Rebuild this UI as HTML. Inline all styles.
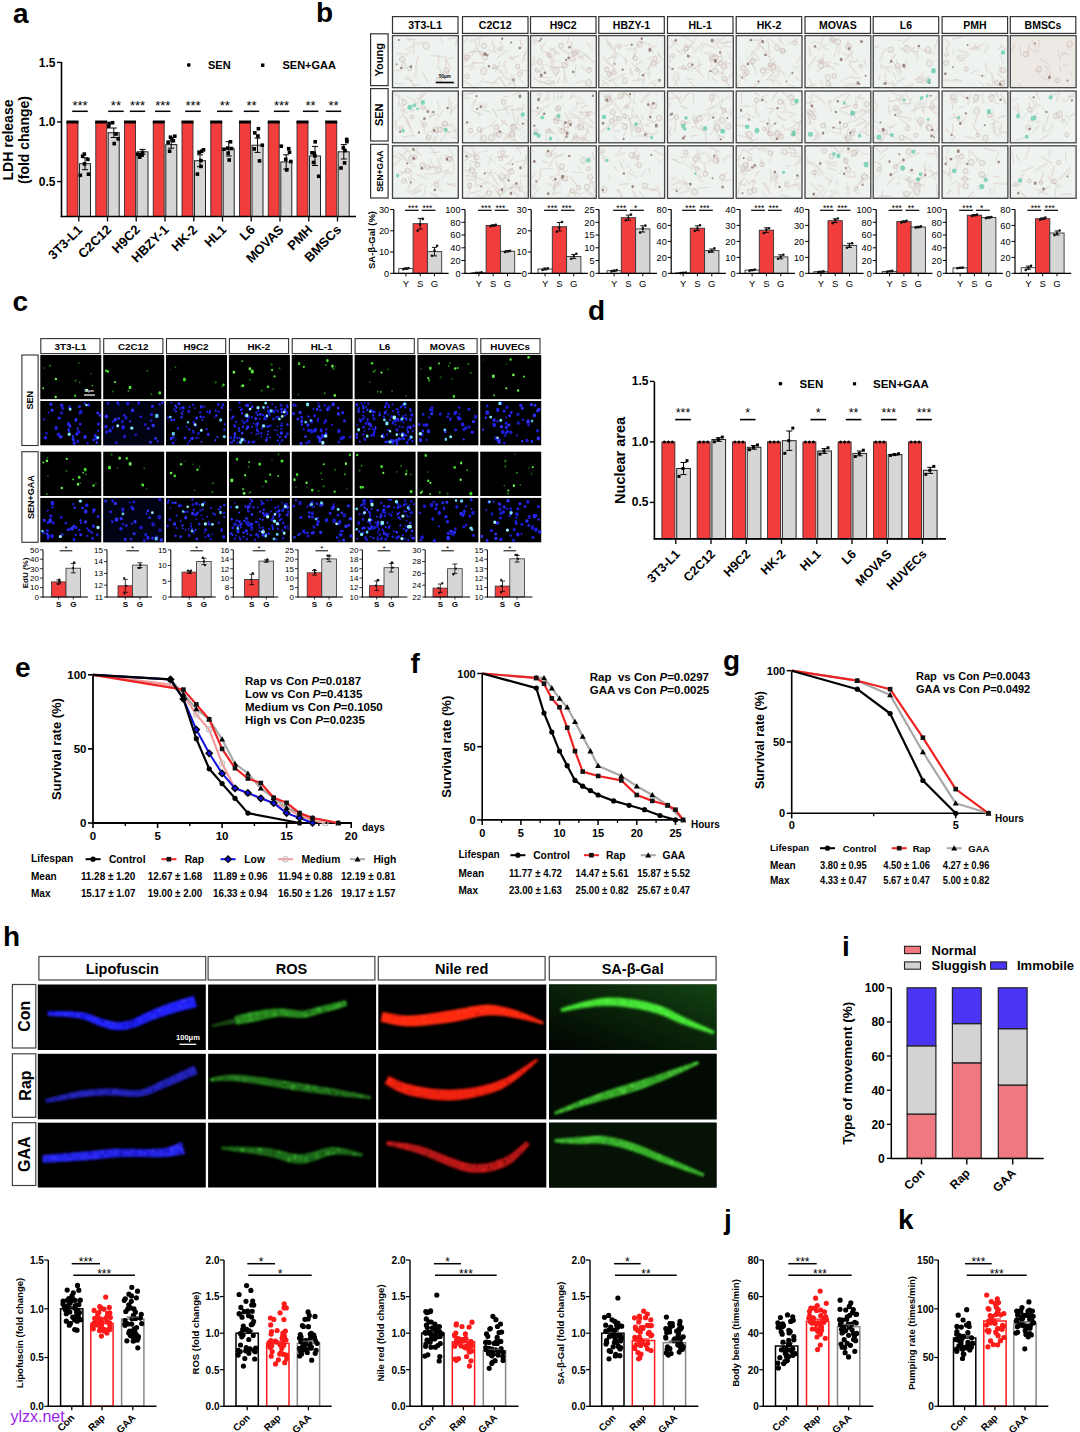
<!DOCTYPE html>
<html><head><meta charset="utf-8"><title>Figure</title>
<style>html,body{margin:0;padding:0;background:#fff;width:1080px;height:1432px;overflow:hidden}
svg{display:block}
text{font-family:"Liberation Sans", sans-serif}</style></head>
<body><svg width="1080" height="1432" viewBox="0 0 1080 1432">
<defs><linearGradient id="sagrad" x1="0" y1="1" x2="1" y2="0"><stop offset="0" stop-color="#010401"/><stop offset="0.55" stop-color="#0A240A"/><stop offset="1" stop-color="#124412"/></linearGradient><filter id="blur1" x="-20%" y="-50%" width="140%" height="200%"><feGaussianBlur stdDeviation="0.9"/></filter><filter id="blur0" x="-20%" y="-50%" width="140%" height="200%"><feGaussianBlur stdDeviation="0.5"/></filter></defs>
<rect x="0" y="0" width="1080" height="1432" fill="#fff"/>
<text x="13" y="23" font-size="28" text-anchor="start" font-weight="bold" fill="#000">a</text>
<rect x="67" y="122" width="11" height="94.5" fill="#F23D3D" stroke="#222" stroke-width="0.8"/>
<rect x="66.5" y="120.5" width="12" height="3" fill="#000"/>
<rect x="79.5" y="163.7" width="11" height="52.8" fill="#D6D6D6" stroke="#222" stroke-width="1"/>
<line x1="85" y1="157.8" x2="85" y2="169.7" stroke="#000" stroke-width="1"/>
<line x1="82" y1="157.8" x2="88" y2="157.8" stroke="#000" stroke-width="1"/>
<line x1="82" y1="169.7" x2="88" y2="169.7" stroke="#000" stroke-width="1"/>
<rect x="86.7" y="172.4" width="3.6" height="3.6" fill="#000"/>
<rect x="80.8" y="154.4" width="3.6" height="3.6" fill="#000"/>
<rect x="82.7" y="162.1" width="3.6" height="3.6" fill="#000"/>
<rect x="86.1" y="157.6" width="3.6" height="3.6" fill="#000"/>
<rect x="78.5" y="173.5" width="3.6" height="3.6" fill="#000"/>
<rect x="82.5" y="152.3" width="3.6" height="3.6" fill="#000"/>
<line x1="78.8" y1="216.5" x2="78.8" y2="221.5" stroke="#000" stroke-width="1.3"/>
<text x="83.2" y="230.5" font-size="13" text-anchor="end" font-weight="bold" fill="#000" transform="rotate(-45 83.2 230.5)">3T3-L1</text>
<line x1="72.2" y1="111.3" x2="87.8" y2="111.3" stroke="#000" stroke-width="1.5"/>
<text x="80" y="110" font-size="13" text-anchor="middle" font-weight="normal" fill="#000">***</text>
<rect x="95.8" y="122" width="11" height="94.5" fill="#F23D3D" stroke="#222" stroke-width="0.8"/>
<rect x="95.2" y="120.5" width="12" height="3" fill="#000"/>
<rect x="108.2" y="132.7" width="11" height="83.8" fill="#D6D6D6" stroke="#222" stroke-width="1"/>
<line x1="113.8" y1="128" x2="113.8" y2="137.5" stroke="#000" stroke-width="1"/>
<line x1="110.8" y1="128" x2="116.8" y2="128" stroke="#000" stroke-width="1"/>
<line x1="110.8" y1="137.5" x2="116.8" y2="137.5" stroke="#000" stroke-width="1"/>
<rect x="107" y="124.9" width="3.6" height="3.6" fill="#000"/>
<rect x="114.2" y="132.2" width="3.6" height="3.6" fill="#000"/>
<rect x="116.4" y="137.1" width="3.6" height="3.6" fill="#000"/>
<rect x="107.3" y="121.7" width="3.6" height="3.6" fill="#000"/>
<rect x="112.4" y="141.8" width="3.6" height="3.6" fill="#000"/>
<rect x="110.8" y="120.9" width="3.6" height="3.6" fill="#000"/>
<line x1="107.5" y1="216.5" x2="107.5" y2="221.5" stroke="#000" stroke-width="1.3"/>
<text x="112" y="230.5" font-size="13" text-anchor="end" font-weight="bold" fill="#000" transform="rotate(-45 112 230.5)">C2C12</text>
<line x1="108.2" y1="111.3" x2="123.7" y2="111.3" stroke="#000" stroke-width="1.5"/>
<text x="115.9" y="110" font-size="13" text-anchor="middle" font-weight="normal" fill="#000">**</text>
<rect x="124.5" y="122" width="11" height="94.5" fill="#F23D3D" stroke="#222" stroke-width="0.8"/>
<rect x="124" y="120.5" width="12" height="3" fill="#000"/>
<rect x="137" y="151.8" width="11" height="64.7" fill="#D6D6D6" stroke="#222" stroke-width="1"/>
<line x1="142.5" y1="149.4" x2="142.5" y2="154.2" stroke="#000" stroke-width="1"/>
<line x1="139.5" y1="149.4" x2="145.5" y2="149.4" stroke="#000" stroke-width="1"/>
<line x1="139.5" y1="154.2" x2="145.5" y2="154.2" stroke="#000" stroke-width="1"/>
<rect x="139.9" y="153.2" width="3.6" height="3.6" fill="#000"/>
<rect x="137.9" y="155.4" width="3.6" height="3.6" fill="#000"/>
<rect x="140.7" y="150.7" width="3.6" height="3.6" fill="#000"/>
<rect x="138" y="153.1" width="3.6" height="3.6" fill="#000"/>
<rect x="140.3" y="153.2" width="3.6" height="3.6" fill="#000"/>
<rect x="135.9" y="152.4" width="3.6" height="3.6" fill="#000"/>
<line x1="136.2" y1="216.5" x2="136.2" y2="221.5" stroke="#000" stroke-width="1.3"/>
<text x="140.8" y="230.5" font-size="13" text-anchor="end" font-weight="bold" fill="#000" transform="rotate(-45 140.8 230.5)">H9C2</text>
<line x1="129.8" y1="111.3" x2="145.2" y2="111.3" stroke="#000" stroke-width="1.5"/>
<text x="137.5" y="110" font-size="13" text-anchor="middle" font-weight="normal" fill="#000">***</text>
<rect x="153.2" y="122" width="11" height="94.5" fill="#F23D3D" stroke="#222" stroke-width="0.8"/>
<rect x="152.8" y="120.5" width="12" height="3" fill="#000"/>
<rect x="165.8" y="144.6" width="11" height="71.9" fill="#D6D6D6" stroke="#222" stroke-width="1"/>
<line x1="171.2" y1="141.1" x2="171.2" y2="148.2" stroke="#000" stroke-width="1"/>
<line x1="168.2" y1="141.1" x2="174.2" y2="141.1" stroke="#000" stroke-width="1"/>
<line x1="168.2" y1="148.2" x2="174.2" y2="148.2" stroke="#000" stroke-width="1"/>
<rect x="170" y="137.1" width="3.6" height="3.6" fill="#000"/>
<rect x="166.3" y="140.4" width="3.6" height="3.6" fill="#000"/>
<rect x="173" y="134.4" width="3.6" height="3.6" fill="#000"/>
<rect x="167.8" y="149.4" width="3.6" height="3.6" fill="#000"/>
<rect x="171.6" y="139" width="3.6" height="3.6" fill="#000"/>
<rect x="168.7" y="135.4" width="3.6" height="3.6" fill="#000"/>
<line x1="165" y1="216.5" x2="165" y2="221.5" stroke="#000" stroke-width="1.3"/>
<text x="169.5" y="230.5" font-size="13" text-anchor="end" font-weight="bold" fill="#000" transform="rotate(-45 169.5 230.5)">HBZY-1</text>
<line x1="155" y1="111.3" x2="170.5" y2="111.3" stroke="#000" stroke-width="1.5"/>
<text x="162.8" y="110" font-size="13" text-anchor="middle" font-weight="normal" fill="#000">***</text>
<rect x="182" y="122" width="11" height="94.5" fill="#F23D3D" stroke="#222" stroke-width="0.8"/>
<rect x="181.5" y="120.5" width="12" height="3" fill="#000"/>
<rect x="194.5" y="160.7" width="11" height="55.8" fill="#D6D6D6" stroke="#222" stroke-width="1"/>
<line x1="200" y1="154.8" x2="200" y2="166.7" stroke="#000" stroke-width="1"/>
<line x1="197" y1="154.8" x2="203" y2="154.8" stroke="#000" stroke-width="1"/>
<line x1="197" y1="166.7" x2="203" y2="166.7" stroke="#000" stroke-width="1"/>
<rect x="199.9" y="149.5" width="3.6" height="3.6" fill="#000"/>
<rect x="199.1" y="164.6" width="3.6" height="3.6" fill="#000"/>
<rect x="201.7" y="148" width="3.6" height="3.6" fill="#000"/>
<rect x="199.1" y="158.8" width="3.6" height="3.6" fill="#000"/>
<rect x="195.6" y="172.3" width="3.6" height="3.6" fill="#000"/>
<rect x="197.3" y="150.4" width="3.6" height="3.6" fill="#000"/>
<line x1="193.8" y1="216.5" x2="193.8" y2="221.5" stroke="#000" stroke-width="1.3"/>
<text x="198.2" y="230.5" font-size="13" text-anchor="end" font-weight="bold" fill="#000" transform="rotate(-45 198.2 230.5)">HK-2</text>
<line x1="185.2" y1="111.3" x2="200.8" y2="111.3" stroke="#000" stroke-width="1.5"/>
<text x="193" y="110" font-size="13" text-anchor="middle" font-weight="normal" fill="#000">***</text>
<rect x="210.8" y="122" width="11" height="94.5" fill="#F23D3D" stroke="#222" stroke-width="0.8"/>
<rect x="210.2" y="120.5" width="12" height="3" fill="#000"/>
<rect x="223.2" y="148.8" width="11" height="67.7" fill="#D6D6D6" stroke="#222" stroke-width="1"/>
<line x1="228.8" y1="141.7" x2="228.8" y2="156" stroke="#000" stroke-width="1"/>
<line x1="225.8" y1="141.7" x2="231.8" y2="141.7" stroke="#000" stroke-width="1"/>
<line x1="225.8" y1="156" x2="231.8" y2="156" stroke="#000" stroke-width="1"/>
<rect x="227.4" y="158.2" width="3.6" height="3.6" fill="#000"/>
<rect x="228.7" y="140" width="3.6" height="3.6" fill="#000"/>
<rect x="226.3" y="151.3" width="3.6" height="3.6" fill="#000"/>
<rect x="229.7" y="146.7" width="3.6" height="3.6" fill="#000"/>
<rect x="225.9" y="146.3" width="3.6" height="3.6" fill="#000"/>
<rect x="222.2" y="147.4" width="3.6" height="3.6" fill="#000"/>
<line x1="222.5" y1="216.5" x2="222.5" y2="221.5" stroke="#000" stroke-width="1.3"/>
<text x="227" y="230.5" font-size="13" text-anchor="end" font-weight="bold" fill="#000" transform="rotate(-45 227 230.5)">HL1</text>
<line x1="217" y1="111.3" x2="232.5" y2="111.3" stroke="#000" stroke-width="1.5"/>
<text x="224.8" y="110" font-size="13" text-anchor="middle" font-weight="normal" fill="#000">**</text>
<rect x="239.5" y="122" width="11" height="94.5" fill="#F23D3D" stroke="#222" stroke-width="0.8"/>
<rect x="239" y="120.5" width="12" height="3" fill="#000"/>
<rect x="252" y="145.2" width="11" height="71.3" fill="#D6D6D6" stroke="#222" stroke-width="1"/>
<line x1="257.5" y1="138.1" x2="257.5" y2="152.4" stroke="#000" stroke-width="1"/>
<line x1="254.5" y1="138.1" x2="260.5" y2="138.1" stroke="#000" stroke-width="1"/>
<line x1="254.5" y1="152.4" x2="260.5" y2="152.4" stroke="#000" stroke-width="1"/>
<rect x="257.7" y="159.1" width="3.6" height="3.6" fill="#000"/>
<rect x="256.6" y="126.9" width="3.6" height="3.6" fill="#000"/>
<rect x="252.4" y="147.1" width="3.6" height="3.6" fill="#000"/>
<rect x="260.5" y="143.4" width="3.6" height="3.6" fill="#000"/>
<rect x="256.1" y="134.2" width="3.6" height="3.6" fill="#000"/>
<rect x="253" y="131.1" width="3.6" height="3.6" fill="#000"/>
<line x1="251.2" y1="216.5" x2="251.2" y2="221.5" stroke="#000" stroke-width="1.3"/>
<text x="255.8" y="230.5" font-size="13" text-anchor="end" font-weight="bold" fill="#000" transform="rotate(-45 255.8 230.5)">L6</text>
<line x1="243.8" y1="111.3" x2="259.2" y2="111.3" stroke="#000" stroke-width="1.5"/>
<text x="251.5" y="110" font-size="13" text-anchor="middle" font-weight="normal" fill="#000">**</text>
<rect x="268.2" y="122" width="11" height="94.5" fill="#F23D3D" stroke="#222" stroke-width="0.8"/>
<rect x="267.8" y="120.5" width="12" height="3" fill="#000"/>
<rect x="280.8" y="161.9" width="11" height="54.6" fill="#D6D6D6" stroke="#222" stroke-width="1"/>
<line x1="286.2" y1="154.8" x2="286.2" y2="169.1" stroke="#000" stroke-width="1"/>
<line x1="283.2" y1="154.8" x2="289.2" y2="154.8" stroke="#000" stroke-width="1"/>
<line x1="283.2" y1="169.1" x2="289.2" y2="169.1" stroke="#000" stroke-width="1"/>
<rect x="289" y="159.7" width="3.6" height="3.6" fill="#000"/>
<rect x="284" y="157.5" width="3.6" height="3.6" fill="#000"/>
<rect x="284.9" y="168.1" width="3.6" height="3.6" fill="#000"/>
<rect x="279.5" y="144.4" width="3.6" height="3.6" fill="#000"/>
<rect x="287.7" y="150.4" width="3.6" height="3.6" fill="#000"/>
<rect x="286.9" y="146.9" width="3.6" height="3.6" fill="#000"/>
<line x1="280" y1="216.5" x2="280" y2="221.5" stroke="#000" stroke-width="1.3"/>
<text x="284.5" y="230.5" font-size="13" text-anchor="end" font-weight="bold" fill="#000" transform="rotate(-45 284.5 230.5)">MOVAS</text>
<line x1="273.9" y1="111.3" x2="289.4" y2="111.3" stroke="#000" stroke-width="1.5"/>
<text x="281.6" y="110" font-size="13" text-anchor="middle" font-weight="normal" fill="#000">***</text>
<rect x="297" y="122" width="11" height="94.5" fill="#F23D3D" stroke="#222" stroke-width="0.8"/>
<rect x="296.5" y="120.5" width="12" height="3" fill="#000"/>
<rect x="309.5" y="156" width="11" height="60.5" fill="#D6D6D6" stroke="#222" stroke-width="1"/>
<line x1="315" y1="146.4" x2="315" y2="165.5" stroke="#000" stroke-width="1"/>
<line x1="312" y1="146.4" x2="318" y2="146.4" stroke="#000" stroke-width="1"/>
<line x1="312" y1="165.5" x2="318" y2="165.5" stroke="#000" stroke-width="1"/>
<rect x="313.4" y="140" width="3.6" height="3.6" fill="#000"/>
<rect x="312.5" y="151.4" width="3.6" height="3.6" fill="#000"/>
<rect x="316.9" y="174.5" width="3.6" height="3.6" fill="#000"/>
<rect x="310.2" y="151" width="3.6" height="3.6" fill="#000"/>
<rect x="313" y="154" width="3.6" height="3.6" fill="#000"/>
<rect x="311.7" y="160.7" width="3.6" height="3.6" fill="#000"/>
<line x1="308.8" y1="216.5" x2="308.8" y2="221.5" stroke="#000" stroke-width="1.3"/>
<text x="313.2" y="230.5" font-size="13" text-anchor="end" font-weight="bold" fill="#000" transform="rotate(-45 313.2 230.5)">PMH</text>
<line x1="302.9" y1="111.3" x2="318.4" y2="111.3" stroke="#000" stroke-width="1.5"/>
<text x="310.6" y="110" font-size="13" text-anchor="middle" font-weight="normal" fill="#000">**</text>
<rect x="325.8" y="122" width="11" height="94.5" fill="#F23D3D" stroke="#222" stroke-width="0.8"/>
<rect x="325.2" y="120.5" width="12" height="3" fill="#000"/>
<rect x="338.2" y="151.8" width="11" height="64.7" fill="#D6D6D6" stroke="#222" stroke-width="1"/>
<line x1="343.8" y1="144.6" x2="343.8" y2="159" stroke="#000" stroke-width="1"/>
<line x1="340.8" y1="144.6" x2="346.8" y2="144.6" stroke="#000" stroke-width="1"/>
<line x1="340.8" y1="159" x2="346.8" y2="159" stroke="#000" stroke-width="1"/>
<rect x="343.2" y="148.7" width="3.6" height="3.6" fill="#000"/>
<rect x="341.5" y="146.1" width="3.6" height="3.6" fill="#000"/>
<rect x="339.2" y="166.2" width="3.6" height="3.6" fill="#000"/>
<rect x="342.8" y="161.1" width="3.6" height="3.6" fill="#000"/>
<rect x="344.9" y="137.6" width="3.6" height="3.6" fill="#000"/>
<rect x="345.1" y="139.8" width="3.6" height="3.6" fill="#000"/>
<line x1="337.5" y1="216.5" x2="337.5" y2="221.5" stroke="#000" stroke-width="1.3"/>
<text x="342" y="230.5" font-size="13" text-anchor="end" font-weight="bold" fill="#000" transform="rotate(-45 342 230.5)">BMSCs</text>
<line x1="325.8" y1="111.3" x2="341.2" y2="111.3" stroke="#000" stroke-width="1.5"/>
<text x="333.5" y="110" font-size="13" text-anchor="middle" font-weight="normal" fill="#000">**</text>
<line x1="61.5" y1="62" x2="61.5" y2="217.2" stroke="#000" stroke-width="1.6"/>
<line x1="60.7" y1="216.5" x2="356" y2="216.5" stroke="#000" stroke-width="1.6"/>
<line x1="57" y1="62.4" x2="61.5" y2="62.4" stroke="#000" stroke-width="1.4"/>
<text x="55.5" y="66.6" font-size="12" text-anchor="end" font-weight="bold" fill="#000">1.5</text>
<line x1="57" y1="122" x2="61.5" y2="122" stroke="#000" stroke-width="1.4"/>
<text x="55.5" y="126.2" font-size="12" text-anchor="end" font-weight="bold" fill="#000">1.0</text>
<line x1="57" y1="181.6" x2="61.5" y2="181.6" stroke="#000" stroke-width="1.4"/>
<text x="55.5" y="185.8" font-size="12" text-anchor="end" font-weight="bold" fill="#000">0.5</text>
<text x="12.5" y="140" font-size="14" text-anchor="middle" font-weight="bold" fill="#000" transform="rotate(-90 12.5 140)">LDH release</text>
<text x="28.5" y="140" font-size="14" text-anchor="middle" font-weight="bold" fill="#000" transform="rotate(-90 28.5 140)">(fold change)</text>
<circle cx="188.8" cy="65" r="1.9" fill="#000"/>
<text x="208" y="69" font-size="11" text-anchor="start" font-weight="bold" fill="#000">SEN</text>
<rect x="261" y="63.5" width="3.4" height="3.4" fill="#000"/>
<text x="282.5" y="69" font-size="11" text-anchor="start" font-weight="bold" fill="#000">SEN+GAA</text>
<text x="316" y="22" font-size="28" text-anchor="start" font-weight="bold" fill="#000">b</text>
<rect x="392.5" y="16.6" width="65.5" height="16.8" fill="#fff" stroke="#333" stroke-width="1.2"/>
<text x="425.2" y="29.4" font-size="10.5" text-anchor="middle" font-weight="bold" fill="#000">3T3-L1</text>
<rect x="392.5" y="35.6" width="65.8" height="52.1" fill="#EEF3F0"/>
<g filter="url(#blur0)">
<path d="M451.2 82.8L455.9 83.6M453.2 57L448 59M448 73.5L450 77.1M440.1 37.5L442.8 43.2M394.4 83.1L404.9 83.9M430.8 55.3L443.6 57" stroke="#BFB0AA" stroke-width="0.6" opacity="0.6" stroke-linecap="round" fill="none"/>
<path d="M407 39L415.2 39.7M417.9 55.9L415.5 68.7M419.1 84.5L413.7 85.1M439.1 55.6L438.3 64M422.8 72.2L428.1 83M446 59.9L445.7 69.4M404.4 78.3L412.6 81.1" stroke="#D0B4AE" stroke-width="1.3" opacity="0.4" stroke-linecap="round" fill="none"/>
<path d="M437.3 65.9L442.7 73.7M401.6 70.4L394 70.4M445.2 56.4L450.1 67.8M407.7 37.1L410.5 41M448.9 71.4L438.5 74.5M416.9 68.5L415.4 76.5M409.8 51L406.6 55.4M407.5 76.2L414.6 86.2M414 41.4L413.5 53.8M456.6 40.5L455.6 44.9M413.3 46.3L406 49.2M422.8 42.7L412.4 44.8M456.8 37.1L449.8 38.7M397.5 53.4L405.5 54.2" stroke="#D8C0BA" stroke-width="2.2" opacity="0.3" stroke-linecap="round" fill="none"/>
<path d="M436.6 79.4a2.7 2.7 0 1 0 5.4 0a2.7 2.7 0 1 0 -5.4 0M444 70.7a2.4 2.4 0 1 0 4.7 0a2.4 2.4 0 1 0 -4.7 0M407.4 68.7a2.2 2.2 0 1 0 4.4 0a2.2 2.2 0 1 0 -4.4 0M399.5 59.3a2.8 2.8 0 1 0 5.7 0a2.8 2.8 0 1 0 -5.7 0M401.6 65.4a2.3 2.3 0 1 0 4.5 0a2.3 2.3 0 1 0 -4.5 0M423.3 45.9a3 3 0 1 0 5.9 0a3 3 0 1 0 -5.9 0" stroke="#B08C84" stroke-width="0.7" opacity="0.5" fill="#D8C2BC" fill-opacity="0.4"/>
<path d="M409.8 66.5a1.2 1.2 0 1 0 2.3 0a1.2 1.2 0 1 0 -2.3 0M395.6 64.3a1 1 0 1 0 2 0a1 1 0 1 0 -2 0M397.9 40.1a1 1 0 1 0 2 0a1 1 0 1 0 -2 0M400 67.9a1.2 1.2 0 1 0 2.4 0a1.2 1.2 0 1 0 -2.4 0" fill="#7E5A52" opacity="0.7"/>
</g>
<rect x="392.5" y="35.6" width="65.8" height="52.1" fill="none" stroke="#444" stroke-width="1.3"/>
<rect x="392.5" y="91" width="65.8" height="51.8" fill="#EEF3F0"/>
<g filter="url(#blur0)">
<path d="M437.3 101L439.4 109.5M400.1 109.3L407.6 113.5M406.8 96.1L411.9 99.4M432.5 133.4L428.4 140.6M412.9 132.4L414.2 137.2M438.4 113.5L429.4 116.8M438 131.4L435 141.3M399.7 95.8L398.1 107M446.9 131.8L440.8 141.3M402.4 115.2L398.5 120.2M422.2 101.1L420.5 109.1" stroke="#BFB0AA" stroke-width="0.6" opacity="0.6" stroke-linecap="round" fill="none"/>
<path d="M456.8 137.6L452.2 137.7M395.4 120.6L396.6 129.4M412.9 135.7L402.4 136.9M427.7 133.9L425.5 140.2M442.4 124.9L450.5 125.3M414.4 110.4L409.8 111.3M405 116.5L407.7 124.2M416.7 97.9L421.1 99.7M425.6 92.5L421.6 97.7M456.8 130.2L447.9 132.7M413.2 99.1L416.5 103.4M443.1 110.9L436 119.7M449.1 97.5L448.9 105.8M408.8 123.2L411.5 132.7M451.5 101.9L450.6 114M424.7 107.4L434.7 115.4" stroke="#D0B4AE" stroke-width="1.3" opacity="0.4" stroke-linecap="round" fill="none"/>
<path d="M394.9 93.2L403.2 100.5M422.5 92.5L419.1 99.7M435.3 137.1L432.9 140.6M403 105L403.5 116.8M420.2 96.2L417.6 104.7M398.7 103.8L406.2 110.5M421.1 120.4L424.9 132.8M456.8 105.3L450.5 112.4M406.9 117.9L409.9 127.5M428.4 131.7L440.9 132.3M440.6 126.5L449.2 132.8M431.1 114.5L429.7 118.3M451.8 123.9L456.8 134.8" stroke="#D8C0BA" stroke-width="2.2" opacity="0.3" stroke-linecap="round" fill="none"/>
<path d="M442.2 123.8a2.7 2.7 0 1 0 5.4 0a2.7 2.7 0 1 0 -5.4 0M422.3 124.6a2.2 2.2 0 1 0 4.4 0a2.2 2.2 0 1 0 -4.4 0M410.1 117a1.8 1.8 0 1 0 3.7 0a1.8 1.8 0 1 0 -3.7 0M399.1 128a2 2 0 1 0 4 0a2 2 0 1 0 -4 0M437.6 129.4a2.3 2.3 0 1 0 4.6 0a2.3 2.3 0 1 0 -4.6 0M432.7 129.5a2.8 2.8 0 1 0 5.7 0a2.8 2.8 0 1 0 -5.7 0M402 102.1a2.3 2.3 0 1 0 4.5 0a2.3 2.3 0 1 0 -4.5 0M421.5 107.9a1.8 1.8 0 1 0 3.6 0a1.8 1.8 0 1 0 -3.6 0M426.5 137.4a2.2 2.2 0 1 0 4.5 0a2.2 2.2 0 1 0 -4.5 0" stroke="#B08C84" stroke-width="0.7" opacity="0.5" fill="#D8C2BC" fill-opacity="0.4"/>
<path d="M426.5 111.5a1.2 1.2 0 1 0 2.3 0a1.2 1.2 0 1 0 -2.3 0M446.3 108.1a1.3 1.3 0 1 0 2.6 0a1.3 1.3 0 1 0 -2.6 0M423 118.7a1.4 1.4 0 1 0 2.9 0a1.4 1.4 0 1 0 -2.9 0M399 131.8a1.1 1.1 0 1 0 2.2 0a1.1 1.1 0 1 0 -2.2 0M432.9 130.4a1.3 1.3 0 1 0 2.6 0a1.3 1.3 0 1 0 -2.6 0M418 132.5a1 1 0 1 0 1.9 0a1 1 0 1 0 -1.9 0M432.2 111.9a1.2 1.2 0 1 0 2.4 0a1.2 1.2 0 1 0 -2.4 0" fill="#7E5A52" opacity="0.7"/>
<path d="M443.6 129.9a2.1 2.1 0 1 0 4.2 0a2.1 2.1 0 1 0 -4.2 0M412.4 105.2a1.9 1.9 0 1 0 3.8 0a1.9 1.9 0 1 0 -3.8 0M407.4 107.2a2.5 2.5 0 1 0 5.1 0a2.5 2.5 0 1 0 -5.1 0M401.2 130.9a1.8 1.8 0 1 0 3.6 0a1.8 1.8 0 1 0 -3.6 0M416.2 108.9a1.4 1.4 0 1 0 2.8 0a1.4 1.4 0 1 0 -2.8 0M421.1 102.3a1.9 1.9 0 1 0 3.7 0a1.9 1.9 0 1 0 -3.7 0" fill="#3EC29A" opacity="0.6"/>
</g>
<rect x="392.5" y="91" width="65.8" height="51.8" fill="none" stroke="#444" stroke-width="1.3"/>
<rect x="392.5" y="145.8" width="65.8" height="52.5" fill="#EEF3F0"/>
<g filter="url(#blur0)">
<path d="M404.8 177.4L407.6 184M453.2 159L454.1 171M416.4 165.9L411.5 166.4M430.1 159.1L434.4 169.1M425.4 185.3L424.1 194.8M422.8 165.6L422.4 170M447.8 147.3L454.3 156.1M440.8 151.8L431 152.7M445 170.3L450.1 171.4M400.2 171.6L405.9 172.7M448.5 168.2L442.1 178.2M408.6 150.3L400.5 155.5M404 155.3L406.5 159.9M440.2 156L441.7 160.1M435.6 180.5L430.7 187.1" stroke="#BFB0AA" stroke-width="0.6" opacity="0.6" stroke-linecap="round" fill="none"/>
<path d="M402.6 158.2L413.1 163.9M431.5 147.9L436.2 154.8M421.8 190.4L411.6 194.3M409 177.2L415.1 180.3M397.9 152.8L402.9 156.6M443.9 155.6L451.7 157.2M436 166.9L428.5 167M408.5 178.9L411.8 181.6M417.9 147.3L417.1 151M422.9 184L415.3 189M411.2 170.1L411.4 176.6M438 187.9L442 191.3M446.3 183.3L456 186.3M430.4 192.9L436.5 196.1" stroke="#D0B4AE" stroke-width="1.3" opacity="0.4" stroke-linecap="round" fill="none"/>
<path d="M416.4 190.2L408.7 192.2M410.5 183.5L407.4 190.5M419.8 189.4L411.5 191.4M438.1 158.4L441.4 168.3M455.6 184.1L449 184.6M399 160.9L394 165.8M412.5 149.2L421.1 155M405.8 171.5L399.6 174.8M437.3 173.6L424.4 174.2M416.7 174.2L428.1 178.7M404.7 148.1L410.5 152.7M438.8 166L430.3 167.8M439 179.8L436.9 183.6M394 155.7L401.4 158.9M441.1 171.7L452.9 174.2" stroke="#D8C0BA" stroke-width="2.2" opacity="0.3" stroke-linecap="round" fill="none"/>
<path d="M435.6 170.1a2.6 2.6 0 1 0 5.2 0a2.6 2.6 0 1 0 -5.2 0M401.4 181.1a2.1 2.1 0 1 0 4.3 0a2.1 2.1 0 1 0 -4.3 0M446.9 159.3a2.2 2.2 0 1 0 4.4 0a2.2 2.2 0 1 0 -4.4 0M425.2 167.3a2.4 2.4 0 1 0 4.9 0a2.4 2.4 0 1 0 -4.9 0M447.2 158.8a2.7 2.7 0 1 0 5.5 0a2.7 2.7 0 1 0 -5.5 0M434.2 184.8a2.3 2.3 0 1 0 4.7 0a2.3 2.3 0 1 0 -4.7 0M420.4 165.2a2.4 2.4 0 1 0 4.7 0a2.4 2.4 0 1 0 -4.7 0M408.8 158.3a2.4 2.4 0 1 0 4.7 0a2.4 2.4 0 1 0 -4.7 0M405.1 170.7a2.5 2.5 0 1 0 5 0a2.5 2.5 0 1 0 -5 0M411.9 157.4a2.5 2.5 0 1 0 5.1 0a2.5 2.5 0 1 0 -5.1 0" stroke="#B08C84" stroke-width="0.7" opacity="0.5" fill="#D8C2BC" fill-opacity="0.4"/>
<path d="M445.7 159.1a1.3 1.3 0 1 0 2.5 0a1.3 1.3 0 1 0 -2.5 0M433.6 189.9a1.3 1.3 0 1 0 2.6 0a1.3 1.3 0 1 0 -2.6 0M412.5 158.4a1.4 1.4 0 1 0 2.8 0a1.4 1.4 0 1 0 -2.8 0M412 149.4a1.4 1.4 0 1 0 2.8 0a1.4 1.4 0 1 0 -2.8 0M406.2 163.4a1.1 1.1 0 1 0 2.2 0a1.1 1.1 0 1 0 -2.2 0M409.7 182.5a1.1 1.1 0 1 0 2.2 0a1.1 1.1 0 1 0 -2.2 0M420.4 168.3a1.4 1.4 0 1 0 2.8 0a1.4 1.4 0 1 0 -2.8 0" fill="#7E5A52" opacity="0.7"/>
<path d="M396.1 175.6a1.5 1.5 0 1 0 2.9 0a1.5 1.5 0 1 0 -2.9 0" fill="#3EC29A" opacity="0.6"/>
</g>
<rect x="392.5" y="145.8" width="65.8" height="52.5" fill="none" stroke="#444" stroke-width="1.3"/>
<rect x="462.5" y="16.6" width="65.5" height="16.8" fill="#fff" stroke="#333" stroke-width="1.2"/>
<text x="495.2" y="29.4" font-size="10.5" text-anchor="middle" font-weight="bold" fill="#000">C2C12</text>
<rect x="462.5" y="35.6" width="65.8" height="52.1" fill="#EEF3F0"/>
<g filter="url(#blur0)">
<path d="M488.1 50L496.2 52.1M480 51.3L467.7 52.7M483.7 78.7L476.1 86.2M524.2 52.7L524.8 60.1M502.4 69.3L498.4 73.7M467.6 37.1L465 42.2M500.5 61.6L495 72.8M491 52.8L481.9 55.1M514.4 74.3L514.1 86.2M511.4 74.8L515 86.2M518.7 78.4L525.2 84.6M515 80.9L506.8 86M477.9 50.7L470.8 52.2M510.7 78.8L509.7 84.2" stroke="#BFB0AA" stroke-width="0.6" opacity="0.6" stroke-linecap="round" fill="none"/>
<path d="M500.3 77.8L505.1 86.1M517.8 69.2L526.8 70.9M477.3 47.4L480.3 54M507.1 50.6L497.2 58.1M484.3 62.8L472 63M520.1 39.7L522 47.7M464 80.6L472.5 86.2M505.2 75.5L497.9 78.7M474.7 40.2L477.4 49.5M492.4 41.3L494.7 52M484.8 81.9L496.9 82.9M495.9 67L503.4 74.3M499.2 77.3L492.3 84.3M518.8 55.9L510 58.4" stroke="#D0B4AE" stroke-width="1.3" opacity="0.4" stroke-linecap="round" fill="none"/>
<path d="M472.9 64.7L474.7 68.9M495.1 47.5L498.7 50.3M479.8 37.1L478.9 46.2M505.5 61.4L502.8 65.8M475.2 48.9L471.2 56.2M468.7 55.2L465.8 61.7M504.4 78L513 80.1M510 56.3L514.1 60.1M473 65.5L464 66.7M481.5 37.1L469.9 41.1M464.9 53.8L464.9 60.4M500.3 41.9L502.2 45.6M499.7 66.5L493.8 68.2M473.3 62.6L470.2 70.1M526.2 51.3L522.3 61.5M504.4 64.8L506.8 72.9" stroke="#D8C0BA" stroke-width="2.2" opacity="0.3" stroke-linecap="round" fill="none"/>
<path d="M480.8 71.1a3 3 0 1 0 5.9 0a3 3 0 1 0 -5.9 0M480 53.4a1.8 1.8 0 1 0 3.6 0a1.8 1.8 0 1 0 -3.6 0M498.8 48.7a1.9 1.9 0 1 0 3.8 0a1.9 1.9 0 1 0 -3.8 0M464.9 76.5a2.2 2.2 0 1 0 4.4 0a2.2 2.2 0 1 0 -4.4 0M482.1 57.5a2.7 2.7 0 1 0 5.4 0a2.7 2.7 0 1 0 -5.4 0M517.5 74.1a2.4 2.4 0 1 0 4.9 0a2.4 2.4 0 1 0 -4.9 0M492.2 66.9a2.1 2.1 0 1 0 4.2 0a2.1 2.1 0 1 0 -4.2 0M515.4 66.2a2.2 2.2 0 1 0 4.4 0a2.2 2.2 0 1 0 -4.4 0M481.4 45.8a2.6 2.6 0 1 0 5.3 0a2.6 2.6 0 1 0 -5.3 0M464.5 57.5a2.6 2.6 0 1 0 5.2 0a2.6 2.6 0 1 0 -5.2 0" stroke="#B08C84" stroke-width="0.7" opacity="0.5" fill="#D8C2BC" fill-opacity="0.4"/>
<path d="M501 38.8a1.2 1.2 0 1 0 2.4 0a1.2 1.2 0 1 0 -2.4 0M518.4 48a1.3 1.3 0 1 0 2.7 0a1.3 1.3 0 1 0 -2.7 0M483.7 54a1.4 1.4 0 1 0 2.7 0a1.4 1.4 0 1 0 -2.7 0M487.7 66.2a1.2 1.2 0 1 0 2.4 0a1.2 1.2 0 1 0 -2.4 0M510.1 42.6a1 1 0 1 0 2.1 0a1 1 0 1 0 -2.1 0M486.3 55.3a1.1 1.1 0 1 0 2.2 0a1.1 1.1 0 1 0 -2.2 0M512.2 79.8a1.2 1.2 0 1 0 2.4 0a1.2 1.2 0 1 0 -2.4 0" fill="#7E5A52" opacity="0.7"/>
</g>
<rect x="462.5" y="35.6" width="65.8" height="52.1" fill="none" stroke="#444" stroke-width="1.3"/>
<rect x="462.5" y="91" width="65.8" height="51.8" fill="#EEF3F0"/>
<g filter="url(#blur0)">
<path d="M474 101.4L471.6 104.6M483.1 110.2L491 112.2M513.3 128.8L515.2 141.3M524 130.7L519.3 137.3M498.9 130.7L509.8 136.5M507.7 109.1L497.2 110.5M486.2 126.9L481.2 131.9M470.9 122.6L465.9 123.2M515 124.8L510 126.1M497.2 127.9L502.5 132.5M514.7 121.9L522.5 127.9M516.1 116.1L526.8 120.3M505.5 105.8L508.1 116.3M508.7 96L503.6 96.9M478.5 112.4L479.9 117.1M485.8 102.4L486.9 106.6M526.2 136.2L521.4 139M526.8 121.1L522.9 126.6M493.1 124.5L488.1 127.4M481.3 130.8L471.5 137.1" stroke="#BFB0AA" stroke-width="0.6" opacity="0.6" stroke-linecap="round" fill="none"/>
<path d="M501.3 120.3L507.8 125.4M517.9 118.4L517.7 123.8M473.1 111.1L481.7 114.7M492.8 108.4L497.1 117.4M522.4 108.6L517.6 111.1M520.8 107.8L511.2 110.1M464.9 98L470 98.3M523.8 103.6L522.2 112M507.1 137.2L516.7 141.3M474.8 92.5L464 94.7" stroke="#D0B4AE" stroke-width="1.3" opacity="0.4" stroke-linecap="round" fill="none"/>
<path d="M514.2 123.9L509.6 132.9M512 135L503.6 139.5M494.9 121.2L490.5 125.9M519.3 92.5L513.1 94.8M481.7 128.5L480.3 140.6M512.5 105.8L503.9 108.1M475.8 99.4L472.2 108.4M483.6 103.9L485.4 108.2M510.8 132.3L507.1 136M505.2 120.4L502.1 124.5M511.8 124.8L520.3 130.1M479 103.5L483.2 107.9M512.2 110.1L514.5 120M513.2 133.6L505.3 137.7" stroke="#D8C0BA" stroke-width="2.2" opacity="0.3" stroke-linecap="round" fill="none"/>
<path d="M501.4 101.9a2.1 2.1 0 1 0 4.1 0a2.1 2.1 0 1 0 -4.1 0M510.6 127.2a3 3 0 1 0 6 0a3 3 0 1 0 -6 0M488.7 137.6a2.9 2.9 0 1 0 5.7 0a2.9 2.9 0 1 0 -5.7 0M493.8 134.1a2 2 0 1 0 4 0a2 2 0 1 0 -4 0M468.6 130.7a2 2 0 1 0 3.9 0a2 2 0 1 0 -3.9 0M493.7 127.3a2.6 2.6 0 1 0 5.2 0a2.6 2.6 0 1 0 -5.2 0M477.4 129.5a1.9 1.9 0 1 0 3.7 0a1.9 1.9 0 1 0 -3.7 0M496.5 134.3a2.5 2.5 0 1 0 4.9 0a2.5 2.5 0 1 0 -4.9 0M481.3 138.7a2.7 2.7 0 1 0 5.3 0a2.7 2.7 0 1 0 -5.3 0M509.3 134.2a2.9 2.9 0 1 0 5.8 0a2.9 2.9 0 1 0 -5.8 0" stroke="#B08C84" stroke-width="0.7" opacity="0.5" fill="#D8C2BC" fill-opacity="0.4"/>
<path d="M498.6 131.8a1.2 1.2 0 1 0 2.4 0a1.2 1.2 0 1 0 -2.4 0M479.7 106.7a1.1 1.1 0 1 0 2.1 0a1.1 1.1 0 1 0 -2.1 0M465.9 122.4a1.1 1.1 0 1 0 2.3 0a1.1 1.1 0 1 0 -2.3 0M518.6 96.3a1.4 1.4 0 1 0 2.7 0a1.4 1.4 0 1 0 -2.7 0M476.1 108.8a1.1 1.1 0 1 0 2.2 0a1.1 1.1 0 1 0 -2.2 0M521.6 123.6a1.2 1.2 0 1 0 2.4 0a1.2 1.2 0 1 0 -2.4 0M475.4 96.2a1.1 1.1 0 1 0 2.2 0a1.1 1.1 0 1 0 -2.2 0" fill="#7E5A52" opacity="0.7"/>
<path d="M520.6 114.5a2.2 2.2 0 1 0 4.4 0a2.2 2.2 0 1 0 -4.4 0" fill="#3EC29A" opacity="0.6"/>
</g>
<rect x="462.5" y="91" width="65.8" height="51.8" fill="none" stroke="#444" stroke-width="1.3"/>
<rect x="462.5" y="145.8" width="65.8" height="52.5" fill="#EEF3F0"/>
<g filter="url(#blur0)">
<path d="M516.8 147.3L521 153.4M470.7 193.5L467.4 196.5M509.1 162.7L505 164.9M513.5 184.9L504.5 192.9M469.5 160.3L478.6 163.9M500.7 156.8L506.7 157M465.2 175.4L476.4 177M508.4 155.7L504.6 156.9M479.6 152.3L474.7 156.1M483.8 179.1L489.7 183.7M487.6 155.7L495.4 163.9M506.7 187.9L512.6 188M515.4 191.2L511.2 195.2M484.8 172.3L496.6 173.2M480.7 190.5L469.6 193.4M525.9 159.8L514.1 162.9M488.1 150.2L481.9 152.4M474.6 193.6L481.5 196.8M517.2 182.3L520 191.7M514.5 185.3L523.3 190.4M503.3 147.3L497.6 153.7M470.6 163.1L468.7 174.6M492.5 154.7L488.1 164.7" stroke="#BFB0AA" stroke-width="0.6" opacity="0.6" stroke-linecap="round" fill="none"/>
<path d="M475.6 177.4L476.1 185.1M520.6 180.4L520.1 184.7M470.7 182.7L468.7 192.4M495.2 189.5L500.7 196.8M488.9 188.5L483.9 196.8M502 166.7L507.6 170.9M473.5 151.6L476.3 162.8M526.8 155.6L523.6 166.5M491.5 174.8L497.6 184.4M516 186.8L509.6 187.5M513.2 158.2L508.8 164.2M473.4 154.6L464 161M512.4 168.3L509.3 171.1M491.7 169.5L487.7 177.3" stroke="#D0B4AE" stroke-width="1.3" opacity="0.4" stroke-linecap="round" fill="none"/>
<path d="M520.7 175.7L526.8 176.2M504.3 178.4L505.3 190.8M517.2 189.8L526.7 193M497.3 175.1L503.8 183.1M524.8 193.5L524.8 196.8M522.2 186.8L516.5 187.6M475.2 176.4L482.6 179.7M471.8 147.3L474.9 153.1M464 151.7L470.8 154.8M514.8 184.7L509.8 189.1M508.2 155.8L496 157M475 179.3L466.8 179.7M522.6 147.3L516.9 148.9M473.3 169.1L464 171M488.3 181.9L476.3 186.5M492.1 185.3L503.5 191.4M511.9 190.7L518.4 195.9" stroke="#D8C0BA" stroke-width="2.2" opacity="0.3" stroke-linecap="round" fill="none"/>
<path d="M469.4 170.3a2.8 2.8 0 1 0 5.6 0a2.8 2.8 0 1 0 -5.6 0M473.8 157.5a2.5 2.5 0 1 0 5.1 0a2.5 2.5 0 1 0 -5.1 0M472.9 174.1a1.9 1.9 0 1 0 3.9 0a1.9 1.9 0 1 0 -3.9 0M474.6 164.7a2.7 2.7 0 1 0 5.5 0a2.7 2.7 0 1 0 -5.5 0M499.3 176.9a2.6 2.6 0 1 0 5.1 0a2.6 2.6 0 1 0 -5.1 0M486.9 193.2a2.5 2.5 0 1 0 5 0a2.5 2.5 0 1 0 -5 0M500.7 152.8a2.1 2.1 0 1 0 4.2 0a2.1 2.1 0 1 0 -4.2 0M497.7 192.3a2.6 2.6 0 1 0 5.3 0a2.6 2.6 0 1 0 -5.3 0M467.6 185.7a2.1 2.1 0 1 0 4.1 0a2.1 2.1 0 1 0 -4.1 0M499 158.3a1.9 1.9 0 1 0 3.7 0a1.9 1.9 0 1 0 -3.7 0M508.6 171.4a2.5 2.5 0 1 0 5.1 0a2.5 2.5 0 1 0 -5.1 0M504.9 176.2a2.3 2.3 0 1 0 4.6 0a2.3 2.3 0 1 0 -4.6 0" stroke="#B08C84" stroke-width="0.7" opacity="0.5" fill="#D8C2BC" fill-opacity="0.4"/>
<path d="M483.7 173.4a1 1 0 1 0 2.1 0a1 1 0 1 0 -2.1 0M480.1 186.5a1.1 1.1 0 1 0 2.2 0a1.1 1.1 0 1 0 -2.2 0M507.4 180.4a1.2 1.2 0 1 0 2.4 0a1.2 1.2 0 1 0 -2.4 0M511.6 164.2a0.9 0.9 0 1 0 1.8 0a0.9 0.9 0 1 0 -1.8 0M514.9 183.6a1.3 1.3 0 1 0 2.7 0a1.3 1.3 0 1 0 -2.7 0M519.4 167.8a1.2 1.2 0 1 0 2.3 0a1.2 1.2 0 1 0 -2.3 0M501.1 189.4a1.1 1.1 0 1 0 2.1 0a1.1 1.1 0 1 0 -2.1 0M509.8 193.3a1.1 1.1 0 1 0 2.1 0a1.1 1.1 0 1 0 -2.1 0M465.3 156.3a1.3 1.3 0 1 0 2.6 0a1.3 1.3 0 1 0 -2.6 0" fill="#7E5A52" opacity="0.7"/>
</g>
<rect x="462.5" y="145.8" width="65.8" height="52.5" fill="none" stroke="#444" stroke-width="1.3"/>
<rect x="530.5" y="16.6" width="65.5" height="16.8" fill="#fff" stroke="#333" stroke-width="1.2"/>
<text x="563.2" y="29.4" font-size="10.5" text-anchor="middle" font-weight="bold" fill="#000">H9C2</text>
<rect x="530.5" y="35.6" width="65.8" height="52.1" fill="#EEF3F0"/>
<g filter="url(#blur0)">
<path d="M542.4 67L546.1 73.5M586.9 67.7L591.7 68.5M557.9 60.7L563.1 63.2M575.9 64.6L575 76.2M534.6 68.9L542 74.2M545.4 64.7L553.8 67.1" stroke="#BFB0AA" stroke-width="0.6" opacity="0.6" stroke-linecap="round" fill="none"/>
<path d="M540.1 81.5L551.6 84.9M553.7 81.1L548.3 84.5M564.6 75.7L563.8 82.3M565.2 62L563.9 69.8M540.2 40.7L535.1 42.2M558.1 72.5L555.5 76.4M563.4 66.8L551.2 67.8M539.2 77.3L550.7 77.6M578.7 51.4L574.5 51.9M547 53.3L551.2 58.1M533.2 40.1L534.5 45M540.4 45.2L541.7 49.3M584.6 54.1L593.4 62.2M571.3 41.6L572.3 53.7M553.2 80.7L553.8 84.9M583.9 56L578 57.5M559.8 78.1L557 82.8M568.7 37.1L567.6 43.6M555.4 51.5L552.1 61.8M544.9 42.9L540.7 49.8M534.6 78.4L540.5 82.5M555.5 47.7L550.2 50.9" stroke="#D0B4AE" stroke-width="1.3" opacity="0.4" stroke-linecap="round" fill="none"/>
<path d="M547.2 80.7L554.2 81.8M534.2 56.7L533.2 66.3M577 53.2L584.1 60.2M532 37.1L537.6 41.7M578.7 50.1L588.6 57.8M563.8 71.9L567 81.8M537.5 62.1L532 64M586.8 42.4L592.3 49.3M540.5 81.9L548.7 83.9M550.8 56.2L551.5 65.8M561.7 50L567.6 52.6M569.3 52.8L567.8 64M542.7 64.5L539.5 76.9M535.3 63.7L532 63.8M554.5 60.9L550.5 70.3M583.5 80.7L576.4 82.8M542.5 51.1L550.1 53.4M580.9 66.3L585 69.6M550.1 48.2L559.2 54" stroke="#D8C0BA" stroke-width="2.2" opacity="0.3" stroke-linecap="round" fill="none"/>
<path d="M572.8 52.3a2.6 2.6 0 1 0 5.2 0a2.6 2.6 0 1 0 -5.2 0M570.1 58.9a2.6 2.6 0 1 0 5.2 0a2.6 2.6 0 1 0 -5.2 0M558.9 45.8a2.2 2.2 0 1 0 4.3 0a2.2 2.2 0 1 0 -4.3 0M561.6 65.3a2.9 2.9 0 1 0 5.8 0a2.9 2.9 0 1 0 -5.8 0M586.6 70.3a2.3 2.3 0 1 0 4.6 0a2.3 2.3 0 1 0 -4.6 0M553.1 70.6a3 3 0 1 0 5.9 0a3 3 0 1 0 -5.9 0M585.6 82.7a3 3 0 1 0 5.9 0a3 3 0 1 0 -5.9 0M537.4 61.6a2.4 2.4 0 1 0 4.7 0a2.4 2.4 0 1 0 -4.7 0M535.2 70.4a2 2 0 1 0 4 0a2 2 0 1 0 -4 0M546.7 55.1a2.2 2.2 0 1 0 4.4 0a2.2 2.2 0 1 0 -4.4 0M571.7 53.7a2.1 2.1 0 1 0 4.2 0a2.1 2.1 0 1 0 -4.2 0" stroke="#B08C84" stroke-width="0.7" opacity="0.5" fill="#D8C2BC" fill-opacity="0.4"/>
<path d="M571.9 72a1.2 1.2 0 1 0 2.5 0a1.2 1.2 0 1 0 -2.5 0M567.3 57.7a1.3 1.3 0 1 0 2.6 0a1.3 1.3 0 1 0 -2.6 0M540.1 75.3a1.3 1.3 0 1 0 2.5 0a1.3 1.3 0 1 0 -2.5 0M543.6 72.7a1.3 1.3 0 1 0 2.6 0a1.3 1.3 0 1 0 -2.6 0M538.8 40.8a0.9 0.9 0 1 0 1.9 0a0.9 0.9 0 1 0 -1.9 0M565 59.9a1.1 1.1 0 1 0 2.2 0a1.1 1.1 0 1 0 -2.2 0M540.1 38.8a1.1 1.1 0 1 0 2.3 0a1.1 1.1 0 1 0 -2.3 0M568.2 47.2a1.2 1.2 0 1 0 2.5 0a1.2 1.2 0 1 0 -2.5 0" fill="#7E5A52" opacity="0.7"/>
</g>
<rect x="530.5" y="35.6" width="65.8" height="52.1" fill="none" stroke="#444" stroke-width="1.3"/>
<rect x="530.5" y="91" width="65.8" height="51.8" fill="#EEF3F0"/>
<g filter="url(#blur0)">
<path d="M577.8 96.3L582.7 99.6M577.7 98.2L575.7 111M570.2 117.3L581.5 118.5M541.4 107.5L538.3 115.1M562.5 92.5L559.8 100.5M588.2 131.2L590.8 135M541.3 92.5L538.8 102.4M554.1 93.1L554.2 101.2M564 96L557.4 97.7M536.9 107.4L537.2 111.5M575.3 107.3L569 113.3M578 125.3L588.3 130.2M584.6 121.4L581.7 124.5M548.6 94.6L541.2 103.6M545.7 130.3L546.3 140.9M561.4 103.4L564.2 106.5M573.8 92.5L569.3 99.6M558.7 138.1L557 141.3M558 92.5L557.1 98.3" stroke="#BFB0AA" stroke-width="0.6" opacity="0.6" stroke-linecap="round" fill="none"/>
<path d="M581.3 139.6L589.8 140.9M539.1 93.2L535.9 95.8M544.7 113.7L539.4 118M587.5 132.5L582.6 137.4M588.6 127.3L585.6 137.3M573.8 136.7L585.1 138.8M576.8 136.3L571.2 141.3M549.1 103.8L547.1 107.5M585.7 112.1L579.5 112.9M587.3 116.4L593.2 122.8M547 129.5L554.9 133.5M579.6 111.5L589.3 113M562.5 122.6L564.8 131.3M552.9 118.8L562.3 120.7M590.4 111.1L594.8 114.6M587.2 105.1L580.9 108.1" stroke="#D0B4AE" stroke-width="1.3" opacity="0.4" stroke-linecap="round" fill="none"/>
<path d="M538.1 93.4L541.3 96.4M582.4 122.1L593.9 127.9M557.7 127.8L566.4 131.6M584.2 102L577.2 103.7M586.5 138.2L582.6 141.1M579.3 124.4L574.9 128.1M544.8 106.9L535.8 116M532 110.7L540.3 113.1M587.4 114.4L578.9 123.9M579.1 118.1L578.2 128.9M565.8 114L569 121.9M546.8 92.5L549.5 100.2M548.1 96.9L546.3 100.6M580 113L586 116.2M549.4 128.7L552.2 133.3M575.8 96.1L570.7 97.4M570.7 113.6L578.9 116.9M583.4 137.6L577.5 140.8M567.5 129.7L563.6 141.2" stroke="#D8C0BA" stroke-width="2.2" opacity="0.3" stroke-linecap="round" fill="none"/>
<path d="M559.7 130.7a2.6 2.6 0 1 0 5.2 0a2.6 2.6 0 1 0 -5.2 0M564.2 125a2.8 2.8 0 1 0 5.6 0a2.8 2.8 0 1 0 -5.6 0M567.6 122.3a1.9 1.9 0 1 0 3.9 0a1.9 1.9 0 1 0 -3.9 0M554.9 118.4a2.3 2.3 0 1 0 4.6 0a2.3 2.3 0 1 0 -4.6 0M553.6 120.9a2.6 2.6 0 1 0 5.2 0a2.6 2.6 0 1 0 -5.2 0M555.4 109.2a1.8 1.8 0 1 0 3.6 0a1.8 1.8 0 1 0 -3.6 0M556.4 108.4a2.2 2.2 0 1 0 4.3 0a2.2 2.2 0 1 0 -4.3 0M546.5 131.2a2.1 2.1 0 1 0 4.2 0a2.1 2.1 0 1 0 -4.2 0M577.9 127.1a2.9 2.9 0 1 0 5.8 0a2.9 2.9 0 1 0 -5.8 0M533.8 131.7a2.2 2.2 0 1 0 4.3 0a2.2 2.2 0 1 0 -4.3 0M573.3 137.2a2.3 2.3 0 1 0 4.5 0a2.3 2.3 0 1 0 -4.5 0M586.3 113.7a2 2 0 1 0 4 0a2 2 0 1 0 -4 0" stroke="#B08C84" stroke-width="0.7" opacity="0.5" fill="#D8C2BC" fill-opacity="0.4"/>
<path d="M591.7 95.7a1.2 1.2 0 1 0 2.4 0a1.2 1.2 0 1 0 -2.4 0M565.9 133.3a1.4 1.4 0 1 0 2.7 0a1.4 1.4 0 1 0 -2.7 0M543 113.8a1.2 1.2 0 1 0 2.4 0a1.2 1.2 0 1 0 -2.4 0M565.6 136.6a1 1 0 1 0 1.9 0a1 1 0 1 0 -1.9 0M536.7 107.8a1.1 1.1 0 1 0 2.2 0a1.1 1.1 0 1 0 -2.2 0M564 122.6a1.3 1.3 0 1 0 2.7 0a1.3 1.3 0 1 0 -2.7 0M537.2 99.6a1.4 1.4 0 1 0 2.7 0a1.4 1.4 0 1 0 -2.7 0M533.4 125.8a1 1 0 1 0 1.9 0a1 1 0 1 0 -1.9 0M569.4 124.6a1.3 1.3 0 1 0 2.5 0a1.3 1.3 0 1 0 -2.5 0" fill="#7E5A52" opacity="0.7"/>
<path d="M536.5 135.8a2.2 2.2 0 1 0 4.4 0a2.2 2.2 0 1 0 -4.4 0M556.5 115.9a2 2 0 1 0 4.1 0a2 2 0 1 0 -4.1 0M548.9 138.4a1.6 1.6 0 1 0 3.1 0a1.6 1.6 0 1 0 -3.1 0M533.3 133.6a2 2 0 1 0 4 0a2 2 0 1 0 -4 0M540.5 117.6a1.9 1.9 0 1 0 3.8 0a1.9 1.9 0 1 0 -3.8 0" fill="#3EC29A" opacity="0.6"/>
</g>
<rect x="530.5" y="91" width="65.8" height="51.8" fill="none" stroke="#444" stroke-width="1.3"/>
<rect x="530.5" y="145.8" width="65.8" height="52.5" fill="#EEF3F0"/>
<g filter="url(#blur0)">
<path d="M554.6 183.5L554.9 192.2M577 190.7L574.8 196.8M588.3 193.1L594.8 196.7M535.5 172.1L532 178.6M532 150.3L534.4 151.9M572.7 172.3L581.8 172.6M552.6 168.7L541.6 168.9M586.2 191L577.1 196.8M552.7 179.5L561.3 186.7M568 170.8L563.3 171.9M559.4 177.9L566 181.1M554.3 188.7L553.5 195.3M555.3 155.2L562.7 155.9M557.2 174L562 178.3M577.7 166L581.7 171.1" stroke="#BFB0AA" stroke-width="0.6" opacity="0.6" stroke-linecap="round" fill="none"/>
<path d="M563.8 153.9L553.5 158.3M558.7 168.3L563.6 169.8M572.4 192.5L579.3 193.7M592.7 152.3L593.9 159.5M561.5 178.5L553.6 187.4M589.3 156.6L590.8 161.9M543 160.6L546.6 162.9M555.5 175.9L550.6 177.2M555.4 147.7L549.2 155.2M569.9 177.1L577.8 186.1M538.8 188.8L532.4 196.8M594.8 181.8L589.4 183.1M540.4 170.5L540.1 175.6" stroke="#D0B4AE" stroke-width="1.3" opacity="0.4" stroke-linecap="round" fill="none"/>
<path d="M556.3 162L559.6 174.1M586.3 189.8L594.8 196.2M560.7 182.5L552.5 188.9M553.2 159.3L549.5 166.6M550.1 177.1L558.1 186.3M532.8 185.7L535.5 189M540.7 175.9L534.7 185.8M570.6 189.3L568.2 196.8M555.2 153.3L551.4 155.9M547.7 183.2L555.4 187.1M560 192.5L552.9 193.8M591.3 180L594.8 192" stroke="#D8C0BA" stroke-width="2.2" opacity="0.3" stroke-linecap="round" fill="none"/>
<path d="M546.1 153.9a2.7 2.7 0 1 0 5.3 0a2.7 2.7 0 1 0 -5.3 0M586.4 168.7a2 2 0 1 0 4 0a2 2 0 1 0 -4 0M576.3 187.6a2.3 2.3 0 1 0 4.6 0a2.3 2.3 0 1 0 -4.6 0M559.4 166.4a2.4 2.4 0 1 0 4.9 0a2.4 2.4 0 1 0 -4.9 0M570.5 191a2.2 2.2 0 1 0 4.4 0a2.2 2.2 0 1 0 -4.4 0M587.8 177.1a2.4 2.4 0 1 0 4.7 0a2.4 2.4 0 1 0 -4.7 0M580.8 160.4a2.5 2.5 0 1 0 4.9 0a2.5 2.5 0 1 0 -4.9 0M584.3 186.9a2.8 2.8 0 1 0 5.7 0a2.8 2.8 0 1 0 -5.7 0M562.4 178.5a2.7 2.7 0 1 0 5.5 0a2.7 2.7 0 1 0 -5.5 0" stroke="#B08C84" stroke-width="0.7" opacity="0.5" fill="#D8C2BC" fill-opacity="0.4"/>
<path d="M546.8 193.7a1.4 1.4 0 1 0 2.8 0a1.4 1.4 0 1 0 -2.8 0M561.2 176.6a1.5 1.5 0 1 0 2.9 0a1.5 1.5 0 1 0 -2.9 0M532.9 161.5a1.4 1.4 0 1 0 2.9 0a1.4 1.4 0 1 0 -2.9 0M535.2 181.3a1.1 1.1 0 1 0 2.2 0a1.1 1.1 0 1 0 -2.2 0M547 151.1a1.1 1.1 0 1 0 2.1 0a1.1 1.1 0 1 0 -2.1 0M554 179.2a1.4 1.4 0 1 0 2.8 0a1.4 1.4 0 1 0 -2.8 0M568.1 155.9a1.2 1.2 0 1 0 2.4 0a1.2 1.2 0 1 0 -2.4 0" fill="#7E5A52" opacity="0.7"/>
<path d="M585.9 160.3a2.2 2.2 0 1 0 4.4 0a2.2 2.2 0 1 0 -4.4 0" fill="#3EC29A" opacity="0.6"/>
</g>
<rect x="530.5" y="145.8" width="65.8" height="52.5" fill="none" stroke="#444" stroke-width="1.3"/>
<rect x="598.8" y="16.6" width="65.5" height="16.8" fill="#fff" stroke="#333" stroke-width="1.2"/>
<text x="631.5" y="29.4" font-size="10.5" text-anchor="middle" font-weight="bold" fill="#000">HBZY-1</text>
<rect x="598.8" y="35.6" width="65.8" height="52.1" fill="#EEF3F0"/>
<g filter="url(#blur0)">
<path d="M617.5 55.3L609.4 58.4M644.9 73.2L651.1 73.6M657.8 79.9L651.9 81.5M639.7 72.1L637.8 80.9M601.2 75.5L610.7 81.5M618.6 53.6L628.3 61.5M609.5 42.1L615.8 52.4M630.2 68.6L630.3 74.6M657.4 54.1L663 60.4M634.8 52.7L632.4 59.2" stroke="#BFB0AA" stroke-width="0.6" opacity="0.6" stroke-linecap="round" fill="none"/>
<path d="M624.5 74.4L619.6 77M636.6 50.3L633.8 57M614.7 69.1L609.5 73.4M616 56.6L612.7 65.5M659.9 61.8L653.3 64.9M651.2 56.8L647.9 59.5M642.9 41.5L634.9 48.6M632.3 63.8L640.9 71.8M644.9 79.2L632.7 80.9M607.1 42.1L611.8 48.8M602.4 80.8L608.7 84.3M623.3 45.6L628.7 45.7M654.1 83.1L649.9 83.2M625.3 58.8L626 64.1M644.6 71.8L643.4 83.6M604.6 81.3L602.9 85.4M657.5 52L661.2 58M651.5 63.1L647.1 70.3M614.1 67.9L609 77.8M612.2 79.7L616.2 85.3M656.1 83.3L654.6 86.2M607.8 62.3L615.9 70.3" stroke="#D0B4AE" stroke-width="1.3" opacity="0.4" stroke-linecap="round" fill="none"/>
<path d="M615.2 46.4L613.6 57.8M656.3 45.8L650.1 47.6M618 77.2L609.8 80.9M629.8 67.9L632.8 74.7M649.6 66.1L648.4 78M616.5 53.4L607.8 59.6M649.8 45.1L652.8 52.4M639 41.3L649.8 44.4M635.4 49L627.3 49.7M642.5 61.3L636.5 64.6M605.5 37.9L610 45.7M602.9 55.9L608.5 63.3" stroke="#D8C0BA" stroke-width="2.2" opacity="0.3" stroke-linecap="round" fill="none"/>
<path d="M606.9 74.2a2.5 2.5 0 1 0 5.1 0a2.5 2.5 0 1 0 -5.1 0M652.6 58.9a2.4 2.4 0 1 0 4.7 0a2.4 2.4 0 1 0 -4.7 0M636.9 44.3a2.8 2.8 0 1 0 5.6 0a2.8 2.8 0 1 0 -5.6 0M635.2 70a1.9 1.9 0 1 0 3.8 0a1.9 1.9 0 1 0 -3.8 0M616.8 46.2a2.2 2.2 0 1 0 4.4 0a2.2 2.2 0 1 0 -4.4 0M622.5 80.6a2.4 2.4 0 1 0 4.7 0a2.4 2.4 0 1 0 -4.7 0M633 58.2a2.3 2.3 0 1 0 4.6 0a2.3 2.3 0 1 0 -4.6 0M604.4 69.5a2.4 2.4 0 1 0 4.8 0a2.4 2.4 0 1 0 -4.8 0M612.8 72.9a1.8 1.8 0 1 0 3.6 0a1.8 1.8 0 1 0 -3.6 0M651 63.4a2.8 2.8 0 1 0 5.6 0a2.8 2.8 0 1 0 -5.6 0" stroke="#B08C84" stroke-width="0.7" opacity="0.5" fill="#D8C2BC" fill-opacity="0.4"/>
<path d="M630.5 44.7a1.2 1.2 0 1 0 2.4 0a1.2 1.2 0 1 0 -2.4 0M613.8 63.9a0.9 0.9 0 1 0 1.8 0a0.9 0.9 0 1 0 -1.8 0M641.6 75.2a1.2 1.2 0 1 0 2.5 0a1.2 1.2 0 1 0 -2.5 0M621.5 69.7a1.1 1.1 0 1 0 2.3 0a1.1 1.1 0 1 0 -2.3 0M658.4 80.3a1.2 1.2 0 1 0 2.3 0a1.2 1.2 0 1 0 -2.3 0M648.4 49.9a1.5 1.5 0 1 0 2.9 0a1.5 1.5 0 1 0 -2.9 0M640.4 38.6a1.3 1.3 0 1 0 2.6 0a1.3 1.3 0 1 0 -2.6 0" fill="#7E5A52" opacity="0.7"/>
</g>
<rect x="598.8" y="35.6" width="65.8" height="52.1" fill="none" stroke="#444" stroke-width="1.3"/>
<rect x="598.8" y="91" width="65.8" height="51.8" fill="#EEF3F0"/>
<g filter="url(#blur0)">
<path d="M637.3 115.1L634.7 119.4M611.8 95.5L605.4 106.6M614.9 137.2L618 141.3M619.7 130.8L613.8 131.5M644.8 132.9L653.2 134M628.1 115.6L631.5 125.2M629.3 92.5L629.8 98.9M630 125.7L632.4 137.5M647.7 132.8L645.3 138.8M656.8 120.5L646.1 125.1M635.6 123.2L632.7 131.8M655.1 92.5L658.4 95.4M651.4 92.5L644.7 98.3M620.6 98.8L613.9 99M610 93.5L611.4 104.2M627.5 126.5L623.2 137.1M621.7 92.5L624.3 95.8M626.5 92.5L631.3 100.8M634.1 92.5L635 97M603.4 96L608.5 97.6M601.6 93.9L609.3 95.5" stroke="#BFB0AA" stroke-width="0.6" opacity="0.6" stroke-linecap="round" fill="none"/>
<path d="M620.9 122.7L627.5 125.2M641.3 120.7L639.5 124.7M639.2 122.4L642.8 126.2M614 124L613.4 129.4M641.2 126.9L648 136.1M644.3 124.8L648.8 126.7M624.8 114.6L625.6 119.2M636 135.9L648.4 136.4M636.9 116.1L641.6 122.9M636.2 114.9L628.9 119.9M641.5 114.6L643.4 118.7M623.2 92.5L630.1 97M633.4 99.3L634.3 103.4" stroke="#D0B4AE" stroke-width="1.3" opacity="0.4" stroke-linecap="round" fill="none"/>
<path d="M610.3 103.8L601.4 109.7M625.9 92.5L621.9 97.5M649 92.5L641.4 101.8M631.2 101L623.8 108.6M635.8 129.6L640.1 131.1M632.9 124.8L640.6 130.1M657.4 131.2L652 136.1M629.3 118.6L633.1 129.4M648 119.7L654.7 122.5M611.2 123L601.6 131.8M652.6 110.9L649.9 114.7M648.2 100.6L651.3 111.7M632.8 107.7L631.8 115.7M637.3 122.9L632.8 128M618.3 122.3L615 124.9M614.3 104.4L622.5 113.6M608.2 95.5L616.2 105.3" stroke="#D8C0BA" stroke-width="2.2" opacity="0.3" stroke-linecap="round" fill="none"/>
<path d="M618.2 96.1a2.4 2.4 0 1 0 4.8 0a2.4 2.4 0 1 0 -4.8 0M651 105.6a3 3 0 1 0 6 0a3 3 0 1 0 -6 0M625.2 106.8a1.9 1.9 0 1 0 3.8 0a1.9 1.9 0 1 0 -3.8 0M617 118.4a2.1 2.1 0 1 0 4.3 0a2.1 2.1 0 1 0 -4.3 0M622.5 126.6a2.4 2.4 0 1 0 4.8 0a2.4 2.4 0 1 0 -4.8 0M604.6 98.9a2.8 2.8 0 1 0 5.7 0a2.8 2.8 0 1 0 -5.7 0M610.1 112.2a2.6 2.6 0 1 0 5.3 0a2.6 2.6 0 1 0 -5.3 0M656.5 117.8a2.7 2.7 0 1 0 5.4 0a2.7 2.7 0 1 0 -5.4 0M636 130a2.4 2.4 0 1 0 4.7 0a2.4 2.4 0 1 0 -4.7 0M612.8 118.7a2.5 2.5 0 1 0 5.1 0a2.5 2.5 0 1 0 -5.1 0M609.3 120.9a2.3 2.3 0 1 0 4.7 0a2.3 2.3 0 1 0 -4.7 0M622.5 116.3a2.2 2.2 0 1 0 4.5 0a2.2 2.2 0 1 0 -4.5 0" stroke="#B08C84" stroke-width="0.7" opacity="0.5" fill="#D8C2BC" fill-opacity="0.4"/>
<path d="M622.5 139.1a1.1 1.1 0 1 0 2.2 0a1.1 1.1 0 1 0 -2.2 0M629 94.2a1.1 1.1 0 1 0 2.2 0a1.1 1.1 0 1 0 -2.2 0M648.9 117.1a1.3 1.3 0 1 0 2.6 0a1.3 1.3 0 1 0 -2.6 0M654.9 125.7a1.5 1.5 0 1 0 2.9 0a1.5 1.5 0 1 0 -2.9 0M652.1 103.4a1.3 1.3 0 1 0 2.6 0a1.3 1.3 0 1 0 -2.6 0M601.6 123.2a1.4 1.4 0 1 0 2.9 0a1.4 1.4 0 1 0 -2.9 0M643.9 134.6a1.2 1.2 0 1 0 2.5 0a1.2 1.2 0 1 0 -2.5 0M647.1 104.7a1.1 1.1 0 1 0 2.1 0a1.1 1.1 0 1 0 -2.1 0M605.6 100a1.4 1.4 0 1 0 2.7 0a1.4 1.4 0 1 0 -2.7 0" fill="#7E5A52" opacity="0.7"/>
<path d="M607.1 128.8a1.6 1.6 0 1 0 3.3 0a1.6 1.6 0 1 0 -3.3 0M650.2 137.4a1.4 1.4 0 1 0 2.7 0a1.4 1.4 0 1 0 -2.7 0M634.2 124.1a1.9 1.9 0 1 0 3.8 0a1.9 1.9 0 1 0 -3.8 0M601.9 116.9a2.2 2.2 0 1 0 4.4 0a2.2 2.2 0 1 0 -4.4 0" fill="#3EC29A" opacity="0.6"/>
</g>
<rect x="598.8" y="91" width="65.8" height="51.8" fill="none" stroke="#444" stroke-width="1.3"/>
<rect x="598.8" y="145.8" width="65.8" height="52.5" fill="#EEF3F0"/>
<g filter="url(#blur0)">
<path d="M633.3 153.4L632.7 157.6M657.5 159.5L661.1 162.7M603.7 155.7L608.5 158.2M639.3 191.2L643.5 196.8M627 172.4L636.9 177.4M645.9 170.1L640.1 177.3M629.7 170.4L634.3 172.7M618.6 160.3L623.9 170M626.6 163.7L631.9 169.9M640.9 151.7L636.5 158.7M623.6 160.6L621 167.2" stroke="#BFB0AA" stroke-width="0.6" opacity="0.6" stroke-linecap="round" fill="none"/>
<path d="M653.9 150.1L663 155.3M629 183.7L619.5 184.5M600.2 152.6L605.1 161.2M618.4 188.7L621.4 196.2M649.1 168.2L650.1 172.7M646.4 188.3L657.1 190.5M616.3 189.7L622.5 196.3M608.8 175.2L610.1 179.4M632.3 190.8L636.7 196.8" stroke="#D0B4AE" stroke-width="1.3" opacity="0.4" stroke-linecap="round" fill="none"/>
<path d="M624.4 153.2L615 155.8M657.8 188.2L651.1 190.7M621.1 147.3L618.9 152M636.8 147.3L634.2 155.4M657.6 186.1L660.3 196.8M614 166.8L616.7 169.8M638.4 159.8L635.4 165.3" stroke="#D8C0BA" stroke-width="2.2" opacity="0.3" stroke-linecap="round" fill="none"/>
<path d="M600.9 151.2a1.9 1.9 0 1 0 3.9 0a1.9 1.9 0 1 0 -3.9 0M642.1 185.7a2.7 2.7 0 1 0 5.4 0a2.7 2.7 0 1 0 -5.4 0M629.5 155.3a2.6 2.6 0 1 0 5.1 0a2.6 2.6 0 1 0 -5.1 0M601.6 189.6a2.7 2.7 0 1 0 5.3 0a2.7 2.7 0 1 0 -5.3 0M637.4 165.4a2 2 0 1 0 3.9 0a2 2 0 1 0 -3.9 0M635.2 157.4a2 2 0 1 0 4 0a2 2 0 1 0 -4 0" stroke="#B08C84" stroke-width="0.7" opacity="0.5" fill="#D8C2BC" fill-opacity="0.4"/>
<path d="M631.5 186.6a1.2 1.2 0 1 0 2.3 0a1.2 1.2 0 1 0 -2.3 0M622.7 173.5a1.2 1.2 0 1 0 2.4 0a1.2 1.2 0 1 0 -2.4 0M650.2 155a1.1 1.1 0 1 0 2.2 0a1.1 1.1 0 1 0 -2.2 0M602 190a1 1 0 1 0 1.9 0a1 1 0 1 0 -1.9 0" fill="#7E5A52" opacity="0.7"/>
<path d="M605.2 160.4a1.6 1.6 0 1 0 3.3 0a1.6 1.6 0 1 0 -3.3 0" fill="#3EC29A" opacity="0.6"/>
</g>
<rect x="598.8" y="145.8" width="65.8" height="52.5" fill="none" stroke="#444" stroke-width="1.3"/>
<rect x="667.5" y="16.6" width="65.5" height="16.8" fill="#fff" stroke="#333" stroke-width="1.2"/>
<text x="700.2" y="29.4" font-size="10.5" text-anchor="middle" font-weight="bold" fill="#000">HL-1</text>
<rect x="667.5" y="35.6" width="65.8" height="52.1" fill="#EEF3F0"/>
<g filter="url(#blur0)">
<path d="M678 76.9L674.7 85.2M686.9 69.6L692.4 71.2M685.3 46.2L689 49.6M704.5 44.9L700 52M672.7 68.3L675.7 76.9M707.9 70.8L708.6 80.4M730.6 46.7L722.4 46.8M726.4 51.6L731.8 60" stroke="#BFB0AA" stroke-width="0.6" opacity="0.6" stroke-linecap="round" fill="none"/>
<path d="M714 55.6L723.4 57.3M681.2 49.9L691.1 57.6M717.5 71.7L724.1 73.4M724.6 37.1L717.1 43.1M721 51.6L721.9 60.7M727.1 82.1L729.1 86.2M724.4 62.3L731.8 64.3M702.4 63.9L692.8 68.7M695.4 68.9L703.7 76.5M669.1 55.8L670.8 61.8M723.2 80.3L727.4 81.9M731.8 41.5L719.8 43.5M677.4 50.2L681.7 54M720.9 60.5L714.1 68.7M692.9 43.3L689.1 47.5M686.7 78.3L693.1 79.8M677.5 71.9L679.1 80.4" stroke="#D0B4AE" stroke-width="1.3" opacity="0.4" stroke-linecap="round" fill="none"/>
<path d="M698.7 60L699 69.5M705.8 44L716.7 48.5M714.4 42.2L721.6 49.7M702.9 43.3L694 52.4M675 42.9L669 48M672.7 77.6L677.8 85M712.3 78.1L716.3 82.2M696.3 37.1L693 43.4M678.5 67.7L688 69.2M723.4 69.1L721.7 75.2M689.4 81.4L694.1 86.2M724.6 60.8L727.7 68.1M727.2 41.2L724.1 45.1M710.6 55.5L711.7 67M704.4 52.6L713 54.3M669 67.2L674.2 68.3M709.1 52.4L710.7 62.5M685.9 44.2L693.8 48.5M671.9 40.9L677.3 44.7M731.8 74.3L725.5 82M718.7 39.3L713.4 40.8M684 37.1L693.7 42.1" stroke="#D8C0BA" stroke-width="2.2" opacity="0.3" stroke-linecap="round" fill="none"/>
<path d="M684 48.8a1.9 1.9 0 1 0 3.7 0a1.9 1.9 0 1 0 -3.7 0M712.4 71.3a2.8 2.8 0 1 0 5.6 0a2.8 2.8 0 1 0 -5.6 0M722.3 78.4a2.1 2.1 0 1 0 4.3 0a2.1 2.1 0 1 0 -4.3 0M709.8 58.3a2.6 2.6 0 1 0 5.3 0a2.6 2.6 0 1 0 -5.3 0M671 55.7a1.8 1.8 0 1 0 3.6 0a1.8 1.8 0 1 0 -3.6 0M683.9 48.5a2.3 2.3 0 1 0 4.6 0a2.3 2.3 0 1 0 -4.6 0M721 66.4a2.6 2.6 0 1 0 5.2 0a2.6 2.6 0 1 0 -5.2 0M681.4 67.7a2.1 2.1 0 1 0 4.3 0a2.1 2.1 0 1 0 -4.3 0M712.6 57.5a2.8 2.8 0 1 0 5.5 0a2.8 2.8 0 1 0 -5.5 0M687.5 65.2a2.4 2.4 0 1 0 4.8 0a2.4 2.4 0 1 0 -4.8 0M718 63.3a2.3 2.3 0 1 0 4.7 0a2.3 2.3 0 1 0 -4.7 0" stroke="#B08C84" stroke-width="0.7" opacity="0.5" fill="#D8C2BC" fill-opacity="0.4"/>
<path d="M709.4 71.2a1.1 1.1 0 1 0 2.3 0a1.1 1.1 0 1 0 -2.3 0M686.8 56.3a1.4 1.4 0 1 0 2.9 0a1.4 1.4 0 1 0 -2.9 0M674.4 40.4a1.3 1.3 0 1 0 2.6 0a1.3 1.3 0 1 0 -2.6 0M691.2 64.7a1.2 1.2 0 1 0 2.4 0a1.2 1.2 0 1 0 -2.4 0M719.1 52.5a1 1 0 1 0 1.9 0a1 1 0 1 0 -1.9 0M714 61a1.5 1.5 0 1 0 2.9 0a1.5 1.5 0 1 0 -2.9 0M710.7 40.6a1.5 1.5 0 1 0 2.9 0a1.5 1.5 0 1 0 -2.9 0M671.2 69a1.1 1.1 0 1 0 2.2 0a1.1 1.1 0 1 0 -2.2 0" fill="#7E5A52" opacity="0.7"/>
</g>
<rect x="667.5" y="35.6" width="65.8" height="52.1" fill="none" stroke="#444" stroke-width="1.3"/>
<rect x="667.5" y="91" width="65.8" height="51.8" fill="#EEF3F0"/>
<g filter="url(#blur0)">
<path d="M712.6 107.2L708.3 113.9M706.2 113.1L695.8 118.6M720.1 100.6L717 106.5M680 104.9L684.6 110M693.2 93.6L693.4 103.7M669.5 101.8L669.8 106.4M730.5 95.5L721.9 101.3M682.6 106.3L688 108.7M722.5 98.4L719.9 109M716.4 92.5L710.2 99.2M671.7 127.3L669 131.8M715.1 120.2L715.1 126.8M676.9 96.7L680.8 103.9M715.6 126.8L710.9 134.3M693.9 114.6L694 118.7" stroke="#BFB0AA" stroke-width="0.6" opacity="0.6" stroke-linecap="round" fill="none"/>
<path d="M680.3 96.3L679.5 100.8M698.1 134.8L690.2 136.4M720.7 107.1L728.7 113.6M671.7 92.5L678.1 98.2M672.9 119L669 120.2M718.2 123.3L722.5 133M696.6 125.5L692 127.7M719 135.3L724.6 137.6M712.6 99.1L711.3 104.3M705.5 130.3L706.3 141.3M676 97.7L669 99.2M689.8 122.5L683.2 122.8M696.4 127.6L704.6 130.7M689.2 92.7L681.3 101.9" stroke="#D0B4AE" stroke-width="1.3" opacity="0.4" stroke-linecap="round" fill="none"/>
<path d="M715.5 106L705.9 109.6M712.3 93.6L718.5 96.6M710.9 116.6L708.1 120.2M701 125.6L702.8 131.7M716.7 112.9L705.3 115.8M723.3 112.5L717.3 121.2M730.3 110.5L731 114.7M716.1 128.3L718.8 138.2M669.7 131L671 135.1M675.9 119.9L674.8 130.6M693.1 117.9L695.4 122.5" stroke="#D8C0BA" stroke-width="2.2" opacity="0.3" stroke-linecap="round" fill="none"/>
<path d="M673.7 116.9a2.4 2.4 0 1 0 4.8 0a2.4 2.4 0 1 0 -4.8 0M680.6 123.1a2.5 2.5 0 1 0 5 0a2.5 2.5 0 1 0 -5 0M693.8 121.7a1.9 1.9 0 1 0 3.9 0a1.9 1.9 0 1 0 -3.9 0M721.9 110.3a2.2 2.2 0 1 0 4.4 0a2.2 2.2 0 1 0 -4.4 0M719.6 120.4a3 3 0 1 0 6 0a3 3 0 1 0 -6 0M714 127.6a3 3 0 1 0 5.9 0a3 3 0 1 0 -5.9 0M709.2 97.7a2.5 2.5 0 1 0 4.9 0a2.5 2.5 0 1 0 -4.9 0M696.3 118.4a3 3 0 1 0 6 0a3 3 0 1 0 -6 0M725.4 126.5a2.8 2.8 0 1 0 5.6 0a2.8 2.8 0 1 0 -5.6 0" stroke="#B08C84" stroke-width="0.7" opacity="0.5" fill="#D8C2BC" fill-opacity="0.4"/>
<path d="M669.5 114.6a1.2 1.2 0 1 0 2.4 0a1.2 1.2 0 1 0 -2.4 0M683.8 136.2a0.9 0.9 0 1 0 1.8 0a0.9 0.9 0 1 0 -1.8 0M719.6 139.4a1.1 1.1 0 1 0 2.2 0a1.1 1.1 0 1 0 -2.2 0M671.1 113.8a1 1 0 1 0 1.9 0a1 1 0 1 0 -1.9 0M726.4 117.9a1 1 0 1 0 2 0a1 1 0 1 0 -2 0M712 117.6a1.2 1.2 0 1 0 2.5 0a1.2 1.2 0 1 0 -2.5 0M681.8 138.2a1.4 1.4 0 1 0 2.9 0a1.4 1.4 0 1 0 -2.9 0" fill="#7E5A52" opacity="0.7"/>
<path d="M720.2 131.2a2.5 2.5 0 1 0 5 0a2.5 2.5 0 1 0 -5 0M683.1 129a1.8 1.8 0 1 0 3.6 0a1.8 1.8 0 1 0 -3.6 0M681.4 126.2a2 2 0 1 0 3.9 0a2 2 0 1 0 -3.9 0M684.2 117.9a1.8 1.8 0 1 0 3.6 0a1.8 1.8 0 1 0 -3.6 0M702.8 128.4a2.3 2.3 0 1 0 4.6 0a2.3 2.3 0 1 0 -4.6 0" fill="#3EC29A" opacity="0.6"/>
</g>
<rect x="667.5" y="91" width="65.8" height="51.8" fill="none" stroke="#444" stroke-width="1.3"/>
<rect x="667.5" y="145.8" width="65.8" height="52.5" fill="#EEF3F0"/>
<g filter="url(#blur0)">
<path d="M682.2 161.1L691.7 169.3M671.3 188.9L678.5 190.6M677.3 175.1L669 182.9M685.5 188L696.4 189.5M696.3 174.3L702.2 176.8M709 187.3L698.2 188.1M690.5 165.1L700.8 169.5M671.9 177.8L679.3 180.3M676.9 159.4L672.1 159.6M682.5 176.3L687.1 185" stroke="#BFB0AA" stroke-width="0.6" opacity="0.6" stroke-linecap="round" fill="none"/>
<path d="M726.6 173.4L721.8 175.5M715.9 150.8L718 163.3M710.8 159.8L706.7 163.2M683.2 182.5L689.7 183.5M730.4 180.1L721.6 180.8M695.6 161.2L692.3 168.7M710.8 147.3L719.7 151.9M697.2 150.6L701 162M673.7 159.6L681.5 163.8" stroke="#D0B4AE" stroke-width="1.3" opacity="0.4" stroke-linecap="round" fill="none"/>
<path d="M704.9 152.5L695.7 155.1M706.8 154.1L712.9 162.1M682.1 180.7L672.3 185M689.2 156.6L681.2 157.4M729.3 155.1L722.9 160.6M698.1 176.5L702 181.5M704.2 161.8L705.5 171.3M677.7 181.4L688.8 186.7M713 157.1L719 160.5M689.3 190.4L679.7 193.6M680.5 188.1L674.5 188.9" stroke="#D8C0BA" stroke-width="2.2" opacity="0.3" stroke-linecap="round" fill="none"/>
<path d="M691.7 192a2.9 2.9 0 1 0 5.8 0a2.9 2.9 0 1 0 -5.8 0M703 173.9a2.5 2.5 0 1 0 5 0a2.5 2.5 0 1 0 -5 0M683.3 152.4a2.4 2.4 0 1 0 4.8 0a2.4 2.4 0 1 0 -4.8 0M713.4 160.2a2.7 2.7 0 1 0 5.3 0a2.7 2.7 0 1 0 -5.3 0M719.5 177.1a2.7 2.7 0 1 0 5.4 0a2.7 2.7 0 1 0 -5.4 0M692.9 159a2.7 2.7 0 1 0 5.5 0a2.7 2.7 0 1 0 -5.5 0M694.8 168.9a2.1 2.1 0 1 0 4.2 0a2.1 2.1 0 1 0 -4.2 0" stroke="#B08C84" stroke-width="0.7" opacity="0.5" fill="#D8C2BC" fill-opacity="0.4"/>
<path d="M721.5 187a1.2 1.2 0 1 0 2.3 0a1.2 1.2 0 1 0 -2.3 0M688.9 184.2a1.4 1.4 0 1 0 2.9 0a1.4 1.4 0 1 0 -2.9 0M713.1 155.7a1.1 1.1 0 1 0 2.3 0a1.1 1.1 0 1 0 -2.3 0M711.6 178.3a0.9 0.9 0 1 0 1.9 0a0.9 0.9 0 1 0 -1.9 0M675.6 191.1a1.1 1.1 0 1 0 2.2 0a1.1 1.1 0 1 0 -2.2 0" fill="#7E5A52" opacity="0.7"/>
<path d="M694 173.5a1.3 1.3 0 1 0 2.6 0a1.3 1.3 0 1 0 -2.6 0" fill="#3EC29A" opacity="0.6"/>
</g>
<rect x="667.5" y="145.8" width="65.8" height="52.5" fill="none" stroke="#444" stroke-width="1.3"/>
<rect x="736.2" y="16.6" width="65.5" height="16.8" fill="#fff" stroke="#333" stroke-width="1.2"/>
<text x="769" y="29.4" font-size="10.5" text-anchor="middle" font-weight="bold" fill="#000">HK-2</text>
<rect x="736.2" y="35.6" width="65.8" height="52.1" fill="#EEF3F0"/>
<g filter="url(#blur0)">
<path d="M742 63.3L749.3 71M795.7 66.9L800 66.9M768.6 72.1L762.1 76.2M791.8 64.8L799.8 72.4M752.4 62.6L757.2 74.7M768.5 38.5L765.4 42.6M737.8 57.3L742.5 60.9M780.8 50.8L785.9 51.5M769.5 39.1L775.8 44.2M754.3 55.6L750.4 60.2M754.2 51.8L749.6 58.4M767.2 54.7L770.5 60.8M772.5 73.1L767.3 79.6M746.1 56.3L753.7 66.5M747.7 61L752.9 65.3M794 70.4L788.1 77.3M769.5 76.5L772.3 81.6" stroke="#BFB0AA" stroke-width="0.6" opacity="0.6" stroke-linecap="round" fill="none"/>
<path d="M758.5 43.3L763.5 48.9M760.6 40.1L750.3 40.4M773.9 64.8L778.7 72.4M764.3 53L770.8 57.2M779.6 40L783 44M768.1 42.4L769.8 53.5M769.1 68.2L774.8 74.1M779.9 37.1L780.6 40.3M769.7 75.1L777.1 77.4" stroke="#D0B4AE" stroke-width="1.3" opacity="0.4" stroke-linecap="round" fill="none"/>
<path d="M753.8 52.5L758.5 58.1M758 47.3L753.7 52.7M775.4 61.9L765.9 68.6M759 82.7L754 86.2M761.4 38.1L757.9 49.3M796.2 38.9L789.3 44M739.3 81.3L737.8 86.2M774.4 79L773.7 83.9M762 47.6L766.8 52.6M737.8 75.1L745.9 80.2M753.7 50.4L751.1 54.6M766.9 79.6L775.4 80.2M762.9 69.3L775 70.5M788.4 84.6L793.7 86.2M773.2 58L768.2 64.7M777.8 65.7L784.7 75.4M800.5 56.4L796.9 63M779.4 71L777.9 75.8M775.5 79.6L780.4 84.5M751.3 58.9L758.6 60.1M795.3 77.7L800.5 80.4" stroke="#D8C0BA" stroke-width="2.2" opacity="0.3" stroke-linecap="round" fill="none"/>
<path d="M744.6 72.9a2.4 2.4 0 1 0 4.8 0a2.4 2.4 0 1 0 -4.8 0M768.3 65.1a2 2 0 1 0 4.1 0a2 2 0 1 0 -4.1 0M770.6 66.5a2.8 2.8 0 1 0 5.6 0a2.8 2.8 0 1 0 -5.6 0M750.6 61.2a2.4 2.4 0 1 0 4.8 0a2.4 2.4 0 1 0 -4.8 0M742.7 74.4a2 2 0 1 0 4.1 0a2 2 0 1 0 -4.1 0M779.6 50.8a2.7 2.7 0 1 0 5.4 0a2.7 2.7 0 1 0 -5.4 0M793 42.9a2.1 2.1 0 1 0 4.2 0a2.1 2.1 0 1 0 -4.2 0M780.8 50.8a2.1 2.1 0 1 0 4.2 0a2.1 2.1 0 1 0 -4.2 0M760.2 70.4a2.8 2.8 0 1 0 5.6 0a2.8 2.8 0 1 0 -5.6 0M774.7 47.6a2.4 2.4 0 1 0 4.7 0a2.4 2.4 0 1 0 -4.7 0M740.5 68.3a2.7 2.7 0 1 0 5.4 0a2.7 2.7 0 1 0 -5.4 0" stroke="#B08C84" stroke-width="0.7" opacity="0.5" fill="#D8C2BC" fill-opacity="0.4"/>
<path d="M749.6 40a1.3 1.3 0 1 0 2.6 0a1.3 1.3 0 1 0 -2.6 0M785.6 81.5a0.9 0.9 0 1 0 1.8 0a0.9 0.9 0 1 0 -1.8 0M791.4 73.1a1 1 0 1 0 2 0a1 1 0 1 0 -2 0M741.2 77.5a0.9 0.9 0 1 0 1.9 0a0.9 0.9 0 1 0 -1.9 0M764.1 54.9a1.2 1.2 0 1 0 2.5 0a1.2 1.2 0 1 0 -2.5 0M746.6 63.9a1.3 1.3 0 1 0 2.7 0a1.3 1.3 0 1 0 -2.7 0M761.4 41.7a1.3 1.3 0 1 0 2.5 0a1.3 1.3 0 1 0 -2.5 0M757.4 81.4a1.1 1.1 0 1 0 2.2 0a1.1 1.1 0 1 0 -2.2 0" fill="#7E5A52" opacity="0.7"/>
</g>
<rect x="736.2" y="35.6" width="65.8" height="52.1" fill="none" stroke="#444" stroke-width="1.3"/>
<rect x="736.2" y="91" width="65.8" height="51.8" fill="#EEF3F0"/>
<g filter="url(#blur0)">
<path d="M767.6 125.2L770 133.3M742.8 116.3L752.6 121.1M772 107.5L776 109.8M758.4 138.7L749.3 141.3M748 113.2L737.8 118.9M749.1 114.8L755.2 117.7M760.2 121.2L764.7 121.3M759.1 100.9L752.9 106M782.3 107.6L778 108.2M792.7 120.8L798 123.2M767.3 95.3L761.1 97.4M758.8 113.4L758.6 117.6M791.1 93.6L782.1 103M766.3 108L772.3 108.9" stroke="#BFB0AA" stroke-width="0.6" opacity="0.6" stroke-linecap="round" fill="none"/>
<path d="M776.5 130.8L780.3 136M737.8 125.4L744.8 126M737.8 135.5L745.8 136.9M787.1 129.2L799 133.8M782 125.2L785.6 130.2M777.2 114.4L780.8 118.1M756 106.1L755.8 113.9M790.2 127.7L800.5 130.3M777.2 92.5L771.5 100.3M765.7 128.5L768.6 133.2M754.9 92.9L759.2 95.9M762.1 97.4L766.7 102.6M768.3 117.6L770 125.2M800.1 122.2L797.9 133.4M776.9 121.9L770.7 126.8M800.5 121L792.9 126.9M740.1 106.1L749.9 106.4M741.5 92.5L741.6 103.2" stroke="#D0B4AE" stroke-width="1.3" opacity="0.4" stroke-linecap="round" fill="none"/>
<path d="M748.3 114.8L750 119.1M775 132.5L770.4 138.4M781.7 111.8L792.7 112.6M773.2 109.6L769.3 114M783.2 92.5L787.7 96.5M777.7 116.9L786 120.2M777.9 134.7L773.7 141.3M795.2 113.8L790 117.2M782.9 100.7L787 113M744.8 132.7L752.3 140.2M794.3 134.2L800.5 141.3M769.3 127.1L769 134.8" stroke="#D8C0BA" stroke-width="2.2" opacity="0.3" stroke-linecap="round" fill="none"/>
<path d="M754.4 100.3a2.2 2.2 0 1 0 4.5 0a2.2 2.2 0 1 0 -4.5 0M790.8 134.6a1.8 1.8 0 1 0 3.6 0a1.8 1.8 0 1 0 -3.6 0M790.5 102.1a3 3 0 1 0 6 0a3 3 0 1 0 -6 0M788.7 97.6a2.5 2.5 0 1 0 5.1 0a2.5 2.5 0 1 0 -5.1 0M778.7 136.5a2.5 2.5 0 1 0 5.1 0a2.5 2.5 0 1 0 -5.1 0M746.3 135a3 3 0 1 0 5.9 0a3 3 0 1 0 -5.9 0M774.9 134a3 3 0 1 0 5.9 0a3 3 0 1 0 -5.9 0M767.4 133.5a2.5 2.5 0 1 0 5 0a2.5 2.5 0 1 0 -5 0M762.7 129.2a1.8 1.8 0 1 0 3.7 0a1.8 1.8 0 1 0 -3.7 0M777.6 101.8a2.6 2.6 0 1 0 5.3 0a2.6 2.6 0 1 0 -5.3 0" stroke="#B08C84" stroke-width="0.7" opacity="0.5" fill="#D8C2BC" fill-opacity="0.4"/>
<path d="M774.2 123.4a1 1 0 1 0 2 0a1 1 0 1 0 -2 0M747.6 119.7a0.9 0.9 0 1 0 1.9 0a0.9 0.9 0 1 0 -1.9 0M775.8 138.9a1.2 1.2 0 1 0 2.4 0a1.2 1.2 0 1 0 -2.4 0M766.3 123.6a1.2 1.2 0 1 0 2.4 0a1.2 1.2 0 1 0 -2.4 0M760.9 100.1a1.3 1.3 0 1 0 2.6 0a1.3 1.3 0 1 0 -2.6 0M740 110.3a1.1 1.1 0 1 0 2.1 0a1.1 1.1 0 1 0 -2.1 0M776.3 108.3a1.2 1.2 0 1 0 2.4 0a1.2 1.2 0 1 0 -2.4 0" fill="#7E5A52" opacity="0.7"/>
<path d="M791.1 134a2.3 2.3 0 1 0 4.7 0a2.3 2.3 0 1 0 -4.7 0M754.6 130.6a2.4 2.4 0 1 0 4.7 0a2.4 2.4 0 1 0 -4.7 0M794.2 101.2a2.3 2.3 0 1 0 4.7 0a2.3 2.3 0 1 0 -4.7 0M744.8 126.8a2.3 2.3 0 1 0 4.6 0a2.3 2.3 0 1 0 -4.6 0M792.3 131.8a1.7 1.7 0 1 0 3.4 0a1.7 1.7 0 1 0 -3.4 0" fill="#3EC29A" opacity="0.6"/>
</g>
<rect x="736.2" y="91" width="65.8" height="51.8" fill="none" stroke="#444" stroke-width="1.3"/>
<rect x="736.2" y="145.8" width="65.8" height="52.5" fill="#EEF3F0"/>
<g filter="url(#blur0)">
<path d="M758.3 149.5L766.6 151.6M783.1 189.6L779.5 192.2M741.3 180.8L737.8 192M773.3 151.2L769.2 163M746.4 173.9L742.5 174.9M788.7 147.3L796.5 151M786.1 165.5L790.5 166.8M762.4 191.3L766.2 196.8M738.8 164.2L743.1 173.3M781.1 194.9L789.3 196.8M787.4 152.9L800.1 153.2M765.1 148.4L757.9 148.7" stroke="#BFB0AA" stroke-width="0.6" opacity="0.6" stroke-linecap="round" fill="none"/>
<path d="M793.1 147.3L795.8 154.8M747.9 166.3L744.2 171.8M753.9 179.8L748.2 183.9M744.7 177.7L740.9 182.8M752.6 181.5L756.6 183M747.7 180L745 184M762.7 182.9L769.9 193.6M755.8 147.3L748.6 150.4M792.1 184.6L800.5 185.6M750.1 170.5L740.1 171.3M800.5 175.5L795.4 180.1M791.1 155.7L799.9 157.1M747.7 158.4L747.4 166.4M737.8 183.4L746.2 185.3M771.1 177.2L776.9 182.4" stroke="#D0B4AE" stroke-width="1.3" opacity="0.4" stroke-linecap="round" fill="none"/>
<path d="M743.6 148.8L737.8 160.2M765.2 183.1L769.4 189.2M800.5 158.6L795.1 165M749.5 167.8L740.8 172.8M760.6 158.6L763 166.1M757.4 166.3L748.4 170.3M754.6 180.3L752.2 189.6M770.7 169.4L771.2 181.6M742.9 148.8L751.5 154.8M798.6 183.4L787 187.8M764 148.9L768.8 150.2M789.1 147.3L791.5 153.9M800.5 158.1L798.7 163.5M738.6 190.3L738.2 194.3M759.4 171L755.6 175.3M795 182.8L800 189.8M776.7 176.8L775.2 186.8" stroke="#D8C0BA" stroke-width="2.2" opacity="0.3" stroke-linecap="round" fill="none"/>
<path d="M747.1 191.7a2.7 2.7 0 1 0 5.5 0a2.7 2.7 0 1 0 -5.5 0M768 153.1a2.2 2.2 0 1 0 4.4 0a2.2 2.2 0 1 0 -4.4 0M773.5 175.9a2 2 0 1 0 4.1 0a2 2 0 1 0 -4.1 0M781.3 151.8a2.9 2.9 0 1 0 5.8 0a2.9 2.9 0 1 0 -5.8 0M751.9 190.3a2.5 2.5 0 1 0 5 0a2.5 2.5 0 1 0 -5 0M747.7 158.8a2.1 2.1 0 1 0 4.2 0a2.1 2.1 0 1 0 -4.2 0M740.8 167.4a2.4 2.4 0 1 0 4.8 0a2.4 2.4 0 1 0 -4.8 0M742.9 165.2a2.6 2.6 0 1 0 5.2 0a2.6 2.6 0 1 0 -5.2 0M784.7 184.1a1.9 1.9 0 1 0 3.7 0a1.9 1.9 0 1 0 -3.7 0M759.8 164.5a2.1 2.1 0 1 0 4.3 0a2.1 2.1 0 1 0 -4.3 0" stroke="#B08C84" stroke-width="0.7" opacity="0.5" fill="#D8C2BC" fill-opacity="0.4"/>
<path d="M796 175.5a1.3 1.3 0 1 0 2.6 0a1.3 1.3 0 1 0 -2.6 0M753.3 165.3a1.4 1.4 0 1 0 2.8 0a1.4 1.4 0 1 0 -2.8 0M778.3 187a1.2 1.2 0 1 0 2.5 0a1.2 1.2 0 1 0 -2.5 0M741.5 193.2a1 1 0 1 0 2 0a1 1 0 1 0 -2 0M751 167.3a1.3 1.3 0 1 0 2.6 0a1.3 1.3 0 1 0 -2.6 0M773.6 172.1a1.3 1.3 0 1 0 2.6 0a1.3 1.3 0 1 0 -2.6 0M742.6 158.1a1.1 1.1 0 1 0 2.2 0a1.1 1.1 0 1 0 -2.2 0" fill="#7E5A52" opacity="0.7"/>
<path d="M782 172.3a1.6 1.6 0 1 0 3.2 0a1.6 1.6 0 1 0 -3.2 0" fill="#3EC29A" opacity="0.6"/>
</g>
<rect x="736.2" y="145.8" width="65.8" height="52.5" fill="none" stroke="#444" stroke-width="1.3"/>
<rect x="805" y="16.6" width="65.5" height="16.8" fill="#fff" stroke="#333" stroke-width="1.2"/>
<text x="837.8" y="29.4" font-size="10.5" text-anchor="middle" font-weight="bold" fill="#000">MOVAS</text>
<rect x="805" y="35.6" width="65.8" height="52.1" fill="#EEF3F0"/>
<g filter="url(#blur0)">
<path d="M853.3 52.1L848.9 55.3M815.9 60L821.2 62.3M827.8 43.7L823.8 45.5M816.5 41.3L809.9 42.9M830.5 37.1L833.7 44M837.8 44.7L834 57.1M851.9 75.6L840.5 81.5M850.1 45L851.6 55.2M844.7 45.9L848.3 49.6" stroke="#BFB0AA" stroke-width="0.6" opacity="0.6" stroke-linecap="round" fill="none"/>
<path d="M849.1 64.3L857.2 74.1M826.7 64L835 69.6M809 78.2L813.2 86.2M851.5 77.5L860.3 78.2M858 60.5L851.4 61.9M849.7 59.9L850.4 65.6M816.2 46.4L819.7 50.9M830.6 83.6L831.1 86.2M812.6 62.2L808 66.7M816.2 56.1L808.8 66.3M816 84.1L808.8 86.2M827.1 65.1L817.3 71.5M858.2 60L853.4 62.1M824.7 62.3L827.7 67M849.4 54.9L845 60.8" stroke="#D0B4AE" stroke-width="1.3" opacity="0.4" stroke-linecap="round" fill="none"/>
<path d="M847.6 84L857.3 84.9M836.1 39.3L832.8 41.9M826.3 61.6L830.3 62.5M830.2 39.7L836.2 39.9M834.2 63.2L838.3 64.5M852 84.6L843.8 86.2M809 46.4L810.5 55.9M864.4 60.1L865.8 65M825.6 63.1L828.7 67.4M840.1 46.6L838.8 53.3M844.1 54L853 57.5M847.3 41.9L849.6 50.6M823.6 54.6L821.9 64.6M822.8 37.3L820.8 48.1M818.1 42.8L827.9 50.3M821.1 80.3L822.2 85.5" stroke="#D8C0BA" stroke-width="2.2" opacity="0.3" stroke-linecap="round" fill="none"/>
<path d="M825.2 77.4a2.6 2.6 0 1 0 5.1 0a2.6 2.6 0 1 0 -5.1 0M832 76.1a2.1 2.1 0 1 0 4.1 0a2.1 2.1 0 1 0 -4.1 0M818.1 65.2a2.8 2.8 0 1 0 5.5 0a2.8 2.8 0 1 0 -5.5 0M829.9 39.7a2.5 2.5 0 1 0 5 0a2.5 2.5 0 1 0 -5 0M859 66.2a1.8 1.8 0 1 0 3.6 0a1.8 1.8 0 1 0 -3.6 0M826 83.5a2.2 2.2 0 1 0 4.3 0a2.2 2.2 0 1 0 -4.3 0M846.3 46.6a2.6 2.6 0 1 0 5.1 0a2.6 2.6 0 1 0 -5.1 0M834.9 41.7a3 3 0 1 0 6 0a3 3 0 1 0 -6 0M819 61.2a2.1 2.1 0 1 0 4.2 0a2.1 2.1 0 1 0 -4.2 0" stroke="#B08C84" stroke-width="0.7" opacity="0.5" fill="#D8C2BC" fill-opacity="0.4"/>
<path d="M848.1 48.5a1 1 0 1 0 1.9 0a1 1 0 1 0 -1.9 0M858.4 84a1 1 0 1 0 2 0a1 1 0 1 0 -2 0M860 41.6a1.5 1.5 0 1 0 3 0a1.5 1.5 0 1 0 -3 0M813.6 46.5a1.3 1.3 0 1 0 2.7 0a1.3 1.3 0 1 0 -2.7 0M839.7 59.6a1.4 1.4 0 1 0 2.7 0a1.4 1.4 0 1 0 -2.7 0M864.6 75.8a1 1 0 1 0 2.1 0a1 1 0 1 0 -2.1 0M856.6 83a1.4 1.4 0 1 0 2.7 0a1.4 1.4 0 1 0 -2.7 0" fill="#7E5A52" opacity="0.7"/>
</g>
<rect x="805" y="35.6" width="65.8" height="52.1" fill="none" stroke="#444" stroke-width="1.3"/>
<rect x="805" y="91" width="65.8" height="51.8" fill="#EEF3F0"/>
<g filter="url(#blur0)">
<path d="M842.1 100.9L848.2 105.9M829.1 130.8L841 134M866.9 124.9L859.1 133.9M831.5 99.7L830.1 103.8M852 112.6L850.5 119.5M812 122.7L806.5 123.3M819.1 135.4L812.7 141.3M842.5 137.3L853.7 140.3M856.2 120.4L848.1 122.6M840 123.7L840.5 134.1M850.3 105.1L845.4 108M807.4 112.7L809.8 121.5M846.5 106.6L840.1 108.5M846.5 93.9L840.3 95.6M812.4 94.8L808.9 97.6M813.8 94.2L809.2 103.7M824.4 123.3L827.1 133" stroke="#BFB0AA" stroke-width="0.6" opacity="0.6" stroke-linecap="round" fill="none"/>
<path d="M844.3 134.6L847.2 141.3M850.7 110L856.7 119.8M810.3 104L816.1 111.6M849.5 94.2L843.7 102.6M869.3 110.2L864.6 113.9M809.2 117.2L810.5 124.4M867.1 111.7L857.7 118.9M861.6 118.3L869.3 124.3M818.4 133.2L815.2 136.3M860.7 108.8L869.3 112.8M848.4 128.7L846.6 137.8M861 131.5L868.8 135.5M832.6 127.6L843.1 129.1M864.5 121.9L855.4 125.8M860.8 94.7L858.4 98.2M814.5 101.4L806.5 103.4" stroke="#D0B4AE" stroke-width="1.3" opacity="0.4" stroke-linecap="round" fill="none"/>
<path d="M839.4 96.5L828.1 102.3M840.4 111.2L850.8 115.3M820.8 134.9L814.5 139.6M850.1 105.5L842.7 108.2M856 99.5L856.3 105.8M815.8 95.4L825.3 103.7M828.5 100.7L831.4 111.7M866.4 124.5L866.3 132.7M867.8 110.5L855 112.6M856.6 97.1L863.6 98.9M814.6 128.7L819.7 137.7" stroke="#D8C0BA" stroke-width="2.2" opacity="0.3" stroke-linecap="round" fill="none"/>
<path d="M820.6 125.7a2.4 2.4 0 1 0 4.8 0a2.4 2.4 0 1 0 -4.8 0M864.1 104.1a2.4 2.4 0 1 0 4.7 0a2.4 2.4 0 1 0 -4.7 0M850.1 133.5a2.2 2.2 0 1 0 4.3 0a2.2 2.2 0 1 0 -4.3 0M853.6 106.2a2 2 0 1 0 4.1 0a2 2 0 1 0 -4.1 0M845.2 138.3a2.8 2.8 0 1 0 5.6 0a2.8 2.8 0 1 0 -5.6 0M808.8 113.7a2.7 2.7 0 1 0 5.4 0a2.7 2.7 0 1 0 -5.4 0M851.9 130.7a1.8 1.8 0 1 0 3.6 0a1.8 1.8 0 1 0 -3.6 0M811.9 117.5a2.1 2.1 0 1 0 4.2 0a2.1 2.1 0 1 0 -4.2 0M843.2 125.3a2.3 2.3 0 1 0 4.6 0a2.3 2.3 0 1 0 -4.6 0M807.5 112.1a2.5 2.5 0 1 0 5 0a2.5 2.5 0 1 0 -5 0" stroke="#B08C84" stroke-width="0.7" opacity="0.5" fill="#D8C2BC" fill-opacity="0.4"/>
<path d="M836.5 101.2a1.3 1.3 0 1 0 2.6 0a1.3 1.3 0 1 0 -2.6 0M838.7 122.6a1.2 1.2 0 1 0 2.5 0a1.2 1.2 0 1 0 -2.5 0M821.9 133a1.2 1.2 0 1 0 2.3 0a1.2 1.2 0 1 0 -2.3 0M810.5 106a1.4 1.4 0 1 0 2.8 0a1.4 1.4 0 1 0 -2.8 0M832.5 127.6a1 1 0 1 0 2.1 0a1 1 0 1 0 -2.1 0M834.6 112a1.2 1.2 0 1 0 2.4 0a1.2 1.2 0 1 0 -2.4 0M849.2 133a1.2 1.2 0 1 0 2.4 0a1.2 1.2 0 1 0 -2.4 0" fill="#7E5A52" opacity="0.7"/>
<path d="M808 134.3a2.5 2.5 0 1 0 5 0a2.5 2.5 0 1 0 -5 0M850.1 113a2.6 2.6 0 1 0 5.2 0a2.6 2.6 0 1 0 -5.2 0M857.8 135.7a1.8 1.8 0 1 0 3.7 0a1.8 1.8 0 1 0 -3.7 0M842.7 103.1a1.6 1.6 0 1 0 3.2 0a1.6 1.6 0 1 0 -3.2 0" fill="#3EC29A" opacity="0.6"/>
</g>
<rect x="805" y="91" width="65.8" height="51.8" fill="none" stroke="#444" stroke-width="1.3"/>
<rect x="805" y="145.8" width="65.8" height="52.5" fill="#EEF3F0"/>
<g filter="url(#blur0)">
<path d="M832.3 177.4L827.7 186.5M841.2 169.9L839.6 173.6M827.3 189.3L822.1 196.8M808 161.9L812.7 162.7M836.8 179.3L836.9 185.1M863.9 178.2L859.5 183.8M808 157.4L807.9 163M845.7 187.3L850 188.7M859 152.2L854.3 155.2" stroke="#BFB0AA" stroke-width="0.6" opacity="0.6" stroke-linecap="round" fill="none"/>
<path d="M864 172.6L869.3 177.9M861.5 153.1L867.5 154.1M861.3 176L863.4 183.6M854.7 191.2L858.6 193.7M862.5 178.8L856.4 188.2M859.2 149.9L851.3 156.5M854 171.7L855.3 177.3M833.9 147.3L839 152.2M825.3 177L831.7 182.2M844.5 157.9L848.5 166.3M869.3 161.4L862.1 164.1" stroke="#D0B4AE" stroke-width="1.3" opacity="0.4" stroke-linecap="round" fill="none"/>
<path d="M833.3 161.9L837.1 163.5M809.2 163.1L816.4 165.4M820.4 168.9L823.2 174.4M827.2 163.5L835.3 165.9M830.8 191.2L838.5 193.4M858.1 149L847.1 152M847.4 183.9L848.5 195M818.1 166.4L819.3 175.1M824 188.7L816 196.8M846.2 176.1L853.3 177.2M815.5 167.4L814.8 176.3M826.3 161L832.1 163.5M835.6 191.3L830.8 196.8M810.7 183.4L817.9 190.1M818.1 184.8L822.4 186.6M843.7 148.4L837.9 155.8M827.7 167.6L836 170.6" stroke="#D8C0BA" stroke-width="2.2" opacity="0.3" stroke-linecap="round" fill="none"/>
<path d="M846 169.9a2.4 2.4 0 1 0 4.7 0a2.4 2.4 0 1 0 -4.7 0M829.3 156.2a2.2 2.2 0 1 0 4.3 0a2.2 2.2 0 1 0 -4.3 0M861.6 177.1a2.9 2.9 0 1 0 5.8 0a2.9 2.9 0 1 0 -5.8 0M843.3 160.8a2.4 2.4 0 1 0 4.9 0a2.4 2.4 0 1 0 -4.9 0M821.7 151a2.5 2.5 0 1 0 5 0a2.5 2.5 0 1 0 -5 0M854.1 188.5a1.9 1.9 0 1 0 3.9 0a1.9 1.9 0 1 0 -3.9 0M811.8 172.7a2.3 2.3 0 1 0 4.6 0a2.3 2.3 0 1 0 -4.6 0M851.5 153.3a2.7 2.7 0 1 0 5.4 0a2.7 2.7 0 1 0 -5.4 0" stroke="#B08C84" stroke-width="0.7" opacity="0.5" fill="#D8C2BC" fill-opacity="0.4"/>
<path d="M861.5 184.9a1.1 1.1 0 1 0 2.2 0a1.1 1.1 0 1 0 -2.2 0M844.6 167.9a1 1 0 1 0 2 0a1 1 0 1 0 -2 0M819.2 163.5a1.1 1.1 0 1 0 2.1 0a1.1 1.1 0 1 0 -2.1 0M843 173.8a1.2 1.2 0 1 0 2.4 0a1.2 1.2 0 1 0 -2.4 0M847.1 148.9a1.3 1.3 0 1 0 2.6 0a1.3 1.3 0 1 0 -2.6 0M812.5 194.1a1.3 1.3 0 1 0 2.5 0a1.3 1.3 0 1 0 -2.5 0" fill="#7E5A52" opacity="0.7"/>
<path d="M836.2 156a2.2 2.2 0 1 0 4.4 0a2.2 2.2 0 1 0 -4.4 0M864 164.7a2.2 2.2 0 1 0 4.3 0a2.2 2.2 0 1 0 -4.3 0M832.2 153.9a1.8 1.8 0 1 0 3.6 0a1.8 1.8 0 1 0 -3.6 0" fill="#3EC29A" opacity="0.6"/>
</g>
<rect x="805" y="145.8" width="65.8" height="52.5" fill="none" stroke="#444" stroke-width="1.3"/>
<rect x="873.2" y="16.6" width="65.5" height="16.8" fill="#fff" stroke="#333" stroke-width="1.2"/>
<text x="906" y="29.4" font-size="10.5" text-anchor="middle" font-weight="bold" fill="#000">L6</text>
<rect x="873.2" y="35.6" width="65.8" height="52.1" fill="#EEF3F0"/>
<g filter="url(#blur0)">
<path d="M893 72.2L895.7 79M896.7 59.2L897.2 63.5M893.4 66.1L899.9 75.8M911 51.1L916.4 51.7M897.9 40.4L902.2 40.7M893.2 61.8L899.8 71.8" stroke="#BFB0AA" stroke-width="0.6" opacity="0.6" stroke-linecap="round" fill="none"/>
<path d="M891.8 81.4L895.3 86.2M879 46.1L874.7 47.7M937.4 40.2L934.7 48.5M914.4 47.4L908.5 52.2M905.1 77.6L896.9 81.9M886.3 81.8L882 83.6M880.1 74.8L879.2 79.1M895.1 54.8L888.9 63.3M885.1 73.7L885.3 80.8M885.9 49.1L881.7 53.6" stroke="#D0B4AE" stroke-width="1.3" opacity="0.4" stroke-linecap="round" fill="none"/>
<path d="M910 37.1L902.9 42.9M921.7 49.4L934 53.5M920.5 76.5L915.8 79.1M922.4 73L923.6 83.4M907.6 45.3L916 54.2M899.5 47.9L907.8 52.9M886.1 81.7L893.2 85.5M913 84.5L905.8 86.2M881 64.4L889.9 72M906.1 60.9L905.1 68.9M891.7 67.1L881 67.4M899.1 66.8L901.4 72.1M918 48.1L917.4 60.5M882.4 56L879.6 59.9" stroke="#D8C0BA" stroke-width="2.2" opacity="0.3" stroke-linecap="round" fill="none"/>
<path d="M926.8 63.3a2.7 2.7 0 1 0 5.3 0a2.7 2.7 0 1 0 -5.3 0M887.8 49.8a2.8 2.8 0 1 0 5.7 0a2.8 2.8 0 1 0 -5.7 0M917.2 80.3a2.5 2.5 0 1 0 5 0a2.5 2.5 0 1 0 -5 0M925.2 80a2.6 2.6 0 1 0 5.2 0a2.6 2.6 0 1 0 -5.2 0M895.3 65.9a2.4 2.4 0 1 0 4.9 0a2.4 2.4 0 1 0 -4.9 0M903.8 48.3a2.3 2.3 0 1 0 4.5 0a2.3 2.3 0 1 0 -4.5 0M925.2 50.2a2.9 2.9 0 1 0 5.7 0a2.9 2.9 0 1 0 -5.7 0" stroke="#B08C84" stroke-width="0.7" opacity="0.5" fill="#D8C2BC" fill-opacity="0.4"/>
<path d="M917.6 46a1.2 1.2 0 1 0 2.5 0a1.2 1.2 0 1 0 -2.5 0M902.3 65.7a1.5 1.5 0 1 0 2.9 0a1.5 1.5 0 1 0 -2.9 0M883.7 83.4a1.5 1.5 0 1 0 3 0a1.5 1.5 0 1 0 -3 0M928.3 83a1.1 1.1 0 1 0 2.2 0a1.1 1.1 0 1 0 -2.2 0M890.1 61.2a1.2 1.2 0 1 0 2.3 0a1.2 1.2 0 1 0 -2.3 0" fill="#7E5A52" opacity="0.7"/>
<path d="M931.3 70.7a2.2 2.2 0 1 0 4.3 0a2.2 2.2 0 1 0 -4.3 0M927 81.1a1.9 1.9 0 1 0 3.7 0a1.9 1.9 0 1 0 -3.7 0" fill="#3EC29A" opacity="0.6"/>
</g>
<rect x="873.2" y="35.6" width="65.8" height="52.1" fill="none" stroke="#444" stroke-width="1.3"/>
<rect x="873.2" y="91" width="65.8" height="51.8" fill="#EEF3F0"/>
<g filter="url(#blur0)">
<path d="M893.3 110L900.8 117.2M887.9 103.5L889.7 114.3M883.7 137.3L878.8 140.6M896.6 124.2L889.4 129.4M903 101.3L908.9 106.1M887.7 134.2L880 141.3M895.9 96.7L901.4 104.8M874.7 121.1L878 123M888.4 97L890.3 102.3M899.3 108.2L888.6 111.2M911.3 103.5L902.2 103.6M915.9 108.7L913.3 112.6M912.2 97.2L909.3 104.1M926.7 97.3L926.1 103.5" stroke="#BFB0AA" stroke-width="0.6" opacity="0.6" stroke-linecap="round" fill="none"/>
<path d="M931.1 101.6L936.5 106.9M915.1 118.5L920.4 126.1M896 115.8L908.6 117.8M922.8 106.8L922.4 110.8M921.2 120.7L921.1 129.1M921.9 106.4L911.5 110.9M900.4 97.5L896.5 99.5M891.4 92.5L902.5 96.5M904.3 136.2L912.7 140.7M893 126.2L888 127.6M874.7 138L882.9 141.3M901.1 99.2L889.3 101.5M910.6 117.3L909.3 121.2" stroke="#D0B4AE" stroke-width="1.3" opacity="0.4" stroke-linecap="round" fill="none"/>
<path d="M937.5 129.7L932.4 135.8M905.6 93.5L910 100.6M931.6 110.3L937.5 114.6M876.8 128.2L884.2 135.5M877.7 106.8L875 110.5M922.9 107.1L935.8 107.6M930 138.4L934.1 141.3M923.7 102.3L914.7 107.5M902.4 95L901 101.2M921.4 100.2L915.4 105.7M937.5 96.6L930.2 103.9M928.9 120.3L925.9 126.8M900.6 119L909.8 126.4M887.4 133.4L896.3 138.6M904.7 98.8L900.5 99.4M875.1 101.2L876.9 105.3M924 103.5L923.6 113.7" stroke="#D8C0BA" stroke-width="2.2" opacity="0.3" stroke-linecap="round" fill="none"/>
<path d="M905.3 128.4a2 2 0 1 0 3.9 0a2 2 0 1 0 -3.9 0M913.9 135.3a2 2 0 1 0 4.1 0a2 2 0 1 0 -4.1 0M893.4 107.8a2.4 2.4 0 1 0 4.9 0a2.4 2.4 0 1 0 -4.9 0M883 131.8a2.2 2.2 0 1 0 4.4 0a2.2 2.2 0 1 0 -4.4 0M918.1 121.1a2.8 2.8 0 1 0 5.5 0a2.8 2.8 0 1 0 -5.5 0M929.8 107.3a2.3 2.3 0 1 0 4.6 0a2.3 2.3 0 1 0 -4.6 0M927.1 127.8a2.6 2.6 0 1 0 5.1 0a2.6 2.6 0 1 0 -5.1 0M897.8 112.1a1.8 1.8 0 1 0 3.6 0a1.8 1.8 0 1 0 -3.6 0M898.9 137.8a2.7 2.7 0 1 0 5.4 0a2.7 2.7 0 1 0 -5.4 0M926.4 128a3 3 0 1 0 6 0a3 3 0 1 0 -6 0" stroke="#B08C84" stroke-width="0.7" opacity="0.5" fill="#D8C2BC" fill-opacity="0.4"/>
<path d="M933.1 137.2a0.9 0.9 0 1 0 1.9 0a0.9 0.9 0 1 0 -1.9 0M894.1 115.1a1.1 1.1 0 1 0 2.2 0a1.1 1.1 0 1 0 -2.2 0M929.8 95.7a1 1 0 1 0 2 0a1 1 0 1 0 -2 0M881.7 129.7a1.5 1.5 0 1 0 2.9 0a1.5 1.5 0 1 0 -2.9 0M879.4 122.5a1 1 0 1 0 2 0a1 1 0 1 0 -2 0M930.3 135.9a1.3 1.3 0 1 0 2.6 0a1.3 1.3 0 1 0 -2.6 0M931.1 130a1.3 1.3 0 1 0 2.6 0a1.3 1.3 0 1 0 -2.6 0" fill="#7E5A52" opacity="0.7"/>
<path d="M902.5 99.9a1.5 1.5 0 1 0 3.1 0a1.5 1.5 0 1 0 -3.1 0M919.6 98a2 2 0 1 0 4.1 0a2 2 0 1 0 -4.1 0M889.8 135a2 2 0 1 0 4 0a2 2 0 1 0 -4 0M925.9 95.9a1.4 1.4 0 1 0 2.7 0a1.4 1.4 0 1 0 -2.7 0M876.5 137a2.5 2.5 0 1 0 5 0a2.5 2.5 0 1 0 -5 0M926.7 119.3a1.4 1.4 0 1 0 2.8 0a1.4 1.4 0 1 0 -2.8 0" fill="#3EC29A" opacity="0.6"/>
</g>
<rect x="873.2" y="91" width="65.8" height="51.8" fill="none" stroke="#444" stroke-width="1.3"/>
<rect x="873.2" y="145.8" width="65.8" height="52.5" fill="#EEF3F0"/>
<g filter="url(#blur0)">
<path d="M924.8 168.5L925.3 178.1M901.4 166.1L903.6 171.4M901.2 190.3L907.2 196.8M920.6 187.1L919.4 191.8M911.3 150.3L915.7 150.8M880.9 173.9L874.7 179.9M881.4 165.3L878.2 171.8M897.6 175.8L900.6 179.7M929.3 165.7L930.9 170.5M884.7 155.2L878.9 161.4M932.5 173.6L935.9 180.6M882.6 190.7L882.2 196.8M914.7 187.2L909.7 195" stroke="#BFB0AA" stroke-width="0.6" opacity="0.6" stroke-linecap="round" fill="none"/>
<path d="M934.6 147.3L937.4 158.2M875 161.7L881.7 165.1M904 178.5L911.7 183M893.6 177.7L886.9 185.3M896.1 183.4L900.1 184M923.9 176.8L914.9 179.8M924.7 162.3L925.5 175.2M937.5 172.4L928.8 177.2M890.9 196.1L880 196.2M936.3 183.6L937.3 195.3M914.3 183.5L924 185.5M937.5 153.8L926.9 154" stroke="#D0B4AE" stroke-width="1.3" opacity="0.4" stroke-linecap="round" fill="none"/>
<path d="M901.5 161.5L893.3 168M923 172.9L917.7 182.9M927.4 170.1L937.5 174.5M918.9 152.8L907.5 157.6M897.2 170.8L892.6 175.2M894 173.2L889.3 175.1M888.1 148.2L880.8 153.4M875.1 147.3L880.4 152.4M909.3 171.4L914 173.2" stroke="#D8C0BA" stroke-width="2.2" opacity="0.3" stroke-linecap="round" fill="none"/>
<path d="M915.4 184.7a2.4 2.4 0 1 0 4.8 0a2.4 2.4 0 1 0 -4.8 0M906.7 178.6a1.9 1.9 0 1 0 3.8 0a1.9 1.9 0 1 0 -3.8 0M906.3 151.6a2.5 2.5 0 1 0 4.9 0a2.5 2.5 0 1 0 -4.9 0M909.2 184.4a3 3 0 1 0 5.9 0a3 3 0 1 0 -5.9 0M903.6 194.1a2.9 2.9 0 1 0 5.8 0a2.9 2.9 0 1 0 -5.8 0M893.6 166.6a2.1 2.1 0 1 0 4.2 0a2.1 2.1 0 1 0 -4.2 0M876.7 169.6a2.4 2.4 0 1 0 4.8 0a2.4 2.4 0 1 0 -4.8 0M914.2 191.4a2.9 2.9 0 1 0 5.7 0a2.9 2.9 0 1 0 -5.7 0" stroke="#B08C84" stroke-width="0.7" opacity="0.5" fill="#D8C2BC" fill-opacity="0.4"/>
<path d="M910.2 170.1a1.4 1.4 0 1 0 2.9 0a1.4 1.4 0 1 0 -2.9 0M898.3 154.3a1 1 0 1 0 2.1 0a1 1 0 1 0 -2.1 0M888.4 161.6a1.1 1.1 0 1 0 2.1 0a1.1 1.1 0 1 0 -2.1 0M889.6 174.6a1.2 1.2 0 1 0 2.3 0a1.2 1.2 0 1 0 -2.3 0M902 160a1.4 1.4 0 1 0 2.9 0a1.4 1.4 0 1 0 -2.9 0M924.2 175.1a1.1 1.1 0 1 0 2.3 0a1.1 1.1 0 1 0 -2.3 0" fill="#7E5A52" opacity="0.7"/>
<path d="M900.1 168a2.5 2.5 0 1 0 5.1 0a2.5 2.5 0 1 0 -5.1 0M915.9 179.3a2.1 2.1 0 1 0 4.3 0a2.1 2.1 0 1 0 -4.3 0M911.4 151.8a2 2 0 1 0 4 0a2 2 0 1 0 -4 0M918.6 174.1a1.8 1.8 0 1 0 3.7 0a1.8 1.8 0 1 0 -3.7 0" fill="#3EC29A" opacity="0.6"/>
</g>
<rect x="873.2" y="145.8" width="65.8" height="52.5" fill="none" stroke="#444" stroke-width="1.3"/>
<rect x="942.1" y="16.6" width="65.5" height="16.8" fill="#fff" stroke="#333" stroke-width="1.2"/>
<text x="974.9" y="29.4" font-size="10.5" text-anchor="middle" font-weight="bold" fill="#000">PMH</text>
<rect x="942.1" y="35.6" width="65.8" height="52.1" fill="#EEF3F0"/>
<g filter="url(#blur0)">
<path d="M978.7 69.8L970.2 73.1M945.2 48.3L948.9 51.4M977.1 75L985.6 76.3M969.8 55L959.2 61.8M992.1 76.6L992.5 86.2M999.9 54.5L1003.1 63M978.2 80.8L984.2 86.2M953.7 49.4L952.5 54.2" stroke="#BFB0AA" stroke-width="0.6" opacity="0.6" stroke-linecap="round" fill="none"/>
<path d="M956.6 57.1L964.1 57.9M984.6 43.5L975.6 48.2M997.7 73.4L1004.7 79.9M968.9 48.8L979.9 49.6M1001.8 45.5L998.7 49.3M975.7 44L972.7 50.3M961.3 37.1L952.6 38.9M954.6 79.4L960.5 80.4" stroke="#D0B4AE" stroke-width="1.3" opacity="0.4" stroke-linecap="round" fill="none"/>
<path d="M988.1 45L984.9 52.1M990.7 72.1L994.8 82.3M945.2 39.5L949.7 43.9M985.6 63.7L987.3 72.6M966.6 55L958.4 56M948.7 44.7L946.2 49.9M958.1 49.9L966.9 53.2M999.4 66.4L1001.5 71.6M986.9 83.7L990.9 86.2M1000.5 45.5L1006.4 50M956.9 58.4L963.6 61.3M943.6 79.9L954.6 81.4M972.1 47.4L978.8 47.6M953.6 80.1L962 81.2" stroke="#D8C0BA" stroke-width="2.2" opacity="0.3" stroke-linecap="round" fill="none"/>
<path d="M994.4 82.9a2.3 2.3 0 1 0 4.6 0a2.3 2.3 0 1 0 -4.6 0M944.8 54.5a1.8 1.8 0 1 0 3.7 0a1.8 1.8 0 1 0 -3.7 0M943.6 63a2.6 2.6 0 1 0 5.2 0a2.6 2.6 0 1 0 -5.2 0M1000.7 82.9a2 2 0 1 0 3.9 0a2 2 0 1 0 -3.9 0M999.2 83.5a2.8 2.8 0 1 0 5.6 0a2.8 2.8 0 1 0 -5.6 0M999.7 70.2a2.9 2.9 0 1 0 5.8 0a2.9 2.9 0 1 0 -5.8 0M964.4 68.9a1.9 1.9 0 1 0 3.7 0a1.9 1.9 0 1 0 -3.7 0" stroke="#B08C84" stroke-width="0.7" opacity="0.5" fill="#D8C2BC" fill-opacity="0.4"/>
<path d="M944.2 73.8a1.2 1.2 0 1 0 2.3 0a1.2 1.2 0 1 0 -2.3 0M951.9 67.2a0.9 0.9 0 1 0 1.8 0a0.9 0.9 0 1 0 -1.8 0M998.9 84.5a1.4 1.4 0 1 0 2.8 0a1.4 1.4 0 1 0 -2.8 0M966.6 44.9a1 1 0 1 0 2 0a1 1 0 1 0 -2 0M981.3 75.7a1 1 0 1 0 2 0a1 1 0 1 0 -2 0" fill="#7E5A52" opacity="0.7"/>
<path d="M1000.7 52.6a2.2 2.2 0 1 0 4.5 0a2.2 2.2 0 1 0 -4.5 0" fill="#3EC29A" opacity="0.6"/>
</g>
<rect x="942.1" y="35.6" width="65.8" height="52.1" fill="none" stroke="#444" stroke-width="1.3"/>
<rect x="942.1" y="91" width="65.8" height="51.8" fill="#EEF3F0"/>
<g filter="url(#blur0)">
<path d="M992.5 110.5L993.9 117.4M959.4 115.6L957.3 121.5M990 101L998.9 103.9M992.5 131.6L998.7 136.6M963.1 107L959.1 107.4M995.4 121.6L993 125.2M956.9 117.2L950.1 118.3M995.1 123.3L990.7 124.2" stroke="#BFB0AA" stroke-width="0.6" opacity="0.6" stroke-linecap="round" fill="none"/>
<path d="M945.8 129.1L955.2 137.1M951.7 97.5L952.7 108.8M1003.2 97.9L1004.9 104.7M991.7 118.7L998.3 122.3M996.3 92.5L998.3 97.7M955.2 137.3L951.5 140.4M1005.2 115.7L997.7 117.9M996.7 94L988.9 97.4M972.9 124.1L978 134.2M953.6 114L960.8 122.5M992.5 127.3L995.3 132.7M953 123.4L952.8 132.8M976.8 116.2L975.4 122.8M1001.5 132.2L1006.4 132.3M1000.5 94.1L1006.4 102.9M993.1 122.8L995.3 129.5" stroke="#D0B4AE" stroke-width="1.3" opacity="0.4" stroke-linecap="round" fill="none"/>
<path d="M970.3 94.8L967.9 104M982.1 94.7L983.1 103.3M964.6 118.8L961.3 122.7M957.3 92.8L956.7 98.2M998.1 127.5L1000.5 133.7M960 92.5L964.7 98M1002.1 123.1L999.3 135.6M974.7 94.6L979.6 95.5M964.3 136.3L974.6 138.5M979.5 95.4L973.4 102.8" stroke="#D8C0BA" stroke-width="2.2" opacity="0.3" stroke-linecap="round" fill="none"/>
<path d="M989 97.6a2.7 2.7 0 1 0 5.3 0a2.7 2.7 0 1 0 -5.3 0M976 135.3a2 2 0 1 0 4 0a2 2 0 1 0 -4 0M950.6 96.8a2.2 2.2 0 1 0 4.3 0a2.2 2.2 0 1 0 -4.3 0M973.8 111.1a3 3 0 1 0 5.9 0a3 3 0 1 0 -5.9 0M953.6 101a1.8 1.8 0 1 0 3.6 0a1.8 1.8 0 1 0 -3.6 0M987.7 115.1a2.2 2.2 0 1 0 4.4 0a2.2 2.2 0 1 0 -4.4 0M973.4 98.4a2.6 2.6 0 1 0 5.1 0a2.6 2.6 0 1 0 -5.1 0M982.4 138.1a2.9 2.9 0 1 0 5.8 0a2.9 2.9 0 1 0 -5.8 0" stroke="#B08C84" stroke-width="0.7" opacity="0.5" fill="#D8C2BC" fill-opacity="0.4"/>
<path d="M950.5 135.1a1.1 1.1 0 1 0 2.2 0a1.1 1.1 0 1 0 -2.2 0M966 97.9a1.2 1.2 0 1 0 2.5 0a1.2 1.2 0 1 0 -2.5 0M999.4 99.8a1.2 1.2 0 1 0 2.5 0a1.2 1.2 0 1 0 -2.5 0M983.8 125.3a0.9 0.9 0 1 0 1.9 0a0.9 0.9 0 1 0 -1.9 0M959.1 123.5a1.2 1.2 0 1 0 2.3 0a1.2 1.2 0 1 0 -2.3 0M964.7 113.5a1.1 1.1 0 1 0 2.3 0a1.1 1.1 0 1 0 -2.3 0" fill="#7E5A52" opacity="0.7"/>
<path d="M986.9 111.5a2.1 2.1 0 1 0 4.1 0a2.1 2.1 0 1 0 -4.1 0M957.2 117.7a1.6 1.6 0 1 0 3.2 0a1.6 1.6 0 1 0 -3.2 0" fill="#3EC29A" opacity="0.6"/>
</g>
<rect x="942.1" y="91" width="65.8" height="51.8" fill="none" stroke="#444" stroke-width="1.3"/>
<rect x="942.1" y="145.8" width="65.8" height="52.5" fill="#EEF3F0"/>
<g filter="url(#blur0)">
<path d="M980.6 184.2L976.3 187.7M979 158L976.3 162M998.8 151.6L995.7 161.1M956.3 181.8L949.6 185M963 161.8L969.4 165.1M951.9 190.5L947.5 193.1M995.1 186.6L992.7 193.1M997 150.4L992.4 151.2M983.1 188L977.3 189.7M948.8 148.6L947.1 153.4" stroke="#BFB0AA" stroke-width="0.6" opacity="0.6" stroke-linecap="round" fill="none"/>
<path d="M973.4 192.1L968.9 196.8M990.1 188.9L990 193.3M962.1 153.7L951.4 159.7M984.5 148.2L991.4 149.8M971 151.6L978.3 159.7M950.1 189.7L946.5 194.7M992.9 176.2L999.1 177.1M950.6 166.8L948.2 175.4M988 175.1L981.3 177.3" stroke="#D0B4AE" stroke-width="1.3" opacity="0.4" stroke-linecap="round" fill="none"/>
<path d="M958.6 159.5L956.1 167.8M961.3 178.8L970 179.1M943.6 171.5L949.1 175.2M946.1 156.4L947.7 162M950.4 171.1L950.5 180.1M994.2 183.4L1005.9 183.9M956.3 157L960.5 163M959.3 183.4L958.7 194.6M963.2 183.9L957.6 187.9M968.7 150.4L969.5 155.8M956.4 155.7L958 160" stroke="#D8C0BA" stroke-width="2.2" opacity="0.3" stroke-linecap="round" fill="none"/>
<path d="M968.2 162.3a3 3 0 1 0 6 0a3 3 0 1 0 -6 0M963.1 186.2a2.6 2.6 0 1 0 5.2 0a2.6 2.6 0 1 0 -5.2 0M959.3 156.6a2.3 2.3 0 1 0 4.7 0a2.3 2.3 0 1 0 -4.7 0M963 171.2a2.6 2.6 0 1 0 5.2 0a2.6 2.6 0 1 0 -5.2 0M962.5 179.2a2.4 2.4 0 1 0 4.7 0a2.4 2.4 0 1 0 -4.7 0M979.1 174.5a2.8 2.8 0 1 0 5.7 0a2.8 2.8 0 1 0 -5.7 0M979.2 162.9a2.7 2.7 0 1 0 5.4 0a2.7 2.7 0 1 0 -5.4 0" stroke="#B08C84" stroke-width="0.7" opacity="0.5" fill="#D8C2BC" fill-opacity="0.4"/>
<path d="M966.1 163.9a1.1 1.1 0 1 0 2.3 0a1.1 1.1 0 1 0 -2.3 0M944.7 163.9a1.1 1.1 0 1 0 2.1 0a1.1 1.1 0 1 0 -2.1 0M997.4 162.1a1.3 1.3 0 1 0 2.6 0a1.3 1.3 0 1 0 -2.6 0M949.5 159.1a1.4 1.4 0 1 0 2.8 0a1.4 1.4 0 1 0 -2.8 0M956.8 151.1a1.5 1.5 0 1 0 2.9 0a1.5 1.5 0 1 0 -2.9 0" fill="#7E5A52" opacity="0.7"/>
<path d="M979.3 186.6a2.5 2.5 0 1 0 5.1 0a2.5 2.5 0 1 0 -5.1 0M983.5 179.8a2.2 2.2 0 1 0 4.4 0a2.2 2.2 0 1 0 -4.4 0M951.9 170.9a2.4 2.4 0 1 0 4.8 0a2.4 2.4 0 1 0 -4.8 0" fill="#3EC29A" opacity="0.6"/>
</g>
<rect x="942.1" y="145.8" width="65.8" height="52.5" fill="none" stroke="#444" stroke-width="1.3"/>
<rect x="1010.3" y="16.6" width="65.5" height="16.8" fill="#fff" stroke="#333" stroke-width="1.2"/>
<text x="1043" y="29.4" font-size="10.5" text-anchor="middle" font-weight="bold" fill="#000">BMSCs</text>
<rect x="1010.3" y="35.6" width="65.8" height="52.1" fill="#EDEAE6"/>
<g filter="url(#blur0)">
<path d="M1020.1 46.4L1020.8 55.7M1070 70.9L1071.5 75.6M1066.2 45.7L1070.5 49.6M1057.6 50.2L1060.7 62.1M1046 70.4L1046.7 76M1042.9 65.5L1049.9 68.3M1060 66.1L1060.8 71.7" stroke="#BFB0AA" stroke-width="0.6" opacity="0.6" stroke-linecap="round" fill="none"/>
<path d="M1061.5 52.8L1069.6 54.8M1067.5 65.3L1063.1 65.4M1014.7 44.6L1011.8 50.6M1017.7 83L1021.3 86.2M1046.4 67.2L1050.6 74.4M1034.3 69.2L1040 73.4M1029.7 44.3L1026.9 55.7" stroke="#D0B4AE" stroke-width="1.3" opacity="0.4" stroke-linecap="round" fill="none"/>
<path d="M1040.6 76.9L1049.4 80.6M1028.9 48.8L1037.3 52.3M1066.2 52.5L1060.7 56.6M1038.6 39.6L1039 47.5M1032.7 41.1L1037.7 51.8M1039.5 58.9L1050.1 64.7" stroke="#D8C0BA" stroke-width="2.2" opacity="0.3" stroke-linecap="round" fill="none"/>
<path d="M1023.2 54.3a2.8 2.8 0 1 0 5.6 0a2.8 2.8 0 1 0 -5.6 0M1037 68.9a2.2 2.2 0 1 0 4.3 0a2.2 2.2 0 1 0 -4.3 0M1067.2 44a2.6 2.6 0 1 0 5.1 0a2.6 2.6 0 1 0 -5.1 0M1055.1 80.4a2.2 2.2 0 1 0 4.5 0a2.2 2.2 0 1 0 -4.5 0" stroke="#B08C84" stroke-width="0.7" opacity="0.5" fill="#D8C2BC" fill-opacity="0.4"/>
<path d="M1034 43.5a0.9 0.9 0 1 0 1.8 0a0.9 0.9 0 1 0 -1.8 0M1048.1 77.2a1.4 1.4 0 1 0 2.7 0a1.4 1.4 0 1 0 -2.7 0M1066.4 80.6a1.1 1.1 0 1 0 2.2 0a1.1 1.1 0 1 0 -2.2 0" fill="#7E5A52" opacity="0.7"/>
</g>
<rect x="1010.3" y="35.6" width="65.8" height="52.1" fill="none" stroke="#444" stroke-width="1.3"/>
<rect x="1010.3" y="91" width="65.8" height="51.8" fill="#EEF3F0"/>
<g filter="url(#blur0)">
<path d="M1038.4 112.9L1030.9 117.6M1042.9 106.7L1044.7 111.4M1067.7 121.3L1065.5 125.4M1043.8 123.9L1043.4 132.6M1041.4 128.7L1050.2 132.9M1065.5 114.8L1069.9 120.3M1024 137.6L1016.1 140.3M1026.5 113.1L1021.6 119.5M1017 98.5L1011.8 102.2" stroke="#BFB0AA" stroke-width="0.6" opacity="0.6" stroke-linecap="round" fill="none"/>
<path d="M1074.6 96.5L1067.8 96.5M1057.8 94.2L1051.2 94.8M1038.9 125.3L1032.9 132.4M1028.7 103L1029.7 108M1048.8 114.6L1045.9 123.9M1047.8 135.4L1039.7 140.2" stroke="#D0B4AE" stroke-width="1.3" opacity="0.4" stroke-linecap="round" fill="none"/>
<path d="M1036 92.5L1039 99M1028.9 97.1L1037 106.1M1059.5 92.5L1056.5 100.8M1052.7 125.3L1049.9 129.3M1017.7 103L1019 113.9M1074.6 92.5L1067.2 100.2M1061.6 98.2L1064.7 101.3M1074.6 113.6L1069.5 116.6M1014.3 107.2L1017.9 110.9M1036.5 102.7L1031.1 113.5M1033.9 104.2L1040.5 105.4M1029.1 121L1039.8 121.8" stroke="#D8C0BA" stroke-width="2.2" opacity="0.3" stroke-linecap="round" fill="none"/>
<path d="M1064.7 134.8a2 2 0 1 0 4 0a2 2 0 1 0 -4 0M1061.3 120.6a1.8 1.8 0 1 0 3.6 0a1.8 1.8 0 1 0 -3.6 0M1026.3 127.7a2.3 2.3 0 1 0 4.5 0a2.3 2.3 0 1 0 -4.5 0M1027.4 109.7a2.3 2.3 0 1 0 4.6 0a2.3 2.3 0 1 0 -4.6 0M1056.7 114.4a2.9 2.9 0 1 0 5.7 0a2.9 2.9 0 1 0 -5.7 0M1053.5 115.7a3 3 0 1 0 6 0a3 3 0 1 0 -6 0" stroke="#B08C84" stroke-width="0.7" opacity="0.5" fill="#D8C2BC" fill-opacity="0.4"/>
<path d="M1028.5 128.9a1.2 1.2 0 1 0 2.4 0a1.2 1.2 0 1 0 -2.4 0M1032.5 97.4a1.1 1.1 0 1 0 2.2 0a1.1 1.1 0 1 0 -2.2 0M1070.8 100.5a1.1 1.1 0 1 0 2.3 0a1.1 1.1 0 1 0 -2.3 0M1045.5 112a1 1 0 1 0 1.9 0a1 1 0 1 0 -1.9 0" fill="#7E5A52" opacity="0.7"/>
<path d="M1030.5 118.5a2.2 2.2 0 1 0 4.4 0a2.2 2.2 0 1 0 -4.4 0M1048.6 97.4a2.1 2.1 0 1 0 4.2 0a2.1 2.1 0 1 0 -4.2 0M1024.7 136.7a2 2 0 1 0 4 0a2 2 0 1 0 -4 0M1016.2 116.1a1.9 1.9 0 1 0 3.7 0a1.9 1.9 0 1 0 -3.7 0M1031.8 117.9a2.4 2.4 0 1 0 4.9 0a2.4 2.4 0 1 0 -4.9 0" fill="#3EC29A" opacity="0.6"/>
</g>
<rect x="1010.3" y="91" width="65.8" height="51.8" fill="none" stroke="#444" stroke-width="1.3"/>
<rect x="1010.3" y="145.8" width="65.8" height="52.5" fill="#EEF3F0"/>
<g filter="url(#blur0)">
<path d="M1065.3 151.3L1066.2 162.3M1011.8 151.2L1014.1 163.6M1055.9 186.3L1055.4 196.8M1049.5 150.1L1048.8 156.9M1057.2 186.6L1061.2 187.6M1070.4 170.9L1067.2 176.5" stroke="#BFB0AA" stroke-width="0.6" opacity="0.6" stroke-linecap="round" fill="none"/>
<path d="M1033.2 166.9L1022.5 171.4M1070.9 193.9L1061 194.5M1053.9 165.6L1052.1 175.6M1049.6 186.2L1039 193.5M1041.9 157.1L1051.8 163.2M1019.3 191.5L1025.6 196.8M1016 154.6L1019.5 160.7" stroke="#D0B4AE" stroke-width="1.3" opacity="0.4" stroke-linecap="round" fill="none"/>
<path d="M1048.3 176.2L1054.4 182.9M1029.4 147.3L1025.7 158.1M1047.2 163.3L1036.3 170.3M1022.7 174L1019.9 184.6M1019 185.7L1011.8 185.7M1035.9 189.3L1046.7 193.9M1062.6 176.2L1058.7 179.2M1043 173.4L1040.2 182.7M1050.6 181.3L1059.3 185.5M1069.8 168.2L1063.3 175.5" stroke="#D8C0BA" stroke-width="2.2" opacity="0.3" stroke-linecap="round" fill="none"/>
<path d="M1027.5 180.9a1.9 1.9 0 1 0 3.9 0a1.9 1.9 0 1 0 -3.9 0M1051.5 181.4a2.5 2.5 0 1 0 5 0a2.5 2.5 0 1 0 -5 0M1014 184.3a1.9 1.9 0 1 0 3.9 0a1.9 1.9 0 1 0 -3.9 0M1038.9 182.6a1.8 1.8 0 1 0 3.7 0a1.8 1.8 0 1 0 -3.7 0M1056.8 162.6a1.9 1.9 0 1 0 3.7 0a1.9 1.9 0 1 0 -3.7 0" stroke="#B08C84" stroke-width="0.7" opacity="0.5" fill="#D8C2BC" fill-opacity="0.4"/>
<path d="M1017 193.3a1.2 1.2 0 1 0 2.4 0a1.2 1.2 0 1 0 -2.4 0M1033.8 183.3a1.4 1.4 0 1 0 2.7 0a1.4 1.4 0 1 0 -2.7 0M1042.1 189a1.4 1.4 0 1 0 2.8 0a1.4 1.4 0 1 0 -2.8 0M1066.4 176.4a1 1 0 1 0 2 0a1 1 0 1 0 -2 0" fill="#7E5A52" opacity="0.7"/>
<path d="M1017.8 180.5a2.2 2.2 0 1 0 4.5 0a2.2 2.2 0 1 0 -4.5 0" fill="#3EC29A" opacity="0.6"/>
</g>
<rect x="1010.3" y="145.8" width="65.8" height="52.5" fill="none" stroke="#444" stroke-width="1.3"/>
<rect x="370.6" y="33.8" width="17.5" height="51.8" fill="#fff" stroke="#333" stroke-width="1.2"/>
<text x="383.5" y="59.7" font-size="11" text-anchor="middle" font-weight="bold" fill="#000" transform="rotate(-90 383.5 59.7)">Young</text>
<rect x="370.6" y="88.6" width="17.5" height="52.4" fill="#fff" stroke="#333" stroke-width="1.2"/>
<text x="383.5" y="114.8" font-size="11" text-anchor="middle" font-weight="bold" fill="#000" transform="rotate(-90 383.5 114.8)">SEN</text>
<rect x="370.6" y="144.3" width="17.5" height="53.7" fill="#fff" stroke="#333" stroke-width="1.2"/>
<text x="383.5" y="171.2" font-size="8.5" text-anchor="middle" font-weight="bold" fill="#000" transform="rotate(-90 383.5 171.2)">SEN+GAA</text>
<text x="445" y="78" font-size="4.5" text-anchor="middle" font-weight="bold" fill="#000">50μm</text>
<line x1="435.7" y1="82.5" x2="453.8" y2="82.5" stroke="#000" stroke-width="1.6"/>
<rect x="398.8" y="268.6" width="14.3" height="4.7" fill="#fff" stroke="#333" stroke-width="0.9"/>
<line x1="405.9" y1="268" x2="405.9" y2="269.3" stroke="#000" stroke-width="0.9"/>
<line x1="403.4" y1="268" x2="408.4" y2="268" stroke="#000" stroke-width="0.9"/>
<line x1="403.4" y1="269.3" x2="408.4" y2="269.3" stroke="#000" stroke-width="0.9"/>
<circle cx="403.3" cy="269.2" r="1.3" fill="#111"/>
<circle cx="405.9" cy="268.5" r="1.3" fill="#111"/>
<circle cx="408.5" cy="268" r="1.3" fill="#111"/>
<text x="405.9" y="286.5" font-size="9.5" text-anchor="middle" font-weight="normal" fill="#000">Y</text>
<line x1="405.9" y1="273.3" x2="405.9" y2="276.3" stroke="#000" stroke-width="1"/>
<rect x="413.1" y="223.7" width="14.3" height="49.6" fill="#F23D3D" stroke="#333" stroke-width="0.9"/>
<line x1="420.2" y1="218.4" x2="420.2" y2="229.1" stroke="#000" stroke-width="0.9"/>
<line x1="417.7" y1="218.4" x2="422.7" y2="218.4" stroke="#000" stroke-width="0.9"/>
<line x1="417.7" y1="229.1" x2="422.7" y2="229.1" stroke="#000" stroke-width="0.9"/>
<circle cx="417.6" cy="230.7" r="1.3" fill="#111"/>
<circle cx="420.2" cy="224.4" r="1.3" fill="#111"/>
<circle cx="422.8" cy="218.9" r="1.3" fill="#111"/>
<text x="420.2" y="286.5" font-size="9.5" text-anchor="middle" font-weight="normal" fill="#000">S</text>
<line x1="420.2" y1="273.3" x2="420.2" y2="276.3" stroke="#000" stroke-width="1"/>
<rect x="427.4" y="251.6" width="14.3" height="21.7" fill="#D6D6D6" stroke="#333" stroke-width="0.9"/>
<line x1="434.5" y1="247.4" x2="434.5" y2="255.9" stroke="#000" stroke-width="0.9"/>
<line x1="432" y1="247.4" x2="437" y2="247.4" stroke="#000" stroke-width="0.9"/>
<line x1="432" y1="255.9" x2="437" y2="255.9" stroke="#000" stroke-width="0.9"/>
<circle cx="431.9" cy="255.8" r="1.3" fill="#111"/>
<circle cx="434.5" cy="250.6" r="1.3" fill="#111"/>
<circle cx="437.1" cy="245.7" r="1.3" fill="#111"/>
<text x="434.5" y="286.5" font-size="9.5" text-anchor="middle" font-weight="normal" fill="#000">G</text>
<line x1="434.5" y1="273.3" x2="434.5" y2="276.3" stroke="#000" stroke-width="1"/>
<line x1="393.8" y1="209.5" x2="393.8" y2="273.9" stroke="#000" stroke-width="1.2"/>
<line x1="393.1" y1="273.3" x2="448.6" y2="273.3" stroke="#000" stroke-width="1.2"/>
<line x1="390.2" y1="273.3" x2="393.8" y2="273.3" stroke="#000" stroke-width="1"/>
<text x="389.2" y="276.6" font-size="9.2" text-anchor="end" font-weight="normal" fill="#000">0</text>
<line x1="390.2" y1="252" x2="393.8" y2="252" stroke="#000" stroke-width="1"/>
<text x="389.2" y="255.3" font-size="9.2" text-anchor="end" font-weight="normal" fill="#000">10</text>
<line x1="390.2" y1="230.8" x2="393.8" y2="230.8" stroke="#000" stroke-width="1"/>
<text x="389.2" y="234.1" font-size="9.2" text-anchor="end" font-weight="normal" fill="#000">20</text>
<line x1="390.2" y1="209.5" x2="393.8" y2="209.5" stroke="#000" stroke-width="1"/>
<text x="389.2" y="212.8" font-size="9.2" text-anchor="end" font-weight="normal" fill="#000">30</text>
<line x1="404.9" y1="210.3" x2="418.7" y2="210.3" stroke="#000" stroke-width="1.2"/>
<line x1="421.7" y1="210.3" x2="435.5" y2="210.3" stroke="#000" stroke-width="1.2"/>
<text x="413" y="210.5" font-size="8.5" text-anchor="middle" font-weight="normal" fill="#000">***</text>
<text x="427.4" y="210.5" font-size="8.5" text-anchor="middle" font-weight="normal" fill="#000">***</text>
<rect x="471.8" y="272.7" width="14.3" height="0.6" fill="#fff" stroke="#333" stroke-width="0.9"/>
<line x1="478.9" y1="272.5" x2="478.9" y2="272.9" stroke="#000" stroke-width="0.9"/>
<line x1="476.4" y1="272.5" x2="481.4" y2="272.5" stroke="#000" stroke-width="0.9"/>
<line x1="476.4" y1="272.9" x2="481.4" y2="272.9" stroke="#000" stroke-width="0.9"/>
<circle cx="476.3" cy="272.9" r="1.3" fill="#111"/>
<circle cx="478.9" cy="272.7" r="1.3" fill="#111"/>
<circle cx="481.5" cy="272.4" r="1.3" fill="#111"/>
<text x="478.9" y="286.5" font-size="9.5" text-anchor="middle" font-weight="normal" fill="#000">Y</text>
<line x1="478.9" y1="273.3" x2="478.9" y2="276.3" stroke="#000" stroke-width="1"/>
<rect x="486.1" y="225.4" width="14.3" height="47.9" fill="#F23D3D" stroke="#333" stroke-width="0.9"/>
<line x1="493.2" y1="224.8" x2="493.2" y2="226.1" stroke="#000" stroke-width="0.9"/>
<line x1="490.7" y1="224.8" x2="495.7" y2="224.8" stroke="#000" stroke-width="0.9"/>
<line x1="490.7" y1="226.1" x2="495.7" y2="226.1" stroke="#000" stroke-width="0.9"/>
<circle cx="490.6" cy="226.3" r="1.3" fill="#111"/>
<circle cx="493.2" cy="225.6" r="1.3" fill="#111"/>
<circle cx="495.8" cy="224.9" r="1.3" fill="#111"/>
<text x="493.2" y="286.5" font-size="9.5" text-anchor="middle" font-weight="normal" fill="#000">S</text>
<line x1="493.2" y1="273.3" x2="493.2" y2="276.3" stroke="#000" stroke-width="1"/>
<rect x="500.4" y="251.3" width="14.3" height="22" fill="#D6D6D6" stroke="#333" stroke-width="0.9"/>
<line x1="507.5" y1="250.7" x2="507.5" y2="251.9" stroke="#000" stroke-width="0.9"/>
<line x1="505" y1="250.7" x2="510" y2="250.7" stroke="#000" stroke-width="0.9"/>
<line x1="505" y1="251.9" x2="510" y2="251.9" stroke="#000" stroke-width="0.9"/>
<circle cx="504.9" cy="252.1" r="1.3" fill="#111"/>
<circle cx="507.5" cy="251.3" r="1.3" fill="#111"/>
<circle cx="510.1" cy="250.8" r="1.3" fill="#111"/>
<text x="507.5" y="286.5" font-size="9.5" text-anchor="middle" font-weight="normal" fill="#000">G</text>
<line x1="507.5" y1="273.3" x2="507.5" y2="276.3" stroke="#000" stroke-width="1"/>
<line x1="465" y1="209.5" x2="465" y2="273.9" stroke="#000" stroke-width="1.2"/>
<line x1="464.4" y1="273.3" x2="521.6" y2="273.3" stroke="#000" stroke-width="1.2"/>
<line x1="461.5" y1="273.3" x2="465" y2="273.3" stroke="#000" stroke-width="1"/>
<text x="460.5" y="276.6" font-size="9.2" text-anchor="end" font-weight="normal" fill="#000">0</text>
<line x1="461.5" y1="260.5" x2="465" y2="260.5" stroke="#000" stroke-width="1"/>
<text x="460.5" y="263.8" font-size="9.2" text-anchor="end" font-weight="normal" fill="#000">20</text>
<line x1="461.5" y1="247.8" x2="465" y2="247.8" stroke="#000" stroke-width="1"/>
<text x="460.5" y="251.1" font-size="9.2" text-anchor="end" font-weight="normal" fill="#000">40</text>
<line x1="461.5" y1="235" x2="465" y2="235" stroke="#000" stroke-width="1"/>
<text x="460.5" y="238.3" font-size="9.2" text-anchor="end" font-weight="normal" fill="#000">60</text>
<line x1="461.5" y1="222.3" x2="465" y2="222.3" stroke="#000" stroke-width="1"/>
<text x="460.5" y="225.6" font-size="9.2" text-anchor="end" font-weight="normal" fill="#000">80</text>
<line x1="461.5" y1="209.5" x2="465" y2="209.5" stroke="#000" stroke-width="1"/>
<text x="460.5" y="212.8" font-size="9.2" text-anchor="end" font-weight="normal" fill="#000">100</text>
<line x1="477.9" y1="210.3" x2="491.7" y2="210.3" stroke="#000" stroke-width="1.2"/>
<line x1="494.7" y1="210.3" x2="508.5" y2="210.3" stroke="#000" stroke-width="1.2"/>
<text x="486" y="210.5" font-size="8.5" text-anchor="middle" font-weight="normal" fill="#000">***</text>
<text x="500.4" y="210.5" font-size="8.5" text-anchor="middle" font-weight="normal" fill="#000">***</text>
<rect x="538" y="269" width="14.3" height="4.3" fill="#fff" stroke="#333" stroke-width="0.9"/>
<line x1="545.1" y1="268.2" x2="545.1" y2="269.9" stroke="#000" stroke-width="0.9"/>
<line x1="542.6" y1="268.2" x2="547.6" y2="268.2" stroke="#000" stroke-width="0.9"/>
<line x1="542.6" y1="269.9" x2="547.6" y2="269.9" stroke="#000" stroke-width="0.9"/>
<circle cx="542.5" cy="270" r="1.3" fill="#111"/>
<circle cx="545.1" cy="268.9" r="1.3" fill="#111"/>
<circle cx="547.8" cy="268.4" r="1.3" fill="#111"/>
<text x="545.1" y="286.5" font-size="9.5" text-anchor="middle" font-weight="normal" fill="#000">Y</text>
<line x1="545.1" y1="273.3" x2="545.1" y2="276.3" stroke="#000" stroke-width="1"/>
<rect x="552.3" y="226.7" width="14.3" height="46.6" fill="#F23D3D" stroke="#333" stroke-width="0.9"/>
<line x1="559.4" y1="222.5" x2="559.4" y2="231" stroke="#000" stroke-width="0.9"/>
<line x1="556.9" y1="222.5" x2="561.9" y2="222.5" stroke="#000" stroke-width="0.9"/>
<line x1="556.9" y1="231" x2="561.9" y2="231" stroke="#000" stroke-width="0.9"/>
<circle cx="556.8" cy="231.8" r="1.3" fill="#111"/>
<circle cx="559.4" cy="227.8" r="1.3" fill="#111"/>
<circle cx="562" cy="222" r="1.3" fill="#111"/>
<text x="559.4" y="286.5" font-size="9.5" text-anchor="middle" font-weight="normal" fill="#000">S</text>
<line x1="559.4" y1="273.3" x2="559.4" y2="276.3" stroke="#000" stroke-width="1"/>
<rect x="566.6" y="256.5" width="14.3" height="16.8" fill="#D6D6D6" stroke="#333" stroke-width="0.9"/>
<line x1="573.8" y1="254.4" x2="573.8" y2="258.6" stroke="#000" stroke-width="0.9"/>
<line x1="571.2" y1="254.4" x2="576.2" y2="254.4" stroke="#000" stroke-width="0.9"/>
<line x1="571.2" y1="258.6" x2="576.2" y2="258.6" stroke="#000" stroke-width="0.9"/>
<circle cx="571.1" cy="258.8" r="1.3" fill="#111"/>
<circle cx="573.8" cy="256.2" r="1.3" fill="#111"/>
<circle cx="576.4" cy="253.7" r="1.3" fill="#111"/>
<text x="573.8" y="286.5" font-size="9.5" text-anchor="middle" font-weight="normal" fill="#000">G</text>
<line x1="573.8" y1="273.3" x2="573.8" y2="276.3" stroke="#000" stroke-width="1"/>
<line x1="531.2" y1="209.5" x2="531.2" y2="273.9" stroke="#000" stroke-width="1.2"/>
<line x1="530.6" y1="273.3" x2="587.9" y2="273.3" stroke="#000" stroke-width="1.2"/>
<line x1="527.8" y1="273.3" x2="531.2" y2="273.3" stroke="#000" stroke-width="1"/>
<text x="526.8" y="276.6" font-size="9.2" text-anchor="end" font-weight="normal" fill="#000">0</text>
<line x1="527.8" y1="252" x2="531.2" y2="252" stroke="#000" stroke-width="1"/>
<text x="526.8" y="255.3" font-size="9.2" text-anchor="end" font-weight="normal" fill="#000">10</text>
<line x1="527.8" y1="230.8" x2="531.2" y2="230.8" stroke="#000" stroke-width="1"/>
<text x="526.8" y="234.1" font-size="9.2" text-anchor="end" font-weight="normal" fill="#000">20</text>
<line x1="527.8" y1="209.5" x2="531.2" y2="209.5" stroke="#000" stroke-width="1"/>
<text x="526.8" y="212.8" font-size="9.2" text-anchor="end" font-weight="normal" fill="#000">30</text>
<line x1="544.1" y1="210.3" x2="558" y2="210.3" stroke="#000" stroke-width="1.2"/>
<line x1="561" y1="210.3" x2="574.8" y2="210.3" stroke="#000" stroke-width="1.2"/>
<text x="552.3" y="210.5" font-size="8.5" text-anchor="middle" font-weight="normal" fill="#000">***</text>
<text x="566.6" y="210.5" font-size="8.5" text-anchor="middle" font-weight="normal" fill="#000">***</text>
<rect x="607" y="270.7" width="14.3" height="2.6" fill="#fff" stroke="#333" stroke-width="0.9"/>
<line x1="614.1" y1="270.2" x2="614.1" y2="271.3" stroke="#000" stroke-width="0.9"/>
<line x1="611.6" y1="270.2" x2="616.6" y2="270.2" stroke="#000" stroke-width="0.9"/>
<line x1="611.6" y1="271.3" x2="616.6" y2="271.3" stroke="#000" stroke-width="0.9"/>
<circle cx="611.5" cy="271.5" r="1.3" fill="#111"/>
<circle cx="614.1" cy="270.9" r="1.3" fill="#111"/>
<circle cx="616.8" cy="270.1" r="1.3" fill="#111"/>
<text x="614.1" y="286.5" font-size="9.5" text-anchor="middle" font-weight="normal" fill="#000">Y</text>
<line x1="614.1" y1="273.3" x2="614.1" y2="276.3" stroke="#000" stroke-width="1"/>
<rect x="621.3" y="217.7" width="14.3" height="55.6" fill="#F23D3D" stroke="#333" stroke-width="0.9"/>
<line x1="628.4" y1="215.1" x2="628.4" y2="220.2" stroke="#000" stroke-width="0.9"/>
<line x1="625.9" y1="215.1" x2="630.9" y2="215.1" stroke="#000" stroke-width="0.9"/>
<line x1="625.9" y1="220.2" x2="630.9" y2="220.2" stroke="#000" stroke-width="0.9"/>
<circle cx="625.8" cy="220.3" r="1.3" fill="#111"/>
<circle cx="628.4" cy="217.8" r="1.3" fill="#111"/>
<circle cx="631" cy="214.6" r="1.3" fill="#111"/>
<text x="628.4" y="286.5" font-size="9.5" text-anchor="middle" font-weight="normal" fill="#000">S</text>
<line x1="628.4" y1="273.3" x2="628.4" y2="276.3" stroke="#000" stroke-width="1"/>
<rect x="635.6" y="228.9" width="14.3" height="44.4" fill="#D6D6D6" stroke="#333" stroke-width="0.9"/>
<line x1="642.8" y1="225.8" x2="642.8" y2="232" stroke="#000" stroke-width="0.9"/>
<line x1="640.2" y1="225.8" x2="645.2" y2="225.8" stroke="#000" stroke-width="0.9"/>
<line x1="640.2" y1="232" x2="645.2" y2="232" stroke="#000" stroke-width="0.9"/>
<circle cx="640.1" cy="232.6" r="1.3" fill="#111"/>
<circle cx="642.8" cy="228.4" r="1.3" fill="#111"/>
<circle cx="645.4" cy="225.6" r="1.3" fill="#111"/>
<text x="642.8" y="286.5" font-size="9.5" text-anchor="middle" font-weight="normal" fill="#000">G</text>
<line x1="642.8" y1="273.3" x2="642.8" y2="276.3" stroke="#000" stroke-width="1"/>
<line x1="599" y1="209.5" x2="599" y2="273.9" stroke="#000" stroke-width="1.2"/>
<line x1="598.4" y1="273.3" x2="656.9" y2="273.3" stroke="#000" stroke-width="1.2"/>
<line x1="595.5" y1="273.3" x2="599" y2="273.3" stroke="#000" stroke-width="1"/>
<text x="594.5" y="276.6" font-size="9.2" text-anchor="end" font-weight="normal" fill="#000">0</text>
<line x1="595.5" y1="260.5" x2="599" y2="260.5" stroke="#000" stroke-width="1"/>
<text x="594.5" y="263.8" font-size="9.2" text-anchor="end" font-weight="normal" fill="#000">5</text>
<line x1="595.5" y1="247.8" x2="599" y2="247.8" stroke="#000" stroke-width="1"/>
<text x="594.5" y="251.1" font-size="9.2" text-anchor="end" font-weight="normal" fill="#000">10</text>
<line x1="595.5" y1="235" x2="599" y2="235" stroke="#000" stroke-width="1"/>
<text x="594.5" y="238.3" font-size="9.2" text-anchor="end" font-weight="normal" fill="#000">15</text>
<line x1="595.5" y1="222.3" x2="599" y2="222.3" stroke="#000" stroke-width="1"/>
<text x="594.5" y="225.6" font-size="9.2" text-anchor="end" font-weight="normal" fill="#000">20</text>
<line x1="595.5" y1="209.5" x2="599" y2="209.5" stroke="#000" stroke-width="1"/>
<text x="594.5" y="212.8" font-size="9.2" text-anchor="end" font-weight="normal" fill="#000">25</text>
<line x1="613.1" y1="210.3" x2="627" y2="210.3" stroke="#000" stroke-width="1.2"/>
<line x1="630" y1="210.3" x2="643.8" y2="210.3" stroke="#000" stroke-width="1.2"/>
<text x="621.3" y="210.5" font-size="8.5" text-anchor="middle" font-weight="normal" fill="#000">***</text>
<text x="635.6" y="210.5" font-size="8.5" text-anchor="middle" font-weight="normal" fill="#000">*</text>
<rect x="676" y="272.8" width="14.3" height="0.5" fill="#fff" stroke="#333" stroke-width="0.9"/>
<line x1="683.1" y1="272.6" x2="683.1" y2="273.1" stroke="#000" stroke-width="0.9"/>
<line x1="680.6" y1="272.6" x2="685.6" y2="272.6" stroke="#000" stroke-width="0.9"/>
<line x1="680.6" y1="273.1" x2="685.6" y2="273.1" stroke="#000" stroke-width="0.9"/>
<circle cx="680.5" cy="273.1" r="1.3" fill="#111"/>
<circle cx="683.1" cy="272.9" r="1.3" fill="#111"/>
<circle cx="685.8" cy="272.5" r="1.3" fill="#111"/>
<text x="683.1" y="286.5" font-size="9.5" text-anchor="middle" font-weight="normal" fill="#000">Y</text>
<line x1="683.1" y1="273.3" x2="683.1" y2="276.3" stroke="#000" stroke-width="1"/>
<rect x="690.3" y="228.2" width="14.3" height="45.1" fill="#F23D3D" stroke="#333" stroke-width="0.9"/>
<line x1="697.4" y1="225.8" x2="697.4" y2="230.6" stroke="#000" stroke-width="0.9"/>
<line x1="694.9" y1="225.8" x2="699.9" y2="225.8" stroke="#000" stroke-width="0.9"/>
<line x1="694.9" y1="230.6" x2="699.9" y2="230.6" stroke="#000" stroke-width="0.9"/>
<circle cx="694.8" cy="230.9" r="1.3" fill="#111"/>
<circle cx="697.4" cy="228.6" r="1.3" fill="#111"/>
<circle cx="700" cy="225.2" r="1.3" fill="#111"/>
<text x="697.4" y="286.5" font-size="9.5" text-anchor="middle" font-weight="normal" fill="#000">S</text>
<line x1="697.4" y1="273.3" x2="697.4" y2="276.3" stroke="#000" stroke-width="1"/>
<rect x="704.6" y="250.6" width="14.3" height="22.7" fill="#D6D6D6" stroke="#333" stroke-width="0.9"/>
<line x1="711.8" y1="249" x2="711.8" y2="252.2" stroke="#000" stroke-width="0.9"/>
<line x1="709.2" y1="249" x2="714.2" y2="249" stroke="#000" stroke-width="0.9"/>
<line x1="709.2" y1="252.2" x2="714.2" y2="252.2" stroke="#000" stroke-width="0.9"/>
<circle cx="709.1" cy="252" r="1.3" fill="#111"/>
<circle cx="711.8" cy="251" r="1.3" fill="#111"/>
<circle cx="714.4" cy="248.4" r="1.3" fill="#111"/>
<text x="711.8" y="286.5" font-size="9.5" text-anchor="middle" font-weight="normal" fill="#000">G</text>
<line x1="711.8" y1="273.3" x2="711.8" y2="276.3" stroke="#000" stroke-width="1"/>
<line x1="671.2" y1="209.5" x2="671.2" y2="273.9" stroke="#000" stroke-width="1.2"/>
<line x1="670.6" y1="273.3" x2="725.9" y2="273.3" stroke="#000" stroke-width="1.2"/>
<line x1="667.8" y1="273.3" x2="671.2" y2="273.3" stroke="#000" stroke-width="1"/>
<text x="666.8" y="276.6" font-size="9.2" text-anchor="end" font-weight="normal" fill="#000">0</text>
<line x1="667.8" y1="257.4" x2="671.2" y2="257.4" stroke="#000" stroke-width="1"/>
<text x="666.8" y="260.7" font-size="9.2" text-anchor="end" font-weight="normal" fill="#000">20</text>
<line x1="667.8" y1="241.4" x2="671.2" y2="241.4" stroke="#000" stroke-width="1"/>
<text x="666.8" y="244.7" font-size="9.2" text-anchor="end" font-weight="normal" fill="#000">40</text>
<line x1="667.8" y1="225.4" x2="671.2" y2="225.4" stroke="#000" stroke-width="1"/>
<text x="666.8" y="228.8" font-size="9.2" text-anchor="end" font-weight="normal" fill="#000">60</text>
<line x1="667.8" y1="209.5" x2="671.2" y2="209.5" stroke="#000" stroke-width="1"/>
<text x="666.8" y="212.8" font-size="9.2" text-anchor="end" font-weight="normal" fill="#000">80</text>
<line x1="682.1" y1="210.3" x2="696" y2="210.3" stroke="#000" stroke-width="1.2"/>
<line x1="699" y1="210.3" x2="712.8" y2="210.3" stroke="#000" stroke-width="1.2"/>
<text x="690.3" y="210.5" font-size="8.5" text-anchor="middle" font-weight="normal" fill="#000">***</text>
<text x="704.6" y="210.5" font-size="8.5" text-anchor="middle" font-weight="normal" fill="#000">***</text>
<rect x="745" y="270.1" width="14.3" height="3.2" fill="#fff" stroke="#333" stroke-width="0.9"/>
<line x1="752.1" y1="269.6" x2="752.1" y2="270.6" stroke="#000" stroke-width="0.9"/>
<line x1="749.6" y1="269.6" x2="754.6" y2="269.6" stroke="#000" stroke-width="0.9"/>
<line x1="749.6" y1="270.6" x2="754.6" y2="270.6" stroke="#000" stroke-width="0.9"/>
<circle cx="749.5" cy="270.7" r="1.3" fill="#111"/>
<circle cx="752.1" cy="270.2" r="1.3" fill="#111"/>
<circle cx="754.8" cy="269.6" r="1.3" fill="#111"/>
<text x="752.1" y="286.5" font-size="9.5" text-anchor="middle" font-weight="normal" fill="#000">Y</text>
<line x1="752.1" y1="273.3" x2="752.1" y2="276.3" stroke="#000" stroke-width="1"/>
<rect x="759.3" y="230.2" width="14.3" height="43.1" fill="#F23D3D" stroke="#333" stroke-width="0.9"/>
<line x1="766.4" y1="227.8" x2="766.4" y2="232.6" stroke="#000" stroke-width="0.9"/>
<line x1="763.9" y1="227.8" x2="768.9" y2="227.8" stroke="#000" stroke-width="0.9"/>
<line x1="763.9" y1="232.6" x2="768.9" y2="232.6" stroke="#000" stroke-width="0.9"/>
<circle cx="763.8" cy="233.1" r="1.3" fill="#111"/>
<circle cx="766.4" cy="229.7" r="1.3" fill="#111"/>
<circle cx="769" cy="228.2" r="1.3" fill="#111"/>
<text x="766.4" y="286.5" font-size="9.5" text-anchor="middle" font-weight="normal" fill="#000">S</text>
<line x1="766.4" y1="273.3" x2="766.4" y2="276.3" stroke="#000" stroke-width="1"/>
<rect x="773.6" y="256.9" width="14.3" height="16.4" fill="#D6D6D6" stroke="#333" stroke-width="0.9"/>
<line x1="780.8" y1="254.8" x2="780.8" y2="258.9" stroke="#000" stroke-width="0.9"/>
<line x1="778.2" y1="254.8" x2="783.2" y2="254.8" stroke="#000" stroke-width="0.9"/>
<line x1="778.2" y1="258.9" x2="783.2" y2="258.9" stroke="#000" stroke-width="0.9"/>
<circle cx="778.1" cy="258.7" r="1.3" fill="#111"/>
<circle cx="780.8" cy="256.7" r="1.3" fill="#111"/>
<circle cx="783.4" cy="254.8" r="1.3" fill="#111"/>
<text x="780.8" y="286.5" font-size="9.5" text-anchor="middle" font-weight="normal" fill="#000">G</text>
<line x1="780.8" y1="273.3" x2="780.8" y2="276.3" stroke="#000" stroke-width="1"/>
<line x1="740" y1="209.5" x2="740" y2="273.9" stroke="#000" stroke-width="1.2"/>
<line x1="739.4" y1="273.3" x2="794.9" y2="273.3" stroke="#000" stroke-width="1.2"/>
<line x1="736.5" y1="273.3" x2="740" y2="273.3" stroke="#000" stroke-width="1"/>
<text x="735.5" y="276.6" font-size="9.2" text-anchor="end" font-weight="normal" fill="#000">0</text>
<line x1="736.5" y1="257.4" x2="740" y2="257.4" stroke="#000" stroke-width="1"/>
<text x="735.5" y="260.7" font-size="9.2" text-anchor="end" font-weight="normal" fill="#000">10</text>
<line x1="736.5" y1="241.4" x2="740" y2="241.4" stroke="#000" stroke-width="1"/>
<text x="735.5" y="244.7" font-size="9.2" text-anchor="end" font-weight="normal" fill="#000">20</text>
<line x1="736.5" y1="225.4" x2="740" y2="225.4" stroke="#000" stroke-width="1"/>
<text x="735.5" y="228.8" font-size="9.2" text-anchor="end" font-weight="normal" fill="#000">30</text>
<line x1="736.5" y1="209.5" x2="740" y2="209.5" stroke="#000" stroke-width="1"/>
<text x="735.5" y="212.8" font-size="9.2" text-anchor="end" font-weight="normal" fill="#000">40</text>
<line x1="751.1" y1="210.3" x2="765" y2="210.3" stroke="#000" stroke-width="1.2"/>
<line x1="768" y1="210.3" x2="781.8" y2="210.3" stroke="#000" stroke-width="1.2"/>
<text x="759.3" y="210.5" font-size="8.5" text-anchor="middle" font-weight="normal" fill="#000">***</text>
<text x="773.6" y="210.5" font-size="8.5" text-anchor="middle" font-weight="normal" fill="#000">***</text>
<rect x="813.8" y="271.7" width="14.3" height="1.6" fill="#fff" stroke="#333" stroke-width="0.9"/>
<line x1="820.9" y1="271.4" x2="820.9" y2="272" stroke="#000" stroke-width="0.9"/>
<line x1="818.4" y1="271.4" x2="823.4" y2="271.4" stroke="#000" stroke-width="0.9"/>
<line x1="818.4" y1="272" x2="823.4" y2="272" stroke="#000" stroke-width="0.9"/>
<circle cx="818.3" cy="272.1" r="1.3" fill="#111"/>
<circle cx="820.9" cy="271.7" r="1.3" fill="#111"/>
<circle cx="823.5" cy="271.4" r="1.3" fill="#111"/>
<text x="820.9" y="286.5" font-size="9.5" text-anchor="middle" font-weight="normal" fill="#000">Y</text>
<line x1="820.9" y1="273.3" x2="820.9" y2="276.3" stroke="#000" stroke-width="1"/>
<rect x="828" y="220.7" width="14.3" height="52.6" fill="#F23D3D" stroke="#333" stroke-width="0.9"/>
<line x1="835.2" y1="218.8" x2="835.2" y2="222.6" stroke="#000" stroke-width="0.9"/>
<line x1="832.7" y1="218.8" x2="837.7" y2="218.8" stroke="#000" stroke-width="0.9"/>
<line x1="832.7" y1="222.6" x2="837.7" y2="222.6" stroke="#000" stroke-width="0.9"/>
<circle cx="832.6" cy="223.2" r="1.3" fill="#111"/>
<circle cx="835.2" cy="220.1" r="1.3" fill="#111"/>
<circle cx="837.8" cy="218.5" r="1.3" fill="#111"/>
<text x="835.2" y="286.5" font-size="9.5" text-anchor="middle" font-weight="normal" fill="#000">S</text>
<line x1="835.2" y1="273.3" x2="835.2" y2="276.3" stroke="#000" stroke-width="1"/>
<rect x="842.4" y="245.4" width="14.3" height="27.9" fill="#D6D6D6" stroke="#333" stroke-width="0.9"/>
<line x1="849.5" y1="243.3" x2="849.5" y2="247.5" stroke="#000" stroke-width="0.9"/>
<line x1="847" y1="243.3" x2="852" y2="243.3" stroke="#000" stroke-width="0.9"/>
<line x1="847" y1="247.5" x2="852" y2="247.5" stroke="#000" stroke-width="0.9"/>
<circle cx="846.9" cy="247.7" r="1.3" fill="#111"/>
<circle cx="849.5" cy="245.8" r="1.3" fill="#111"/>
<circle cx="852.1" cy="243.2" r="1.3" fill="#111"/>
<text x="849.5" y="286.5" font-size="9.5" text-anchor="middle" font-weight="normal" fill="#000">G</text>
<line x1="849.5" y1="273.3" x2="849.5" y2="276.3" stroke="#000" stroke-width="1"/>
<line x1="808.8" y1="209.5" x2="808.8" y2="273.9" stroke="#000" stroke-width="1.2"/>
<line x1="808.1" y1="273.3" x2="863.6" y2="273.3" stroke="#000" stroke-width="1.2"/>
<line x1="805.2" y1="273.3" x2="808.8" y2="273.3" stroke="#000" stroke-width="1"/>
<text x="804.2" y="276.6" font-size="9.2" text-anchor="end" font-weight="normal" fill="#000">0</text>
<line x1="805.2" y1="257.4" x2="808.8" y2="257.4" stroke="#000" stroke-width="1"/>
<text x="804.2" y="260.7" font-size="9.2" text-anchor="end" font-weight="normal" fill="#000">10</text>
<line x1="805.2" y1="241.4" x2="808.8" y2="241.4" stroke="#000" stroke-width="1"/>
<text x="804.2" y="244.7" font-size="9.2" text-anchor="end" font-weight="normal" fill="#000">20</text>
<line x1="805.2" y1="225.4" x2="808.8" y2="225.4" stroke="#000" stroke-width="1"/>
<text x="804.2" y="228.8" font-size="9.2" text-anchor="end" font-weight="normal" fill="#000">30</text>
<line x1="805.2" y1="209.5" x2="808.8" y2="209.5" stroke="#000" stroke-width="1"/>
<text x="804.2" y="212.8" font-size="9.2" text-anchor="end" font-weight="normal" fill="#000">40</text>
<line x1="819.9" y1="210.3" x2="833.7" y2="210.3" stroke="#000" stroke-width="1.2"/>
<line x1="836.7" y1="210.3" x2="850.5" y2="210.3" stroke="#000" stroke-width="1.2"/>
<text x="828" y="210.5" font-size="8.5" text-anchor="middle" font-weight="normal" fill="#000">***</text>
<text x="842.4" y="210.5" font-size="8.5" text-anchor="middle" font-weight="normal" fill="#000">***</text>
<rect x="882.5" y="271.4" width="14.3" height="1.9" fill="#fff" stroke="#333" stroke-width="0.9"/>
<line x1="889.6" y1="271.1" x2="889.6" y2="271.7" stroke="#000" stroke-width="0.9"/>
<line x1="887.1" y1="271.1" x2="892.1" y2="271.1" stroke="#000" stroke-width="0.9"/>
<line x1="887.1" y1="271.7" x2="892.1" y2="271.7" stroke="#000" stroke-width="0.9"/>
<circle cx="887" cy="271.8" r="1.3" fill="#111"/>
<circle cx="889.6" cy="271.3" r="1.3" fill="#111"/>
<circle cx="892.2" cy="270.9" r="1.3" fill="#111"/>
<text x="889.6" y="286.5" font-size="9.5" text-anchor="middle" font-weight="normal" fill="#000">Y</text>
<line x1="889.6" y1="273.3" x2="889.6" y2="276.3" stroke="#000" stroke-width="1"/>
<rect x="896.8" y="221.6" width="14.3" height="51.7" fill="#F23D3D" stroke="#333" stroke-width="0.9"/>
<line x1="903.9" y1="220.9" x2="903.9" y2="222.4" stroke="#000" stroke-width="0.9"/>
<line x1="901.4" y1="220.9" x2="906.4" y2="220.9" stroke="#000" stroke-width="0.9"/>
<line x1="901.4" y1="222.4" x2="906.4" y2="222.4" stroke="#000" stroke-width="0.9"/>
<circle cx="901.3" cy="222.6" r="1.3" fill="#111"/>
<circle cx="903.9" cy="221.8" r="1.3" fill="#111"/>
<circle cx="906.5" cy="220.8" r="1.3" fill="#111"/>
<text x="903.9" y="286.5" font-size="9.5" text-anchor="middle" font-weight="normal" fill="#000">S</text>
<line x1="903.9" y1="273.3" x2="903.9" y2="276.3" stroke="#000" stroke-width="1"/>
<rect x="911.1" y="227" width="14.3" height="46.3" fill="#D6D6D6" stroke="#333" stroke-width="0.9"/>
<line x1="918.2" y1="226.4" x2="918.2" y2="227.7" stroke="#000" stroke-width="0.9"/>
<line x1="915.8" y1="226.4" x2="920.8" y2="226.4" stroke="#000" stroke-width="0.9"/>
<line x1="915.8" y1="227.7" x2="920.8" y2="227.7" stroke="#000" stroke-width="0.9"/>
<circle cx="915.6" cy="227.6" r="1.3" fill="#111"/>
<circle cx="918.2" cy="227.1" r="1.3" fill="#111"/>
<circle cx="920.9" cy="226.4" r="1.3" fill="#111"/>
<text x="918.2" y="286.5" font-size="9.5" text-anchor="middle" font-weight="normal" fill="#000">G</text>
<line x1="918.2" y1="273.3" x2="918.2" y2="276.3" stroke="#000" stroke-width="1"/>
<line x1="876.2" y1="209.5" x2="876.2" y2="273.9" stroke="#000" stroke-width="1.2"/>
<line x1="875.6" y1="273.3" x2="932.4" y2="273.3" stroke="#000" stroke-width="1.2"/>
<line x1="872.8" y1="273.3" x2="876.2" y2="273.3" stroke="#000" stroke-width="1"/>
<text x="871.8" y="276.6" font-size="9.2" text-anchor="end" font-weight="normal" fill="#000">0</text>
<line x1="872.8" y1="260.5" x2="876.2" y2="260.5" stroke="#000" stroke-width="1"/>
<text x="871.8" y="263.8" font-size="9.2" text-anchor="end" font-weight="normal" fill="#000">20</text>
<line x1="872.8" y1="247.8" x2="876.2" y2="247.8" stroke="#000" stroke-width="1"/>
<text x="871.8" y="251.1" font-size="9.2" text-anchor="end" font-weight="normal" fill="#000">40</text>
<line x1="872.8" y1="235" x2="876.2" y2="235" stroke="#000" stroke-width="1"/>
<text x="871.8" y="238.3" font-size="9.2" text-anchor="end" font-weight="normal" fill="#000">60</text>
<line x1="872.8" y1="222.3" x2="876.2" y2="222.3" stroke="#000" stroke-width="1"/>
<text x="871.8" y="225.6" font-size="9.2" text-anchor="end" font-weight="normal" fill="#000">80</text>
<line x1="872.8" y1="209.5" x2="876.2" y2="209.5" stroke="#000" stroke-width="1"/>
<text x="871.8" y="212.8" font-size="9.2" text-anchor="end" font-weight="normal" fill="#000">100</text>
<line x1="888.6" y1="210.3" x2="902.5" y2="210.3" stroke="#000" stroke-width="1.2"/>
<line x1="905.5" y1="210.3" x2="919.2" y2="210.3" stroke="#000" stroke-width="1.2"/>
<text x="896.8" y="210.5" font-size="8.5" text-anchor="middle" font-weight="normal" fill="#000">***</text>
<text x="911.1" y="210.5" font-size="8.5" text-anchor="middle" font-weight="normal" fill="#000">**</text>
<rect x="953" y="267.9" width="14.3" height="5.4" fill="#fff" stroke="#333" stroke-width="0.9"/>
<line x1="960.1" y1="267.6" x2="960.1" y2="268.2" stroke="#000" stroke-width="0.9"/>
<line x1="957.6" y1="267.6" x2="962.6" y2="267.6" stroke="#000" stroke-width="0.9"/>
<line x1="957.6" y1="268.2" x2="962.6" y2="268.2" stroke="#000" stroke-width="0.9"/>
<circle cx="957.5" cy="268.2" r="1.3" fill="#111"/>
<circle cx="960.1" cy="267.8" r="1.3" fill="#111"/>
<circle cx="962.8" cy="267.6" r="1.3" fill="#111"/>
<text x="960.1" y="286.5" font-size="9.5" text-anchor="middle" font-weight="normal" fill="#000">Y</text>
<line x1="960.1" y1="273.3" x2="960.1" y2="276.3" stroke="#000" stroke-width="1"/>
<rect x="967.3" y="215.2" width="14.3" height="58.1" fill="#F23D3D" stroke="#333" stroke-width="0.9"/>
<line x1="974.4" y1="214.6" x2="974.4" y2="215.9" stroke="#000" stroke-width="0.9"/>
<line x1="971.9" y1="214.6" x2="976.9" y2="214.6" stroke="#000" stroke-width="0.9"/>
<line x1="971.9" y1="215.9" x2="976.9" y2="215.9" stroke="#000" stroke-width="0.9"/>
<circle cx="971.8" cy="216" r="1.3" fill="#111"/>
<circle cx="974.4" cy="215.2" r="1.3" fill="#111"/>
<circle cx="977" cy="214.6" r="1.3" fill="#111"/>
<text x="974.4" y="286.5" font-size="9.5" text-anchor="middle" font-weight="normal" fill="#000">S</text>
<line x1="974.4" y1="273.3" x2="974.4" y2="276.3" stroke="#000" stroke-width="1"/>
<rect x="981.6" y="217.5" width="14.3" height="55.8" fill="#D6D6D6" stroke="#333" stroke-width="0.9"/>
<line x1="988.8" y1="216.8" x2="988.8" y2="218.1" stroke="#000" stroke-width="0.9"/>
<line x1="986.2" y1="216.8" x2="991.2" y2="216.8" stroke="#000" stroke-width="0.9"/>
<line x1="986.2" y1="218.1" x2="991.2" y2="218.1" stroke="#000" stroke-width="0.9"/>
<circle cx="986.1" cy="218.2" r="1.3" fill="#111"/>
<circle cx="988.8" cy="217.6" r="1.3" fill="#111"/>
<circle cx="991.4" cy="217" r="1.3" fill="#111"/>
<text x="988.8" y="286.5" font-size="9.5" text-anchor="middle" font-weight="normal" fill="#000">G</text>
<line x1="988.8" y1="273.3" x2="988.8" y2="276.3" stroke="#000" stroke-width="1"/>
<line x1="946.2" y1="209.5" x2="946.2" y2="273.9" stroke="#000" stroke-width="1.2"/>
<line x1="945.6" y1="273.3" x2="1002.9" y2="273.3" stroke="#000" stroke-width="1.2"/>
<line x1="942.8" y1="273.3" x2="946.2" y2="273.3" stroke="#000" stroke-width="1"/>
<text x="941.8" y="276.6" font-size="9.2" text-anchor="end" font-weight="normal" fill="#000">0</text>
<line x1="942.8" y1="260.5" x2="946.2" y2="260.5" stroke="#000" stroke-width="1"/>
<text x="941.8" y="263.8" font-size="9.2" text-anchor="end" font-weight="normal" fill="#000">20</text>
<line x1="942.8" y1="247.8" x2="946.2" y2="247.8" stroke="#000" stroke-width="1"/>
<text x="941.8" y="251.1" font-size="9.2" text-anchor="end" font-weight="normal" fill="#000">40</text>
<line x1="942.8" y1="235" x2="946.2" y2="235" stroke="#000" stroke-width="1"/>
<text x="941.8" y="238.3" font-size="9.2" text-anchor="end" font-weight="normal" fill="#000">60</text>
<line x1="942.8" y1="222.3" x2="946.2" y2="222.3" stroke="#000" stroke-width="1"/>
<text x="941.8" y="225.6" font-size="9.2" text-anchor="end" font-weight="normal" fill="#000">80</text>
<line x1="942.8" y1="209.5" x2="946.2" y2="209.5" stroke="#000" stroke-width="1"/>
<text x="941.8" y="212.8" font-size="9.2" text-anchor="end" font-weight="normal" fill="#000">100</text>
<line x1="959.1" y1="210.3" x2="973" y2="210.3" stroke="#000" stroke-width="1.2"/>
<line x1="976" y1="210.3" x2="989.8" y2="210.3" stroke="#000" stroke-width="1.2"/>
<text x="967.3" y="210.5" font-size="8.5" text-anchor="middle" font-weight="normal" fill="#000">***</text>
<text x="981.6" y="210.5" font-size="8.5" text-anchor="middle" font-weight="normal" fill="#000">*</text>
<rect x="1021.2" y="267.7" width="14.3" height="5.6" fill="#fff" stroke="#333" stroke-width="0.9"/>
<line x1="1028.4" y1="266.1" x2="1028.4" y2="269.3" stroke="#000" stroke-width="0.9"/>
<line x1="1025.9" y1="266.1" x2="1030.9" y2="266.1" stroke="#000" stroke-width="0.9"/>
<line x1="1025.9" y1="269.3" x2="1030.9" y2="269.3" stroke="#000" stroke-width="0.9"/>
<circle cx="1025.8" cy="269.9" r="1.3" fill="#111"/>
<circle cx="1028.4" cy="268.1" r="1.3" fill="#111"/>
<circle cx="1031" cy="265.9" r="1.3" fill="#111"/>
<text x="1028.4" y="286.5" font-size="9.5" text-anchor="middle" font-weight="normal" fill="#000">Y</text>
<line x1="1028.4" y1="273.3" x2="1028.4" y2="276.3" stroke="#000" stroke-width="1"/>
<rect x="1035.5" y="218.7" width="14.3" height="54.6" fill="#F23D3D" stroke="#333" stroke-width="0.9"/>
<line x1="1042.7" y1="217.9" x2="1042.7" y2="219.5" stroke="#000" stroke-width="0.9"/>
<line x1="1040.2" y1="217.9" x2="1045.2" y2="217.9" stroke="#000" stroke-width="0.9"/>
<line x1="1040.2" y1="219.5" x2="1045.2" y2="219.5" stroke="#000" stroke-width="0.9"/>
<circle cx="1040.1" cy="219.7" r="1.3" fill="#111"/>
<circle cx="1042.7" cy="218.9" r="1.3" fill="#111"/>
<circle cx="1045.3" cy="217.6" r="1.3" fill="#111"/>
<text x="1042.7" y="286.5" font-size="9.5" text-anchor="middle" font-weight="normal" fill="#000">S</text>
<line x1="1042.7" y1="273.3" x2="1042.7" y2="276.3" stroke="#000" stroke-width="1"/>
<rect x="1049.8" y="233" width="14.3" height="40.3" fill="#D6D6D6" stroke="#333" stroke-width="0.9"/>
<line x1="1057" y1="231" x2="1057" y2="235" stroke="#000" stroke-width="0.9"/>
<line x1="1054.5" y1="231" x2="1059.5" y2="231" stroke="#000" stroke-width="0.9"/>
<line x1="1054.5" y1="235" x2="1059.5" y2="235" stroke="#000" stroke-width="0.9"/>
<circle cx="1054.4" cy="235.1" r="1.3" fill="#111"/>
<circle cx="1057" cy="233.6" r="1.3" fill="#111"/>
<circle cx="1059.6" cy="230.5" r="1.3" fill="#111"/>
<text x="1057" y="286.5" font-size="9.5" text-anchor="middle" font-weight="normal" fill="#000">G</text>
<line x1="1057" y1="273.3" x2="1057" y2="276.3" stroke="#000" stroke-width="1"/>
<line x1="1015" y1="209.5" x2="1015" y2="273.9" stroke="#000" stroke-width="1.2"/>
<line x1="1014.4" y1="273.3" x2="1071.2" y2="273.3" stroke="#000" stroke-width="1.2"/>
<line x1="1011.5" y1="273.3" x2="1015" y2="273.3" stroke="#000" stroke-width="1"/>
<text x="1010.5" y="276.6" font-size="9.2" text-anchor="end" font-weight="normal" fill="#000">0</text>
<line x1="1011.5" y1="257.4" x2="1015" y2="257.4" stroke="#000" stroke-width="1"/>
<text x="1010.5" y="260.7" font-size="9.2" text-anchor="end" font-weight="normal" fill="#000">20</text>
<line x1="1011.5" y1="241.4" x2="1015" y2="241.4" stroke="#000" stroke-width="1"/>
<text x="1010.5" y="244.7" font-size="9.2" text-anchor="end" font-weight="normal" fill="#000">40</text>
<line x1="1011.5" y1="225.4" x2="1015" y2="225.4" stroke="#000" stroke-width="1"/>
<text x="1010.5" y="228.8" font-size="9.2" text-anchor="end" font-weight="normal" fill="#000">60</text>
<line x1="1011.5" y1="209.5" x2="1015" y2="209.5" stroke="#000" stroke-width="1"/>
<text x="1010.5" y="212.8" font-size="9.2" text-anchor="end" font-weight="normal" fill="#000">80</text>
<line x1="1027.4" y1="210.3" x2="1041.2" y2="210.3" stroke="#000" stroke-width="1.2"/>
<line x1="1044.2" y1="210.3" x2="1058" y2="210.3" stroke="#000" stroke-width="1.2"/>
<text x="1035.6" y="210.5" font-size="8.5" text-anchor="middle" font-weight="normal" fill="#000">***</text>
<text x="1049.8" y="210.5" font-size="8.5" text-anchor="middle" font-weight="normal" fill="#000">***</text>
<text x="375" y="240" font-size="9.5" text-anchor="middle" font-weight="bold" fill="#000" transform="rotate(-90 375 240)">SA-β-Gal (%)</text>
<text x="12.5" y="311" font-size="28" text-anchor="start" font-weight="bold" fill="#000">c</text>
<rect x="40.8" y="338.6" width="59.2" height="15" fill="#fff" stroke="#333" stroke-width="1.1"/>
<text x="70.3" y="350" font-size="9.8" text-anchor="middle" font-weight="bold" fill="#000">3T3-L1</text>
<rect x="40.3" y="355" width="61" height="44.2" fill="#000"/>
<path d="M54.7 378.9a1.2 1.2 0 1 0 2.4 0a1.2 1.2 0 1 0 -2.4 0M54.5 397a1.2 1.2 0 1 0 2.4 0a1.2 1.2 0 1 0 -2.4 0M42.2 388.2a0.9 0.9 0 1 0 1.9 0a0.9 0.9 0 1 0 -1.9 0M85.4 390.1a1.3 1.3 0 1 0 2.7 0a1.3 1.3 0 1 0 -2.7 0" fill="#6CF050"/>
<path d="M74.6 381.3a0.8 0.8 0 1 0 1.6 0a0.8 0.8 0 1 0 -1.6 0M91.4 385.7a1 1 0 1 0 2 0a1 1 0 1 0 -2 0M49 365.7a1 1 0 1 0 2 0a1 1 0 1 0 -2 0M78.9 382.4a0.8 0.8 0 1 0 1.6 0a0.8 0.8 0 1 0 -1.6 0" fill="#2A8A1C"/>
<path d="M77.9 363.1a0.9 0.9 0 1 0 1.7 0a0.9 0.9 0 1 0 -1.7 0M90.2 373.9a0.8 0.8 0 1 0 1.7 0a0.8 0.8 0 1 0 -1.7 0M74.6 380.5a1.1 1.1 0 1 0 2.1 0a1.1 1.1 0 1 0 -2.1 0M43.2 368.2a0.8 0.8 0 1 0 1.5 0a0.8 0.8 0 1 0 -1.5 0M90.6 395.8a0.7 0.7 0 1 0 1.5 0a0.7 0.7 0 1 0 -1.5 0" fill="#174F10"/>
<path d="M74.2 395.8a1 1 0 1 0 1.9 0a1 1 0 1 0 -1.9 0" fill="#3FD02A"/>
<rect x="40.3" y="401" width="61" height="44.3" fill="#000"/>
<path d="M43.7 437.8a1.8 1.8 0 1 0 3.6 0a1.8 1.8 0 1 0 -3.6 0M60 405.3a1.7 1.7 0 1 0 3.5 0a1.7 1.7 0 1 0 -3.5 0M57.1 434.3a1.7 1.7 0 1 0 3.4 0a1.7 1.7 0 1 0 -3.4 0M98.6 415.3a1.2 1.2 0 1 0 2.3 0a1.2 1.2 0 1 0 -2.3 0M67 424a1.6 1.6 0 1 0 3.1 0a1.6 1.6 0 1 0 -3.1 0M97 424a1.5 1.5 0 1 0 3 0a1.5 1.5 0 1 0 -3 0M83.5 403.4a1.1 1.1 0 1 0 2.3 0a1.1 1.1 0 1 0 -2.3 0M57.6 418.1a1.6 1.6 0 1 0 3.3 0a1.6 1.6 0 1 0 -3.3 0M72.6 443.2a1.6 1.6 0 1 0 3.2 0a1.6 1.6 0 1 0 -3.2 0M92.3 439.7a1.5 1.5 0 1 0 3 0a1.5 1.5 0 1 0 -3 0M78.9 424.2a1.4 1.4 0 1 0 2.8 0a1.4 1.4 0 1 0 -2.8 0M87.6 405a1.3 1.3 0 1 0 2.5 0a1.3 1.3 0 1 0 -2.5 0M93.6 435.8a1.7 1.7 0 1 0 3.4 0a1.7 1.7 0 1 0 -3.4 0M54.7 428a1.5 1.5 0 1 0 2.9 0a1.5 1.5 0 1 0 -2.9 0" fill="#2424F0"/>
<path d="M75.5 434a1.4 1.4 0 1 0 2.7 0a1.4 1.4 0 1 0 -2.7 0M95.5 442.6a1.3 1.3 0 1 0 2.6 0a1.3 1.3 0 1 0 -2.6 0M49.2 404.3a1.7 1.7 0 1 0 3.4 0a1.7 1.7 0 1 0 -3.4 0M76.4 428.6a1.1 1.1 0 1 0 2.3 0a1.1 1.1 0 1 0 -2.3 0M67.5 430.6a1.3 1.3 0 1 0 2.7 0a1.3 1.3 0 1 0 -2.7 0M96.3 412.9a1.4 1.4 0 1 0 2.8 0a1.4 1.4 0 1 0 -2.8 0M50.5 410.2a1.6 1.6 0 1 0 3.3 0a1.6 1.6 0 1 0 -3.3 0M78 406.5a1.5 1.5 0 1 0 3 0a1.5 1.5 0 1 0 -3 0M58.6 437a1.5 1.5 0 1 0 3 0a1.5 1.5 0 1 0 -3 0M60.4 436.7a1.2 1.2 0 1 0 2.3 0a1.2 1.2 0 1 0 -2.3 0M74.5 419.9a1.5 1.5 0 1 0 2.9 0a1.5 1.5 0 1 0 -2.9 0M83.5 437.1a1.6 1.6 0 1 0 3.1 0a1.6 1.6 0 1 0 -3.1 0M71.6 439.2a1.7 1.7 0 1 0 3.4 0a1.7 1.7 0 1 0 -3.4 0M71.6 436.2a1.2 1.2 0 1 0 2.4 0a1.2 1.2 0 1 0 -2.4 0M68.7 426.1a1.4 1.4 0 1 0 2.8 0a1.4 1.4 0 1 0 -2.8 0" fill="#3030FF"/>
<path d="M72.5 440.6a1.3 1.3 0 1 0 2.6 0a1.3 1.3 0 1 0 -2.6 0M96.9 430.7a1.2 1.2 0 1 0 2.4 0a1.2 1.2 0 1 0 -2.4 0M79.3 411.8a1.7 1.7 0 1 0 3.3 0a1.7 1.7 0 1 0 -3.3 0M56.4 435a1.1 1.1 0 1 0 2.2 0a1.1 1.1 0 1 0 -2.2 0M47.6 412.6a1.1 1.1 0 1 0 2.2 0a1.1 1.1 0 1 0 -2.2 0M68.2 407.5a1.5 1.5 0 1 0 2.9 0a1.5 1.5 0 1 0 -2.9 0" fill="#1C1CD8"/>
<path d="M61 408.2a1.7 1.7 0 1 0 3.4 0a1.7 1.7 0 1 0 -3.4 0M76.3 441.3a1.5 1.5 0 1 0 2.9 0a1.5 1.5 0 1 0 -2.9 0M76.8 432.1a1.8 1.8 0 1 0 3.5 0a1.8 1.8 0 1 0 -3.5 0M86.2 443.3a1.3 1.3 0 1 0 2.6 0a1.3 1.3 0 1 0 -2.6 0M78.4 413.6a1.3 1.3 0 1 0 2.7 0a1.3 1.3 0 1 0 -2.7 0M45.2 433.1a1.3 1.3 0 1 0 2.5 0a1.3 1.3 0 1 0 -2.5 0M67.5 428.7a1.3 1.3 0 1 0 2.6 0a1.3 1.3 0 1 0 -2.6 0M42.6 419.6a1.2 1.2 0 1 0 2.5 0a1.2 1.2 0 1 0 -2.5 0M94.7 438.8a1.8 1.8 0 1 0 3.6 0a1.8 1.8 0 1 0 -3.6 0M59.9 412.9a1.7 1.7 0 1 0 3.4 0a1.7 1.7 0 1 0 -3.4 0" fill="#1A1AC0"/>
<path d="M67.5 434.3a1.7 1.7 0 1 0 3.4 0a1.7 1.7 0 1 0 -3.4 0M85.2 404.9a1.2 1.2 0 1 0 2.5 0a1.2 1.2 0 1 0 -2.5 0M96.3 437.4a1.5 1.5 0 1 0 3 0a1.5 1.5 0 1 0 -3 0M68.8 409.3a1.4 1.4 0 1 0 2.8 0a1.4 1.4 0 1 0 -2.8 0" fill="#7FE8FF"/>
<rect x="40.3" y="451.7" width="61" height="44.3" fill="#000"/>
<path d="M77.7 477.3a1.5 1.5 0 1 0 3 0a1.5 1.5 0 1 0 -3 0M60.5 488a1.3 1.3 0 1 0 2.6 0a1.3 1.3 0 1 0 -2.6 0" fill="#4FE834"/>
<path d="M65.6 458.8a1.1 1.1 0 1 0 2.3 0a1.1 1.1 0 1 0 -2.3 0M45.6 460.9a1.3 1.3 0 1 0 2.6 0a1.3 1.3 0 1 0 -2.6 0M76.9 484.3a1.2 1.2 0 1 0 2.3 0a1.2 1.2 0 1 0 -2.3 0M42.4 462.5a0.9 0.9 0 1 0 1.9 0a0.9 0.9 0 1 0 -1.9 0" fill="#6CF050"/>
<path d="M72.2 479.4a0.9 0.9 0 1 0 1.9 0a0.9 0.9 0 1 0 -1.9 0M92.2 485.6a1.3 1.3 0 1 0 2.6 0a1.3 1.3 0 1 0 -2.6 0M82.2 472.8a0.9 0.9 0 1 0 1.9 0a0.9 0.9 0 1 0 -1.9 0M83.8 469.6a1.5 1.5 0 1 0 2.9 0a1.5 1.5 0 1 0 -2.9 0" fill="#3FD02A"/>
<path d="M65.7 470.9a0.8 0.8 0 1 0 1.7 0a0.8 0.8 0 1 0 -1.7 0M45.8 493.9a0.9 0.9 0 1 0 1.9 0a0.9 0.9 0 1 0 -1.9 0" fill="#2A8A1C"/>
<path d="M94.8 483.2a1 1 0 1 0 2 0a1 1 0 1 0 -2 0M47.2 476a0.8 0.8 0 1 0 1.5 0a0.8 0.8 0 1 0 -1.5 0" fill="#174F10"/>
<path d="M79.3 483.3a1 1 0 1 0 2 0a1 1 0 1 0 -2 0M46.5 457.7a1 1 0 1 0 2.1 0a1 1 0 1 0 -2.1 0M89.2 492.1a0.7 0.7 0 1 0 1.4 0a0.7 0.7 0 1 0 -1.4 0M85.1 474.3a0.9 0.9 0 1 0 1.8 0a0.9 0.9 0 1 0 -1.8 0" fill="#1E6E14"/>
<rect x="40.3" y="497.9" width="61" height="44.4" fill="#000"/>
<path d="M72.7 539.4a1.4 1.4 0 1 0 2.7 0a1.4 1.4 0 1 0 -2.7 0M96.6 516.5a1.6 1.6 0 1 0 3.2 0a1.6 1.6 0 1 0 -3.2 0M49.1 516a1.7 1.7 0 1 0 3.4 0a1.7 1.7 0 1 0 -3.4 0M74.6 534.9a1.2 1.2 0 1 0 2.4 0a1.2 1.2 0 1 0 -2.4 0M86.1 535.9a1.1 1.1 0 1 0 2.3 0a1.1 1.1 0 1 0 -2.3 0M96.1 534.8a1.3 1.3 0 1 0 2.5 0a1.3 1.3 0 1 0 -2.5 0M59.8 517.5a1.4 1.4 0 1 0 2.9 0a1.4 1.4 0 1 0 -2.9 0M77.7 530.1a1.4 1.4 0 1 0 2.9 0a1.4 1.4 0 1 0 -2.9 0M79.9 522.8a1.2 1.2 0 1 0 2.5 0a1.2 1.2 0 1 0 -2.5 0M86 528.6a1.2 1.2 0 1 0 2.4 0a1.2 1.2 0 1 0 -2.4 0M46.5 510.6a1.1 1.1 0 1 0 2.3 0a1.1 1.1 0 1 0 -2.3 0M87.6 530.4a1.5 1.5 0 1 0 3 0a1.5 1.5 0 1 0 -3 0M90.2 532.4a1.5 1.5 0 1 0 3 0a1.5 1.5 0 1 0 -3 0" fill="#1C1CD8"/>
<path d="M64.4 522.9a1.5 1.5 0 1 0 3 0a1.5 1.5 0 1 0 -3 0M45.6 530.4a1.7 1.7 0 1 0 3.5 0a1.7 1.7 0 1 0 -3.5 0M92.1 512.1a1.3 1.3 0 1 0 2.6 0a1.3 1.3 0 1 0 -2.6 0M52.2 523a1.3 1.3 0 1 0 2.5 0a1.3 1.3 0 1 0 -2.5 0M84.9 505.3a1.8 1.8 0 1 0 3.6 0a1.8 1.8 0 1 0 -3.6 0M68 529.2a1.7 1.7 0 1 0 3.4 0a1.7 1.7 0 1 0 -3.4 0M72.1 504.3a1.3 1.3 0 1 0 2.6 0a1.3 1.3 0 1 0 -2.6 0M46.3 522.6a1.7 1.7 0 1 0 3.5 0a1.7 1.7 0 1 0 -3.5 0M51.1 507.2a1.4 1.4 0 1 0 2.8 0a1.4 1.4 0 1 0 -2.8 0M41.8 532.7a1.7 1.7 0 1 0 3.4 0a1.7 1.7 0 1 0 -3.4 0" fill="#1A1AC0"/>
<path d="M48.5 520.7a1.8 1.8 0 1 0 3.5 0a1.8 1.8 0 1 0 -3.5 0M79.2 534.8a1.5 1.5 0 1 0 3 0a1.5 1.5 0 1 0 -3 0M92.3 510a1.7 1.7 0 1 0 3.4 0a1.7 1.7 0 1 0 -3.4 0M45.9 533.9a1.3 1.3 0 1 0 2.6 0a1.3 1.3 0 1 0 -2.6 0M70.8 528.4a1.6 1.6 0 1 0 3.1 0a1.6 1.6 0 1 0 -3.1 0M84.2 511.6a1.6 1.6 0 1 0 3.1 0a1.6 1.6 0 1 0 -3.1 0M79.3 520.5a1.1 1.1 0 1 0 2.3 0a1.1 1.1 0 1 0 -2.3 0M72.6 526.2a1.4 1.4 0 1 0 2.8 0a1.4 1.4 0 1 0 -2.8 0M83.9 521.9a1.6 1.6 0 1 0 3.2 0a1.6 1.6 0 1 0 -3.2 0M43 520.3a1.3 1.3 0 1 0 2.5 0a1.3 1.3 0 1 0 -2.5 0M61.1 534.5a1.2 1.2 0 1 0 2.4 0a1.2 1.2 0 1 0 -2.4 0M73.5 507.8a1.3 1.3 0 1 0 2.6 0a1.3 1.3 0 1 0 -2.6 0" fill="#3030FF"/>
<path d="M81 507.9a1.5 1.5 0 1 0 3 0a1.5 1.5 0 1 0 -3 0M91.8 526.2a1.6 1.6 0 1 0 3.3 0a1.6 1.6 0 1 0 -3.3 0M85.3 505.1a1.5 1.5 0 1 0 3.1 0a1.5 1.5 0 1 0 -3.1 0M50.8 503.2a1.7 1.7 0 1 0 3.3 0a1.7 1.7 0 1 0 -3.3 0M66.7 529.8a1.3 1.3 0 1 0 2.7 0a1.3 1.3 0 1 0 -2.7 0M46.6 536.1a1.7 1.7 0 1 0 3.5 0a1.7 1.7 0 1 0 -3.5 0M46.7 538.5a1.3 1.3 0 1 0 2.7 0a1.3 1.3 0 1 0 -2.7 0M50.6 536.2a1.6 1.6 0 1 0 3.1 0a1.6 1.6 0 1 0 -3.1 0M91.2 538.5a1.4 1.4 0 1 0 2.8 0a1.4 1.4 0 1 0 -2.8 0M74.5 527.6a1.5 1.5 0 1 0 3 0a1.5 1.5 0 1 0 -3 0" fill="#2424F0"/>
<path d="M58.7 536.5a1.6 1.6 0 1 0 3.2 0a1.6 1.6 0 1 0 -3.2 0M96.3 527.6a1.7 1.7 0 1 0 3.5 0a1.7 1.7 0 1 0 -3.5 0" fill="#A0F0FF"/>
<path d="M78.7 501.1a1.6 1.6 0 1 0 3.3 0a1.6 1.6 0 1 0 -3.3 0" fill="#7FE8FF"/>
<path d="M41.1 531a1.3 1.3 0 1 0 2.7 0a1.3 1.3 0 1 0 -2.7 0" fill="#60C8F0"/>
<rect x="103.7" y="338.6" width="59.2" height="15" fill="#fff" stroke="#333" stroke-width="1.1"/>
<text x="133.2" y="350" font-size="9.8" text-anchor="middle" font-weight="bold" fill="#000">C2C12</text>
<rect x="103.2" y="355" width="61" height="44.2" fill="#000"/>
<path d="M114 382.1a1 1 0 1 0 2.1 0a1 1 0 1 0 -2.1 0" fill="#6CF050"/>
<path d="M150.5 394.2a0.9 0.9 0 1 0 1.9 0a0.9 0.9 0 1 0 -1.9 0M111.8 391.5a1 1 0 1 0 2 0a1 1 0 1 0 -2 0M146.3 370.8a1 1 0 1 0 2.1 0a1 1 0 1 0 -2.1 0" fill="#1E6E14"/>
<path d="M158.5 392.9a1.3 1.3 0 1 0 2.5 0a1.3 1.3 0 1 0 -2.5 0M106.8 371.5a1.2 1.2 0 1 0 2.4 0a1.2 1.2 0 1 0 -2.4 0M128.7 387.4a1.4 1.4 0 1 0 2.7 0a1.4 1.4 0 1 0 -2.7 0" fill="#4FE834"/>
<path d="M104.9 370.7a1.3 1.3 0 1 0 2.6 0a1.3 1.3 0 1 0 -2.6 0" fill="#3FD02A"/>
<path d="M127.5 391a0.9 0.9 0 1 0 1.8 0a0.9 0.9 0 1 0 -1.8 0" fill="#2A8A1C"/>
<rect x="103.2" y="401" width="61" height="44.3" fill="#000"/>
<rect x="103.2" y="401" width="61" height="44.3" fill="#000838" opacity="0.35"/>
<path d="M143.8 424.7a1.4 1.4 0 1 0 2.8 0a1.4 1.4 0 1 0 -2.8 0M120.7 421.7a1.6 1.6 0 1 0 3.3 0a1.6 1.6 0 1 0 -3.3 0M124.5 417.8a1.5 1.5 0 1 0 2.9 0a1.5 1.5 0 1 0 -2.9 0M106.7 403.4a1.4 1.4 0 1 0 2.8 0a1.4 1.4 0 1 0 -2.8 0M149.7 414.5a1.8 1.8 0 1 0 3.6 0a1.8 1.8 0 1 0 -3.6 0M114.9 442.7a1.4 1.4 0 1 0 2.9 0a1.4 1.4 0 1 0 -2.9 0M134.4 434.6a1.4 1.4 0 1 0 2.8 0a1.4 1.4 0 1 0 -2.8 0M149.7 420.6a1.4 1.4 0 1 0 2.8 0a1.4 1.4 0 1 0 -2.8 0M123.2 436.4a1.5 1.5 0 1 0 2.9 0a1.5 1.5 0 1 0 -2.9 0" fill="#1A1AC0"/>
<path d="M128.9 421.3a1.1 1.1 0 1 0 2.3 0a1.1 1.1 0 1 0 -2.3 0M116.4 402.6a1.2 1.2 0 1 0 2.5 0a1.2 1.2 0 1 0 -2.5 0M117.4 418.6a1.2 1.2 0 1 0 2.5 0a1.2 1.2 0 1 0 -2.5 0M149 442.2a1.4 1.4 0 1 0 2.9 0a1.4 1.4 0 1 0 -2.9 0M104.6 416.4a1.8 1.8 0 1 0 3.6 0a1.8 1.8 0 1 0 -3.6 0M131.1 410.3a1.5 1.5 0 1 0 2.9 0a1.5 1.5 0 1 0 -2.9 0M156.7 441.3a1.1 1.1 0 1 0 2.2 0a1.1 1.1 0 1 0 -2.2 0M146.9 428.6a1.4 1.4 0 1 0 2.8 0a1.4 1.4 0 1 0 -2.8 0M113.9 419.6a1.5 1.5 0 1 0 2.9 0a1.5 1.5 0 1 0 -2.9 0M151.4 425.4a1.7 1.7 0 1 0 3.5 0a1.7 1.7 0 1 0 -3.5 0M154.2 438.5a1.4 1.4 0 1 0 2.8 0a1.4 1.4 0 1 0 -2.8 0" fill="#3030FF"/>
<path d="M111.7 421.5a1.2 1.2 0 1 0 2.5 0a1.2 1.2 0 1 0 -2.5 0M111.3 427.6a1.4 1.4 0 1 0 2.8 0a1.4 1.4 0 1 0 -2.8 0M125.9 403.6a1.8 1.8 0 1 0 3.6 0a1.8 1.8 0 1 0 -3.6 0M122.9 415.4a1.4 1.4 0 1 0 2.8 0a1.4 1.4 0 1 0 -2.8 0M117.4 404.5a1.2 1.2 0 1 0 2.4 0a1.2 1.2 0 1 0 -2.4 0M137.4 403a1.3 1.3 0 1 0 2.5 0a1.3 1.3 0 1 0 -2.5 0" fill="#1C1CD8"/>
<path d="M104.5 426.6a1.5 1.5 0 1 0 2.9 0a1.5 1.5 0 1 0 -2.9 0M105.3 432a1.3 1.3 0 1 0 2.5 0a1.3 1.3 0 1 0 -2.5 0M139.6 416.8a1.2 1.2 0 1 0 2.4 0a1.2 1.2 0 1 0 -2.4 0M108.3 430.7a1.8 1.8 0 1 0 3.6 0a1.8 1.8 0 1 0 -3.6 0M109.6 430.6a1.1 1.1 0 1 0 2.2 0a1.1 1.1 0 1 0 -2.2 0M158.5 404.3a1.2 1.2 0 1 0 2.4 0a1.2 1.2 0 1 0 -2.4 0M150.8 406.3a1.6 1.6 0 1 0 3.2 0a1.6 1.6 0 1 0 -3.2 0M121.6 427.3a1.7 1.7 0 1 0 3.3 0a1.7 1.7 0 1 0 -3.3 0M161.2 402.6a1.2 1.2 0 1 0 2.5 0a1.2 1.2 0 1 0 -2.5 0" fill="#2424F0"/>
<path d="M116.2 425.7a1.5 1.5 0 1 0 3 0a1.5 1.5 0 1 0 -3 0" fill="#A0F0FF"/>
<path d="M155.2 415.9a1.7 1.7 0 1 0 3.3 0a1.7 1.7 0 1 0 -3.3 0" fill="#60C8F0"/>
<path d="M130.1 428.1a1.7 1.7 0 1 0 3.4 0a1.7 1.7 0 1 0 -3.4 0" fill="#7FE8FF"/>
<rect x="103.2" y="451.7" width="61" height="44.3" fill="#000"/>
<path d="M110.5 454.7a1.1 1.1 0 1 0 2.2 0a1.1 1.1 0 1 0 -2.2 0M143.3 468.4a0.9 0.9 0 1 0 1.9 0a0.9 0.9 0 1 0 -1.9 0" fill="#1E6E14"/>
<path d="M118.4 458.1a1.3 1.3 0 1 0 2.5 0a1.3 1.3 0 1 0 -2.5 0M141.7 485a1.2 1.2 0 1 0 2.3 0a1.2 1.2 0 1 0 -2.3 0M128.7 463.8a1.5 1.5 0 1 0 2.9 0a1.5 1.5 0 1 0 -2.9 0" fill="#6CF050"/>
<path d="M140.9 484.4a0.9 0.9 0 1 0 1.7 0a0.9 0.9 0 1 0 -1.7 0M116.6 467.8a0.8 0.8 0 1 0 1.6 0a0.8 0.8 0 1 0 -1.6 0" fill="#2A8A1C"/>
<path d="M125.4 458.4a1.3 1.3 0 1 0 2.7 0a1.3 1.3 0 1 0 -2.7 0" fill="#3FD02A"/>
<path d="M108.1 467.6a1.5 1.5 0 1 0 2.9 0a1.5 1.5 0 1 0 -2.9 0" fill="#4FE834"/>
<path d="M145.7 489a0.9 0.9 0 1 0 1.8 0a0.9 0.9 0 1 0 -1.8 0" fill="#174F10"/>
<rect x="103.2" y="497.9" width="61" height="44.4" fill="#000"/>
<rect x="103.2" y="497.9" width="61" height="44.4" fill="#000838" opacity="0.35"/>
<path d="M144.5 534.7a1.4 1.4 0 1 0 2.7 0a1.4 1.4 0 1 0 -2.7 0M132.4 501.9a1.4 1.4 0 1 0 2.9 0a1.4 1.4 0 1 0 -2.9 0M130.2 507.5a1.6 1.6 0 1 0 3.3 0a1.6 1.6 0 1 0 -3.3 0M110.8 521.4a1.5 1.5 0 1 0 3 0a1.5 1.5 0 1 0 -3 0M139.3 527.4a1.7 1.7 0 1 0 3.5 0a1.7 1.7 0 1 0 -3.5 0M111.3 501a1.4 1.4 0 1 0 2.9 0a1.4 1.4 0 1 0 -2.9 0M121.8 524.1a1.2 1.2 0 1 0 2.4 0a1.2 1.2 0 1 0 -2.4 0" fill="#1C1CD8"/>
<path d="M155.6 538.7a1.4 1.4 0 1 0 2.9 0a1.4 1.4 0 1 0 -2.9 0M157.6 517.3a1.8 1.8 0 1 0 3.5 0a1.8 1.8 0 1 0 -3.5 0M158 499.5a1.8 1.8 0 1 0 3.6 0a1.8 1.8 0 1 0 -3.6 0M151.4 524.4a1.7 1.7 0 1 0 3.3 0a1.7 1.7 0 1 0 -3.3 0M121.1 509.6a1.7 1.7 0 1 0 3.3 0a1.7 1.7 0 1 0 -3.3 0M158.3 530.2a1.7 1.7 0 1 0 3.4 0a1.7 1.7 0 1 0 -3.4 0M155.2 536.9a1.4 1.4 0 1 0 2.9 0a1.4 1.4 0 1 0 -2.9 0M142.8 540.5a1.5 1.5 0 1 0 3 0a1.5 1.5 0 1 0 -3 0M128.8 502.5a1.1 1.1 0 1 0 2.2 0a1.1 1.1 0 1 0 -2.2 0" fill="#1A1AC0"/>
<path d="M130.8 523.7a1.1 1.1 0 1 0 2.2 0a1.1 1.1 0 1 0 -2.2 0M109.3 511.8a1.4 1.4 0 1 0 2.8 0a1.4 1.4 0 1 0 -2.8 0M146.5 537.9a1.5 1.5 0 1 0 2.9 0a1.5 1.5 0 1 0 -2.9 0M123.9 539.4a1.4 1.4 0 1 0 2.7 0a1.4 1.4 0 1 0 -2.7 0M145.5 513.5a1.1 1.1 0 1 0 2.2 0a1.1 1.1 0 1 0 -2.2 0M104.2 501.3a1.4 1.4 0 1 0 2.9 0a1.4 1.4 0 1 0 -2.9 0M124.9 525.6a1.3 1.3 0 1 0 2.6 0a1.3 1.3 0 1 0 -2.6 0M151.1 538a1.5 1.5 0 1 0 3.1 0a1.5 1.5 0 1 0 -3.1 0M119.1 528.8a1.7 1.7 0 1 0 3.5 0a1.7 1.7 0 1 0 -3.5 0" fill="#2424F0"/>
<path d="M113.8 503.4a1.6 1.6 0 1 0 3.2 0a1.6 1.6 0 1 0 -3.2 0M146.5 510.8a1.4 1.4 0 1 0 2.8 0a1.4 1.4 0 1 0 -2.8 0M114.9 519.6a1.7 1.7 0 1 0 3.3 0a1.7 1.7 0 1 0 -3.3 0M159.6 540a1.7 1.7 0 1 0 3.4 0a1.7 1.7 0 1 0 -3.4 0M133.8 521.8a1.4 1.4 0 1 0 2.7 0a1.4 1.4 0 1 0 -2.7 0M119.5 518.6a1.7 1.7 0 1 0 3.4 0a1.7 1.7 0 1 0 -3.4 0M131.8 509.3a1.3 1.3 0 1 0 2.6 0a1.3 1.3 0 1 0 -2.6 0M132.7 533.8a1.5 1.5 0 1 0 3 0a1.5 1.5 0 1 0 -3 0M148.3 517.8a1.3 1.3 0 1 0 2.6 0a1.3 1.3 0 1 0 -2.6 0M129.7 539.1a1.2 1.2 0 1 0 2.4 0a1.2 1.2 0 1 0 -2.4 0" fill="#3030FF"/>
<path d="M154.7 538.7a1.5 1.5 0 1 0 2.9 0a1.5 1.5 0 1 0 -2.9 0M121.5 513.9a1.4 1.4 0 1 0 2.9 0a1.4 1.4 0 1 0 -2.9 0" fill="#60C8F0"/>
<path d="M151 512.7a1.3 1.3 0 1 0 2.7 0a1.3 1.3 0 1 0 -2.7 0" fill="#A0F0FF"/>
<rect x="166.5" y="338.6" width="59.2" height="15" fill="#fff" stroke="#333" stroke-width="1.1"/>
<text x="196" y="350" font-size="9.8" text-anchor="middle" font-weight="bold" fill="#000">H9C2</text>
<rect x="166" y="355" width="61" height="44.2" fill="#000"/>
<path d="M169.3 369.7a0.8 0.8 0 1 0 1.6 0a0.8 0.8 0 1 0 -1.6 0" fill="#174F10"/>
<path d="M174.6 367.1a0.9 0.9 0 1 0 1.8 0a0.9 0.9 0 1 0 -1.8 0M221.5 386.6a1 1 0 1 0 2 0a1 1 0 1 0 -2 0M214.7 382.4a1.1 1.1 0 1 0 2.2 0a1.1 1.1 0 1 0 -2.2 0" fill="#1E6E14"/>
<path d="M222.4 384.8a1.2 1.2 0 1 0 2.4 0a1.2 1.2 0 1 0 -2.4 0M183 379.5a1.5 1.5 0 1 0 2.9 0a1.5 1.5 0 1 0 -2.9 0" fill="#3FD02A"/>
<rect x="166" y="401" width="61" height="44.3" fill="#000"/>
<path d="M174.9 439.9a1 1 0 1 0 2 0a1 1 0 1 0 -2 0M167 417.8a1 1 0 1 0 1.9 0a1 1 0 1 0 -1.9 0M180.4 417.1a1.4 1.4 0 1 0 2.8 0a1.4 1.4 0 1 0 -2.8 0M197.2 437.8a1.1 1.1 0 1 0 2.2 0a1.1 1.1 0 1 0 -2.2 0M193.3 424.7a1.1 1.1 0 1 0 2.2 0a1.1 1.1 0 1 0 -2.2 0M197 434.1a0.9 0.9 0 1 0 1.9 0a0.9 0.9 0 1 0 -1.9 0M185.4 426.9a1 1 0 1 0 2 0a1 1 0 1 0 -2 0M167.1 417.9a1.1 1.1 0 1 0 2.2 0a1.1 1.1 0 1 0 -2.2 0M187.8 429.4a1.3 1.3 0 1 0 2.7 0a1.3 1.3 0 1 0 -2.7 0M192.1 430.7a1 1 0 1 0 1.9 0a1 1 0 1 0 -1.9 0M173 409.7a1.3 1.3 0 1 0 2.7 0a1.3 1.3 0 1 0 -2.7 0M193.9 408.3a1 1 0 1 0 2 0a1 1 0 1 0 -2 0M170.2 402.9a1.1 1.1 0 1 0 2.3 0a1.1 1.1 0 1 0 -2.3 0M202.9 406.4a1.2 1.2 0 1 0 2.5 0a1.2 1.2 0 1 0 -2.5 0M217.6 411.8a1.1 1.1 0 1 0 2.1 0a1.1 1.1 0 1 0 -2.1 0M199.8 406a1 1 0 1 0 2 0a1 1 0 1 0 -2 0M220.5 407.4a1.4 1.4 0 1 0 2.7 0a1.4 1.4 0 1 0 -2.7 0M213.5 417.6a1 1 0 1 0 2 0a1 1 0 1 0 -2 0M191.9 404.8a1.3 1.3 0 1 0 2.6 0a1.3 1.3 0 1 0 -2.6 0M194.9 426.4a1 1 0 1 0 2.1 0a1 1 0 1 0 -2.1 0M206 411.7a1.3 1.3 0 1 0 2.6 0a1.3 1.3 0 1 0 -2.6 0" fill="#1A1AC0"/>
<path d="M205.7 429.2a1 1 0 1 0 1.9 0a1 1 0 1 0 -1.9 0M188.6 406.9a1.1 1.1 0 1 0 2.2 0a1.1 1.1 0 1 0 -2.2 0M182 410.9a0.9 0.9 0 1 0 1.9 0a0.9 0.9 0 1 0 -1.9 0M190.3 438.5a1 1 0 1 0 1.9 0a1 1 0 1 0 -1.9 0M223.6 424.3a1.1 1.1 0 1 0 2.2 0a1.1 1.1 0 1 0 -2.2 0M169.9 437.8a1.1 1.1 0 1 0 2.2 0a1.1 1.1 0 1 0 -2.2 0M187.6 411.4a1.2 1.2 0 1 0 2.3 0a1.2 1.2 0 1 0 -2.3 0M174.9 411.6a1.1 1.1 0 1 0 2.2 0a1.1 1.1 0 1 0 -2.2 0M171.9 442.9a1.2 1.2 0 1 0 2.5 0a1.2 1.2 0 1 0 -2.5 0M195.1 437.8a1 1 0 1 0 2 0a1 1 0 1 0 -2 0M195.1 418.4a1.3 1.3 0 1 0 2.7 0a1.3 1.3 0 1 0 -2.7 0" fill="#2424F0"/>
<path d="M176.9 428.4a1.1 1.1 0 1 0 2.1 0a1.1 1.1 0 1 0 -2.1 0M216.9 404.5a1.4 1.4 0 1 0 2.8 0a1.4 1.4 0 1 0 -2.8 0M182.8 407.9a1 1 0 1 0 1.9 0a1 1 0 1 0 -1.9 0M188.5 441.2a1.2 1.2 0 1 0 2.4 0a1.2 1.2 0 1 0 -2.4 0M214.6 410.8a1.2 1.2 0 1 0 2.4 0a1.2 1.2 0 1 0 -2.4 0M192.6 422.2a1.2 1.2 0 1 0 2.3 0a1.2 1.2 0 1 0 -2.3 0M197.2 433a1.3 1.3 0 1 0 2.6 0a1.3 1.3 0 1 0 -2.6 0M179.5 408.2a1.1 1.1 0 1 0 2.1 0a1.1 1.1 0 1 0 -2.1 0M168.2 417a0.9 0.9 0 1 0 1.8 0a0.9 0.9 0 1 0 -1.8 0M221.9 404.6a1.2 1.2 0 1 0 2.3 0a1.2 1.2 0 1 0 -2.3 0M223.3 429.8a1.2 1.2 0 1 0 2.3 0a1.2 1.2 0 1 0 -2.3 0M202.2 417.2a1.3 1.3 0 1 0 2.6 0a1.3 1.3 0 1 0 -2.6 0M192.1 432.3a1.3 1.3 0 1 0 2.7 0a1.3 1.3 0 1 0 -2.7 0M208.9 411.1a1.1 1.1 0 1 0 2.1 0a1.1 1.1 0 1 0 -2.1 0M199 412.6a1.2 1.2 0 1 0 2.5 0a1.2 1.2 0 1 0 -2.5 0M186.4 443.6a1.1 1.1 0 1 0 2.3 0a1.1 1.1 0 1 0 -2.3 0M172.8 419.8a1.3 1.3 0 1 0 2.7 0a1.3 1.3 0 1 0 -2.7 0" fill="#1C1CD8"/>
<path d="M172.4 437.5a1.1 1.1 0 1 0 2.3 0a1.1 1.1 0 1 0 -2.3 0M183.6 438a1.4 1.4 0 1 0 2.8 0a1.4 1.4 0 1 0 -2.8 0M175.6 407.6a1.1 1.1 0 1 0 2.2 0a1.1 1.1 0 1 0 -2.2 0M195.8 417.9a1.1 1.1 0 1 0 2.1 0a1.1 1.1 0 1 0 -2.1 0M207 434.3a1.3 1.3 0 1 0 2.5 0a1.3 1.3 0 1 0 -2.5 0M216.5 437a1 1 0 1 0 2.1 0a1 1 0 1 0 -2.1 0M182 407.6a1.2 1.2 0 1 0 2.3 0a1.2 1.2 0 1 0 -2.3 0M208.7 412.8a1.1 1.1 0 1 0 2.2 0a1.1 1.1 0 1 0 -2.2 0M170.2 420.1a1.3 1.3 0 1 0 2.6 0a1.3 1.3 0 1 0 -2.6 0M191.2 438.3a1.3 1.3 0 1 0 2.5 0a1.3 1.3 0 1 0 -2.5 0M174.5 405.9a1.1 1.1 0 1 0 2.1 0a1.1 1.1 0 1 0 -2.1 0M177.7 403.7a1.3 1.3 0 1 0 2.5 0a1.3 1.3 0 1 0 -2.5 0M200.4 441.7a1 1 0 1 0 2.1 0a1 1 0 1 0 -2.1 0M170 438.7a1.3 1.3 0 1 0 2.5 0a1.3 1.3 0 1 0 -2.5 0M214.2 440.4a1.1 1.1 0 1 0 2.2 0a1.1 1.1 0 1 0 -2.2 0M199.5 416.7a1.2 1.2 0 1 0 2.4 0a1.2 1.2 0 1 0 -2.4 0M215.1 415.5a1.3 1.3 0 1 0 2.6 0a1.3 1.3 0 1 0 -2.6 0M180.2 417.7a1 1 0 1 0 2 0a1 1 0 1 0 -2 0M180.8 413.4a1.2 1.2 0 1 0 2.5 0a1.2 1.2 0 1 0 -2.5 0M201.2 420a1 1 0 1 0 2 0a1 1 0 1 0 -2 0M200.2 406.9a1.2 1.2 0 1 0 2.3 0a1.2 1.2 0 1 0 -2.3 0" fill="#3030FF"/>
<path d="M193.8 424.7a1.4 1.4 0 1 0 2.8 0a1.4 1.4 0 1 0 -2.8 0M199.8 430.3a1.5 1.5 0 1 0 3 0a1.5 1.5 0 1 0 -3 0" fill="#A0F0FF"/>
<path d="M169.1 417a1.3 1.3 0 1 0 2.6 0a1.3 1.3 0 1 0 -2.6 0M171.8 433.7a1.6 1.6 0 1 0 3.1 0a1.6 1.6 0 1 0 -3.1 0M222.7 436.7a1.6 1.6 0 1 0 3.2 0a1.6 1.6 0 1 0 -3.2 0M219 420a1.6 1.6 0 1 0 3.3 0a1.6 1.6 0 1 0 -3.3 0M186.7 422.3a1.3 1.3 0 1 0 2.6 0a1.3 1.3 0 1 0 -2.6 0" fill="#60C8F0"/>
<rect x="166" y="451.7" width="61" height="44.3" fill="#000"/>
<path d="M184.1 461.3a0.7 0.7 0 1 0 1.5 0a0.7 0.7 0 1 0 -1.5 0" fill="#174F10"/>
<path d="M198.7 466.6a0.9 0.9 0 1 0 1.8 0a0.9 0.9 0 1 0 -1.8 0M191.9 464.3a0.8 0.8 0 1 0 1.6 0a0.8 0.8 0 1 0 -1.6 0M211.4 491.9a1.1 1.1 0 1 0 2.2 0a1.1 1.1 0 1 0 -2.2 0M212 483.3a1 1 0 1 0 2.1 0a1 1 0 1 0 -2.1 0" fill="#1E6E14"/>
<path d="M193.8 490.3a0.7 0.7 0 1 0 1.5 0a0.7 0.7 0 1 0 -1.5 0" fill="#2A8A1C"/>
<path d="M169.8 473.1a1.3 1.3 0 1 0 2.6 0a1.3 1.3 0 1 0 -2.6 0" fill="#6CF050"/>
<path d="M173.4 475.9a1.4 1.4 0 1 0 2.8 0a1.4 1.4 0 1 0 -2.8 0M196.1 469.7a1.3 1.3 0 1 0 2.6 0a1.3 1.3 0 1 0 -2.6 0" fill="#3FD02A"/>
<path d="M179.9 464.2a1.2 1.2 0 1 0 2.4 0a1.2 1.2 0 1 0 -2.4 0" fill="#4FE834"/>
<rect x="166" y="497.9" width="61" height="44.4" fill="#000"/>
<path d="M174 502.9a1.4 1.4 0 1 0 2.8 0a1.4 1.4 0 1 0 -2.8 0M223.2 517.2a1 1 0 1 0 2.1 0a1 1 0 1 0 -2.1 0M195.5 538.9a1.3 1.3 0 1 0 2.6 0a1.3 1.3 0 1 0 -2.6 0M181.2 525.4a1.2 1.2 0 1 0 2.4 0a1.2 1.2 0 1 0 -2.4 0M194.6 530a1 1 0 1 0 1.9 0a1 1 0 1 0 -1.9 0M181.9 528.4a0.9 0.9 0 1 0 1.8 0a0.9 0.9 0 1 0 -1.8 0M206.2 516.6a0.9 0.9 0 1 0 1.8 0a0.9 0.9 0 1 0 -1.8 0M191.3 513.6a1.4 1.4 0 1 0 2.7 0a1.4 1.4 0 1 0 -2.7 0M209.9 507.9a0.9 0.9 0 1 0 1.9 0a0.9 0.9 0 1 0 -1.9 0M173.2 524a1.4 1.4 0 1 0 2.7 0a1.4 1.4 0 1 0 -2.7 0M184.4 517.7a1.4 1.4 0 1 0 2.7 0a1.4 1.4 0 1 0 -2.7 0M218 509.5a1 1 0 1 0 2 0a1 1 0 1 0 -2 0M179.7 536.7a1.1 1.1 0 1 0 2.1 0a1.1 1.1 0 1 0 -2.1 0M212.3 513.6a1 1 0 1 0 2.1 0a1 1 0 1 0 -2.1 0" fill="#3030FF"/>
<path d="M222.7 512.9a1.3 1.3 0 1 0 2.6 0a1.3 1.3 0 1 0 -2.6 0M168.6 519.7a1.4 1.4 0 1 0 2.8 0a1.4 1.4 0 1 0 -2.8 0M200.5 515.5a0.9 0.9 0 1 0 1.8 0a0.9 0.9 0 1 0 -1.8 0M191.2 499.5a1.3 1.3 0 1 0 2.6 0a1.3 1.3 0 1 0 -2.6 0M205.3 524.4a1 1 0 1 0 2 0a1 1 0 1 0 -2 0M192.7 532.5a1.1 1.1 0 1 0 2.1 0a1.1 1.1 0 1 0 -2.1 0M195.1 503.5a1.4 1.4 0 1 0 2.7 0a1.4 1.4 0 1 0 -2.7 0M191.5 504.6a1.4 1.4 0 1 0 2.8 0a1.4 1.4 0 1 0 -2.8 0M190.1 526.3a1 1 0 1 0 1.9 0a1 1 0 1 0 -1.9 0M180.2 506a1.1 1.1 0 1 0 2.2 0a1.1 1.1 0 1 0 -2.2 0M209.5 539a1.1 1.1 0 1 0 2.3 0a1.1 1.1 0 1 0 -2.3 0M187.6 529.4a1 1 0 1 0 2.1 0a1 1 0 1 0 -2.1 0M202.1 519a0.9 0.9 0 1 0 1.9 0a0.9 0.9 0 1 0 -1.9 0M198.2 504.7a1.1 1.1 0 1 0 2.2 0a1.1 1.1 0 1 0 -2.2 0M178.9 504.4a1 1 0 1 0 2 0a1 1 0 1 0 -2 0M166.3 526.1a1.3 1.3 0 1 0 2.6 0a1.3 1.3 0 1 0 -2.6 0" fill="#1C1CD8"/>
<path d="M187.8 535.4a1.3 1.3 0 1 0 2.5 0a1.3 1.3 0 1 0 -2.5 0M166.6 502.8a1.3 1.3 0 1 0 2.6 0a1.3 1.3 0 1 0 -2.6 0M207.3 522.3a1.2 1.2 0 1 0 2.5 0a1.2 1.2 0 1 0 -2.5 0M169.2 508.2a0.9 0.9 0 1 0 1.8 0a0.9 0.9 0 1 0 -1.8 0M220.5 529.3a1.2 1.2 0 1 0 2.4 0a1.2 1.2 0 1 0 -2.4 0M190 523.8a1 1 0 1 0 2 0a1 1 0 1 0 -2 0M199.2 510.4a1.3 1.3 0 1 0 2.6 0a1.3 1.3 0 1 0 -2.6 0M204.8 529.9a1.2 1.2 0 1 0 2.3 0a1.2 1.2 0 1 0 -2.3 0M203.4 532.5a1 1 0 1 0 2 0a1 1 0 1 0 -2 0M195.4 519.3a1 1 0 1 0 2 0a1 1 0 1 0 -2 0M186.2 511.7a1.3 1.3 0 1 0 2.6 0a1.3 1.3 0 1 0 -2.6 0M190.8 528.8a1.2 1.2 0 1 0 2.4 0a1.2 1.2 0 1 0 -2.4 0M184.2 530a1 1 0 1 0 2.1 0a1 1 0 1 0 -2.1 0M204.3 537.2a1.1 1.1 0 1 0 2.3 0a1.1 1.1 0 1 0 -2.3 0M217.7 522.8a1.1 1.1 0 1 0 2.1 0a1.1 1.1 0 1 0 -2.1 0M213.7 514.5a1.3 1.3 0 1 0 2.6 0a1.3 1.3 0 1 0 -2.6 0M203.8 529.5a1 1 0 1 0 1.9 0a1 1 0 1 0 -1.9 0M194.1 515.1a1.2 1.2 0 1 0 2.3 0a1.2 1.2 0 1 0 -2.3 0M175.4 528a1.2 1.2 0 1 0 2.4 0a1.2 1.2 0 1 0 -2.4 0M198.3 523.9a1.1 1.1 0 1 0 2.1 0a1.1 1.1 0 1 0 -2.1 0M211.4 533.9a1 1 0 1 0 2 0a1 1 0 1 0 -2 0M192.7 509.8a1.2 1.2 0 1 0 2.3 0a1.2 1.2 0 1 0 -2.3 0" fill="#1A1AC0"/>
<path d="M177.9 506a1.4 1.4 0 1 0 2.8 0a1.4 1.4 0 1 0 -2.8 0M171.3 502.7a1.2 1.2 0 1 0 2.5 0a1.2 1.2 0 1 0 -2.5 0M196.2 513a1.4 1.4 0 1 0 2.8 0a1.4 1.4 0 1 0 -2.8 0M175.5 515.6a1.1 1.1 0 1 0 2.2 0a1.1 1.1 0 1 0 -2.2 0M198.1 524.1a1 1 0 1 0 2.1 0a1 1 0 1 0 -2.1 0M179.6 521.2a1 1 0 1 0 2.1 0a1 1 0 1 0 -2.1 0M167.5 500.4a1.2 1.2 0 1 0 2.4 0a1.2 1.2 0 1 0 -2.4 0M207.2 535.4a1.4 1.4 0 1 0 2.7 0a1.4 1.4 0 1 0 -2.7 0M184 512a1 1 0 1 0 1.9 0a1 1 0 1 0 -1.9 0M202.8 502.8a1.2 1.2 0 1 0 2.5 0a1.2 1.2 0 1 0 -2.5 0M195.1 514.4a1.1 1.1 0 1 0 2.3 0a1.1 1.1 0 1 0 -2.3 0M208 524.2a1.2 1.2 0 1 0 2.5 0a1.2 1.2 0 1 0 -2.5 0M202 509.4a1 1 0 1 0 2 0a1 1 0 1 0 -2 0M174.2 535.8a1.3 1.3 0 1 0 2.6 0a1.3 1.3 0 1 0 -2.6 0M219.2 507.4a1.3 1.3 0 1 0 2.7 0a1.3 1.3 0 1 0 -2.7 0M223 505.1a1.3 1.3 0 1 0 2.6 0a1.3 1.3 0 1 0 -2.6 0M220.4 530.6a1.3 1.3 0 1 0 2.6 0a1.3 1.3 0 1 0 -2.6 0M222.3 536.9a1.4 1.4 0 1 0 2.7 0a1.4 1.4 0 1 0 -2.7 0" fill="#2424F0"/>
<path d="M181.8 511.5a1.3 1.3 0 1 0 2.6 0a1.3 1.3 0 1 0 -2.6 0M219.3 512.5a1.3 1.3 0 1 0 2.5 0a1.3 1.3 0 1 0 -2.5 0M190.6 531.1a1.4 1.4 0 1 0 2.8 0a1.4 1.4 0 1 0 -2.8 0" fill="#60C8F0"/>
<path d="M203.7 523.9a1.6 1.6 0 1 0 3.3 0a1.6 1.6 0 1 0 -3.3 0M186.4 506.8a1.2 1.2 0 1 0 2.5 0a1.2 1.2 0 1 0 -2.5 0" fill="#A0F0FF"/>
<path d="M200.9 504.8a1.7 1.7 0 1 0 3.4 0a1.7 1.7 0 1 0 -3.4 0M211 524.4a1.4 1.4 0 1 0 2.9 0a1.4 1.4 0 1 0 -2.9 0" fill="#7FE8FF"/>
<rect x="229.4" y="338.6" width="59.2" height="15" fill="#fff" stroke="#333" stroke-width="1.1"/>
<text x="258.9" y="350" font-size="9.8" text-anchor="middle" font-weight="bold" fill="#000">HK-2</text>
<rect x="228.9" y="355" width="61" height="44.2" fill="#000"/>
<path d="M248.7 368.7a1.2 1.2 0 1 0 2.3 0a1.2 1.2 0 1 0 -2.3 0M232.7 372.2a1.2 1.2 0 1 0 2.3 0a1.2 1.2 0 1 0 -2.3 0M241.4 385.8a1.4 1.4 0 1 0 2.9 0a1.4 1.4 0 1 0 -2.9 0M271 370.1a1.1 1.1 0 1 0 2.2 0a1.1 1.1 0 1 0 -2.2 0" fill="#6CF050"/>
<path d="M273.5 376.4a1.1 1.1 0 1 0 2.2 0a1.1 1.1 0 1 0 -2.2 0M250.8 371.5a1.5 1.5 0 1 0 2.9 0a1.5 1.5 0 1 0 -2.9 0M266.7 386.8a1.3 1.3 0 1 0 2.6 0a1.3 1.3 0 1 0 -2.6 0" fill="#4FE834"/>
<path d="M278.5 368.2a1 1 0 1 0 2.1 0a1 1 0 1 0 -2.1 0M248.8 379.7a0.9 0.9 0 1 0 1.8 0a0.9 0.9 0 1 0 -1.8 0M270.7 364.5a1 1 0 1 0 1.9 0a1 1 0 1 0 -1.9 0M260.6 390.7a1.1 1.1 0 1 0 2.2 0a1.1 1.1 0 1 0 -2.2 0" fill="#1E6E14"/>
<path d="M240 386.6a0.7 0.7 0 1 0 1.5 0a0.7 0.7 0 1 0 -1.5 0" fill="#2A8A1C"/>
<path d="M272.4 389a0.9 0.9 0 1 0 1.7 0a0.9 0.9 0 1 0 -1.7 0" fill="#174F10"/>
<path d="M241.4 361.2a0.9 0.9 0 1 0 1.8 0a0.9 0.9 0 1 0 -1.8 0" fill="#3FD02A"/>
<rect x="228.9" y="401" width="61" height="44.3" fill="#000"/>
<path d="M247.7 441.9a1.3 1.3 0 1 0 2.7 0a1.3 1.3 0 1 0 -2.7 0M276.7 440.6a1.2 1.2 0 1 0 2.4 0a1.2 1.2 0 1 0 -2.4 0M278.6 443.7a0.9 0.9 0 1 0 1.9 0a0.9 0.9 0 1 0 -1.9 0M233 425.3a1.1 1.1 0 1 0 2.2 0a1.1 1.1 0 1 0 -2.2 0M256.8 423.5a1.2 1.2 0 1 0 2.3 0a1.2 1.2 0 1 0 -2.3 0M232.4 440.5a1.3 1.3 0 1 0 2.6 0a1.3 1.3 0 1 0 -2.6 0M285.9 413.5a1.1 1.1 0 1 0 2.1 0a1.1 1.1 0 1 0 -2.1 0M250.9 426.8a1.1 1.1 0 1 0 2.2 0a1.1 1.1 0 1 0 -2.2 0M286.2 407.1a1.2 1.2 0 1 0 2.4 0a1.2 1.2 0 1 0 -2.4 0M267.1 426.4a1.3 1.3 0 1 0 2.7 0a1.3 1.3 0 1 0 -2.7 0M279.8 425.6a1.1 1.1 0 1 0 2.2 0a1.1 1.1 0 1 0 -2.2 0M285.7 405.4a1 1 0 1 0 2.1 0a1 1 0 1 0 -2.1 0M279.6 404.5a0.9 0.9 0 1 0 1.9 0a0.9 0.9 0 1 0 -1.9 0M237.7 428.3a1.2 1.2 0 1 0 2.5 0a1.2 1.2 0 1 0 -2.5 0M252.3 423.3a0.9 0.9 0 1 0 1.8 0a0.9 0.9 0 1 0 -1.8 0M274.7 407a0.9 0.9 0 1 0 1.9 0a0.9 0.9 0 1 0 -1.9 0M239.7 410.1a1.2 1.2 0 1 0 2.5 0a1.2 1.2 0 1 0 -2.5 0M242.3 422.5a1.1 1.1 0 1 0 2.2 0a1.1 1.1 0 1 0 -2.2 0M280.4 429a1 1 0 1 0 2 0a1 1 0 1 0 -2 0M255.4 434.3a1 1 0 1 0 2 0a1 1 0 1 0 -2 0M269.7 425.5a1.1 1.1 0 1 0 2.2 0a1.1 1.1 0 1 0 -2.2 0M256.6 431.4a1 1 0 1 0 2.1 0a1 1 0 1 0 -2.1 0M275.6 417.3a1.2 1.2 0 1 0 2.4 0a1.2 1.2 0 1 0 -2.4 0M234 426.7a1.1 1.1 0 1 0 2.3 0a1.1 1.1 0 1 0 -2.3 0M238 430.8a1.2 1.2 0 1 0 2.5 0a1.2 1.2 0 1 0 -2.5 0M264.5 418a1.4 1.4 0 1 0 2.7 0a1.4 1.4 0 1 0 -2.7 0M257.8 433.5a1 1 0 1 0 2 0a1 1 0 1 0 -2 0M267.9 412.7a1.1 1.1 0 1 0 2.2 0a1.1 1.1 0 1 0 -2.2 0M233.3 438.3a1 1 0 1 0 2 0a1 1 0 1 0 -2 0M243.6 415.8a1.1 1.1 0 1 0 2.2 0a1.1 1.1 0 1 0 -2.2 0M281.5 440a1 1 0 1 0 2 0a1 1 0 1 0 -2 0M258.5 418.9a1 1 0 1 0 2 0a1 1 0 1 0 -2 0" fill="#2424F0"/>
<path d="M242 426.7a1 1 0 1 0 1.9 0a1 1 0 1 0 -1.9 0M265.2 440.3a1.1 1.1 0 1 0 2.1 0a1.1 1.1 0 1 0 -2.1 0M233.7 433.8a1.2 1.2 0 1 0 2.3 0a1.2 1.2 0 1 0 -2.3 0M254.6 418.6a1.2 1.2 0 1 0 2.3 0a1.2 1.2 0 1 0 -2.3 0M246.2 405.5a1.4 1.4 0 1 0 2.7 0a1.4 1.4 0 1 0 -2.7 0M241.1 413.3a1 1 0 1 0 1.9 0a1 1 0 1 0 -1.9 0M246.5 427.2a1.4 1.4 0 1 0 2.7 0a1.4 1.4 0 1 0 -2.7 0M262.4 425.6a1.1 1.1 0 1 0 2.1 0a1.1 1.1 0 1 0 -2.1 0M269.3 437.4a0.9 0.9 0 1 0 1.8 0a0.9 0.9 0 1 0 -1.8 0M283.6 410.1a1.4 1.4 0 1 0 2.7 0a1.4 1.4 0 1 0 -2.7 0M280 433.1a1.4 1.4 0 1 0 2.7 0a1.4 1.4 0 1 0 -2.7 0M280.3 409.3a1.3 1.3 0 1 0 2.6 0a1.3 1.3 0 1 0 -2.6 0M250.9 406.9a1.3 1.3 0 1 0 2.7 0a1.3 1.3 0 1 0 -2.7 0M266.8 434.4a1 1 0 1 0 2 0a1 1 0 1 0 -2 0M258.9 414.3a1.4 1.4 0 1 0 2.8 0a1.4 1.4 0 1 0 -2.8 0M284.5 436.7a1.2 1.2 0 1 0 2.3 0a1.2 1.2 0 1 0 -2.3 0M265.3 415.5a1.3 1.3 0 1 0 2.6 0a1.3 1.3 0 1 0 -2.6 0M244.7 405.3a1 1 0 1 0 2 0a1 1 0 1 0 -2 0M245.4 428.9a1 1 0 1 0 2 0a1 1 0 1 0 -2 0M280.6 412a1.1 1.1 0 1 0 2.1 0a1.1 1.1 0 1 0 -2.1 0M278.8 437.1a1.2 1.2 0 1 0 2.4 0a1.2 1.2 0 1 0 -2.4 0M242.1 439.1a1.4 1.4 0 1 0 2.8 0a1.4 1.4 0 1 0 -2.8 0M231.1 442.5a1 1 0 1 0 2 0a1 1 0 1 0 -2 0M284 415.6a0.9 0.9 0 1 0 1.9 0a0.9 0.9 0 1 0 -1.9 0M231.9 416.7a1.3 1.3 0 1 0 2.6 0a1.3 1.3 0 1 0 -2.6 0M241.1 433.1a1.1 1.1 0 1 0 2.1 0a1.1 1.1 0 1 0 -2.1 0M261.1 428.4a1 1 0 1 0 2 0a1 1 0 1 0 -2 0M251.7 442.2a1.2 1.2 0 1 0 2.4 0a1.2 1.2 0 1 0 -2.4 0M263.6 418.9a1.1 1.1 0 1 0 2.2 0a1.1 1.1 0 1 0 -2.2 0M286.2 424.5a1.3 1.3 0 1 0 2.6 0a1.3 1.3 0 1 0 -2.6 0M233.7 436.5a1.2 1.2 0 1 0 2.4 0a1.2 1.2 0 1 0 -2.4 0M241.7 420.6a0.9 0.9 0 1 0 1.8 0a0.9 0.9 0 1 0 -1.8 0M266.5 407.2a1.2 1.2 0 1 0 2.4 0a1.2 1.2 0 1 0 -2.4 0M265.4 415.3a1.2 1.2 0 1 0 2.4 0a1.2 1.2 0 1 0 -2.4 0M267.2 431.5a1.1 1.1 0 1 0 2.2 0a1.1 1.1 0 1 0 -2.2 0M239.2 441.7a1.1 1.1 0 1 0 2.2 0a1.1 1.1 0 1 0 -2.2 0M256.5 415.1a1.1 1.1 0 1 0 2.3 0a1.1 1.1 0 1 0 -2.3 0" fill="#3030FF"/>
<path d="M254.9 424.1a1.2 1.2 0 1 0 2.5 0a1.2 1.2 0 1 0 -2.5 0M246 416.7a1.3 1.3 0 1 0 2.6 0a1.3 1.3 0 1 0 -2.6 0M260.1 433.2a1.3 1.3 0 1 0 2.6 0a1.3 1.3 0 1 0 -2.6 0M276.4 434.8a1.1 1.1 0 1 0 2.2 0a1.1 1.1 0 1 0 -2.2 0M229.4 409.8a1 1 0 1 0 2 0a1 1 0 1 0 -2 0M255.7 425.9a1 1 0 1 0 2.1 0a1 1 0 1 0 -2.1 0M247.2 443.1a1.1 1.1 0 1 0 2.3 0a1.1 1.1 0 1 0 -2.3 0M249.6 402.8a0.9 0.9 0 1 0 1.8 0a0.9 0.9 0 1 0 -1.8 0M248.2 409.6a1.1 1.1 0 1 0 2.2 0a1.1 1.1 0 1 0 -2.2 0M272.5 412a1.4 1.4 0 1 0 2.8 0a1.4 1.4 0 1 0 -2.8 0M272.2 418.9a1.3 1.3 0 1 0 2.7 0a1.3 1.3 0 1 0 -2.7 0M250.6 417.2a1.2 1.2 0 1 0 2.4 0a1.2 1.2 0 1 0 -2.4 0M250.4 432.9a1 1 0 1 0 2 0a1 1 0 1 0 -2 0M286.7 433.9a1.1 1.1 0 1 0 2.2 0a1.1 1.1 0 1 0 -2.2 0M266.9 411.3a1.3 1.3 0 1 0 2.5 0a1.3 1.3 0 1 0 -2.5 0M247.2 417.2a1.3 1.3 0 1 0 2.5 0a1.3 1.3 0 1 0 -2.5 0M273.9 430.3a1 1 0 1 0 2.1 0a1 1 0 1 0 -2.1 0M240.7 409.5a1.3 1.3 0 1 0 2.6 0a1.3 1.3 0 1 0 -2.6 0M261.6 415a1.3 1.3 0 1 0 2.6 0a1.3 1.3 0 1 0 -2.6 0M280.7 423.2a1 1 0 1 0 2 0a1 1 0 1 0 -2 0M246.3 420.6a1.2 1.2 0 1 0 2.3 0a1.2 1.2 0 1 0 -2.3 0M236.2 442.6a1.2 1.2 0 1 0 2.4 0a1.2 1.2 0 1 0 -2.4 0M255.9 429.8a1.4 1.4 0 1 0 2.7 0a1.4 1.4 0 1 0 -2.7 0M244.5 421.7a0.9 0.9 0 1 0 1.9 0a0.9 0.9 0 1 0 -1.9 0M268.7 414.6a1 1 0 1 0 1.9 0a1 1 0 1 0 -1.9 0M255.1 412.6a1.3 1.3 0 1 0 2.6 0a1.3 1.3 0 1 0 -2.6 0M280.5 441.4a0.9 0.9 0 1 0 1.8 0a0.9 0.9 0 1 0 -1.8 0M229.7 437.6a1.1 1.1 0 1 0 2.1 0a1.1 1.1 0 1 0 -2.1 0M249.2 409.8a1 1 0 1 0 2 0a1 1 0 1 0 -2 0M281.3 425.8a1 1 0 1 0 2.1 0a1 1 0 1 0 -2.1 0" fill="#1C1CD8"/>
<path d="M263.4 419.2a1.4 1.4 0 1 0 2.8 0a1.4 1.4 0 1 0 -2.8 0M263.8 417.6a1.4 1.4 0 1 0 2.7 0a1.4 1.4 0 1 0 -2.7 0M260.1 436.6a1 1 0 1 0 2.1 0a1 1 0 1 0 -2.1 0M276.6 430.2a0.9 0.9 0 1 0 1.8 0a0.9 0.9 0 1 0 -1.8 0M274.6 409.9a1.1 1.1 0 1 0 2.3 0a1.1 1.1 0 1 0 -2.3 0M262.8 408.7a1.1 1.1 0 1 0 2.2 0a1.1 1.1 0 1 0 -2.2 0M229.5 442.3a1.3 1.3 0 1 0 2.6 0a1.3 1.3 0 1 0 -2.6 0M285.2 412.1a1.4 1.4 0 1 0 2.8 0a1.4 1.4 0 1 0 -2.8 0M257.3 410.6a1.2 1.2 0 1 0 2.4 0a1.2 1.2 0 1 0 -2.4 0M286 433.9a1.2 1.2 0 1 0 2.3 0a1.2 1.2 0 1 0 -2.3 0M277.2 417.2a1.1 1.1 0 1 0 2.1 0a1.1 1.1 0 1 0 -2.1 0M271.3 410.5a1.2 1.2 0 1 0 2.5 0a1.2 1.2 0 1 0 -2.5 0M244 441a1.3 1.3 0 1 0 2.6 0a1.3 1.3 0 1 0 -2.6 0M238.4 437.9a1.3 1.3 0 1 0 2.6 0a1.3 1.3 0 1 0 -2.6 0M234.3 436.3a0.9 0.9 0 1 0 1.8 0a0.9 0.9 0 1 0 -1.8 0M265.9 426.7a1.3 1.3 0 1 0 2.7 0a1.3 1.3 0 1 0 -2.7 0M276.6 411.1a1.3 1.3 0 1 0 2.6 0a1.3 1.3 0 1 0 -2.6 0M234.7 421.9a1.3 1.3 0 1 0 2.7 0a1.3 1.3 0 1 0 -2.7 0M230.6 418.4a1.3 1.3 0 1 0 2.6 0a1.3 1.3 0 1 0 -2.6 0M279.7 409.3a0.9 0.9 0 1 0 1.9 0a0.9 0.9 0 1 0 -1.9 0M236 438.1a1.2 1.2 0 1 0 2.5 0a1.2 1.2 0 1 0 -2.5 0M265.7 437.8a1.3 1.3 0 1 0 2.6 0a1.3 1.3 0 1 0 -2.6 0M268.8 410.6a1.2 1.2 0 1 0 2.3 0a1.2 1.2 0 1 0 -2.3 0M243.2 423.4a1.1 1.1 0 1 0 2.3 0a1.1 1.1 0 1 0 -2.3 0M280 405.8a1.4 1.4 0 1 0 2.8 0a1.4 1.4 0 1 0 -2.8 0M255.5 426a1.2 1.2 0 1 0 2.4 0a1.2 1.2 0 1 0 -2.4 0M238.7 407a1.1 1.1 0 1 0 2.2 0a1.1 1.1 0 1 0 -2.2 0M271.2 404.2a1.1 1.1 0 1 0 2.2 0a1.1 1.1 0 1 0 -2.2 0M237.9 402.7a1.4 1.4 0 1 0 2.8 0a1.4 1.4 0 1 0 -2.8 0M276.8 426.5a0.9 0.9 0 1 0 1.9 0a0.9 0.9 0 1 0 -1.9 0M253.2 441.6a1.1 1.1 0 1 0 2.1 0a1.1 1.1 0 1 0 -2.1 0" fill="#1A1AC0"/>
<path d="M239 442.3a1.7 1.7 0 1 0 3.4 0a1.7 1.7 0 1 0 -3.4 0M269.8 410.9a1.4 1.4 0 1 0 2.7 0a1.4 1.4 0 1 0 -2.7 0" fill="#60C8F0"/>
<path d="M262.2 407.4a1.3 1.3 0 1 0 2.6 0a1.3 1.3 0 1 0 -2.6 0M265.8 416a1.2 1.2 0 1 0 2.5 0a1.2 1.2 0 1 0 -2.5 0M278.1 419.1a1.3 1.3 0 1 0 2.7 0a1.3 1.3 0 1 0 -2.7 0M261.9 425.9a1.7 1.7 0 1 0 3.4 0a1.7 1.7 0 1 0 -3.4 0M264.3 403.1a1.4 1.4 0 1 0 2.8 0a1.4 1.4 0 1 0 -2.8 0" fill="#7FE8FF"/>
<path d="M245.4 415.4a1.5 1.5 0 1 0 2.9 0a1.5 1.5 0 1 0 -2.9 0M280.8 416.4a1.4 1.4 0 1 0 2.8 0a1.4 1.4 0 1 0 -2.8 0M282.8 412.1a1.4 1.4 0 1 0 2.8 0a1.4 1.4 0 1 0 -2.8 0M240.4 439.8a1.7 1.7 0 1 0 3.4 0a1.7 1.7 0 1 0 -3.4 0M256.4 407.7a1.6 1.6 0 1 0 3.2 0a1.6 1.6 0 1 0 -3.2 0M248.9 409a1.2 1.2 0 1 0 2.5 0a1.2 1.2 0 1 0 -2.5 0" fill="#A0F0FF"/>
<rect x="228.9" y="451.7" width="61" height="44.3" fill="#000"/>
<path d="M280.5 460.9a1.5 1.5 0 1 0 3 0a1.5 1.5 0 1 0 -3 0M265.5 481.9a0.9 0.9 0 1 0 1.8 0a0.9 0.9 0 1 0 -1.8 0M269 474.7a1.1 1.1 0 1 0 2.2 0a1.1 1.1 0 1 0 -2.2 0M258.4 464.1a1.3 1.3 0 1 0 2.5 0a1.3 1.3 0 1 0 -2.5 0" fill="#4FE834"/>
<path d="M248 493.4a0.8 0.8 0 1 0 1.6 0a0.8 0.8 0 1 0 -1.6 0M261.9 486.5a0.9 0.9 0 1 0 1.8 0a0.9 0.9 0 1 0 -1.8 0" fill="#174F10"/>
<path d="M247.5 466.7a1 1 0 1 0 2 0a1 1 0 1 0 -2 0M271.2 460.2a0.8 0.8 0 1 0 1.6 0a0.8 0.8 0 1 0 -1.6 0M277.8 454.4a0.8 0.8 0 1 0 1.5 0a0.8 0.8 0 1 0 -1.5 0" fill="#1E6E14"/>
<path d="M242.6 493.2a1.5 1.5 0 1 0 3 0a1.5 1.5 0 1 0 -3 0M248.2 462.1a0.9 0.9 0 1 0 1.9 0a0.9 0.9 0 1 0 -1.9 0M230.4 480.4a1.5 1.5 0 1 0 2.9 0a1.5 1.5 0 1 0 -2.9 0M244.2 475.2a1 1 0 1 0 1.9 0a1 1 0 1 0 -1.9 0" fill="#6CF050"/>
<path d="M236 459.2a1.1 1.1 0 1 0 2.1 0a1.1 1.1 0 1 0 -2.1 0M277.2 476.1a1 1 0 1 0 2 0a1 1 0 1 0 -2 0M242 489.3a1.1 1.1 0 1 0 2.3 0a1.1 1.1 0 1 0 -2.3 0M264.6 481.3a1.2 1.2 0 1 0 2.4 0a1.2 1.2 0 1 0 -2.4 0" fill="#3FD02A"/>
<path d="M249.3 492.3a1 1 0 1 0 2.1 0a1 1 0 1 0 -2.1 0" fill="#2A8A1C"/>
<rect x="228.9" y="497.9" width="61" height="44.4" fill="#000"/>
<path d="M262.5 509.9a1.3 1.3 0 1 0 2.6 0a1.3 1.3 0 1 0 -2.6 0M246.2 533.6a1.1 1.1 0 1 0 2.2 0a1.1 1.1 0 1 0 -2.2 0M280.1 519.1a1.2 1.2 0 1 0 2.4 0a1.2 1.2 0 1 0 -2.4 0M244.9 518.2a1.2 1.2 0 1 0 2.4 0a1.2 1.2 0 1 0 -2.4 0M238.6 537.1a0.9 0.9 0 1 0 1.8 0a0.9 0.9 0 1 0 -1.8 0M270.1 511.4a0.9 0.9 0 1 0 1.8 0a0.9 0.9 0 1 0 -1.8 0M283.9 527.2a1.3 1.3 0 1 0 2.5 0a1.3 1.3 0 1 0 -2.5 0M265.4 514.2a1.4 1.4 0 1 0 2.7 0a1.4 1.4 0 1 0 -2.7 0M261.6 535.2a1.3 1.3 0 1 0 2.5 0a1.3 1.3 0 1 0 -2.5 0M273.2 515.4a1 1 0 1 0 2 0a1 1 0 1 0 -2 0M250.6 514.7a1.3 1.3 0 1 0 2.6 0a1.3 1.3 0 1 0 -2.6 0M258.1 525a1 1 0 1 0 2.1 0a1 1 0 1 0 -2.1 0M255 522a1 1 0 1 0 1.9 0a1 1 0 1 0 -1.9 0M270.5 519.8a1.3 1.3 0 1 0 2.7 0a1.3 1.3 0 1 0 -2.7 0M281.5 510.3a1.2 1.2 0 1 0 2.3 0a1.2 1.2 0 1 0 -2.3 0M242.3 532.5a1.1 1.1 0 1 0 2.2 0a1.1 1.1 0 1 0 -2.2 0M231.4 527.9a1.3 1.3 0 1 0 2.6 0a1.3 1.3 0 1 0 -2.6 0M264.8 535.3a1.2 1.2 0 1 0 2.3 0a1.2 1.2 0 1 0 -2.3 0M244.7 530.7a1.3 1.3 0 1 0 2.6 0a1.3 1.3 0 1 0 -2.6 0M238.4 521.6a1.2 1.2 0 1 0 2.3 0a1.2 1.2 0 1 0 -2.3 0M230.6 533.1a1 1 0 1 0 2 0a1 1 0 1 0 -2 0M257.6 537.2a1 1 0 1 0 2 0a1 1 0 1 0 -2 0M245.6 539.2a1.1 1.1 0 1 0 2.3 0a1.1 1.1 0 1 0 -2.3 0M250.9 500.9a1.2 1.2 0 1 0 2.5 0a1.2 1.2 0 1 0 -2.5 0M249.5 499.5a1.1 1.1 0 1 0 2.2 0a1.1 1.1 0 1 0 -2.2 0M263.1 515.5a1.3 1.3 0 1 0 2.6 0a1.3 1.3 0 1 0 -2.6 0M271.9 528.5a1.2 1.2 0 1 0 2.3 0a1.2 1.2 0 1 0 -2.3 0" fill="#2424F0"/>
<path d="M259.1 511.7a1.1 1.1 0 1 0 2.2 0a1.1 1.1 0 1 0 -2.2 0M238.2 512.4a0.9 0.9 0 1 0 1.9 0a0.9 0.9 0 1 0 -1.9 0M258.5 531.1a1 1 0 1 0 2.1 0a1 1 0 1 0 -2.1 0M283.5 504.8a1.2 1.2 0 1 0 2.5 0a1.2 1.2 0 1 0 -2.5 0M246.8 508a1.2 1.2 0 1 0 2.3 0a1.2 1.2 0 1 0 -2.3 0M251 514.4a1 1 0 1 0 2.1 0a1 1 0 1 0 -2.1 0M255.4 534.6a1.2 1.2 0 1 0 2.3 0a1.2 1.2 0 1 0 -2.3 0M246.4 518.7a0.9 0.9 0 1 0 1.8 0a0.9 0.9 0 1 0 -1.8 0M278.4 514.9a1.2 1.2 0 1 0 2.3 0a1.2 1.2 0 1 0 -2.3 0M242.7 532.6a1.1 1.1 0 1 0 2.2 0a1.1 1.1 0 1 0 -2.2 0M236.5 531.5a1.4 1.4 0 1 0 2.7 0a1.4 1.4 0 1 0 -2.7 0M248.7 524.2a1 1 0 1 0 1.9 0a1 1 0 1 0 -1.9 0M267.5 533.1a0.9 0.9 0 1 0 1.8 0a0.9 0.9 0 1 0 -1.8 0M250.6 523.9a1.3 1.3 0 1 0 2.6 0a1.3 1.3 0 1 0 -2.6 0M261.5 519.8a1.1 1.1 0 1 0 2.2 0a1.1 1.1 0 1 0 -2.2 0M240.2 523.6a1.2 1.2 0 1 0 2.4 0a1.2 1.2 0 1 0 -2.4 0M285.9 514.9a1.4 1.4 0 1 0 2.8 0a1.4 1.4 0 1 0 -2.8 0M275.9 523.6a1.2 1.2 0 1 0 2.3 0a1.2 1.2 0 1 0 -2.3 0M277.7 524.5a1.1 1.1 0 1 0 2.2 0a1.1 1.1 0 1 0 -2.2 0M230.9 519.1a1 1 0 1 0 1.9 0a1 1 0 1 0 -1.9 0M277.9 510.8a1.2 1.2 0 1 0 2.3 0a1.2 1.2 0 1 0 -2.3 0M243.2 520.9a1.2 1.2 0 1 0 2.4 0a1.2 1.2 0 1 0 -2.4 0M236.6 526.3a1 1 0 1 0 2 0a1 1 0 1 0 -2 0M265.1 533.9a0.9 0.9 0 1 0 1.8 0a0.9 0.9 0 1 0 -1.8 0M286.3 507.2a1.3 1.3 0 1 0 2.5 0a1.3 1.3 0 1 0 -2.5 0M261.9 513.3a1.3 1.3 0 1 0 2.7 0a1.3 1.3 0 1 0 -2.7 0M239.5 525.3a1 1 0 1 0 1.9 0a1 1 0 1 0 -1.9 0M245.3 530.9a1.3 1.3 0 1 0 2.6 0a1.3 1.3 0 1 0 -2.6 0M262 530a1.2 1.2 0 1 0 2.5 0a1.2 1.2 0 1 0 -2.5 0M231.7 535a1 1 0 1 0 2 0a1 1 0 1 0 -2 0M275.6 539.6a1 1 0 1 0 2 0a1 1 0 1 0 -2 0M248.6 506.7a1.1 1.1 0 1 0 2.2 0a1.1 1.1 0 1 0 -2.2 0M244.2 506.5a1.1 1.1 0 1 0 2.3 0a1.1 1.1 0 1 0 -2.3 0" fill="#3030FF"/>
<path d="M281.8 538.3a1.2 1.2 0 1 0 2.5 0a1.2 1.2 0 1 0 -2.5 0M277.9 517a0.9 0.9 0 1 0 1.9 0a0.9 0.9 0 1 0 -1.9 0M277.2 506.7a1 1 0 1 0 1.9 0a1 1 0 1 0 -1.9 0M249.5 535a1.3 1.3 0 1 0 2.6 0a1.3 1.3 0 1 0 -2.6 0M229.3 534a1.3 1.3 0 1 0 2.7 0a1.3 1.3 0 1 0 -2.7 0M274.1 507.7a1.3 1.3 0 1 0 2.6 0a1.3 1.3 0 1 0 -2.6 0M278.5 520.2a1.3 1.3 0 1 0 2.6 0a1.3 1.3 0 1 0 -2.6 0M271.7 518.3a1.2 1.2 0 1 0 2.5 0a1.2 1.2 0 1 0 -2.5 0M248.5 525.4a1.1 1.1 0 1 0 2.2 0a1.1 1.1 0 1 0 -2.2 0M235.5 520.5a1.3 1.3 0 1 0 2.6 0a1.3 1.3 0 1 0 -2.6 0M275.5 512a1.3 1.3 0 1 0 2.7 0a1.3 1.3 0 1 0 -2.7 0M260.5 504.2a1.2 1.2 0 1 0 2.4 0a1.2 1.2 0 1 0 -2.4 0M233.6 538.9a1.1 1.1 0 1 0 2.2 0a1.1 1.1 0 1 0 -2.2 0M250.4 525.3a1.1 1.1 0 1 0 2.2 0a1.1 1.1 0 1 0 -2.2 0M247.5 511.3a1.1 1.1 0 1 0 2.2 0a1.1 1.1 0 1 0 -2.2 0M233.4 524.5a1.3 1.3 0 1 0 2.5 0a1.3 1.3 0 1 0 -2.5 0M262.2 503.4a1.2 1.2 0 1 0 2.4 0a1.2 1.2 0 1 0 -2.4 0M285.5 508.4a1.1 1.1 0 1 0 2.2 0a1.1 1.1 0 1 0 -2.2 0M282.9 508.3a1 1 0 1 0 2 0a1 1 0 1 0 -2 0M282.2 522.9a1.1 1.1 0 1 0 2.1 0a1.1 1.1 0 1 0 -2.1 0M234 538.3a1 1 0 1 0 2 0a1 1 0 1 0 -2 0M267.9 528.9a1.1 1.1 0 1 0 2.3 0a1.1 1.1 0 1 0 -2.3 0M246.8 506a1.3 1.3 0 1 0 2.6 0a1.3 1.3 0 1 0 -2.6 0M242.5 537.1a1.1 1.1 0 1 0 2.3 0a1.1 1.1 0 1 0 -2.3 0M248.5 511.5a0.9 0.9 0 1 0 1.8 0a0.9 0.9 0 1 0 -1.8 0M252.2 507.4a1.3 1.3 0 1 0 2.6 0a1.3 1.3 0 1 0 -2.6 0M285.4 504.1a1.2 1.2 0 1 0 2.5 0a1.2 1.2 0 1 0 -2.5 0M237.5 524.7a1 1 0 1 0 2 0a1 1 0 1 0 -2 0M271.2 525.9a1.1 1.1 0 1 0 2.1 0a1.1 1.1 0 1 0 -2.1 0M258.7 527.7a1 1 0 1 0 2 0a1 1 0 1 0 -2 0M238.9 539.3a1.4 1.4 0 1 0 2.8 0a1.4 1.4 0 1 0 -2.8 0M237.5 530.9a1.1 1.1 0 1 0 2.1 0a1.1 1.1 0 1 0 -2.1 0" fill="#1C1CD8"/>
<path d="M266.2 500.3a1.1 1.1 0 1 0 2.3 0a1.1 1.1 0 1 0 -2.3 0M245.4 523.5a1.3 1.3 0 1 0 2.5 0a1.3 1.3 0 1 0 -2.5 0M270.3 499.7a0.9 0.9 0 1 0 1.8 0a0.9 0.9 0 1 0 -1.8 0M234.5 523.9a1.1 1.1 0 1 0 2.1 0a1.1 1.1 0 1 0 -2.1 0M261.4 527.4a1.2 1.2 0 1 0 2.5 0a1.2 1.2 0 1 0 -2.5 0M271.8 516.7a1.1 1.1 0 1 0 2.2 0a1.1 1.1 0 1 0 -2.2 0M234.9 535.6a1.1 1.1 0 1 0 2.2 0a1.1 1.1 0 1 0 -2.2 0M247.3 525.3a1.1 1.1 0 1 0 2.1 0a1.1 1.1 0 1 0 -2.1 0M258.9 519a1 1 0 1 0 1.9 0a1 1 0 1 0 -1.9 0M281 502.5a1 1 0 1 0 2 0a1 1 0 1 0 -2 0M281.4 530.4a1 1 0 1 0 1.9 0a1 1 0 1 0 -1.9 0M276.6 528.8a1.3 1.3 0 1 0 2.6 0a1.3 1.3 0 1 0 -2.6 0M256.8 522.3a1.1 1.1 0 1 0 2.2 0a1.1 1.1 0 1 0 -2.2 0M246.8 510.9a1 1 0 1 0 2 0a1 1 0 1 0 -2 0M260.1 500.4a0.9 0.9 0 1 0 1.9 0a0.9 0.9 0 1 0 -1.9 0M250.2 529.7a1.3 1.3 0 1 0 2.7 0a1.3 1.3 0 1 0 -2.7 0M249 503.9a1.2 1.2 0 1 0 2.3 0a1.2 1.2 0 1 0 -2.3 0M253.7 539.7a1.2 1.2 0 1 0 2.5 0a1.2 1.2 0 1 0 -2.5 0M285.2 514.9a1 1 0 1 0 2.1 0a1 1 0 1 0 -2.1 0M276.4 522.8a0.9 0.9 0 1 0 1.9 0a0.9 0.9 0 1 0 -1.9 0M229.7 507.2a1.2 1.2 0 1 0 2.5 0a1.2 1.2 0 1 0 -2.5 0M256.5 535.5a1.2 1.2 0 1 0 2.5 0a1.2 1.2 0 1 0 -2.5 0M287 526a0.9 0.9 0 1 0 1.8 0a0.9 0.9 0 1 0 -1.8 0M267.7 534.1a1.2 1.2 0 1 0 2.5 0a1.2 1.2 0 1 0 -2.5 0M287.1 528.5a0.9 0.9 0 1 0 1.9 0a0.9 0.9 0 1 0 -1.9 0M280.8 510.4a1.2 1.2 0 1 0 2.5 0a1.2 1.2 0 1 0 -2.5 0M256.6 507.6a1.1 1.1 0 1 0 2.3 0a1.1 1.1 0 1 0 -2.3 0M287.2 511.7a1.1 1.1 0 1 0 2.1 0a1.1 1.1 0 1 0 -2.1 0M234.2 503.1a0.9 0.9 0 1 0 1.9 0a0.9 0.9 0 1 0 -1.9 0M247.4 522.2a1.2 1.2 0 1 0 2.4 0a1.2 1.2 0 1 0 -2.4 0M240.1 527.1a1 1 0 1 0 1.9 0a1 1 0 1 0 -1.9 0M246 521.5a1.1 1.1 0 1 0 2.2 0a1.1 1.1 0 1 0 -2.2 0M250.8 527.7a1.3 1.3 0 1 0 2.5 0a1.3 1.3 0 1 0 -2.5 0M249.8 527a0.9 0.9 0 1 0 1.9 0a0.9 0.9 0 1 0 -1.9 0M281.3 530.8a1.1 1.1 0 1 0 2.2 0a1.1 1.1 0 1 0 -2.2 0M267.9 513.5a1 1 0 1 0 2 0a1 1 0 1 0 -2 0M256.3 535.1a1.3 1.3 0 1 0 2.7 0a1.3 1.3 0 1 0 -2.7 0M260.6 502.5a1.2 1.2 0 1 0 2.4 0a1.2 1.2 0 1 0 -2.4 0" fill="#1A1AC0"/>
<path d="M272.6 538.9a1.4 1.4 0 1 0 2.8 0a1.4 1.4 0 1 0 -2.8 0M275.7 534.3a1.5 1.5 0 1 0 3.1 0a1.5 1.5 0 1 0 -3.1 0M236.4 528.5a1.4 1.4 0 1 0 2.8 0a1.4 1.4 0 1 0 -2.8 0M264.5 535.8a1.3 1.3 0 1 0 2.5 0a1.3 1.3 0 1 0 -2.5 0M260.8 531.9a1.3 1.3 0 1 0 2.7 0a1.3 1.3 0 1 0 -2.7 0" fill="#60C8F0"/>
<path d="M273.7 514.3a1.3 1.3 0 1 0 2.6 0a1.3 1.3 0 1 0 -2.6 0M261.4 532a1.8 1.8 0 1 0 3.6 0a1.8 1.8 0 1 0 -3.6 0M275.7 523.7a1.6 1.6 0 1 0 3.3 0a1.6 1.6 0 1 0 -3.3 0M283.8 506.5a1.6 1.6 0 1 0 3.2 0a1.6 1.6 0 1 0 -3.2 0M282.9 533.1a1.3 1.3 0 1 0 2.5 0a1.3 1.3 0 1 0 -2.5 0M265.9 516.7a1.7 1.7 0 1 0 3.5 0a1.7 1.7 0 1 0 -3.5 0" fill="#A0F0FF"/>
<path d="M235.3 507.1a1.6 1.6 0 1 0 3.3 0a1.6 1.6 0 1 0 -3.3 0M272.7 521.2a1.7 1.7 0 1 0 3.5 0a1.7 1.7 0 1 0 -3.5 0" fill="#7FE8FF"/>
<rect x="292.2" y="338.6" width="59.2" height="15" fill="#fff" stroke="#333" stroke-width="1.1"/>
<text x="321.7" y="350" font-size="9.8" text-anchor="middle" font-weight="bold" fill="#000">HL-1</text>
<rect x="291.7" y="355" width="61" height="44.2" fill="#000"/>
<path d="M297.3 394.5a1 1 0 1 0 2.1 0a1 1 0 1 0 -2.1 0M334.4 366.4a0.8 0.8 0 1 0 1.6 0a0.8 0.8 0 1 0 -1.6 0" fill="#174F10"/>
<path d="M332.4 368.7a1 1 0 1 0 1.9 0a1 1 0 1 0 -1.9 0M324.8 365.1a1.1 1.1 0 1 0 2.2 0a1.1 1.1 0 1 0 -2.2 0" fill="#1E6E14"/>
<path d="M331.3 366.1a1.2 1.2 0 1 0 2.3 0a1.2 1.2 0 1 0 -2.3 0M333.5 395.4a1.3 1.3 0 1 0 2.7 0a1.3 1.3 0 1 0 -2.7 0" fill="#6CF050"/>
<path d="M323.8 393.2a0.9 0.9 0 1 0 1.9 0a0.9 0.9 0 1 0 -1.9 0" fill="#2A8A1C"/>
<path d="M326.3 360.6a1.2 1.2 0 1 0 2.3 0a1.2 1.2 0 1 0 -2.3 0M302.7 366.8a1.1 1.1 0 1 0 2.3 0a1.1 1.1 0 1 0 -2.3 0" fill="#4FE834"/>
<path d="M298 363.6a1.2 1.2 0 1 0 2.3 0a1.2 1.2 0 1 0 -2.3 0" fill="#3FD02A"/>
<rect x="291.7" y="401" width="61" height="44.3" fill="#000"/>
<path d="M323.6 405.2a1.2 1.2 0 1 0 2.4 0a1.2 1.2 0 1 0 -2.4 0M317.3 403.5a1.1 1.1 0 1 0 2.2 0a1.1 1.1 0 1 0 -2.2 0M309.4 430.4a1.4 1.4 0 1 0 2.7 0a1.4 1.4 0 1 0 -2.7 0M305.1 443a1.3 1.3 0 1 0 2.6 0a1.3 1.3 0 1 0 -2.6 0M341.1 437.7a1.6 1.6 0 1 0 3.1 0a1.6 1.6 0 1 0 -3.1 0M330.8 424.9a1.1 1.1 0 1 0 2.3 0a1.1 1.1 0 1 0 -2.3 0M315 429a1.2 1.2 0 1 0 2.4 0a1.2 1.2 0 1 0 -2.4 0M349 437a1.2 1.2 0 1 0 2.4 0a1.2 1.2 0 1 0 -2.4 0M341.8 437.4a1.7 1.7 0 1 0 3.4 0a1.7 1.7 0 1 0 -3.4 0M316.4 436.5a1.6 1.6 0 1 0 3.2 0a1.6 1.6 0 1 0 -3.2 0M307.3 416.6a1.4 1.4 0 1 0 2.8 0a1.4 1.4 0 1 0 -2.8 0M310 421.3a1.7 1.7 0 1 0 3.3 0a1.7 1.7 0 1 0 -3.3 0M312.3 408.9a1.1 1.1 0 1 0 2.2 0a1.1 1.1 0 1 0 -2.2 0M319.2 410.2a1.3 1.3 0 1 0 2.6 0a1.3 1.3 0 1 0 -2.6 0M339.5 438.8a1.4 1.4 0 1 0 2.8 0a1.4 1.4 0 1 0 -2.8 0M307.6 441.7a1.4 1.4 0 1 0 2.7 0a1.4 1.4 0 1 0 -2.7 0" fill="#1C1CD8"/>
<path d="M337 408a1.2 1.2 0 1 0 2.3 0a1.2 1.2 0 1 0 -2.3 0M319.3 438.3a1.2 1.2 0 1 0 2.5 0a1.2 1.2 0 1 0 -2.5 0M315.7 409.4a1.4 1.4 0 1 0 2.9 0a1.4 1.4 0 1 0 -2.9 0M326.2 409.2a1.6 1.6 0 1 0 3.1 0a1.6 1.6 0 1 0 -3.1 0M298.5 412.5a1.6 1.6 0 1 0 3.3 0a1.6 1.6 0 1 0 -3.3 0M299.5 443.3a1.6 1.6 0 1 0 3.2 0a1.6 1.6 0 1 0 -3.2 0M296.6 419a1.2 1.2 0 1 0 2.3 0a1.2 1.2 0 1 0 -2.3 0M304.1 436.6a1.3 1.3 0 1 0 2.7 0a1.3 1.3 0 1 0 -2.7 0M318.6 440.6a1.3 1.3 0 1 0 2.6 0a1.3 1.3 0 1 0 -2.6 0M336.8 414a1.6 1.6 0 1 0 3.3 0a1.6 1.6 0 1 0 -3.3 0M317.8 406.4a1.3 1.3 0 1 0 2.7 0a1.3 1.3 0 1 0 -2.7 0M331.6 404.2a1.6 1.6 0 1 0 3.1 0a1.6 1.6 0 1 0 -3.1 0M317.5 438a1.6 1.6 0 1 0 3.2 0a1.6 1.6 0 1 0 -3.2 0M300.3 421.5a1.5 1.5 0 1 0 2.9 0a1.5 1.5 0 1 0 -2.9 0M318.3 441.2a1.5 1.5 0 1 0 3 0a1.5 1.5 0 1 0 -3 0" fill="#3030FF"/>
<path d="M313.2 430.5a1.7 1.7 0 1 0 3.3 0a1.7 1.7 0 1 0 -3.3 0M343 420.7a1.5 1.5 0 1 0 3 0a1.5 1.5 0 1 0 -3 0M341.1 412.7a1.6 1.6 0 1 0 3.2 0a1.6 1.6 0 1 0 -3.2 0M337.3 431a1.6 1.6 0 1 0 3.1 0a1.6 1.6 0 1 0 -3.1 0M324.5 433.5a1.5 1.5 0 1 0 3 0a1.5 1.5 0 1 0 -3 0M300.7 424.7a1.2 1.2 0 1 0 2.4 0a1.2 1.2 0 1 0 -2.4 0M321 436a1.8 1.8 0 1 0 3.5 0a1.8 1.8 0 1 0 -3.5 0M319.7 430.5a1.5 1.5 0 1 0 2.9 0a1.5 1.5 0 1 0 -2.9 0M294.4 405.5a1.2 1.2 0 1 0 2.4 0a1.2 1.2 0 1 0 -2.4 0M300.1 417.2a1.5 1.5 0 1 0 3 0a1.5 1.5 0 1 0 -3 0M292.4 413.7a1.3 1.3 0 1 0 2.5 0a1.3 1.3 0 1 0 -2.5 0M306.3 425a1.7 1.7 0 1 0 3.4 0a1.7 1.7 0 1 0 -3.4 0M325.1 429.5a1.1 1.1 0 1 0 2.3 0a1.1 1.1 0 1 0 -2.3 0" fill="#2424F0"/>
<path d="M327.2 407.4a1.8 1.8 0 1 0 3.6 0a1.8 1.8 0 1 0 -3.6 0M306.9 430.4a1.8 1.8 0 1 0 3.6 0a1.8 1.8 0 1 0 -3.6 0M313 415.7a1.6 1.6 0 1 0 3.2 0a1.6 1.6 0 1 0 -3.2 0M316.6 418.8a1.4 1.4 0 1 0 2.8 0a1.4 1.4 0 1 0 -2.8 0M324.6 420.6a1.4 1.4 0 1 0 2.7 0a1.4 1.4 0 1 0 -2.7 0M292.2 405.1a1.4 1.4 0 1 0 2.7 0a1.4 1.4 0 1 0 -2.7 0M323.3 422.2a1.4 1.4 0 1 0 2.7 0a1.4 1.4 0 1 0 -2.7 0M316.7 420.9a1.2 1.2 0 1 0 2.4 0a1.2 1.2 0 1 0 -2.4 0M302.5 429.2a1.2 1.2 0 1 0 2.5 0a1.2 1.2 0 1 0 -2.5 0M310.3 431.7a1.6 1.6 0 1 0 3.1 0a1.6 1.6 0 1 0 -3.1 0M337.3 442.1a1.5 1.5 0 1 0 3 0a1.5 1.5 0 1 0 -3 0" fill="#1A1AC0"/>
<path d="M304.3 422.2a1.4 1.4 0 1 0 2.8 0a1.4 1.4 0 1 0 -2.8 0M309.5 420.5a1.3 1.3 0 1 0 2.6 0a1.3 1.3 0 1 0 -2.6 0" fill="#60C8F0"/>
<path d="M323.9 436a1.8 1.8 0 1 0 3.6 0a1.8 1.8 0 1 0 -3.6 0M321.3 442.8a1.6 1.6 0 1 0 3.1 0a1.6 1.6 0 1 0 -3.1 0" fill="#A0F0FF"/>
<path d="M306.1 404.4a1.5 1.5 0 1 0 2.9 0a1.5 1.5 0 1 0 -2.9 0" fill="#7FE8FF"/>
<rect x="291.7" y="451.7" width="61" height="44.3" fill="#000"/>
<path d="M343.9 474.4a1 1 0 1 0 2.1 0a1 1 0 1 0 -2.1 0M321.4 479.6a0.7 0.7 0 1 0 1.5 0a0.7 0.7 0 1 0 -1.5 0M322.5 486.2a1 1 0 1 0 2 0a1 1 0 1 0 -2 0" fill="#2A8A1C"/>
<path d="M293.5 479.7a1.1 1.1 0 1 0 2.1 0a1.1 1.1 0 1 0 -2.1 0M344.9 463.8a1.1 1.1 0 1 0 2.1 0a1.1 1.1 0 1 0 -2.1 0M305.4 482.8a1.2 1.2 0 1 0 2.4 0a1.2 1.2 0 1 0 -2.4 0" fill="#6CF050"/>
<path d="M333.5 491.7a1.1 1.1 0 1 0 2.3 0a1.1 1.1 0 1 0 -2.3 0M310.9 490.1a1.3 1.3 0 1 0 2.7 0a1.3 1.3 0 1 0 -2.7 0M322.7 464.3a1 1 0 1 0 2.1 0a1 1 0 1 0 -2.1 0" fill="#4FE834"/>
<path d="M317.7 491a0.9 0.9 0 1 0 1.8 0a0.9 0.9 0 1 0 -1.8 0M320.1 473.4a1 1 0 1 0 2.1 0a1 1 0 1 0 -2.1 0M334.2 469.7a0.9 0.9 0 1 0 1.9 0a0.9 0.9 0 1 0 -1.9 0M306.5 487.2a0.7 0.7 0 1 0 1.4 0a0.7 0.7 0 1 0 -1.4 0M346.1 488.7a0.7 0.7 0 1 0 1.5 0a0.7 0.7 0 1 0 -1.5 0" fill="#1E6E14"/>
<path d="M295.3 487.1a0.8 0.8 0 1 0 1.5 0a0.8 0.8 0 1 0 -1.5 0M311.2 492.2a0.8 0.8 0 1 0 1.7 0a0.8 0.8 0 1 0 -1.7 0" fill="#174F10"/>
<path d="M296 474.6a1.2 1.2 0 1 0 2.3 0a1.2 1.2 0 1 0 -2.3 0M348.9 454.9a1 1 0 1 0 1.9 0a1 1 0 1 0 -1.9 0" fill="#3FD02A"/>
<rect x="291.7" y="497.9" width="61" height="44.4" fill="#000"/>
<path d="M304.1 533.2a1.3 1.3 0 1 0 2.6 0a1.3 1.3 0 1 0 -2.6 0M312.7 527.1a1.4 1.4 0 1 0 2.7 0a1.4 1.4 0 1 0 -2.7 0M342.7 515.3a1.7 1.7 0 1 0 3.3 0a1.7 1.7 0 1 0 -3.3 0M338.8 534.8a1.5 1.5 0 1 0 2.9 0a1.5 1.5 0 1 0 -2.9 0M310.9 517.2a1.6 1.6 0 1 0 3.2 0a1.6 1.6 0 1 0 -3.2 0M338.4 540.7a1.1 1.1 0 1 0 2.3 0a1.1 1.1 0 1 0 -2.3 0M310.9 501.8a1.3 1.3 0 1 0 2.6 0a1.3 1.3 0 1 0 -2.6 0M312.2 506.9a1.4 1.4 0 1 0 2.9 0a1.4 1.4 0 1 0 -2.9 0M332.4 520.8a1.8 1.8 0 1 0 3.5 0a1.8 1.8 0 1 0 -3.5 0M306.5 536a1.6 1.6 0 1 0 3.2 0a1.6 1.6 0 1 0 -3.2 0M336.4 515a1.6 1.6 0 1 0 3.2 0a1.6 1.6 0 1 0 -3.2 0M315.2 503.6a1.7 1.7 0 1 0 3.4 0a1.7 1.7 0 1 0 -3.4 0M338.8 521.4a1.3 1.3 0 1 0 2.5 0a1.3 1.3 0 1 0 -2.5 0M298.4 503.1a1.7 1.7 0 1 0 3.3 0a1.7 1.7 0 1 0 -3.3 0M319 505.5a1.7 1.7 0 1 0 3.4 0a1.7 1.7 0 1 0 -3.4 0" fill="#1A1AC0"/>
<path d="M310.8 513.3a1.5 1.5 0 1 0 2.9 0a1.5 1.5 0 1 0 -2.9 0M332.5 504.5a1.2 1.2 0 1 0 2.4 0a1.2 1.2 0 1 0 -2.4 0M341.1 531.1a1.3 1.3 0 1 0 2.6 0a1.3 1.3 0 1 0 -2.6 0M306.3 506.7a1.1 1.1 0 1 0 2.2 0a1.1 1.1 0 1 0 -2.2 0M292.3 506a1.5 1.5 0 1 0 3.1 0a1.5 1.5 0 1 0 -3.1 0M310.2 502.6a1.7 1.7 0 1 0 3.4 0a1.7 1.7 0 1 0 -3.4 0M337.8 522.8a1.6 1.6 0 1 0 3.1 0a1.6 1.6 0 1 0 -3.1 0M302.3 531.4a1.6 1.6 0 1 0 3.1 0a1.6 1.6 0 1 0 -3.1 0M325 520.3a1.6 1.6 0 1 0 3.1 0a1.6 1.6 0 1 0 -3.1 0" fill="#1C1CD8"/>
<path d="M346.8 505.8a1.6 1.6 0 1 0 3.2 0a1.6 1.6 0 1 0 -3.2 0M331 508.2a1.6 1.6 0 1 0 3.1 0a1.6 1.6 0 1 0 -3.1 0M339.9 530.9a1.2 1.2 0 1 0 2.4 0a1.2 1.2 0 1 0 -2.4 0M347.8 525.2a1.2 1.2 0 1 0 2.3 0a1.2 1.2 0 1 0 -2.3 0M349.4 535.9a1.7 1.7 0 1 0 3.4 0a1.7 1.7 0 1 0 -3.4 0M339.8 534.8a1.4 1.4 0 1 0 2.8 0a1.4 1.4 0 1 0 -2.8 0M324.8 520.1a1.3 1.3 0 1 0 2.6 0a1.3 1.3 0 1 0 -2.6 0M337.2 523.7a1.2 1.2 0 1 0 2.4 0a1.2 1.2 0 1 0 -2.4 0M328.6 513.3a1.5 1.5 0 1 0 3 0a1.5 1.5 0 1 0 -3 0M320.7 504.6a1.6 1.6 0 1 0 3.2 0a1.6 1.6 0 1 0 -3.2 0M299.2 533.5a1.1 1.1 0 1 0 2.2 0a1.1 1.1 0 1 0 -2.2 0M316.4 521.8a1.7 1.7 0 1 0 3.4 0a1.7 1.7 0 1 0 -3.4 0M299.4 517.4a1.5 1.5 0 1 0 3 0a1.5 1.5 0 1 0 -3 0M310.4 533.1a1.7 1.7 0 1 0 3.4 0a1.7 1.7 0 1 0 -3.4 0M308.7 505.1a1.7 1.7 0 1 0 3.5 0a1.7 1.7 0 1 0 -3.5 0M307.8 512.6a1.3 1.3 0 1 0 2.6 0a1.3 1.3 0 1 0 -2.6 0M335.8 537.5a1.3 1.3 0 1 0 2.6 0a1.3 1.3 0 1 0 -2.6 0" fill="#2424F0"/>
<path d="M332.9 507a1.1 1.1 0 1 0 2.3 0a1.1 1.1 0 1 0 -2.3 0M344.2 526.3a1.8 1.8 0 1 0 3.6 0a1.8 1.8 0 1 0 -3.6 0M348.6 518.7a1.7 1.7 0 1 0 3.5 0a1.7 1.7 0 1 0 -3.5 0M294.9 500.4a1.1 1.1 0 1 0 2.2 0a1.1 1.1 0 1 0 -2.2 0M297.4 534.8a1.2 1.2 0 1 0 2.4 0a1.2 1.2 0 1 0 -2.4 0M312.3 532.5a1.2 1.2 0 1 0 2.5 0a1.2 1.2 0 1 0 -2.5 0M316.4 518.2a1.2 1.2 0 1 0 2.4 0a1.2 1.2 0 1 0 -2.4 0M342 540.1a1.6 1.6 0 1 0 3.2 0a1.6 1.6 0 1 0 -3.2 0M319 532.3a1.6 1.6 0 1 0 3.3 0a1.6 1.6 0 1 0 -3.3 0M293.2 537.3a1.3 1.3 0 1 0 2.6 0a1.3 1.3 0 1 0 -2.6 0M307.8 516.8a1.4 1.4 0 1 0 2.9 0a1.4 1.4 0 1 0 -2.9 0M306.5 532.8a1.1 1.1 0 1 0 2.2 0a1.1 1.1 0 1 0 -2.2 0M316.1 524.7a1.4 1.4 0 1 0 2.8 0a1.4 1.4 0 1 0 -2.8 0M340.5 512.7a1.3 1.3 0 1 0 2.6 0a1.3 1.3 0 1 0 -2.6 0" fill="#3030FF"/>
<path d="M336.7 509.4a1.4 1.4 0 1 0 2.9 0a1.4 1.4 0 1 0 -2.9 0" fill="#7FE8FF"/>
<path d="M309.9 504.4a1.6 1.6 0 1 0 3.2 0a1.6 1.6 0 1 0 -3.2 0M319.8 502.9a1.7 1.7 0 1 0 3.4 0a1.7 1.7 0 1 0 -3.4 0M314.6 519.1a1.3 1.3 0 1 0 2.7 0a1.3 1.3 0 1 0 -2.7 0" fill="#60C8F0"/>
<path d="M335.2 523.8a1.3 1.3 0 1 0 2.7 0a1.3 1.3 0 1 0 -2.7 0" fill="#A0F0FF"/>
<rect x="355.1" y="338.6" width="59.2" height="15" fill="#fff" stroke="#333" stroke-width="1.1"/>
<text x="384.6" y="350" font-size="9.8" text-anchor="middle" font-weight="bold" fill="#000">L6</text>
<rect x="354.6" y="355" width="61" height="44.2" fill="#000"/>
<path d="M376.8 391.6a0.9 0.9 0 1 0 1.9 0a0.9 0.9 0 1 0 -1.9 0M391.2 391a0.8 0.8 0 1 0 1.7 0a0.8 0.8 0 1 0 -1.7 0" fill="#2A8A1C"/>
<path d="M370.7 363.3a1.4 1.4 0 1 0 2.8 0a1.4 1.4 0 1 0 -2.8 0M379.9 391.9a0.9 0.9 0 1 0 1.8 0a0.9 0.9 0 1 0 -1.8 0" fill="#3FD02A"/>
<path d="M373.9 370.7a1.1 1.1 0 1 0 2.2 0a1.1 1.1 0 1 0 -2.2 0M387.4 369.3a0.9 0.9 0 1 0 1.8 0a0.9 0.9 0 1 0 -1.8 0M372.5 371.7a1 1 0 1 0 1.9 0a1 1 0 1 0 -1.9 0" fill="#1E6E14"/>
<path d="M405.3 395.9a1 1 0 1 0 2 0a1 1 0 1 0 -2 0M368.8 382.2a0.9 0.9 0 1 0 1.8 0a0.9 0.9 0 1 0 -1.8 0" fill="#174F10"/>
<path d="M380.4 372.6a1.1 1.1 0 1 0 2.2 0a1.1 1.1 0 1 0 -2.2 0" fill="#6CF050"/>
<rect x="354.6" y="401" width="61" height="44.3" fill="#000"/>
<path d="M382.7 416.9a1.2 1.2 0 1 0 2.4 0a1.2 1.2 0 1 0 -2.4 0M362.2 411.8a1.3 1.3 0 1 0 2.6 0a1.3 1.3 0 1 0 -2.6 0M394.6 425a0.9 0.9 0 1 0 1.8 0a0.9 0.9 0 1 0 -1.8 0M387.8 405.8a1.1 1.1 0 1 0 2.1 0a1.1 1.1 0 1 0 -2.1 0M401.7 427.1a1 1 0 1 0 2.1 0a1 1 0 1 0 -2.1 0M362.3 434.5a1.1 1.1 0 1 0 2.1 0a1.1 1.1 0 1 0 -2.1 0M372.9 432.7a1.3 1.3 0 1 0 2.5 0a1.3 1.3 0 1 0 -2.5 0M409.8 415.1a1.3 1.3 0 1 0 2.6 0a1.3 1.3 0 1 0 -2.6 0M407.5 439.9a1.1 1.1 0 1 0 2.2 0a1.1 1.1 0 1 0 -2.2 0M397.8 414.8a1 1 0 1 0 2.1 0a1 1 0 1 0 -2.1 0M361.7 405a0.9 0.9 0 1 0 1.8 0a0.9 0.9 0 1 0 -1.8 0M411 415.2a1.3 1.3 0 1 0 2.6 0a1.3 1.3 0 1 0 -2.6 0M387.7 405.6a1 1 0 1 0 2.1 0a1 1 0 1 0 -2.1 0M411.1 414.6a1 1 0 1 0 1.9 0a1 1 0 1 0 -1.9 0M404.1 407.3a1.1 1.1 0 1 0 2.1 0a1.1 1.1 0 1 0 -2.1 0M373.5 419.5a1.1 1.1 0 1 0 2.2 0a1.1 1.1 0 1 0 -2.2 0M401.6 405.1a1.1 1.1 0 1 0 2.1 0a1.1 1.1 0 1 0 -2.1 0M385.2 403.6a1.4 1.4 0 1 0 2.7 0a1.4 1.4 0 1 0 -2.7 0M395.7 441.6a1.4 1.4 0 1 0 2.8 0a1.4 1.4 0 1 0 -2.8 0M397.2 420.1a0.9 0.9 0 1 0 1.9 0a0.9 0.9 0 1 0 -1.9 0M360.4 403.2a0.9 0.9 0 1 0 1.8 0a0.9 0.9 0 1 0 -1.8 0M401.2 438.6a0.9 0.9 0 1 0 1.8 0a0.9 0.9 0 1 0 -1.8 0M371.7 411.9a1.3 1.3 0 1 0 2.6 0a1.3 1.3 0 1 0 -2.6 0M385.5 423.2a1.3 1.3 0 1 0 2.5 0a1.3 1.3 0 1 0 -2.5 0M402 416.4a1.2 1.2 0 1 0 2.3 0a1.2 1.2 0 1 0 -2.3 0M367.2 403.8a0.9 0.9 0 1 0 1.8 0a0.9 0.9 0 1 0 -1.8 0M399.7 439.3a1.1 1.1 0 1 0 2.2 0a1.1 1.1 0 1 0 -2.2 0M402.2 437.4a1.1 1.1 0 1 0 2.2 0a1.1 1.1 0 1 0 -2.2 0M381.9 434.6a1.1 1.1 0 1 0 2.1 0a1.1 1.1 0 1 0 -2.1 0M383.2 436.7a1 1 0 1 0 2 0a1 1 0 1 0 -2 0M385.7 410.7a1 1 0 1 0 2 0a1 1 0 1 0 -2 0M391.8 423a1.2 1.2 0 1 0 2.3 0a1.2 1.2 0 1 0 -2.3 0M396.1 430.3a1.1 1.1 0 1 0 2.1 0a1.1 1.1 0 1 0 -2.1 0M406.3 430.1a1.1 1.1 0 1 0 2.2 0a1.1 1.1 0 1 0 -2.2 0M411.7 431.1a1.2 1.2 0 1 0 2.4 0a1.2 1.2 0 1 0 -2.4 0M369.6 410.4a1.3 1.3 0 1 0 2.5 0a1.3 1.3 0 1 0 -2.5 0M402.3 422.3a1.1 1.1 0 1 0 2.2 0a1.1 1.1 0 1 0 -2.2 0M387.3 414.8a1 1 0 1 0 2 0a1 1 0 1 0 -2 0M393.7 421.4a1.3 1.3 0 1 0 2.6 0a1.3 1.3 0 1 0 -2.6 0M373.2 430.2a1.3 1.3 0 1 0 2.7 0a1.3 1.3 0 1 0 -2.7 0M412.5 425.7a1.2 1.2 0 1 0 2.3 0a1.2 1.2 0 1 0 -2.3 0M373.4 412a1.2 1.2 0 1 0 2.5 0a1.2 1.2 0 1 0 -2.5 0M361.7 405.8a1.2 1.2 0 1 0 2.4 0a1.2 1.2 0 1 0 -2.4 0M396 419.3a1.3 1.3 0 1 0 2.5 0a1.3 1.3 0 1 0 -2.5 0M370.2 435.5a1.1 1.1 0 1 0 2.1 0a1.1 1.1 0 1 0 -2.1 0M407 427a1.4 1.4 0 1 0 2.8 0a1.4 1.4 0 1 0 -2.8 0" fill="#1C1CD8"/>
<path d="M409.1 427.4a1.4 1.4 0 1 0 2.7 0a1.4 1.4 0 1 0 -2.7 0M358.8 441.4a1 1 0 1 0 2 0a1 1 0 1 0 -2 0M362.1 415.7a0.9 0.9 0 1 0 1.8 0a0.9 0.9 0 1 0 -1.8 0M369.7 426.3a1.3 1.3 0 1 0 2.6 0a1.3 1.3 0 1 0 -2.6 0M366.5 419.5a1.1 1.1 0 1 0 2.3 0a1.1 1.1 0 1 0 -2.3 0M406 442.5a1.1 1.1 0 1 0 2.1 0a1.1 1.1 0 1 0 -2.1 0M381.9 437.2a1.2 1.2 0 1 0 2.5 0a1.2 1.2 0 1 0 -2.5 0M405.4 435.5a1 1 0 1 0 2 0a1 1 0 1 0 -2 0M368.2 429.2a1.1 1.1 0 1 0 2.2 0a1.1 1.1 0 1 0 -2.2 0M388.9 420.1a1 1 0 1 0 2 0a1 1 0 1 0 -2 0M371.9 411.6a1.2 1.2 0 1 0 2.4 0a1.2 1.2 0 1 0 -2.4 0M397.5 438.9a1.4 1.4 0 1 0 2.7 0a1.4 1.4 0 1 0 -2.7 0M362.2 408.1a1.3 1.3 0 1 0 2.6 0a1.3 1.3 0 1 0 -2.6 0M367.3 403.4a1 1 0 1 0 2 0a1 1 0 1 0 -2 0M378.4 415.1a1.3 1.3 0 1 0 2.6 0a1.3 1.3 0 1 0 -2.6 0M404.9 414.9a0.9 0.9 0 1 0 1.9 0a0.9 0.9 0 1 0 -1.9 0M401.3 433.3a1.3 1.3 0 1 0 2.6 0a1.3 1.3 0 1 0 -2.6 0M364.8 406.4a1 1 0 1 0 2 0a1 1 0 1 0 -2 0M409.2 420.1a1.3 1.3 0 1 0 2.7 0a1.3 1.3 0 1 0 -2.7 0M404.5 418.2a1.3 1.3 0 1 0 2.6 0a1.3 1.3 0 1 0 -2.6 0M407.1 432.1a1 1 0 1 0 1.9 0a1 1 0 1 0 -1.9 0M364 440a0.9 0.9 0 1 0 1.9 0a0.9 0.9 0 1 0 -1.9 0M395.7 443.7a1.1 1.1 0 1 0 2.1 0a1.1 1.1 0 1 0 -2.1 0M409.3 436.9a1.4 1.4 0 1 0 2.7 0a1.4 1.4 0 1 0 -2.7 0M384.1 406.7a1.2 1.2 0 1 0 2.3 0a1.2 1.2 0 1 0 -2.3 0M395.1 440.3a1.2 1.2 0 1 0 2.3 0a1.2 1.2 0 1 0 -2.3 0M358.8 419.2a1 1 0 1 0 2 0a1 1 0 1 0 -2 0M372.7 435.6a1 1 0 1 0 2 0a1 1 0 1 0 -2 0M357.4 411.3a1.2 1.2 0 1 0 2.3 0a1.2 1.2 0 1 0 -2.3 0M374.4 427.7a1.1 1.1 0 1 0 2.1 0a1.1 1.1 0 1 0 -2.1 0M355.5 434.4a1.3 1.3 0 1 0 2.7 0a1.3 1.3 0 1 0 -2.7 0M384.4 442a1.1 1.1 0 1 0 2.3 0a1.1 1.1 0 1 0 -2.3 0M383.8 412.8a1.4 1.4 0 1 0 2.7 0a1.4 1.4 0 1 0 -2.7 0M391.8 440.6a1.2 1.2 0 1 0 2.4 0a1.2 1.2 0 1 0 -2.4 0M392.4 441.1a1.2 1.2 0 1 0 2.3 0a1.2 1.2 0 1 0 -2.3 0M367.8 423.9a1.3 1.3 0 1 0 2.5 0a1.3 1.3 0 1 0 -2.5 0" fill="#3030FF"/>
<path d="M372.4 418.5a1.4 1.4 0 1 0 2.8 0a1.4 1.4 0 1 0 -2.8 0M366.6 422a1.1 1.1 0 1 0 2.2 0a1.1 1.1 0 1 0 -2.2 0M363.3 431a1.1 1.1 0 1 0 2.2 0a1.1 1.1 0 1 0 -2.2 0M363.8 417.2a0.9 0.9 0 1 0 1.9 0a0.9 0.9 0 1 0 -1.9 0M405.9 427.9a1.1 1.1 0 1 0 2.3 0a1.1 1.1 0 1 0 -2.3 0M392 421.8a1 1 0 1 0 2.1 0a1 1 0 1 0 -2.1 0M386.7 430.3a1 1 0 1 0 2 0a1 1 0 1 0 -2 0M404.3 403.8a1.3 1.3 0 1 0 2.6 0a1.3 1.3 0 1 0 -2.6 0M363.7 402.8a1.1 1.1 0 1 0 2.2 0a1.1 1.1 0 1 0 -2.2 0M392 411.2a1 1 0 1 0 1.9 0a1 1 0 1 0 -1.9 0M395.5 420.5a1.4 1.4 0 1 0 2.8 0a1.4 1.4 0 1 0 -2.8 0M390.4 416.6a1.3 1.3 0 1 0 2.5 0a1.3 1.3 0 1 0 -2.5 0M386 434.6a1.1 1.1 0 1 0 2.1 0a1.1 1.1 0 1 0 -2.1 0M378.4 412.5a1.1 1.1 0 1 0 2.3 0a1.1 1.1 0 1 0 -2.3 0M410.2 418.5a1 1 0 1 0 2 0a1 1 0 1 0 -2 0M398.5 426.6a1.2 1.2 0 1 0 2.4 0a1.2 1.2 0 1 0 -2.4 0M371.5 428.8a1.1 1.1 0 1 0 2.2 0a1.1 1.1 0 1 0 -2.2 0M396.1 409.3a1.3 1.3 0 1 0 2.6 0a1.3 1.3 0 1 0 -2.6 0M402.7 434.5a1.4 1.4 0 1 0 2.7 0a1.4 1.4 0 1 0 -2.7 0M355.4 404.1a1.3 1.3 0 1 0 2.7 0a1.3 1.3 0 1 0 -2.7 0M364.9 423.4a1.3 1.3 0 1 0 2.5 0a1.3 1.3 0 1 0 -2.5 0M405.8 443.4a1.3 1.3 0 1 0 2.6 0a1.3 1.3 0 1 0 -2.6 0M408.7 419.2a1.1 1.1 0 1 0 2.2 0a1.1 1.1 0 1 0 -2.2 0M361.6 418.8a1.4 1.4 0 1 0 2.8 0a1.4 1.4 0 1 0 -2.8 0M363.1 438.6a1.3 1.3 0 1 0 2.7 0a1.3 1.3 0 1 0 -2.7 0M360.3 420a1.1 1.1 0 1 0 2.2 0a1.1 1.1 0 1 0 -2.2 0" fill="#1A1AC0"/>
<path d="M408.9 439.1a1.1 1.1 0 1 0 2.2 0a1.1 1.1 0 1 0 -2.2 0M359.3 421.3a1.3 1.3 0 1 0 2.6 0a1.3 1.3 0 1 0 -2.6 0M402.5 439a1.3 1.3 0 1 0 2.6 0a1.3 1.3 0 1 0 -2.6 0M396.5 419.1a1.3 1.3 0 1 0 2.7 0a1.3 1.3 0 1 0 -2.7 0M395.5 409.2a0.9 0.9 0 1 0 1.8 0a0.9 0.9 0 1 0 -1.8 0M409.3 409.5a1.1 1.1 0 1 0 2.1 0a1.1 1.1 0 1 0 -2.1 0M390.2 440.1a1.3 1.3 0 1 0 2.6 0a1.3 1.3 0 1 0 -2.6 0M395.4 429.7a1.1 1.1 0 1 0 2.2 0a1.1 1.1 0 1 0 -2.2 0M356.3 425.1a0.9 0.9 0 1 0 1.9 0a0.9 0.9 0 1 0 -1.9 0M397.7 420.6a1 1 0 1 0 2 0a1 1 0 1 0 -2 0M369.5 424.6a1.3 1.3 0 1 0 2.5 0a1.3 1.3 0 1 0 -2.5 0M366.3 409.9a1.1 1.1 0 1 0 2.1 0a1.1 1.1 0 1 0 -2.1 0M387.8 429.9a0.9 0.9 0 1 0 1.8 0a0.9 0.9 0 1 0 -1.8 0M400.1 420.4a1.3 1.3 0 1 0 2.6 0a1.3 1.3 0 1 0 -2.6 0M411.2 441.1a1.1 1.1 0 1 0 2.3 0a1.1 1.1 0 1 0 -2.3 0M355.4 437.4a1.3 1.3 0 1 0 2.6 0a1.3 1.3 0 1 0 -2.6 0M391.6 404.3a1 1 0 1 0 2 0a1 1 0 1 0 -2 0M371.9 415.3a1.2 1.2 0 1 0 2.4 0a1.2 1.2 0 1 0 -2.4 0M405.3 419.4a1.2 1.2 0 1 0 2.4 0a1.2 1.2 0 1 0 -2.4 0M355.8 405.3a1.1 1.1 0 1 0 2.2 0a1.1 1.1 0 1 0 -2.2 0M388 407.3a1 1 0 1 0 2 0a1 1 0 1 0 -2 0M357.7 408.5a1.1 1.1 0 1 0 2.1 0a1.1 1.1 0 1 0 -2.1 0M386.3 441.8a1.4 1.4 0 1 0 2.8 0a1.4 1.4 0 1 0 -2.8 0M410 411.1a1 1 0 1 0 2.1 0a1 1 0 1 0 -2.1 0M398.8 433.8a0.9 0.9 0 1 0 1.8 0a0.9 0.9 0 1 0 -1.8 0M393.6 418.4a1.4 1.4 0 1 0 2.8 0a1.4 1.4 0 1 0 -2.8 0M372.5 435a1.1 1.1 0 1 0 2.1 0a1.1 1.1 0 1 0 -2.1 0M403.8 435.4a1 1 0 1 0 2.1 0a1 1 0 1 0 -2.1 0M362.4 427.3a1.2 1.2 0 1 0 2.3 0a1.2 1.2 0 1 0 -2.3 0M392 443.1a1 1 0 1 0 1.9 0a1 1 0 1 0 -1.9 0M399.6 407.1a1.3 1.3 0 1 0 2.7 0a1.3 1.3 0 1 0 -2.7 0M397.2 412a1.1 1.1 0 1 0 2.1 0a1.1 1.1 0 1 0 -2.1 0" fill="#2424F0"/>
<path d="M395.4 434.7a1.4 1.4 0 1 0 2.8 0a1.4 1.4 0 1 0 -2.8 0M369.1 411.5a1.2 1.2 0 1 0 2.4 0a1.2 1.2 0 1 0 -2.4 0M366 436.1a1.3 1.3 0 1 0 2.5 0a1.3 1.3 0 1 0 -2.5 0M357.3 429.7a1.4 1.4 0 1 0 2.7 0a1.4 1.4 0 1 0 -2.7 0M385.4 423.6a1.6 1.6 0 1 0 3.1 0a1.6 1.6 0 1 0 -3.1 0" fill="#7FE8FF"/>
<path d="M403 403.9a1.7 1.7 0 1 0 3.4 0a1.7 1.7 0 1 0 -3.4 0M388.5 441.9a1.7 1.7 0 1 0 3.4 0a1.7 1.7 0 1 0 -3.4 0M409.6 437.1a1.7 1.7 0 1 0 3.4 0a1.7 1.7 0 1 0 -3.4 0M400.4 418.8a1.6 1.6 0 1 0 3.2 0a1.6 1.6 0 1 0 -3.2 0M383 420a1.4 1.4 0 1 0 2.8 0a1.4 1.4 0 1 0 -2.8 0" fill="#60C8F0"/>
<path d="M400.9 435a1.4 1.4 0 1 0 2.7 0a1.4 1.4 0 1 0 -2.7 0M392.7 417.6a1.7 1.7 0 1 0 3.3 0a1.7 1.7 0 1 0 -3.3 0M380.6 436.3a1.3 1.3 0 1 0 2.6 0a1.3 1.3 0 1 0 -2.6 0M388.8 431.2a1.2 1.2 0 1 0 2.5 0a1.2 1.2 0 1 0 -2.5 0" fill="#A0F0FF"/>
<rect x="354.6" y="451.7" width="61" height="44.3" fill="#000"/>
<path d="M409.9 474.4a0.9 0.9 0 1 0 1.8 0a0.9 0.9 0 1 0 -1.8 0M404.9 475.1a0.8 0.8 0 1 0 1.5 0a0.8 0.8 0 1 0 -1.5 0M358.7 470.5a0.9 0.9 0 1 0 1.9 0a0.9 0.9 0 1 0 -1.9 0M396 471.9a0.8 0.8 0 1 0 1.6 0a0.8 0.8 0 1 0 -1.6 0M405.4 470.9a1.1 1.1 0 1 0 2.1 0a1.1 1.1 0 1 0 -2.1 0" fill="#1E6E14"/>
<path d="M360.8 465.8a0.8 0.8 0 1 0 1.5 0a0.8 0.8 0 1 0 -1.5 0M400.4 465.9a0.8 0.8 0 1 0 1.7 0a0.8 0.8 0 1 0 -1.7 0" fill="#2A8A1C"/>
<path d="M405.2 473.9a1 1 0 1 0 2.1 0a1 1 0 1 0 -2.1 0M382.2 472.9a1.1 1.1 0 1 0 2.2 0a1.1 1.1 0 1 0 -2.2 0" fill="#6CF050"/>
<path d="M380.5 466.6a1.2 1.2 0 1 0 2.3 0a1.2 1.2 0 1 0 -2.3 0M409.6 491.5a1.5 1.5 0 1 0 3 0a1.5 1.5 0 1 0 -3 0M359.7 487.3a1.1 1.1 0 1 0 2.1 0a1.1 1.1 0 1 0 -2.1 0" fill="#4FE834"/>
<path d="M361.6 487.2a1.3 1.3 0 1 0 2.6 0a1.3 1.3 0 1 0 -2.6 0M355.9 455a1.3 1.3 0 1 0 2.6 0a1.3 1.3 0 1 0 -2.6 0" fill="#3FD02A"/>
<rect x="354.6" y="497.9" width="61" height="44.4" fill="#000"/>
<path d="M374.2 527.2a1.2 1.2 0 1 0 2.4 0a1.2 1.2 0 1 0 -2.4 0M384.6 527.1a1.1 1.1 0 1 0 2.2 0a1.1 1.1 0 1 0 -2.2 0M391.7 536.8a1 1 0 1 0 1.9 0a1 1 0 1 0 -1.9 0M375.8 524.5a1.3 1.3 0 1 0 2.6 0a1.3 1.3 0 1 0 -2.6 0M402.9 505a1.2 1.2 0 1 0 2.3 0a1.2 1.2 0 1 0 -2.3 0M404.4 500.5a1 1 0 1 0 2 0a1 1 0 1 0 -2 0M396.8 503.9a1.1 1.1 0 1 0 2.3 0a1.1 1.1 0 1 0 -2.3 0M360.9 528.5a1.2 1.2 0 1 0 2.5 0a1.2 1.2 0 1 0 -2.5 0M386.3 536a1.2 1.2 0 1 0 2.5 0a1.2 1.2 0 1 0 -2.5 0M396.5 507.7a1.2 1.2 0 1 0 2.4 0a1.2 1.2 0 1 0 -2.4 0M362.1 532.7a1.1 1.1 0 1 0 2.2 0a1.1 1.1 0 1 0 -2.2 0M368.1 512.2a1.2 1.2 0 1 0 2.3 0a1.2 1.2 0 1 0 -2.3 0M402.1 539.5a0.9 0.9 0 1 0 1.8 0a0.9 0.9 0 1 0 -1.8 0M398.5 512.6a0.9 0.9 0 1 0 1.8 0a0.9 0.9 0 1 0 -1.8 0M367.1 521.7a1.4 1.4 0 1 0 2.8 0a1.4 1.4 0 1 0 -2.8 0M398.2 506.5a0.9 0.9 0 1 0 1.9 0a0.9 0.9 0 1 0 -1.9 0M399.1 518.9a1 1 0 1 0 2 0a1 1 0 1 0 -2 0M382.2 510.6a1 1 0 1 0 1.9 0a1 1 0 1 0 -1.9 0M401.7 535.2a1.1 1.1 0 1 0 2.2 0a1.1 1.1 0 1 0 -2.2 0M387.6 527.8a1.2 1.2 0 1 0 2.5 0a1.2 1.2 0 1 0 -2.5 0M375.9 516.8a1 1 0 1 0 2 0a1 1 0 1 0 -2 0M378.7 534.8a1.1 1.1 0 1 0 2.2 0a1.1 1.1 0 1 0 -2.2 0M387.6 506.2a1.3 1.3 0 1 0 2.6 0a1.3 1.3 0 1 0 -2.6 0M386.1 506.7a1 1 0 1 0 2 0a1 1 0 1 0 -2 0M380 525.3a1 1 0 1 0 2.1 0a1 1 0 1 0 -2.1 0M409.2 512.6a0.9 0.9 0 1 0 1.8 0a0.9 0.9 0 1 0 -1.8 0M369.7 502.1a1.2 1.2 0 1 0 2.4 0a1.2 1.2 0 1 0 -2.4 0M384.4 513a1 1 0 1 0 1.9 0a1 1 0 1 0 -1.9 0M399.2 525.4a1.2 1.2 0 1 0 2.4 0a1.2 1.2 0 1 0 -2.4 0M406.6 506.9a1.3 1.3 0 1 0 2.6 0a1.3 1.3 0 1 0 -2.6 0M397 506.7a1.2 1.2 0 1 0 2.5 0a1.2 1.2 0 1 0 -2.5 0M363.8 507.6a1 1 0 1 0 1.9 0a1 1 0 1 0 -1.9 0M361.9 504.8a0.9 0.9 0 1 0 1.8 0a0.9 0.9 0 1 0 -1.8 0M397.6 536.6a1.1 1.1 0 1 0 2.1 0a1.1 1.1 0 1 0 -2.1 0" fill="#2424F0"/>
<path d="M406.8 540.3a1.3 1.3 0 1 0 2.6 0a1.3 1.3 0 1 0 -2.6 0M384.8 534.3a1.4 1.4 0 1 0 2.7 0a1.4 1.4 0 1 0 -2.7 0M381.3 529.6a1.1 1.1 0 1 0 2.3 0a1.1 1.1 0 1 0 -2.3 0M363.2 512.5a1.2 1.2 0 1 0 2.4 0a1.2 1.2 0 1 0 -2.4 0M377 523.8a1.1 1.1 0 1 0 2.1 0a1.1 1.1 0 1 0 -2.1 0M389.8 515.4a1.3 1.3 0 1 0 2.7 0a1.3 1.3 0 1 0 -2.7 0M382.9 506.2a1.3 1.3 0 1 0 2.7 0a1.3 1.3 0 1 0 -2.7 0M405 503.9a1.2 1.2 0 1 0 2.4 0a1.2 1.2 0 1 0 -2.4 0M379.8 515a1.4 1.4 0 1 0 2.7 0a1.4 1.4 0 1 0 -2.7 0M380.4 538.4a1.4 1.4 0 1 0 2.8 0a1.4 1.4 0 1 0 -2.8 0M380.3 502.8a1 1 0 1 0 1.9 0a1 1 0 1 0 -1.9 0M369.9 500.7a1.1 1.1 0 1 0 2.1 0a1.1 1.1 0 1 0 -2.1 0M397.8 517.7a1.2 1.2 0 1 0 2.5 0a1.2 1.2 0 1 0 -2.5 0M392.8 531a1 1 0 1 0 2.1 0a1 1 0 1 0 -2.1 0M410.8 512.9a1.2 1.2 0 1 0 2.4 0a1.2 1.2 0 1 0 -2.4 0M409.9 535.7a1 1 0 1 0 2 0a1 1 0 1 0 -2 0M370.2 526.1a1.1 1.1 0 1 0 2.2 0a1.1 1.1 0 1 0 -2.2 0M399.5 506.3a1.2 1.2 0 1 0 2.3 0a1.2 1.2 0 1 0 -2.3 0M369.1 515.9a1.1 1.1 0 1 0 2.1 0a1.1 1.1 0 1 0 -2.1 0M363.3 501.1a1.4 1.4 0 1 0 2.7 0a1.4 1.4 0 1 0 -2.7 0M406.6 516.8a0.9 0.9 0 1 0 1.8 0a0.9 0.9 0 1 0 -1.8 0M410.7 512a1 1 0 1 0 2 0a1 1 0 1 0 -2 0M402.7 529.1a1.1 1.1 0 1 0 2.2 0a1.1 1.1 0 1 0 -2.2 0M383.6 516.1a1.2 1.2 0 1 0 2.5 0a1.2 1.2 0 1 0 -2.5 0M358.4 514a1.1 1.1 0 1 0 2.3 0a1.1 1.1 0 1 0 -2.3 0M383.5 509.8a0.9 0.9 0 1 0 1.9 0a0.9 0.9 0 1 0 -1.9 0M408.7 516.4a1 1 0 1 0 2 0a1 1 0 1 0 -2 0M395.5 537.9a1.3 1.3 0 1 0 2.5 0a1.3 1.3 0 1 0 -2.5 0M361.9 503.4a0.9 0.9 0 1 0 1.8 0a0.9 0.9 0 1 0 -1.8 0M388.1 513.8a1.1 1.1 0 1 0 2.2 0a1.1 1.1 0 1 0 -2.2 0M368.8 529a1.2 1.2 0 1 0 2.5 0a1.2 1.2 0 1 0 -2.5 0M359.9 505.3a1.3 1.3 0 1 0 2.6 0a1.3 1.3 0 1 0 -2.6 0M405.7 514.9a1 1 0 1 0 2 0a1 1 0 1 0 -2 0M387.7 499.7a1.2 1.2 0 1 0 2.4 0a1.2 1.2 0 1 0 -2.4 0M382 511.7a1.3 1.3 0 1 0 2.5 0a1.3 1.3 0 1 0 -2.5 0M365.4 539.8a1.3 1.3 0 1 0 2.7 0a1.3 1.3 0 1 0 -2.7 0M406.7 529.2a1 1 0 1 0 2 0a1 1 0 1 0 -2 0M376.8 532.4a1 1 0 1 0 2 0a1 1 0 1 0 -2 0M397.2 517.4a1.3 1.3 0 1 0 2.6 0a1.3 1.3 0 1 0 -2.6 0M379.3 539.2a1.1 1.1 0 1 0 2.3 0a1.1 1.1 0 1 0 -2.3 0M357.5 523.6a1.1 1.1 0 1 0 2.1 0a1.1 1.1 0 1 0 -2.1 0M370.5 519.7a1.1 1.1 0 1 0 2.2 0a1.1 1.1 0 1 0 -2.2 0M388.2 526.2a1.3 1.3 0 1 0 2.6 0a1.3 1.3 0 1 0 -2.6 0" fill="#1C1CD8"/>
<path d="M408.6 505.1a0.9 0.9 0 1 0 1.8 0a0.9 0.9 0 1 0 -1.8 0M370.6 527a1.1 1.1 0 1 0 2.1 0a1.1 1.1 0 1 0 -2.1 0M376.8 522.3a1.2 1.2 0 1 0 2.3 0a1.2 1.2 0 1 0 -2.3 0M365.9 509.6a1.1 1.1 0 1 0 2.1 0a1.1 1.1 0 1 0 -2.1 0M362.3 500.5a0.9 0.9 0 1 0 1.8 0a0.9 0.9 0 1 0 -1.8 0M410.8 531a1.3 1.3 0 1 0 2.7 0a1.3 1.3 0 1 0 -2.7 0M382.4 509.7a1.3 1.3 0 1 0 2.6 0a1.3 1.3 0 1 0 -2.6 0M396.5 513.9a1.3 1.3 0 1 0 2.6 0a1.3 1.3 0 1 0 -2.6 0M395.1 532.2a1.1 1.1 0 1 0 2.2 0a1.1 1.1 0 1 0 -2.2 0M368 528.7a1 1 0 1 0 1.9 0a1 1 0 1 0 -1.9 0M395.8 532.4a1.2 1.2 0 1 0 2.4 0a1.2 1.2 0 1 0 -2.4 0M372.5 538.1a1.1 1.1 0 1 0 2.3 0a1.1 1.1 0 1 0 -2.3 0M376.3 510.3a1.3 1.3 0 1 0 2.7 0a1.3 1.3 0 1 0 -2.7 0M360.4 534.1a1.3 1.3 0 1 0 2.7 0a1.3 1.3 0 1 0 -2.7 0M379.3 517.1a1.2 1.2 0 1 0 2.5 0a1.2 1.2 0 1 0 -2.5 0M407.9 509.5a1.4 1.4 0 1 0 2.8 0a1.4 1.4 0 1 0 -2.8 0M369.4 528.9a1 1 0 1 0 1.9 0a1 1 0 1 0 -1.9 0M386.6 522.7a1 1 0 1 0 2 0a1 1 0 1 0 -2 0M405.2 530.7a1.1 1.1 0 1 0 2.1 0a1.1 1.1 0 1 0 -2.1 0M403.5 511.5a1.1 1.1 0 1 0 2.3 0a1.1 1.1 0 1 0 -2.3 0M370.8 520.3a1 1 0 1 0 2 0a1 1 0 1 0 -2 0M382.6 533.5a1.2 1.2 0 1 0 2.5 0a1.2 1.2 0 1 0 -2.5 0M408.9 523a1.3 1.3 0 1 0 2.7 0a1.3 1.3 0 1 0 -2.7 0M390.3 499.8a0.9 0.9 0 1 0 1.9 0a0.9 0.9 0 1 0 -1.9 0M376.7 539.4a1 1 0 1 0 2.1 0a1 1 0 1 0 -2.1 0M356.4 538.7a0.9 0.9 0 1 0 1.8 0a0.9 0.9 0 1 0 -1.8 0M362.8 528a1.4 1.4 0 1 0 2.8 0a1.4 1.4 0 1 0 -2.8 0M388 506.8a1 1 0 1 0 2.1 0a1 1 0 1 0 -2.1 0M370.6 509a0.9 0.9 0 1 0 1.9 0a0.9 0.9 0 1 0 -1.9 0M412.7 538.1a1.2 1.2 0 1 0 2.5 0a1.2 1.2 0 1 0 -2.5 0M358 531.4a1.2 1.2 0 1 0 2.4 0a1.2 1.2 0 1 0 -2.4 0M411.2 538.2a1.2 1.2 0 1 0 2.4 0a1.2 1.2 0 1 0 -2.4 0" fill="#3030FF"/>
<path d="M376.4 537.3a1.1 1.1 0 1 0 2.2 0a1.1 1.1 0 1 0 -2.2 0M363.2 503.8a1.3 1.3 0 1 0 2.5 0a1.3 1.3 0 1 0 -2.5 0M413 504.3a1 1 0 1 0 1.9 0a1 1 0 1 0 -1.9 0M369.7 536.9a1 1 0 1 0 2.1 0a1 1 0 1 0 -2.1 0M361.8 519.3a1.2 1.2 0 1 0 2.3 0a1.2 1.2 0 1 0 -2.3 0M372.2 527.1a1.4 1.4 0 1 0 2.8 0a1.4 1.4 0 1 0 -2.8 0M368.8 513.2a1.1 1.1 0 1 0 2.1 0a1.1 1.1 0 1 0 -2.1 0M364.2 537.9a1.4 1.4 0 1 0 2.7 0a1.4 1.4 0 1 0 -2.7 0M404.9 526.4a1.1 1.1 0 1 0 2.2 0a1.1 1.1 0 1 0 -2.2 0M410 501.4a1.3 1.3 0 1 0 2.7 0a1.3 1.3 0 1 0 -2.7 0M382.3 531.1a1.2 1.2 0 1 0 2.5 0a1.2 1.2 0 1 0 -2.5 0M373.5 527.6a1.1 1.1 0 1 0 2.1 0a1.1 1.1 0 1 0 -2.1 0M387.7 533.8a1.1 1.1 0 1 0 2.2 0a1.1 1.1 0 1 0 -2.2 0M384.1 511.7a0.9 0.9 0 1 0 1.9 0a0.9 0.9 0 1 0 -1.9 0M403.8 500.8a1.2 1.2 0 1 0 2.4 0a1.2 1.2 0 1 0 -2.4 0M369.2 523.2a1.1 1.1 0 1 0 2.1 0a1.1 1.1 0 1 0 -2.1 0M393 507.5a1 1 0 1 0 2 0a1 1 0 1 0 -2 0M384.4 539.2a1.3 1.3 0 1 0 2.5 0a1.3 1.3 0 1 0 -2.5 0M371.9 528.8a1.2 1.2 0 1 0 2.4 0a1.2 1.2 0 1 0 -2.4 0M404.9 511.4a1.2 1.2 0 1 0 2.4 0a1.2 1.2 0 1 0 -2.4 0M362.2 514.3a1.2 1.2 0 1 0 2.4 0a1.2 1.2 0 1 0 -2.4 0M377.9 529.8a1.1 1.1 0 1 0 2.1 0a1.1 1.1 0 1 0 -2.1 0M357.5 522a1.2 1.2 0 1 0 2.4 0a1.2 1.2 0 1 0 -2.4 0M366.9 527.4a1.1 1.1 0 1 0 2.2 0a1.1 1.1 0 1 0 -2.2 0M404 538.8a1 1 0 1 0 2.1 0a1 1 0 1 0 -2.1 0M376.4 526.4a1.3 1.3 0 1 0 2.5 0a1.3 1.3 0 1 0 -2.5 0M374.1 522.4a1 1 0 1 0 2.1 0a1 1 0 1 0 -2.1 0M405.4 520.9a1 1 0 1 0 2.1 0a1 1 0 1 0 -2.1 0M372.1 501a1 1 0 1 0 2 0a1 1 0 1 0 -2 0M405.1 526.1a1.1 1.1 0 1 0 2.2 0a1.1 1.1 0 1 0 -2.2 0M391.3 512.2a0.9 0.9 0 1 0 1.8 0a0.9 0.9 0 1 0 -1.8 0" fill="#1A1AC0"/>
<path d="M394.7 501.8a1.7 1.7 0 1 0 3.4 0a1.7 1.7 0 1 0 -3.4 0M380.5 522.9a1.8 1.8 0 1 0 3.5 0a1.8 1.8 0 1 0 -3.5 0M359.9 534.4a1.7 1.7 0 1 0 3.4 0a1.7 1.7 0 1 0 -3.4 0" fill="#7FE8FF"/>
<path d="M363.1 512.8a1.4 1.4 0 1 0 2.9 0a1.4 1.4 0 1 0 -2.9 0M406.9 526.8a1.7 1.7 0 1 0 3.4 0a1.7 1.7 0 1 0 -3.4 0M370.6 504.6a1.5 1.5 0 1 0 2.9 0a1.5 1.5 0 1 0 -2.9 0M408.8 526.7a1.5 1.5 0 1 0 2.9 0a1.5 1.5 0 1 0 -2.9 0M400.3 538.6a1.6 1.6 0 1 0 3.2 0a1.6 1.6 0 1 0 -3.2 0M401.3 516.1a1.6 1.6 0 1 0 3.3 0a1.6 1.6 0 1 0 -3.3 0M368.3 519.8a1.3 1.3 0 1 0 2.5 0a1.3 1.3 0 1 0 -2.5 0" fill="#A0F0FF"/>
<path d="M406.7 508a1.4 1.4 0 1 0 2.8 0a1.4 1.4 0 1 0 -2.8 0M365.8 532.2a1.3 1.3 0 1 0 2.5 0a1.3 1.3 0 1 0 -2.5 0M355.3 508.9a1.4 1.4 0 1 0 2.8 0a1.4 1.4 0 1 0 -2.8 0M355.4 529.3a1.2 1.2 0 1 0 2.5 0a1.2 1.2 0 1 0 -2.5 0" fill="#60C8F0"/>
<rect x="417.9" y="338.6" width="59.2" height="15" fill="#fff" stroke="#333" stroke-width="1.1"/>
<text x="447.4" y="350" font-size="9.8" text-anchor="middle" font-weight="bold" fill="#000">MOVAS</text>
<rect x="417.4" y="355" width="61" height="44.2" fill="#000"/>
<path d="M467.6 364.2a0.9 0.9 0 1 0 1.8 0a0.9 0.9 0 1 0 -1.8 0M428.1 380.2a1.1 1.1 0 1 0 2.1 0a1.1 1.1 0 1 0 -2.1 0M469.9 372.9a0.9 0.9 0 1 0 1.8 0a0.9 0.9 0 1 0 -1.8 0" fill="#2A8A1C"/>
<path d="M420.3 368.8a0.8 0.8 0 1 0 1.6 0a0.8 0.8 0 1 0 -1.6 0M447.9 366a0.9 0.9 0 1 0 1.8 0a0.9 0.9 0 1 0 -1.8 0" fill="#1E6E14"/>
<path d="M456.5 368.1a1.1 1.1 0 1 0 2.2 0a1.1 1.1 0 1 0 -2.2 0M452.7 396.4a1.2 1.2 0 1 0 2.3 0a1.2 1.2 0 1 0 -2.3 0M429 368.3a1.4 1.4 0 1 0 2.7 0a1.4 1.4 0 1 0 -2.7 0" fill="#3FD02A"/>
<path d="M451.2 378.9a1 1 0 1 0 2.1 0a1 1 0 1 0 -2.1 0M439.7 377.2a0.9 0.9 0 1 0 1.7 0a0.9 0.9 0 1 0 -1.7 0M449.2 363a1 1 0 1 0 1.9 0a1 1 0 1 0 -1.9 0" fill="#174F10"/>
<path d="M453.8 368.4a1.2 1.2 0 1 0 2.5 0a1.2 1.2 0 1 0 -2.5 0M437.9 363.5a1.1 1.1 0 1 0 2.2 0a1.1 1.1 0 1 0 -2.2 0M427.1 378.1a1.1 1.1 0 1 0 2.2 0a1.1 1.1 0 1 0 -2.2 0" fill="#4FE834"/>
<rect x="417.4" y="401" width="61" height="44.3" fill="#000"/>
<path d="M449.3 418.5a1.3 1.3 0 1 0 2.6 0a1.3 1.3 0 1 0 -2.6 0M420.2 434.7a1.7 1.7 0 1 0 3.4 0a1.7 1.7 0 1 0 -3.4 0M438.7 414.1a1.6 1.6 0 1 0 3.2 0a1.6 1.6 0 1 0 -3.2 0M431.1 410.5a1.2 1.2 0 1 0 2.5 0a1.2 1.2 0 1 0 -2.5 0M456.7 417a1.1 1.1 0 1 0 2.3 0a1.1 1.1 0 1 0 -2.3 0M428 417.5a1.1 1.1 0 1 0 2.3 0a1.1 1.1 0 1 0 -2.3 0M473.9 416.8a1.6 1.6 0 1 0 3.1 0a1.6 1.6 0 1 0 -3.1 0M422.6 425.1a1.5 1.5 0 1 0 3 0a1.5 1.5 0 1 0 -3 0M430.6 407.4a1.5 1.5 0 1 0 3 0a1.5 1.5 0 1 0 -3 0M464 427.9a1.7 1.7 0 1 0 3.5 0a1.7 1.7 0 1 0 -3.5 0M462.4 429.4a1.7 1.7 0 1 0 3.4 0a1.7 1.7 0 1 0 -3.4 0" fill="#1C1CD8"/>
<path d="M458.3 414.1a1.1 1.1 0 1 0 2.3 0a1.1 1.1 0 1 0 -2.3 0M457.8 407.6a1.4 1.4 0 1 0 2.9 0a1.4 1.4 0 1 0 -2.9 0M458.8 418.8a1.5 1.5 0 1 0 3 0a1.5 1.5 0 1 0 -3 0M446.2 416.8a1.4 1.4 0 1 0 2.8 0a1.4 1.4 0 1 0 -2.8 0M448.8 419.7a1.4 1.4 0 1 0 2.9 0a1.4 1.4 0 1 0 -2.9 0M447.1 413.9a1.4 1.4 0 1 0 2.9 0a1.4 1.4 0 1 0 -2.9 0M425.5 439.7a1.2 1.2 0 1 0 2.4 0a1.2 1.2 0 1 0 -2.4 0M430.3 413.3a1.6 1.6 0 1 0 3.2 0a1.6 1.6 0 1 0 -3.2 0M453.9 429.9a1.7 1.7 0 1 0 3.4 0a1.7 1.7 0 1 0 -3.4 0M467.4 427a1.6 1.6 0 1 0 3.3 0a1.6 1.6 0 1 0 -3.3 0" fill="#1A1AC0"/>
<path d="M470.8 432.2a1.6 1.6 0 1 0 3.2 0a1.6 1.6 0 1 0 -3.2 0M472.3 421.5a1.6 1.6 0 1 0 3.2 0a1.6 1.6 0 1 0 -3.2 0M428.9 409.7a1.3 1.3 0 1 0 2.7 0a1.3 1.3 0 1 0 -2.7 0M461.1 424.5a1.6 1.6 0 1 0 3.1 0a1.6 1.6 0 1 0 -3.1 0M453.8 412.6a1.8 1.8 0 1 0 3.6 0a1.8 1.8 0 1 0 -3.6 0M470.4 432.4a1.1 1.1 0 1 0 2.3 0a1.1 1.1 0 1 0 -2.3 0M417.9 424.3a1.3 1.3 0 1 0 2.7 0a1.3 1.3 0 1 0 -2.7 0M457.5 418.5a1.7 1.7 0 1 0 3.3 0a1.7 1.7 0 1 0 -3.3 0M467.4 409.2a1.5 1.5 0 1 0 3 0a1.5 1.5 0 1 0 -3 0M424.9 425a1.8 1.8 0 1 0 3.6 0a1.8 1.8 0 1 0 -3.6 0M421.8 414.3a1.3 1.3 0 1 0 2.7 0a1.3 1.3 0 1 0 -2.7 0M453.5 413.9a1.3 1.3 0 1 0 2.6 0a1.3 1.3 0 1 0 -2.6 0" fill="#2424F0"/>
<path d="M462.6 439.4a1.1 1.1 0 1 0 2.2 0a1.1 1.1 0 1 0 -2.2 0M421.7 431a1.2 1.2 0 1 0 2.3 0a1.2 1.2 0 1 0 -2.3 0M443.9 431.8a1.4 1.4 0 1 0 2.8 0a1.4 1.4 0 1 0 -2.8 0M430.2 413.9a1.4 1.4 0 1 0 2.9 0a1.4 1.4 0 1 0 -2.9 0M418.9 440.1a1.6 1.6 0 1 0 3.1 0a1.6 1.6 0 1 0 -3.1 0M426.8 431.2a1.6 1.6 0 1 0 3.1 0a1.6 1.6 0 1 0 -3.1 0M471.9 421.6a1.3 1.3 0 1 0 2.6 0a1.3 1.3 0 1 0 -2.6 0" fill="#3030FF"/>
<path d="M418.6 433.8a1.7 1.7 0 1 0 3.4 0a1.7 1.7 0 1 0 -3.4 0" fill="#A0F0FF"/>
<path d="M443.4 429.9a1.4 1.4 0 1 0 2.8 0a1.4 1.4 0 1 0 -2.8 0M444.6 439.3a1.3 1.3 0 1 0 2.5 0a1.3 1.3 0 1 0 -2.5 0" fill="#60C8F0"/>
<path d="M449.2 436.8a1.5 1.5 0 1 0 3 0a1.5 1.5 0 1 0 -3 0" fill="#7FE8FF"/>
<rect x="417.4" y="451.7" width="61" height="44.3" fill="#000"/>
<path d="M459.5 479.7a1.2 1.2 0 1 0 2.4 0a1.2 1.2 0 1 0 -2.4 0M460.1 463a1.1 1.1 0 1 0 2.1 0a1.1 1.1 0 1 0 -2.1 0M421.3 491.4a0.9 0.9 0 1 0 1.8 0a0.9 0.9 0 1 0 -1.8 0M429.3 482.8a1.1 1.1 0 1 0 2.2 0a1.1 1.1 0 1 0 -2.2 0" fill="#6CF050"/>
<path d="M427 472a0.7 0.7 0 1 0 1.4 0a0.7 0.7 0 1 0 -1.4 0M438.9 492.5a0.9 0.9 0 1 0 1.7 0a0.9 0.9 0 1 0 -1.7 0M466.1 470.3a1 1 0 1 0 2 0a1 1 0 1 0 -2 0" fill="#2A8A1C"/>
<path d="M424.4 455.5a1.4 1.4 0 1 0 2.8 0a1.4 1.4 0 1 0 -2.8 0M453.3 467.4a1.4 1.4 0 1 0 2.8 0a1.4 1.4 0 1 0 -2.8 0M469.4 493.6a1.5 1.5 0 1 0 2.9 0a1.5 1.5 0 1 0 -2.9 0" fill="#3FD02A"/>
<path d="M419.8 492.8a1.2 1.2 0 1 0 2.5 0a1.2 1.2 0 1 0 -2.5 0M427 480.7a1.2 1.2 0 1 0 2.5 0a1.2 1.2 0 1 0 -2.5 0M429.3 493.9a0.9 0.9 0 1 0 1.9 0a0.9 0.9 0 1 0 -1.9 0" fill="#4FE834"/>
<path d="M446.5 493.7a1.1 1.1 0 1 0 2.1 0a1.1 1.1 0 1 0 -2.1 0" fill="#174F10"/>
<rect x="417.4" y="497.9" width="61" height="44.4" fill="#000"/>
<path d="M444.2 516.8a1.7 1.7 0 1 0 3.5 0a1.7 1.7 0 1 0 -3.5 0M450.4 531.9a1.7 1.7 0 1 0 3.4 0a1.7 1.7 0 1 0 -3.4 0M472.1 535.5a1.4 1.4 0 1 0 2.9 0a1.4 1.4 0 1 0 -2.9 0M446.2 521.8a1.4 1.4 0 1 0 2.7 0a1.4 1.4 0 1 0 -2.7 0M446.8 533.4a1.4 1.4 0 1 0 2.7 0a1.4 1.4 0 1 0 -2.7 0M435.2 504.6a1.6 1.6 0 1 0 3.2 0a1.6 1.6 0 1 0 -3.2 0M461.6 515.8a1.3 1.3 0 1 0 2.7 0a1.3 1.3 0 1 0 -2.7 0M437.7 512.9a1.6 1.6 0 1 0 3.1 0a1.6 1.6 0 1 0 -3.1 0M462.2 513.8a1.6 1.6 0 1 0 3.2 0a1.6 1.6 0 1 0 -3.2 0M441.2 502.8a1.5 1.5 0 1 0 3 0a1.5 1.5 0 1 0 -3 0M442.8 507.7a1.1 1.1 0 1 0 2.2 0a1.1 1.1 0 1 0 -2.2 0M462.8 511a1.6 1.6 0 1 0 3.2 0a1.6 1.6 0 1 0 -3.2 0" fill="#2424F0"/>
<path d="M449.1 531.1a1.4 1.4 0 1 0 2.8 0a1.4 1.4 0 1 0 -2.8 0M459.6 513.8a1.4 1.4 0 1 0 2.7 0a1.4 1.4 0 1 0 -2.7 0M470.4 509a1.1 1.1 0 1 0 2.2 0a1.1 1.1 0 1 0 -2.2 0M419.6 540.2a1.1 1.1 0 1 0 2.3 0a1.1 1.1 0 1 0 -2.3 0M446.5 538.2a1.7 1.7 0 1 0 3.3 0a1.7 1.7 0 1 0 -3.3 0M453.2 532.4a1.4 1.4 0 1 0 2.9 0a1.4 1.4 0 1 0 -2.9 0M445.2 502.2a1.5 1.5 0 1 0 3.1 0a1.5 1.5 0 1 0 -3.1 0" fill="#3030FF"/>
<path d="M429.9 505.2a1.7 1.7 0 1 0 3.3 0a1.7 1.7 0 1 0 -3.3 0M431.4 519a1.4 1.4 0 1 0 2.7 0a1.4 1.4 0 1 0 -2.7 0M464.9 524.9a1.2 1.2 0 1 0 2.5 0a1.2 1.2 0 1 0 -2.5 0M437.7 526.3a1.1 1.1 0 1 0 2.3 0a1.1 1.1 0 1 0 -2.3 0M462.2 526.7a1.5 1.5 0 1 0 3.1 0a1.5 1.5 0 1 0 -3.1 0M434.6 508.6a1.4 1.4 0 1 0 2.7 0a1.4 1.4 0 1 0 -2.7 0M432.6 540.7a1.8 1.8 0 1 0 3.6 0a1.8 1.8 0 1 0 -3.6 0M422.8 506.2a1.7 1.7 0 1 0 3.4 0a1.7 1.7 0 1 0 -3.4 0M471.5 513a1.5 1.5 0 1 0 2.9 0a1.5 1.5 0 1 0 -2.9 0M420.8 537.3a1.5 1.5 0 1 0 2.9 0a1.5 1.5 0 1 0 -2.9 0M469.9 499.7a1.4 1.4 0 1 0 2.7 0a1.4 1.4 0 1 0 -2.7 0" fill="#1C1CD8"/>
<path d="M419 513a1.2 1.2 0 1 0 2.4 0a1.2 1.2 0 1 0 -2.4 0M455.4 506.9a1.5 1.5 0 1 0 2.9 0a1.5 1.5 0 1 0 -2.9 0M453.7 529.2a1.6 1.6 0 1 0 3.2 0a1.6 1.6 0 1 0 -3.2 0M450.2 534.1a1.4 1.4 0 1 0 2.8 0a1.4 1.4 0 1 0 -2.8 0M468.3 516.2a1.6 1.6 0 1 0 3.3 0a1.6 1.6 0 1 0 -3.3 0M442.5 509a1.5 1.5 0 1 0 3 0a1.5 1.5 0 1 0 -3 0M464.8 506.2a1.3 1.3 0 1 0 2.6 0a1.3 1.3 0 1 0 -2.6 0M452.5 534.8a1.2 1.2 0 1 0 2.4 0a1.2 1.2 0 1 0 -2.4 0M450.1 533.4a1.5 1.5 0 1 0 3.1 0a1.5 1.5 0 1 0 -3.1 0M432.5 502a1.3 1.3 0 1 0 2.6 0a1.3 1.3 0 1 0 -2.6 0" fill="#1A1AC0"/>
<path d="M470.8 529.8a1.3 1.3 0 1 0 2.7 0a1.3 1.3 0 1 0 -2.7 0M459.8 501.1a1.7 1.7 0 1 0 3.5 0a1.7 1.7 0 1 0 -3.5 0" fill="#60C8F0"/>
<path d="M469.3 528.1a1.7 1.7 0 1 0 3.4 0a1.7 1.7 0 1 0 -3.4 0M454.8 500.6a1.2 1.2 0 1 0 2.5 0a1.2 1.2 0 1 0 -2.5 0" fill="#7FE8FF"/>
<rect x="480.8" y="338.6" width="59.2" height="15" fill="#fff" stroke="#333" stroke-width="1.1"/>
<text x="510.2" y="350" font-size="9.8" text-anchor="middle" font-weight="bold" fill="#000">HUVECs</text>
<rect x="480.2" y="355" width="61" height="44.2" fill="#000"/>
<path d="M492 376.3a1.4 1.4 0 1 0 2.7 0a1.4 1.4 0 1 0 -2.7 0M516.9 390.5a1.2 1.2 0 1 0 2.4 0a1.2 1.2 0 1 0 -2.4 0M505.2 388.3a1.1 1.1 0 1 0 2.2 0a1.1 1.1 0 1 0 -2.2 0M512 374.9a1.3 1.3 0 1 0 2.7 0a1.3 1.3 0 1 0 -2.7 0" fill="#6CF050"/>
<path d="M522.9 376.7a1.1 1.1 0 1 0 2.2 0a1.1 1.1 0 1 0 -2.2 0M493 395.2a1 1 0 1 0 2 0a1 1 0 1 0 -2 0" fill="#3FD02A"/>
<path d="M509.4 359.5a1.2 1.2 0 1 0 2.4 0a1.2 1.2 0 1 0 -2.4 0M527.2 357.3a1.4 1.4 0 1 0 2.8 0a1.4 1.4 0 1 0 -2.8 0" fill="#4FE834"/>
<path d="M505.9 364.3a0.7 0.7 0 1 0 1.5 0a0.7 0.7 0 1 0 -1.5 0" fill="#1E6E14"/>
<path d="M482.5 360a0.8 0.8 0 1 0 1.6 0a0.8 0.8 0 1 0 -1.6 0" fill="#174F10"/>
<rect x="480.2" y="401" width="61" height="44.3" fill="#000"/>
<path d="M521 441.2a1.2 1.2 0 1 0 2.4 0a1.2 1.2 0 1 0 -2.4 0M499.7 426.8a1.8 1.8 0 1 0 3.6 0a1.8 1.8 0 1 0 -3.6 0M485.5 412.5a1.7 1.7 0 1 0 3.3 0a1.7 1.7 0 1 0 -3.3 0M525.8 440.8a1.4 1.4 0 1 0 2.9 0a1.4 1.4 0 1 0 -2.9 0M536.8 438.4a1.6 1.6 0 1 0 3.1 0a1.6 1.6 0 1 0 -3.1 0M533 415.3a1.5 1.5 0 1 0 2.9 0a1.5 1.5 0 1 0 -2.9 0M529.9 404.7a1.6 1.6 0 1 0 3.2 0a1.6 1.6 0 1 0 -3.2 0M536.1 410.8a1.6 1.6 0 1 0 3.2 0a1.6 1.6 0 1 0 -3.2 0M537.6 409.4a1.4 1.4 0 1 0 2.7 0a1.4 1.4 0 1 0 -2.7 0M533.7 405.4a1.4 1.4 0 1 0 2.8 0a1.4 1.4 0 1 0 -2.8 0M497.1 440.8a1.8 1.8 0 1 0 3.5 0a1.8 1.8 0 1 0 -3.5 0M530.4 441.5a1.4 1.4 0 1 0 2.8 0a1.4 1.4 0 1 0 -2.8 0M498.2 442.8a1.2 1.2 0 1 0 2.5 0a1.2 1.2 0 1 0 -2.5 0M484.7 417.7a1.2 1.2 0 1 0 2.4 0a1.2 1.2 0 1 0 -2.4 0M519.2 405.4a1.6 1.6 0 1 0 3.3 0a1.6 1.6 0 1 0 -3.3 0M520.7 408.2a1.5 1.5 0 1 0 3.1 0a1.5 1.5 0 1 0 -3.1 0M526.4 421.6a1.7 1.7 0 1 0 3.3 0a1.7 1.7 0 1 0 -3.3 0M507.2 425.1a1.6 1.6 0 1 0 3.3 0a1.6 1.6 0 1 0 -3.3 0M481.9 429.7a1.1 1.1 0 1 0 2.3 0a1.1 1.1 0 1 0 -2.3 0" fill="#3030FF"/>
<path d="M504.5 423.2a1.6 1.6 0 1 0 3.2 0a1.6 1.6 0 1 0 -3.2 0M501 432a1.7 1.7 0 1 0 3.3 0a1.7 1.7 0 1 0 -3.3 0M521.8 419.8a1.2 1.2 0 1 0 2.4 0a1.2 1.2 0 1 0 -2.4 0M499.6 403.3a1.5 1.5 0 1 0 2.9 0a1.5 1.5 0 1 0 -2.9 0M503 443a1.3 1.3 0 1 0 2.6 0a1.3 1.3 0 1 0 -2.6 0M486.5 413.4a1.4 1.4 0 1 0 2.9 0a1.4 1.4 0 1 0 -2.9 0M492.7 420.8a1.4 1.4 0 1 0 2.9 0a1.4 1.4 0 1 0 -2.9 0M486.1 406a1.2 1.2 0 1 0 2.3 0a1.2 1.2 0 1 0 -2.3 0" fill="#1C1CD8"/>
<path d="M504.6 432.9a1.4 1.4 0 1 0 2.7 0a1.4 1.4 0 1 0 -2.7 0M509 432.4a1.8 1.8 0 1 0 3.6 0a1.8 1.8 0 1 0 -3.6 0M525.2 440.1a1.5 1.5 0 1 0 3 0a1.5 1.5 0 1 0 -3 0M494.7 439a1.4 1.4 0 1 0 2.7 0a1.4 1.4 0 1 0 -2.7 0M515.8 435.4a1.1 1.1 0 1 0 2.3 0a1.1 1.1 0 1 0 -2.3 0M535.8 430.8a1.7 1.7 0 1 0 3.5 0a1.7 1.7 0 1 0 -3.5 0M516.2 414.2a1.7 1.7 0 1 0 3.5 0a1.7 1.7 0 1 0 -3.5 0M527.3 424.8a1.3 1.3 0 1 0 2.5 0a1.3 1.3 0 1 0 -2.5 0M503.9 435.8a1.3 1.3 0 1 0 2.6 0a1.3 1.3 0 1 0 -2.6 0M517 423.1a1.4 1.4 0 1 0 2.7 0a1.4 1.4 0 1 0 -2.7 0M505.3 407.2a1.7 1.7 0 1 0 3.5 0a1.7 1.7 0 1 0 -3.5 0M494.2 437.6a1.5 1.5 0 1 0 3 0a1.5 1.5 0 1 0 -3 0M505.2 417.3a1.1 1.1 0 1 0 2.2 0a1.1 1.1 0 1 0 -2.2 0" fill="#1A1AC0"/>
<path d="M492.3 420a1.7 1.7 0 1 0 3.5 0a1.7 1.7 0 1 0 -3.5 0M506 431.4a1.5 1.5 0 1 0 3 0a1.5 1.5 0 1 0 -3 0M496.4 421.4a1.2 1.2 0 1 0 2.4 0a1.2 1.2 0 1 0 -2.4 0M492.5 425a1.7 1.7 0 1 0 3.3 0a1.7 1.7 0 1 0 -3.3 0M496.3 410a1.5 1.5 0 1 0 2.9 0a1.5 1.5 0 1 0 -2.9 0M502.6 411.1a1.6 1.6 0 1 0 3.2 0a1.6 1.6 0 1 0 -3.2 0M505 427.5a1.4 1.4 0 1 0 2.7 0a1.4 1.4 0 1 0 -2.7 0M509.9 412.5a1.4 1.4 0 1 0 2.8 0a1.4 1.4 0 1 0 -2.8 0M519.3 405.1a1.1 1.1 0 1 0 2.2 0a1.1 1.1 0 1 0 -2.2 0M508 415.6a1.6 1.6 0 1 0 3.3 0a1.6 1.6 0 1 0 -3.3 0" fill="#2424F0"/>
<path d="M530.8 421.1a1.3 1.3 0 1 0 2.6 0a1.3 1.3 0 1 0 -2.6 0" fill="#60C8F0"/>
<path d="M499.3 420.3a1.5 1.5 0 1 0 3 0a1.5 1.5 0 1 0 -3 0M498.2 403.4a1.6 1.6 0 1 0 3.2 0a1.6 1.6 0 1 0 -3.2 0M489.3 417.2a1.4 1.4 0 1 0 2.8 0a1.4 1.4 0 1 0 -2.8 0" fill="#7FE8FF"/>
<path d="M496.3 437.7a1.2 1.2 0 1 0 2.4 0a1.2 1.2 0 1 0 -2.4 0" fill="#A0F0FF"/>
<rect x="480.2" y="451.7" width="61" height="44.3" fill="#000"/>
<path d="M503.4 485.6a0.9 0.9 0 1 0 1.9 0a0.9 0.9 0 1 0 -1.9 0M514.4 454.3a0.8 0.8 0 1 0 1.6 0a0.8 0.8 0 1 0 -1.6 0M504.4 461a1.1 1.1 0 1 0 2.1 0a1.1 1.1 0 1 0 -2.1 0" fill="#1E6E14"/>
<path d="M512.8 485.7a1.1 1.1 0 1 0 2.1 0a1.1 1.1 0 1 0 -2.1 0" fill="#6CF050"/>
<path d="M530.7 473.7a0.8 0.8 0 1 0 1.5 0a0.8 0.8 0 1 0 -1.5 0M506.8 493.5a1.1 1.1 0 1 0 2.1 0a1.1 1.1 0 1 0 -2.1 0" fill="#174F10"/>
<path d="M507.3 490.5a1.1 1.1 0 1 0 2.2 0a1.1 1.1 0 1 0 -2.2 0M531.7 467.1a1 1 0 1 0 2.1 0a1 1 0 1 0 -2.1 0" fill="#4FE834"/>
<path d="M527.8 468.1a0.7 0.7 0 1 0 1.4 0a0.7 0.7 0 1 0 -1.4 0M504.4 466.5a0.9 0.9 0 1 0 1.8 0a0.9 0.9 0 1 0 -1.8 0M519.5 484.9a0.8 0.8 0 1 0 1.6 0a0.8 0.8 0 1 0 -1.6 0M516.1 473.1a1 1 0 1 0 2 0a1 1 0 1 0 -2 0" fill="#2A8A1C"/>
<rect x="480.2" y="497.9" width="61" height="44.4" fill="#000"/>
<path d="M527.2 525.4a1.7 1.7 0 1 0 3.4 0a1.7 1.7 0 1 0 -3.4 0M499.5 513.1a1.5 1.5 0 1 0 2.9 0a1.5 1.5 0 1 0 -2.9 0M512.9 529.5a1.4 1.4 0 1 0 2.7 0a1.4 1.4 0 1 0 -2.7 0M511.8 540.3a1.7 1.7 0 1 0 3.4 0a1.7 1.7 0 1 0 -3.4 0M490.8 514a1.3 1.3 0 1 0 2.5 0a1.3 1.3 0 1 0 -2.5 0M531.8 526.1a1.1 1.1 0 1 0 2.2 0a1.1 1.1 0 1 0 -2.2 0M509 508.9a1.6 1.6 0 1 0 3.3 0a1.6 1.6 0 1 0 -3.3 0M527.8 517a1.5 1.5 0 1 0 2.9 0a1.5 1.5 0 1 0 -2.9 0M526.1 501.9a1.7 1.7 0 1 0 3.5 0a1.7 1.7 0 1 0 -3.5 0" fill="#1A1AC0"/>
<path d="M525.9 501.8a1.5 1.5 0 1 0 3.1 0a1.5 1.5 0 1 0 -3.1 0M501.6 512.1a1.8 1.8 0 1 0 3.6 0a1.8 1.8 0 1 0 -3.6 0M499.2 504.9a1.1 1.1 0 1 0 2.2 0a1.1 1.1 0 1 0 -2.2 0M515.4 514.3a1.6 1.6 0 1 0 3.1 0a1.6 1.6 0 1 0 -3.1 0M485.2 510.1a1.1 1.1 0 1 0 2.2 0a1.1 1.1 0 1 0 -2.2 0M531 527.9a1.5 1.5 0 1 0 2.9 0a1.5 1.5 0 1 0 -2.9 0M498.9 518a1.6 1.6 0 1 0 3.2 0a1.6 1.6 0 1 0 -3.2 0M534.2 529.7a1.8 1.8 0 1 0 3.5 0a1.8 1.8 0 1 0 -3.5 0M520.5 533.9a1.1 1.1 0 1 0 2.2 0a1.1 1.1 0 1 0 -2.2 0M509.2 535.6a1.4 1.4 0 1 0 2.8 0a1.4 1.4 0 1 0 -2.8 0M489.7 530.6a1.7 1.7 0 1 0 3.4 0a1.7 1.7 0 1 0 -3.4 0M499.3 539.3a1.6 1.6 0 1 0 3.2 0a1.6 1.6 0 1 0 -3.2 0M536.8 506.6a1.6 1.6 0 1 0 3.2 0a1.6 1.6 0 1 0 -3.2 0M515.1 517.8a1.1 1.1 0 1 0 2.2 0a1.1 1.1 0 1 0 -2.2 0M534.6 515.7a1.4 1.4 0 1 0 2.9 0a1.4 1.4 0 1 0 -2.9 0M505.5 508.5a1.2 1.2 0 1 0 2.4 0a1.2 1.2 0 1 0 -2.4 0M498.6 508.9a1.4 1.4 0 1 0 2.7 0a1.4 1.4 0 1 0 -2.7 0" fill="#1C1CD8"/>
<path d="M508.5 515.5a1.3 1.3 0 1 0 2.7 0a1.3 1.3 0 1 0 -2.7 0M518.3 503.7a1.6 1.6 0 1 0 3.2 0a1.6 1.6 0 1 0 -3.2 0M497.7 503.8a1.6 1.6 0 1 0 3.2 0a1.6 1.6 0 1 0 -3.2 0M499.2 539.8a1.4 1.4 0 1 0 2.9 0a1.4 1.4 0 1 0 -2.9 0M532.7 516.3a1.8 1.8 0 1 0 3.5 0a1.8 1.8 0 1 0 -3.5 0M537.3 519.5a1.3 1.3 0 1 0 2.6 0a1.3 1.3 0 1 0 -2.6 0M520.5 524.4a1.4 1.4 0 1 0 2.8 0a1.4 1.4 0 1 0 -2.8 0M514.9 523.7a1.4 1.4 0 1 0 2.8 0a1.4 1.4 0 1 0 -2.8 0M502.7 506.9a1.4 1.4 0 1 0 2.7 0a1.4 1.4 0 1 0 -2.7 0M485.9 540.6a1.3 1.3 0 1 0 2.5 0a1.3 1.3 0 1 0 -2.5 0M514.5 521.6a1.3 1.3 0 1 0 2.7 0a1.3 1.3 0 1 0 -2.7 0M516.4 534.5a1.5 1.5 0 1 0 2.9 0a1.5 1.5 0 1 0 -2.9 0M523.5 506.6a1.4 1.4 0 1 0 2.8 0a1.4 1.4 0 1 0 -2.8 0M538 531.9a1.7 1.7 0 1 0 3.5 0a1.7 1.7 0 1 0 -3.5 0M531.4 537.5a1.5 1.5 0 1 0 3.1 0a1.5 1.5 0 1 0 -3.1 0M516.5 508.9a1.4 1.4 0 1 0 2.8 0a1.4 1.4 0 1 0 -2.8 0" fill="#2424F0"/>
<path d="M487.5 502a1.6 1.6 0 1 0 3.3 0a1.6 1.6 0 1 0 -3.3 0M480.8 536.3a1.2 1.2 0 1 0 2.3 0a1.2 1.2 0 1 0 -2.3 0M492.4 501.6a1.1 1.1 0 1 0 2.2 0a1.1 1.1 0 1 0 -2.2 0M494.3 534.1a1.4 1.4 0 1 0 2.9 0a1.4 1.4 0 1 0 -2.9 0M506.3 500.8a1.7 1.7 0 1 0 3.5 0a1.7 1.7 0 1 0 -3.5 0M494.2 538.4a1.7 1.7 0 1 0 3.4 0a1.7 1.7 0 1 0 -3.4 0M525.2 521.1a1.7 1.7 0 1 0 3.5 0a1.7 1.7 0 1 0 -3.5 0M495.7 523a1.8 1.8 0 1 0 3.6 0a1.8 1.8 0 1 0 -3.6 0" fill="#3030FF"/>
<path d="M505.8 530.1a1.6 1.6 0 1 0 3.2 0a1.6 1.6 0 1 0 -3.2 0M493.4 522.2a1.4 1.4 0 1 0 2.7 0a1.4 1.4 0 1 0 -2.7 0" fill="#A0F0FF"/>
<path d="M509.7 512.7a1.4 1.4 0 1 0 2.7 0a1.4 1.4 0 1 0 -2.7 0M488.2 501.7a1.2 1.2 0 1 0 2.5 0a1.2 1.2 0 1 0 -2.5 0" fill="#60C8F0"/>
<path d="M509.7 513.1a1.4 1.4 0 1 0 2.9 0a1.4 1.4 0 1 0 -2.9 0" fill="#7FE8FF"/>
<rect x="21.9" y="355" width="16.2" height="90.5" fill="#fff" stroke="#333" stroke-width="1.1"/>
<text x="33.5" y="400.2" font-size="9" text-anchor="middle" font-weight="bold" fill="#000" transform="rotate(-90 33.5 400.2)">SEN</text>
<rect x="21.9" y="451.7" width="16.2" height="90.6" fill="#fff" stroke="#333" stroke-width="1.1"/>
<text x="33.5" y="497" font-size="9" text-anchor="middle" font-weight="bold" fill="#000" transform="rotate(-90 33.5 497)">SEN+GAA</text>
<text x="89" y="392" font-size="3.5" text-anchor="middle" font-weight="bold" fill="#fff">50μm</text>
<line x1="84" y1="395" x2="95" y2="395" stroke="#fff" stroke-width="1.2"/>
<rect x="51.4" y="581.9" width="14.6" height="15.1" fill="#F23D3D" stroke="#333" stroke-width="0.8"/>
<line x1="58.7" y1="580" x2="58.7" y2="583.8" stroke="#000" stroke-width="0.8"/>
<line x1="56.2" y1="580" x2="61.2" y2="580" stroke="#000" stroke-width="0.8"/>
<line x1="56.2" y1="583.8" x2="61.2" y2="583.8" stroke="#000" stroke-width="0.8"/>
<circle cx="58.2" cy="584.2" r="1.1" fill="#111"/>
<circle cx="59.9" cy="581.9" r="1.1" fill="#111"/>
<circle cx="59.2" cy="579.6" r="1.1" fill="#111"/>
<text x="58.7" y="606.5" font-size="8" text-anchor="middle" font-weight="bold" fill="#000">S</text>
<line x1="58.7" y1="597" x2="58.7" y2="599.5" stroke="#000" stroke-width="0.8"/>
<rect x="66" y="568.2" width="14.6" height="28.8" fill="#D6D6D6" stroke="#333" stroke-width="0.8"/>
<line x1="73.3" y1="563.5" x2="73.3" y2="572.9" stroke="#000" stroke-width="0.8"/>
<line x1="70.8" y1="563.5" x2="75.8" y2="563.5" stroke="#000" stroke-width="0.8"/>
<line x1="70.8" y1="572.9" x2="75.8" y2="572.9" stroke="#000" stroke-width="0.8"/>
<circle cx="73.9" cy="562.5" r="1.1" fill="#111"/>
<circle cx="73.1" cy="568.2" r="1.1" fill="#111"/>
<circle cx="74.3" cy="562.5" r="1.1" fill="#111"/>
<text x="73.3" y="606.5" font-size="8" text-anchor="middle" font-weight="bold" fill="#000">G</text>
<line x1="73.3" y1="597" x2="73.3" y2="599.5" stroke="#000" stroke-width="0.8"/>
<line x1="43" y1="549.8" x2="43" y2="597.5" stroke="#000" stroke-width="1"/>
<line x1="42.5" y1="597" x2="88" y2="597" stroke="#000" stroke-width="1"/>
<line x1="40" y1="597" x2="43" y2="597" stroke="#000" stroke-width="0.8"/>
<text x="39" y="599.8" font-size="8" text-anchor="end" font-weight="normal" fill="#000">0</text>
<line x1="40" y1="587.6" x2="43" y2="587.6" stroke="#000" stroke-width="0.8"/>
<text x="39" y="590.4" font-size="8" text-anchor="end" font-weight="normal" fill="#000">10</text>
<line x1="40" y1="578.1" x2="43" y2="578.1" stroke="#000" stroke-width="0.8"/>
<text x="39" y="580.9" font-size="8" text-anchor="end" font-weight="normal" fill="#000">20</text>
<line x1="40" y1="568.7" x2="43" y2="568.7" stroke="#000" stroke-width="0.8"/>
<text x="39" y="571.5" font-size="8" text-anchor="end" font-weight="normal" fill="#000">30</text>
<line x1="40" y1="559.2" x2="43" y2="559.2" stroke="#000" stroke-width="0.8"/>
<text x="39" y="562" font-size="8" text-anchor="end" font-weight="normal" fill="#000">40</text>
<line x1="40" y1="549.8" x2="43" y2="549.8" stroke="#000" stroke-width="0.8"/>
<text x="39" y="552.6" font-size="8" text-anchor="end" font-weight="normal" fill="#000">50</text>
<line x1="59.7" y1="550.8" x2="72.3" y2="550.8" stroke="#000" stroke-width="1"/>
<text x="66" y="551" font-size="8" text-anchor="middle" font-weight="normal" fill="#000">*</text>
<rect x="118" y="585.8" width="14.6" height="11.2" fill="#F23D3D" stroke="#333" stroke-width="0.8"/>
<line x1="125.3" y1="579.3" x2="125.3" y2="592.3" stroke="#000" stroke-width="0.8"/>
<line x1="122.8" y1="579.3" x2="127.8" y2="579.3" stroke="#000" stroke-width="0.8"/>
<line x1="122.8" y1="592.3" x2="127.8" y2="592.3" stroke="#000" stroke-width="0.8"/>
<circle cx="124.7" cy="593.6" r="1.1" fill="#111"/>
<circle cx="126.3" cy="585.8" r="1.1" fill="#111"/>
<circle cx="124.2" cy="578" r="1.1" fill="#111"/>
<text x="125.3" y="606.5" font-size="8" text-anchor="middle" font-weight="bold" fill="#000">S</text>
<line x1="125.3" y1="597" x2="125.3" y2="599.5" stroke="#000" stroke-width="0.8"/>
<rect x="132.6" y="565.1" width="14.6" height="31.9" fill="#D6D6D6" stroke="#333" stroke-width="0.8"/>
<line x1="139.9" y1="562.8" x2="139.9" y2="567.5" stroke="#000" stroke-width="0.8"/>
<line x1="137.4" y1="562.8" x2="142.4" y2="562.8" stroke="#000" stroke-width="0.8"/>
<line x1="137.4" y1="567.5" x2="142.4" y2="567.5" stroke="#000" stroke-width="0.8"/>
<circle cx="140.1" cy="568" r="1.1" fill="#111"/>
<circle cx="140.6" cy="565.1" r="1.1" fill="#111"/>
<circle cx="138.4" cy="568" r="1.1" fill="#111"/>
<text x="139.9" y="606.5" font-size="8" text-anchor="middle" font-weight="bold" fill="#000">G</text>
<line x1="139.9" y1="597" x2="139.9" y2="599.5" stroke="#000" stroke-width="0.8"/>
<line x1="107" y1="549.8" x2="107" y2="597.5" stroke="#000" stroke-width="1"/>
<line x1="106.5" y1="597" x2="152" y2="597" stroke="#000" stroke-width="1"/>
<line x1="104" y1="597" x2="107" y2="597" stroke="#000" stroke-width="0.8"/>
<text x="103" y="599.8" font-size="8" text-anchor="end" font-weight="normal" fill="#000">11</text>
<line x1="104" y1="585.2" x2="107" y2="585.2" stroke="#000" stroke-width="0.8"/>
<text x="103" y="588" font-size="8" text-anchor="end" font-weight="normal" fill="#000">12</text>
<line x1="104" y1="573.4" x2="107" y2="573.4" stroke="#000" stroke-width="0.8"/>
<text x="103" y="576.2" font-size="8" text-anchor="end" font-weight="normal" fill="#000">13</text>
<line x1="104" y1="561.6" x2="107" y2="561.6" stroke="#000" stroke-width="0.8"/>
<text x="103" y="564.4" font-size="8" text-anchor="end" font-weight="normal" fill="#000">14</text>
<line x1="104" y1="549.8" x2="107" y2="549.8" stroke="#000" stroke-width="0.8"/>
<text x="103" y="552.6" font-size="8" text-anchor="end" font-weight="normal" fill="#000">15</text>
<line x1="126.3" y1="550.8" x2="138.9" y2="550.8" stroke="#000" stroke-width="1"/>
<text x="132.6" y="551" font-size="8" text-anchor="middle" font-weight="normal" fill="#000">*</text>
<rect x="182" y="572.1" width="14.6" height="24.9" fill="#F23D3D" stroke="#333" stroke-width="0.8"/>
<line x1="189.3" y1="570.9" x2="189.3" y2="573.4" stroke="#000" stroke-width="0.8"/>
<line x1="186.8" y1="570.9" x2="191.8" y2="570.9" stroke="#000" stroke-width="0.8"/>
<line x1="186.8" y1="573.4" x2="191.8" y2="573.4" stroke="#000" stroke-width="0.8"/>
<circle cx="191" cy="570.6" r="1.1" fill="#111"/>
<circle cx="190.3" cy="572.1" r="1.1" fill="#111"/>
<circle cx="187.9" cy="570.6" r="1.1" fill="#111"/>
<text x="189.3" y="606.5" font-size="8" text-anchor="middle" font-weight="bold" fill="#000">S</text>
<line x1="189.3" y1="597" x2="189.3" y2="599.5" stroke="#000" stroke-width="0.8"/>
<rect x="196.6" y="561.4" width="14.6" height="35.6" fill="#D6D6D6" stroke="#333" stroke-width="0.8"/>
<line x1="203.9" y1="558.3" x2="203.9" y2="564.6" stroke="#000" stroke-width="0.8"/>
<line x1="201.4" y1="558.3" x2="206.4" y2="558.3" stroke="#000" stroke-width="0.8"/>
<line x1="201.4" y1="564.6" x2="206.4" y2="564.6" stroke="#000" stroke-width="0.8"/>
<circle cx="202.9" cy="557.7" r="1.1" fill="#111"/>
<circle cx="204" cy="561.4" r="1.1" fill="#111"/>
<circle cx="205" cy="565.2" r="1.1" fill="#111"/>
<text x="203.9" y="606.5" font-size="8" text-anchor="middle" font-weight="bold" fill="#000">G</text>
<line x1="203.9" y1="597" x2="203.9" y2="599.5" stroke="#000" stroke-width="0.8"/>
<line x1="170.8" y1="549.8" x2="170.8" y2="597.5" stroke="#000" stroke-width="1"/>
<line x1="170.3" y1="597" x2="215.8" y2="597" stroke="#000" stroke-width="1"/>
<line x1="167.8" y1="597" x2="170.8" y2="597" stroke="#000" stroke-width="0.8"/>
<text x="166.8" y="599.8" font-size="8" text-anchor="end" font-weight="normal" fill="#000">0</text>
<line x1="167.8" y1="581.3" x2="170.8" y2="581.3" stroke="#000" stroke-width="0.8"/>
<text x="166.8" y="584.1" font-size="8" text-anchor="end" font-weight="normal" fill="#000">5</text>
<line x1="167.8" y1="565.5" x2="170.8" y2="565.5" stroke="#000" stroke-width="0.8"/>
<text x="166.8" y="568.3" font-size="8" text-anchor="end" font-weight="normal" fill="#000">10</text>
<line x1="167.8" y1="549.8" x2="170.8" y2="549.8" stroke="#000" stroke-width="0.8"/>
<text x="166.8" y="552.6" font-size="8" text-anchor="end" font-weight="normal" fill="#000">15</text>
<line x1="190.3" y1="550.8" x2="202.9" y2="550.8" stroke="#000" stroke-width="1"/>
<text x="196.6" y="551" font-size="8" text-anchor="middle" font-weight="normal" fill="#000">*</text>
<rect x="244.4" y="579.5" width="14.6" height="17.5" fill="#F23D3D" stroke="#333" stroke-width="0.8"/>
<line x1="251.7" y1="574.3" x2="251.7" y2="584.7" stroke="#000" stroke-width="0.8"/>
<line x1="249.2" y1="574.3" x2="254.2" y2="574.3" stroke="#000" stroke-width="0.8"/>
<line x1="249.2" y1="584.7" x2="254.2" y2="584.7" stroke="#000" stroke-width="0.8"/>
<circle cx="252.7" cy="573.3" r="1.1" fill="#111"/>
<circle cx="251.2" cy="579.5" r="1.1" fill="#111"/>
<circle cx="252.8" cy="573.3" r="1.1" fill="#111"/>
<text x="251.7" y="606.5" font-size="8" text-anchor="middle" font-weight="bold" fill="#000">S</text>
<line x1="251.7" y1="597" x2="251.7" y2="599.5" stroke="#000" stroke-width="0.8"/>
<rect x="259" y="561.1" width="14.6" height="35.9" fill="#D6D6D6" stroke="#333" stroke-width="0.8"/>
<line x1="266.3" y1="559.9" x2="266.3" y2="562.3" stroke="#000" stroke-width="0.8"/>
<line x1="263.8" y1="559.9" x2="268.8" y2="559.9" stroke="#000" stroke-width="0.8"/>
<line x1="263.8" y1="562.3" x2="268.8" y2="562.3" stroke="#000" stroke-width="0.8"/>
<circle cx="267.3" cy="559.7" r="1.1" fill="#111"/>
<circle cx="266.8" cy="561.1" r="1.1" fill="#111"/>
<circle cx="267.3" cy="559.7" r="1.1" fill="#111"/>
<text x="266.3" y="606.5" font-size="8" text-anchor="middle" font-weight="bold" fill="#000">G</text>
<line x1="266.3" y1="597" x2="266.3" y2="599.5" stroke="#000" stroke-width="0.8"/>
<line x1="233.3" y1="549.8" x2="233.3" y2="597.5" stroke="#000" stroke-width="1"/>
<line x1="232.8" y1="597" x2="278.3" y2="597" stroke="#000" stroke-width="1"/>
<line x1="230.3" y1="597" x2="233.3" y2="597" stroke="#000" stroke-width="0.8"/>
<text x="229.3" y="599.8" font-size="8" text-anchor="end" font-weight="normal" fill="#000">6</text>
<line x1="230.3" y1="587.6" x2="233.3" y2="587.6" stroke="#000" stroke-width="0.8"/>
<text x="229.3" y="590.4" font-size="8" text-anchor="end" font-weight="normal" fill="#000">8</text>
<line x1="230.3" y1="578.1" x2="233.3" y2="578.1" stroke="#000" stroke-width="0.8"/>
<text x="229.3" y="580.9" font-size="8" text-anchor="end" font-weight="normal" fill="#000">10</text>
<line x1="230.3" y1="568.7" x2="233.3" y2="568.7" stroke="#000" stroke-width="0.8"/>
<text x="229.3" y="571.5" font-size="8" text-anchor="end" font-weight="normal" fill="#000">12</text>
<line x1="230.3" y1="559.2" x2="233.3" y2="559.2" stroke="#000" stroke-width="0.8"/>
<text x="229.3" y="562" font-size="8" text-anchor="end" font-weight="normal" fill="#000">14</text>
<line x1="230.3" y1="549.8" x2="233.3" y2="549.8" stroke="#000" stroke-width="0.8"/>
<text x="229.3" y="552.6" font-size="8" text-anchor="end" font-weight="normal" fill="#000">16</text>
<line x1="252.7" y1="550.8" x2="265.3" y2="550.8" stroke="#000" stroke-width="1"/>
<text x="259" y="551" font-size="8" text-anchor="middle" font-weight="normal" fill="#000">*</text>
<rect x="307.2" y="572.8" width="14.6" height="24.2" fill="#F23D3D" stroke="#333" stroke-width="0.8"/>
<line x1="314.5" y1="570.6" x2="314.5" y2="575.1" stroke="#000" stroke-width="0.8"/>
<line x1="312" y1="570.6" x2="317" y2="570.6" stroke="#000" stroke-width="0.8"/>
<line x1="312" y1="575.1" x2="317" y2="575.1" stroke="#000" stroke-width="0.8"/>
<circle cx="315" cy="570.1" r="1.1" fill="#111"/>
<circle cx="315.2" cy="572.8" r="1.1" fill="#111"/>
<circle cx="314.1" cy="570.1" r="1.1" fill="#111"/>
<text x="314.5" y="606.5" font-size="8" text-anchor="middle" font-weight="bold" fill="#000">S</text>
<line x1="314.5" y1="597" x2="314.5" y2="599.5" stroke="#000" stroke-width="0.8"/>
<rect x="321.8" y="558.9" width="14.6" height="38.1" fill="#D6D6D6" stroke="#333" stroke-width="0.8"/>
<line x1="329.1" y1="556" x2="329.1" y2="561.7" stroke="#000" stroke-width="0.8"/>
<line x1="326.6" y1="556" x2="331.6" y2="556" stroke="#000" stroke-width="0.8"/>
<line x1="326.6" y1="561.7" x2="331.6" y2="561.7" stroke="#000" stroke-width="0.8"/>
<circle cx="327.5" cy="555.5" r="1.1" fill="#111"/>
<circle cx="327.5" cy="558.9" r="1.1" fill="#111"/>
<circle cx="329.1" cy="555.5" r="1.1" fill="#111"/>
<text x="329.1" y="606.5" font-size="8" text-anchor="middle" font-weight="bold" fill="#000">G</text>
<line x1="329.1" y1="597" x2="329.1" y2="599.5" stroke="#000" stroke-width="0.8"/>
<line x1="298" y1="549.8" x2="298" y2="597.5" stroke="#000" stroke-width="1"/>
<line x1="297.5" y1="597" x2="343" y2="597" stroke="#000" stroke-width="1"/>
<line x1="295" y1="597" x2="298" y2="597" stroke="#000" stroke-width="0.8"/>
<text x="294" y="599.8" font-size="8" text-anchor="end" font-weight="normal" fill="#000">0</text>
<line x1="295" y1="587.6" x2="298" y2="587.6" stroke="#000" stroke-width="0.8"/>
<text x="294" y="590.4" font-size="8" text-anchor="end" font-weight="normal" fill="#000">5</text>
<line x1="295" y1="578.1" x2="298" y2="578.1" stroke="#000" stroke-width="0.8"/>
<text x="294" y="580.9" font-size="8" text-anchor="end" font-weight="normal" fill="#000">10</text>
<line x1="295" y1="568.7" x2="298" y2="568.7" stroke="#000" stroke-width="0.8"/>
<text x="294" y="571.5" font-size="8" text-anchor="end" font-weight="normal" fill="#000">15</text>
<line x1="295" y1="559.2" x2="298" y2="559.2" stroke="#000" stroke-width="0.8"/>
<text x="294" y="562" font-size="8" text-anchor="end" font-weight="normal" fill="#000">20</text>
<line x1="295" y1="549.8" x2="298" y2="549.8" stroke="#000" stroke-width="0.8"/>
<text x="294" y="552.6" font-size="8" text-anchor="end" font-weight="normal" fill="#000">25</text>
<line x1="315.5" y1="550.8" x2="328.1" y2="550.8" stroke="#000" stroke-width="1"/>
<text x="321.8" y="551" font-size="8" text-anchor="middle" font-weight="normal" fill="#000">*</text>
<rect x="369.4" y="585.7" width="14.6" height="11.3" fill="#F23D3D" stroke="#333" stroke-width="0.8"/>
<line x1="376.7" y1="581" x2="376.7" y2="590.4" stroke="#000" stroke-width="0.8"/>
<line x1="374.2" y1="581" x2="379.2" y2="581" stroke="#000" stroke-width="0.8"/>
<line x1="374.2" y1="590.4" x2="379.2" y2="590.4" stroke="#000" stroke-width="0.8"/>
<circle cx="378.4" cy="580" r="1.1" fill="#111"/>
<circle cx="375.8" cy="585.7" r="1.1" fill="#111"/>
<circle cx="377.6" cy="580" r="1.1" fill="#111"/>
<text x="376.7" y="606.5" font-size="8" text-anchor="middle" font-weight="bold" fill="#000">S</text>
<line x1="376.7" y1="597" x2="376.7" y2="599.5" stroke="#000" stroke-width="0.8"/>
<rect x="384" y="567.7" width="14.6" height="29.3" fill="#D6D6D6" stroke="#333" stroke-width="0.8"/>
<line x1="391.3" y1="563.5" x2="391.3" y2="572" stroke="#000" stroke-width="0.8"/>
<line x1="388.8" y1="563.5" x2="393.8" y2="563.5" stroke="#000" stroke-width="0.8"/>
<line x1="388.8" y1="572" x2="393.8" y2="572" stroke="#000" stroke-width="0.8"/>
<circle cx="391.6" cy="562.6" r="1.1" fill="#111"/>
<circle cx="392.7" cy="567.7" r="1.1" fill="#111"/>
<circle cx="392.3" cy="562.6" r="1.1" fill="#111"/>
<text x="391.3" y="606.5" font-size="8" text-anchor="middle" font-weight="bold" fill="#000">G</text>
<line x1="391.3" y1="597" x2="391.3" y2="599.5" stroke="#000" stroke-width="0.8"/>
<line x1="362.4" y1="549.8" x2="362.4" y2="597.5" stroke="#000" stroke-width="1"/>
<line x1="361.9" y1="597" x2="407.4" y2="597" stroke="#000" stroke-width="1"/>
<line x1="359.4" y1="597" x2="362.4" y2="597" stroke="#000" stroke-width="0.8"/>
<text x="358.4" y="599.8" font-size="8" text-anchor="end" font-weight="normal" fill="#000">10</text>
<line x1="359.4" y1="587.6" x2="362.4" y2="587.6" stroke="#000" stroke-width="0.8"/>
<text x="358.4" y="590.4" font-size="8" text-anchor="end" font-weight="normal" fill="#000">12</text>
<line x1="359.4" y1="578.1" x2="362.4" y2="578.1" stroke="#000" stroke-width="0.8"/>
<text x="358.4" y="580.9" font-size="8" text-anchor="end" font-weight="normal" fill="#000">14</text>
<line x1="359.4" y1="568.7" x2="362.4" y2="568.7" stroke="#000" stroke-width="0.8"/>
<text x="358.4" y="571.5" font-size="8" text-anchor="end" font-weight="normal" fill="#000">16</text>
<line x1="359.4" y1="559.2" x2="362.4" y2="559.2" stroke="#000" stroke-width="0.8"/>
<text x="358.4" y="562" font-size="8" text-anchor="end" font-weight="normal" fill="#000">18</text>
<line x1="359.4" y1="549.8" x2="362.4" y2="549.8" stroke="#000" stroke-width="0.8"/>
<text x="358.4" y="552.6" font-size="8" text-anchor="end" font-weight="normal" fill="#000">20</text>
<line x1="377.7" y1="550.8" x2="390.3" y2="550.8" stroke="#000" stroke-width="1"/>
<text x="384" y="551" font-size="8" text-anchor="middle" font-weight="normal" fill="#000">*</text>
<rect x="433" y="588.1" width="14.6" height="8.9" fill="#F23D3D" stroke="#333" stroke-width="0.8"/>
<line x1="440.3" y1="584" x2="440.3" y2="592.3" stroke="#000" stroke-width="0.8"/>
<line x1="437.8" y1="584" x2="442.8" y2="584" stroke="#000" stroke-width="0.8"/>
<line x1="437.8" y1="592.3" x2="442.8" y2="592.3" stroke="#000" stroke-width="0.8"/>
<circle cx="442.3" cy="583.2" r="1.1" fill="#111"/>
<circle cx="438.4" cy="588.1" r="1.1" fill="#111"/>
<circle cx="439.4" cy="593.1" r="1.1" fill="#111"/>
<text x="440.3" y="606.5" font-size="8" text-anchor="middle" font-weight="bold" fill="#000">S</text>
<line x1="440.3" y1="597" x2="440.3" y2="599.5" stroke="#000" stroke-width="0.8"/>
<rect x="447.6" y="568.7" width="14.6" height="28.3" fill="#D6D6D6" stroke="#333" stroke-width="0.8"/>
<line x1="454.9" y1="564" x2="454.9" y2="573.4" stroke="#000" stroke-width="0.8"/>
<line x1="452.4" y1="564" x2="457.4" y2="564" stroke="#000" stroke-width="0.8"/>
<line x1="452.4" y1="573.4" x2="457.4" y2="573.4" stroke="#000" stroke-width="0.8"/>
<circle cx="453.4" cy="574.3" r="1.1" fill="#111"/>
<circle cx="455.9" cy="568.7" r="1.1" fill="#111"/>
<circle cx="453.5" cy="574.3" r="1.1" fill="#111"/>
<text x="454.9" y="606.5" font-size="8" text-anchor="middle" font-weight="bold" fill="#000">G</text>
<line x1="454.9" y1="597" x2="454.9" y2="599.5" stroke="#000" stroke-width="0.8"/>
<line x1="425.2" y1="549.8" x2="425.2" y2="597.5" stroke="#000" stroke-width="1"/>
<line x1="424.7" y1="597" x2="470.2" y2="597" stroke="#000" stroke-width="1"/>
<line x1="422.2" y1="597" x2="425.2" y2="597" stroke="#000" stroke-width="0.8"/>
<text x="421.2" y="599.8" font-size="8" text-anchor="end" font-weight="normal" fill="#000">22</text>
<line x1="422.2" y1="585.2" x2="425.2" y2="585.2" stroke="#000" stroke-width="0.8"/>
<text x="421.2" y="588" font-size="8" text-anchor="end" font-weight="normal" fill="#000">24</text>
<line x1="422.2" y1="573.4" x2="425.2" y2="573.4" stroke="#000" stroke-width="0.8"/>
<text x="421.2" y="576.2" font-size="8" text-anchor="end" font-weight="normal" fill="#000">26</text>
<line x1="422.2" y1="561.6" x2="425.2" y2="561.6" stroke="#000" stroke-width="0.8"/>
<text x="421.2" y="564.4" font-size="8" text-anchor="end" font-weight="normal" fill="#000">28</text>
<line x1="422.2" y1="549.8" x2="425.2" y2="549.8" stroke="#000" stroke-width="0.8"/>
<text x="421.2" y="552.6" font-size="8" text-anchor="end" font-weight="normal" fill="#000">30</text>
<line x1="441.3" y1="550.8" x2="453.9" y2="550.8" stroke="#000" stroke-width="1"/>
<text x="447.6" y="551" font-size="8" text-anchor="middle" font-weight="normal" fill="#000">*</text>
<rect x="495.2" y="586.1" width="14.6" height="10.9" fill="#F23D3D" stroke="#333" stroke-width="0.8"/>
<line x1="502.5" y1="581" x2="502.5" y2="591.3" stroke="#000" stroke-width="0.8"/>
<line x1="500" y1="581" x2="505" y2="581" stroke="#000" stroke-width="0.8"/>
<line x1="500" y1="591.3" x2="505" y2="591.3" stroke="#000" stroke-width="0.8"/>
<circle cx="501.3" cy="579.9" r="1.1" fill="#111"/>
<circle cx="501.5" cy="586.1" r="1.1" fill="#111"/>
<circle cx="501.1" cy="592.4" r="1.1" fill="#111"/>
<text x="502.5" y="606.5" font-size="8" text-anchor="middle" font-weight="bold" fill="#000">S</text>
<line x1="502.5" y1="597" x2="502.5" y2="599.5" stroke="#000" stroke-width="0.8"/>
<rect x="509.8" y="558.8" width="14.6" height="38.2" fill="#D6D6D6" stroke="#333" stroke-width="0.8"/>
<line x1="517.1" y1="555.5" x2="517.1" y2="562.1" stroke="#000" stroke-width="0.8"/>
<line x1="514.6" y1="555.5" x2="519.6" y2="555.5" stroke="#000" stroke-width="0.8"/>
<line x1="514.6" y1="562.1" x2="519.6" y2="562.1" stroke="#000" stroke-width="0.8"/>
<circle cx="515.6" cy="554.8" r="1.1" fill="#111"/>
<circle cx="518.2" cy="558.8" r="1.1" fill="#111"/>
<circle cx="517.2" cy="554.8" r="1.1" fill="#111"/>
<text x="517.1" y="606.5" font-size="8" text-anchor="middle" font-weight="bold" fill="#000">G</text>
<line x1="517.1" y1="597" x2="517.1" y2="599.5" stroke="#000" stroke-width="0.8"/>
<line x1="487.4" y1="549.8" x2="487.4" y2="597.5" stroke="#000" stroke-width="1"/>
<line x1="486.9" y1="597" x2="532.4" y2="597" stroke="#000" stroke-width="1"/>
<line x1="484.4" y1="597" x2="487.4" y2="597" stroke="#000" stroke-width="0.8"/>
<text x="483.4" y="599.8" font-size="8" text-anchor="end" font-weight="normal" fill="#000">10</text>
<line x1="484.4" y1="587.6" x2="487.4" y2="587.6" stroke="#000" stroke-width="0.8"/>
<text x="483.4" y="590.4" font-size="8" text-anchor="end" font-weight="normal" fill="#000">11</text>
<line x1="484.4" y1="578.1" x2="487.4" y2="578.1" stroke="#000" stroke-width="0.8"/>
<text x="483.4" y="580.9" font-size="8" text-anchor="end" font-weight="normal" fill="#000">12</text>
<line x1="484.4" y1="568.7" x2="487.4" y2="568.7" stroke="#000" stroke-width="0.8"/>
<text x="483.4" y="571.5" font-size="8" text-anchor="end" font-weight="normal" fill="#000">13</text>
<line x1="484.4" y1="559.2" x2="487.4" y2="559.2" stroke="#000" stroke-width="0.8"/>
<text x="483.4" y="562" font-size="8" text-anchor="end" font-weight="normal" fill="#000">14</text>
<line x1="484.4" y1="549.8" x2="487.4" y2="549.8" stroke="#000" stroke-width="0.8"/>
<text x="483.4" y="552.6" font-size="8" text-anchor="end" font-weight="normal" fill="#000">15</text>
<line x1="503.5" y1="550.8" x2="516.1" y2="550.8" stroke="#000" stroke-width="1"/>
<text x="509.8" y="551" font-size="8" text-anchor="middle" font-weight="normal" fill="#000">*</text>
<text x="27.5" y="573" font-size="8" text-anchor="middle" font-weight="bold" fill="#000" transform="rotate(-90 27.5 573)">EdU (%)</text>
<text x="588" y="320" font-size="28" text-anchor="start" font-weight="bold" fill="#000">d</text>
<rect x="661.9" y="441.9" width="13" height="97" fill="#F23D3D" stroke="#222" stroke-width="0.8"/>
<circle cx="664.4" cy="441.9" r="1.5" fill="#000"/>
<circle cx="668.4" cy="441.9" r="1.5" fill="#000"/>
<circle cx="672.4" cy="441.9" r="1.5" fill="#000"/>
<rect x="676.7" y="468.5" width="13.7" height="70.4" fill="#D6D6D6" stroke="#222" stroke-width="1"/>
<line x1="683.5" y1="462.5" x2="683.5" y2="474.6" stroke="#000" stroke-width="1"/>
<line x1="680.5" y1="462.5" x2="686.5" y2="462.5" stroke="#000" stroke-width="1"/>
<line x1="680.5" y1="474.6" x2="686.5" y2="474.6" stroke="#000" stroke-width="1"/>
<rect x="677.5" y="474.9" width="3" height="3" fill="#000"/>
<rect x="681.5" y="467" width="3" height="3" fill="#000"/>
<rect x="685.5" y="459.2" width="3" height="3" fill="#000"/>
<line x1="675.8" y1="538.9" x2="675.8" y2="543.9" stroke="#000" stroke-width="1.3"/>
<text x="680.8" y="554.9" font-size="12.5" text-anchor="end" font-weight="bold" fill="#000" transform="rotate(-45 680.8 554.9)">3T3-L1</text>
<line x1="675.2" y1="419.6" x2="690.8" y2="419.6" stroke="#000" stroke-width="1.6"/>
<text x="683" y="417" font-size="12.5" text-anchor="middle" font-weight="normal" fill="#000">***</text>
<rect x="697.1" y="441.9" width="13" height="97" fill="#F23D3D" stroke="#222" stroke-width="0.8"/>
<circle cx="699.6" cy="441.9" r="1.5" fill="#000"/>
<circle cx="703.6" cy="441.9" r="1.5" fill="#000"/>
<circle cx="707.6" cy="441.9" r="1.5" fill="#000"/>
<rect x="711.9" y="439.5" width="13.7" height="99.4" fill="#D6D6D6" stroke="#222" stroke-width="1"/>
<line x1="718.8" y1="437.7" x2="718.8" y2="441.3" stroke="#000" stroke-width="1"/>
<line x1="715.8" y1="437.7" x2="721.8" y2="437.7" stroke="#000" stroke-width="1"/>
<line x1="715.8" y1="441.3" x2="721.8" y2="441.3" stroke="#000" stroke-width="1"/>
<rect x="712.8" y="440.3" width="3" height="3" fill="#000"/>
<rect x="716.8" y="438" width="3" height="3" fill="#000"/>
<rect x="720.8" y="435.6" width="3" height="3" fill="#000"/>
<line x1="711" y1="538.9" x2="711" y2="543.9" stroke="#000" stroke-width="1.3"/>
<text x="716" y="554.9" font-size="12.5" text-anchor="end" font-weight="bold" fill="#000" transform="rotate(-45 716 554.9)">C2C12</text>
<rect x="732.4" y="441.9" width="13" height="97" fill="#F23D3D" stroke="#222" stroke-width="0.8"/>
<circle cx="734.9" cy="441.9" r="1.5" fill="#000"/>
<circle cx="738.9" cy="441.9" r="1.5" fill="#000"/>
<circle cx="742.9" cy="441.9" r="1.5" fill="#000"/>
<rect x="747.2" y="447.3" width="13.7" height="91.6" fill="#D6D6D6" stroke="#222" stroke-width="1"/>
<line x1="754" y1="445.5" x2="754" y2="449.2" stroke="#000" stroke-width="1"/>
<line x1="751" y1="445.5" x2="757" y2="445.5" stroke="#000" stroke-width="1"/>
<line x1="751" y1="449.2" x2="757" y2="449.2" stroke="#000" stroke-width="1"/>
<rect x="748" y="448.2" width="3" height="3" fill="#000"/>
<rect x="752" y="445.8" width="3" height="3" fill="#000"/>
<rect x="756" y="443.5" width="3" height="3" fill="#000"/>
<line x1="746.3" y1="538.9" x2="746.3" y2="543.9" stroke="#000" stroke-width="1.3"/>
<text x="751.3" y="554.9" font-size="12.5" text-anchor="end" font-weight="bold" fill="#000" transform="rotate(-45 751.3 554.9)">H9C2</text>
<line x1="740" y1="419.6" x2="755.6" y2="419.6" stroke="#000" stroke-width="1.6"/>
<text x="747.8" y="417" font-size="12.5" text-anchor="middle" font-weight="normal" fill="#000">*</text>
<rect x="767.6" y="441.9" width="13" height="97" fill="#F23D3D" stroke="#222" stroke-width="0.8"/>
<circle cx="770.1" cy="441.9" r="1.5" fill="#000"/>
<circle cx="774.1" cy="441.9" r="1.5" fill="#000"/>
<circle cx="778.1" cy="441.9" r="1.5" fill="#000"/>
<rect x="782.4" y="440.7" width="13.7" height="98.2" fill="#D6D6D6" stroke="#222" stroke-width="1"/>
<line x1="789.3" y1="431" x2="789.3" y2="450.4" stroke="#000" stroke-width="1"/>
<line x1="786.3" y1="431" x2="792.3" y2="431" stroke="#000" stroke-width="1"/>
<line x1="786.3" y1="450.4" x2="792.3" y2="450.4" stroke="#000" stroke-width="1"/>
<rect x="783.3" y="451.8" width="3" height="3" fill="#000"/>
<rect x="787.3" y="439.2" width="3" height="3" fill="#000"/>
<rect x="791.3" y="426.6" width="3" height="3" fill="#000"/>
<line x1="781.5" y1="538.9" x2="781.5" y2="543.9" stroke="#000" stroke-width="1.3"/>
<text x="786.5" y="554.9" font-size="12.5" text-anchor="end" font-weight="bold" fill="#000" transform="rotate(-45 786.5 554.9)">HK-2</text>
<rect x="802.9" y="441.9" width="13" height="97" fill="#F23D3D" stroke="#222" stroke-width="0.8"/>
<circle cx="805.4" cy="441.9" r="1.5" fill="#000"/>
<circle cx="809.4" cy="441.9" r="1.5" fill="#000"/>
<circle cx="813.4" cy="441.9" r="1.5" fill="#000"/>
<rect x="817.7" y="451" width="13.7" height="87.9" fill="#D6D6D6" stroke="#222" stroke-width="1"/>
<line x1="824.5" y1="448.6" x2="824.5" y2="453.4" stroke="#000" stroke-width="1"/>
<line x1="821.5" y1="448.6" x2="827.5" y2="448.6" stroke="#000" stroke-width="1"/>
<line x1="821.5" y1="453.4" x2="827.5" y2="453.4" stroke="#000" stroke-width="1"/>
<rect x="818.5" y="452.6" width="3" height="3" fill="#000"/>
<rect x="822.5" y="449.5" width="3" height="3" fill="#000"/>
<rect x="826.5" y="446.3" width="3" height="3" fill="#000"/>
<line x1="816.8" y1="538.9" x2="816.8" y2="543.9" stroke="#000" stroke-width="1.3"/>
<text x="821.8" y="554.9" font-size="12.5" text-anchor="end" font-weight="bold" fill="#000" transform="rotate(-45 821.8 554.9)">HL1</text>
<line x1="810.5" y1="419.6" x2="826.1" y2="419.6" stroke="#000" stroke-width="1.6"/>
<text x="818.3" y="417" font-size="12.5" text-anchor="middle" font-weight="normal" fill="#000">*</text>
<rect x="838.1" y="441.9" width="13" height="97" fill="#F23D3D" stroke="#222" stroke-width="0.8"/>
<circle cx="840.6" cy="441.9" r="1.5" fill="#000"/>
<circle cx="844.6" cy="441.9" r="1.5" fill="#000"/>
<circle cx="848.6" cy="441.9" r="1.5" fill="#000"/>
<rect x="852.9" y="453.4" width="13.7" height="85.5" fill="#D6D6D6" stroke="#222" stroke-width="1"/>
<line x1="859.8" y1="451" x2="859.8" y2="455.8" stroke="#000" stroke-width="1"/>
<line x1="856.8" y1="451" x2="862.8" y2="451" stroke="#000" stroke-width="1"/>
<line x1="856.8" y1="455.8" x2="862.8" y2="455.8" stroke="#000" stroke-width="1"/>
<rect x="853.8" y="455" width="3" height="3" fill="#000"/>
<rect x="857.8" y="451.9" width="3" height="3" fill="#000"/>
<rect x="861.8" y="448.7" width="3" height="3" fill="#000"/>
<line x1="852" y1="538.9" x2="852" y2="543.9" stroke="#000" stroke-width="1.3"/>
<text x="857" y="554.9" font-size="12.5" text-anchor="end" font-weight="bold" fill="#000" transform="rotate(-45 857 554.9)">L6</text>
<line x1="845.8" y1="419.6" x2="861.3" y2="419.6" stroke="#000" stroke-width="1.6"/>
<text x="853.5" y="417" font-size="12.5" text-anchor="middle" font-weight="normal" fill="#000">**</text>
<rect x="873.4" y="441.9" width="13" height="97" fill="#F23D3D" stroke="#222" stroke-width="0.8"/>
<circle cx="875.9" cy="441.9" r="1.5" fill="#000"/>
<circle cx="879.9" cy="441.9" r="1.5" fill="#000"/>
<circle cx="883.9" cy="441.9" r="1.5" fill="#000"/>
<rect x="888.2" y="454.6" width="13.7" height="84.3" fill="#D6D6D6" stroke="#222" stroke-width="1"/>
<line x1="895" y1="454" x2="895" y2="455.2" stroke="#000" stroke-width="1"/>
<line x1="892" y1="454" x2="898" y2="454" stroke="#000" stroke-width="1"/>
<line x1="892" y1="455.2" x2="898" y2="455.2" stroke="#000" stroke-width="1"/>
<rect x="889" y="453.9" width="3" height="3" fill="#000"/>
<rect x="893" y="453.1" width="3" height="3" fill="#000"/>
<rect x="897" y="452.3" width="3" height="3" fill="#000"/>
<line x1="887.3" y1="538.9" x2="887.3" y2="543.9" stroke="#000" stroke-width="1.3"/>
<text x="892.3" y="554.9" font-size="12.5" text-anchor="end" font-weight="bold" fill="#000" transform="rotate(-45 892.3 554.9)">MOVAS</text>
<line x1="881" y1="419.6" x2="896.6" y2="419.6" stroke="#000" stroke-width="1.6"/>
<text x="888.8" y="417" font-size="12.5" text-anchor="middle" font-weight="normal" fill="#000">***</text>
<rect x="908.6" y="441.9" width="13" height="97" fill="#F23D3D" stroke="#222" stroke-width="0.8"/>
<circle cx="911.1" cy="441.9" r="1.5" fill="#000"/>
<circle cx="915.1" cy="441.9" r="1.5" fill="#000"/>
<circle cx="919.1" cy="441.9" r="1.5" fill="#000"/>
<rect x="923.4" y="470.3" width="13.7" height="68.6" fill="#D6D6D6" stroke="#222" stroke-width="1"/>
<line x1="930.3" y1="467.3" x2="930.3" y2="473.4" stroke="#000" stroke-width="1"/>
<line x1="927.3" y1="467.3" x2="933.3" y2="467.3" stroke="#000" stroke-width="1"/>
<line x1="927.3" y1="473.4" x2="933.3" y2="473.4" stroke="#000" stroke-width="1"/>
<rect x="924.3" y="472.8" width="3" height="3" fill="#000"/>
<rect x="928.3" y="468.8" width="3" height="3" fill="#000"/>
<rect x="932.3" y="464.9" width="3" height="3" fill="#000"/>
<line x1="922.5" y1="538.9" x2="922.5" y2="543.9" stroke="#000" stroke-width="1.3"/>
<text x="927.5" y="554.9" font-size="12.5" text-anchor="end" font-weight="bold" fill="#000" transform="rotate(-45 927.5 554.9)">HUVECs</text>
<line x1="916.2" y1="419.6" x2="931.8" y2="419.6" stroke="#000" stroke-width="1.6"/>
<text x="924" y="417" font-size="12.5" text-anchor="middle" font-weight="normal" fill="#000">***</text>
<line x1="654.4" y1="381.9" x2="654.4" y2="539.6" stroke="#000" stroke-width="1.6"/>
<line x1="653.6" y1="538.9" x2="946" y2="538.9" stroke="#000" stroke-width="1.6"/>
<line x1="649.9" y1="381.4" x2="654.4" y2="381.4" stroke="#000" stroke-width="1.4"/>
<text x="648.4" y="385.4" font-size="12" text-anchor="end" font-weight="bold" fill="#000">1.5</text>
<line x1="649.9" y1="441.9" x2="654.4" y2="441.9" stroke="#000" stroke-width="1.4"/>
<text x="648.4" y="445.9" font-size="12" text-anchor="end" font-weight="bold" fill="#000">1.0</text>
<line x1="649.9" y1="502.4" x2="654.4" y2="502.4" stroke="#000" stroke-width="1.4"/>
<text x="648.4" y="506.4" font-size="12" text-anchor="end" font-weight="bold" fill="#000">0.5</text>
<text x="625" y="460.4" font-size="14.5" text-anchor="middle" font-weight="bold" fill="#000" transform="rotate(-90 625 460.4)">Nuclear area</text>
<circle cx="780.4" cy="383.7" r="1.9" fill="#000"/>
<text x="799.6" y="388" font-size="11.5" text-anchor="start" font-weight="bold" fill="#000">SEN</text>
<rect x="852.9" y="382.2" width="3.2" height="3.2" fill="#000"/>
<text x="873" y="388" font-size="11.5" text-anchor="start" font-weight="bold" fill="#000">SEN+GAA</text>
<text x="15" y="677" font-size="28" text-anchor="start" font-weight="bold" fill="#000">e</text>
<line x1="93" y1="674.8" x2="93" y2="823.8" stroke="#000" stroke-width="1.8"/>
<line x1="92.2" y1="823" x2="352" y2="823" stroke="#000" stroke-width="1.8"/>
<line x1="88" y1="823" x2="93" y2="823" stroke="#000" stroke-width="1.6"/>
<text x="86.5" y="827" font-size="11.5" text-anchor="end" font-weight="bold" fill="#000">0</text>
<line x1="88" y1="748.9" x2="93" y2="748.9" stroke="#000" stroke-width="1.6"/>
<text x="86.5" y="752.9" font-size="11.5" text-anchor="end" font-weight="bold" fill="#000">50</text>
<line x1="88" y1="674.8" x2="93" y2="674.8" stroke="#000" stroke-width="1.6"/>
<text x="86.5" y="678.8" font-size="11.5" text-anchor="end" font-weight="bold" fill="#000">100</text>
<line x1="93" y1="823" x2="93" y2="828" stroke="#000" stroke-width="1.6"/>
<text x="93" y="839.5" font-size="11.5" text-anchor="middle" font-weight="bold" fill="#000">0</text>
<line x1="157.6" y1="823" x2="157.6" y2="828" stroke="#000" stroke-width="1.6"/>
<text x="157.6" y="839.5" font-size="11.5" text-anchor="middle" font-weight="bold" fill="#000">5</text>
<line x1="222.1" y1="823" x2="222.1" y2="828" stroke="#000" stroke-width="1.6"/>
<text x="222.1" y="839.5" font-size="11.5" text-anchor="middle" font-weight="bold" fill="#000">10</text>
<line x1="286.6" y1="823" x2="286.6" y2="828" stroke="#000" stroke-width="1.6"/>
<text x="286.6" y="839.5" font-size="11.5" text-anchor="middle" font-weight="bold" fill="#000">15</text>
<line x1="351.2" y1="823" x2="351.2" y2="828" stroke="#000" stroke-width="1.6"/>
<text x="351.2" y="839.5" font-size="11.5" text-anchor="middle" font-weight="bold" fill="#000">20</text>
<line x1="125.3" y1="823" x2="125.3" y2="826" stroke="#000" stroke-width="1.4"/>
<line x1="189.8" y1="823" x2="189.8" y2="826" stroke="#000" stroke-width="1.4"/>
<line x1="254.4" y1="823" x2="254.4" y2="826" stroke="#000" stroke-width="1.4"/>
<line x1="318.9" y1="823" x2="318.9" y2="826" stroke="#000" stroke-width="1.4"/>
<text x="362" y="831" font-size="10" text-anchor="start" font-weight="bold" fill="#000">days</text>
<text x="60.5" y="749" font-size="13" text-anchor="middle" font-weight="bold" fill="#000" transform="rotate(-90 60.5 749)">Survival rate (%)</text>
<polyline points="93,674.8 170.5,684.7 183.4,694.8 196.3,714.5 209.2,729.6 222.1,763.4 235,788.3 247.9,793.4 260.8,798.3 273.7,803.1 286.6,808.2 299.6,815.6 312.5,820.5 325.4,823" fill="none" stroke="#F29A9A" stroke-width="2.2" stroke-linejoin="round"/>
<circle cx="170.5" cy="684.7" r="2.7" fill="none" stroke="#C4C4C4" stroke-width="1.1"/>
<circle cx="183.4" cy="694.8" r="2.7" fill="none" stroke="#C4C4C4" stroke-width="1.1"/>
<circle cx="196.3" cy="714.5" r="2.7" fill="none" stroke="#C4C4C4" stroke-width="1.1"/>
<circle cx="209.2" cy="729.6" r="2.7" fill="none" stroke="#C4C4C4" stroke-width="1.1"/>
<circle cx="222.1" cy="763.4" r="2.7" fill="none" stroke="#C4C4C4" stroke-width="1.1"/>
<circle cx="235" cy="788.3" r="2.7" fill="none" stroke="#C4C4C4" stroke-width="1.1"/>
<circle cx="247.9" cy="793.4" r="2.7" fill="none" stroke="#C4C4C4" stroke-width="1.1"/>
<circle cx="260.8" cy="798.3" r="2.7" fill="none" stroke="#C4C4C4" stroke-width="1.1"/>
<circle cx="273.7" cy="803.1" r="2.7" fill="none" stroke="#C4C4C4" stroke-width="1.1"/>
<circle cx="286.6" cy="808.2" r="2.7" fill="none" stroke="#C4C4C4" stroke-width="1.1"/>
<circle cx="299.6" cy="815.6" r="2.7" fill="none" stroke="#C4C4C4" stroke-width="1.1"/>
<circle cx="312.5" cy="820.5" r="2.7" fill="none" stroke="#C4C4C4" stroke-width="1.1"/>
<circle cx="325.4" cy="823" r="2.7" fill="none" stroke="#C4C4C4" stroke-width="1.1"/>
<polyline points="93,674.8 170.5,679.4 183.4,694.1 196.3,708.9 209.2,719.3 222.1,739.3 235,763.7 247.9,773.4 260.8,788.3 273.7,797.8 286.6,807.7 299.6,813.1 312.5,818 338.3,823" fill="none" stroke="#A8A8A8" stroke-width="2.2" stroke-linejoin="round"/>
<polygon points="170.5,676.4 173.5,681.7 167.5,681.7" fill="#000"/>
<polygon points="183.4,691.1 186.4,696.4 180.4,696.4" fill="#000"/>
<polygon points="196.3,705.9 199.3,711.2 193.3,711.2" fill="#000"/>
<polygon points="209.2,716.3 212.2,721.6 206.2,721.6" fill="#000"/>
<polygon points="222.1,736.3 225.1,741.6 219.1,741.6" fill="#000"/>
<polygon points="235,760.7 238,766 232,766" fill="#000"/>
<polygon points="247.9,770.4 250.9,775.7 244.9,775.7" fill="#000"/>
<polygon points="260.8,785.3 263.8,790.6 257.8,790.6" fill="#000"/>
<polygon points="273.7,794.8 276.7,800.1 270.7,800.1" fill="#000"/>
<polygon points="286.6,804.7 289.6,810 283.6,810" fill="#000"/>
<polygon points="299.6,810.1 302.6,815.4 296.6,815.4" fill="#000"/>
<polygon points="312.5,815 315.5,820.3 309.5,820.3" fill="#000"/>
<polygon points="338.3,820 341.3,825.3 335.3,825.3" fill="#000"/>
<polyline points="93,674.8 170.5,679.4 183.4,699 196.3,729.6 209.2,753.3 222.1,773.4 235,788.3 247.9,792.9 260.8,798.3 273.7,803.1 286.6,813.1 299.6,818 312.5,823" fill="none" stroke="#1010E0" stroke-width="2" stroke-linejoin="round"/>
<polygon points="170.5,676.2 173.7,679.4 170.5,682.6 167.3,679.4" fill="#1010E0" stroke="#000" stroke-width="1.3"/>
<polygon points="183.4,695.8 186.6,699 183.4,702.2 180.2,699" fill="#1010E0" stroke="#000" stroke-width="1.3"/>
<polygon points="196.3,726.4 199.5,729.6 196.3,732.8 193.1,729.6" fill="#1010E0" stroke="#000" stroke-width="1.3"/>
<polygon points="209.2,750.1 212.4,753.3 209.2,756.5 206,753.3" fill="#1010E0" stroke="#000" stroke-width="1.3"/>
<polygon points="222.1,770.2 225.3,773.4 222.1,776.6 218.9,773.4" fill="#1010E0" stroke="#000" stroke-width="1.3"/>
<polygon points="235,785.1 238.2,788.3 235,791.5 231.8,788.3" fill="#1010E0" stroke="#000" stroke-width="1.3"/>
<polygon points="247.9,789.7 251.1,792.9 247.9,796.1 244.7,792.9" fill="#1010E0" stroke="#000" stroke-width="1.3"/>
<polygon points="260.8,795.1 264,798.3 260.8,801.5 257.6,798.3" fill="#1010E0" stroke="#000" stroke-width="1.3"/>
<polygon points="273.7,799.9 276.9,803.1 273.7,806.3 270.5,803.1" fill="#1010E0" stroke="#000" stroke-width="1.3"/>
<polygon points="286.6,809.9 289.8,813.1 286.6,816.3 283.4,813.1" fill="#1010E0" stroke="#000" stroke-width="1.3"/>
<polygon points="299.6,814.8 302.8,818 299.6,821.2 296.4,818" fill="#1010E0" stroke="#000" stroke-width="1.3"/>
<polygon points="312.5,819.8 315.7,823 312.5,826.2 309.3,823" fill="#1010E0" stroke="#000" stroke-width="1.3"/>
<polyline points="93,674.8 183.4,689.6 196.3,704.4 209.2,719.3 222.1,748.9 235,768.2 247.9,778.5 260.8,783 273.7,797.8 286.6,802.8 299.6,813.1 312.5,818 338.3,823" fill="none" stroke="#EE2222" stroke-width="2.2" stroke-linejoin="round"/>
<rect x="181.1" y="687.3" width="4.6" height="4.6" fill="#111"/>
<rect x="194" y="702.1" width="4.6" height="4.6" fill="#111"/>
<rect x="206.9" y="717" width="4.6" height="4.6" fill="#111"/>
<rect x="219.8" y="746.6" width="4.6" height="4.6" fill="#111"/>
<rect x="232.7" y="765.9" width="4.6" height="4.6" fill="#111"/>
<rect x="245.6" y="776.2" width="4.6" height="4.6" fill="#111"/>
<rect x="258.5" y="780.7" width="4.6" height="4.6" fill="#111"/>
<rect x="271.4" y="795.5" width="4.6" height="4.6" fill="#111"/>
<rect x="284.3" y="800.5" width="4.6" height="4.6" fill="#111"/>
<rect x="297.3" y="810.8" width="4.6" height="4.6" fill="#111"/>
<rect x="310.2" y="815.7" width="4.6" height="4.6" fill="#111"/>
<rect x="336" y="820.7" width="4.6" height="4.6" fill="#111"/>
<polyline points="93,674.8 170.5,679.4 183.4,699 196.3,738.7 209.2,768.8 222.1,783.6 235,798.3 247.9,813.1 299.6,823" fill="none" stroke="#000" stroke-width="2.2" stroke-linejoin="round"/>
<circle cx="170.5" cy="679.4" r="2.6" fill="#000"/>
<circle cx="183.4" cy="699" r="2.6" fill="#000"/>
<circle cx="196.3" cy="738.7" r="2.6" fill="#000"/>
<circle cx="209.2" cy="768.8" r="2.6" fill="#000"/>
<circle cx="222.1" cy="783.6" r="2.6" fill="#000"/>
<circle cx="235" cy="798.3" r="2.6" fill="#000"/>
<circle cx="247.9" cy="813.1" r="2.6" fill="#000"/>
<circle cx="299.6" cy="823" r="2.6" fill="#000"/>
<text x="245" y="685" font-size="11.5" text-anchor="start" font-weight="bold" fill="#000">Rap vs Con <tspan font-style="italic">P</tspan>=0.0187</text>
<text x="245" y="698" font-size="11.5" text-anchor="start" font-weight="bold" fill="#000">Low vs Con <tspan font-style="italic">P</tspan>=0.4135</text>
<text x="245" y="711" font-size="11.5" text-anchor="start" font-weight="bold" fill="#000">Medium vs Con <tspan font-style="italic">P</tspan>=0.1050</text>
<text x="245" y="724" font-size="11.5" text-anchor="start" font-weight="bold" fill="#000">High vs Con <tspan font-style="italic">P</tspan>=0.0235</text>
<text x="31" y="862" font-size="10.3" text-anchor="start" font-weight="bold" fill="#000">Lifespan</text>
<line x1="85.6" y1="859.2" x2="100.6" y2="859.2" stroke="#000" stroke-width="2"/>
<circle cx="93.1" cy="859.2" r="2.6" fill="#000"/>
<text x="108.9" y="863.2" font-size="10.3" text-anchor="start" font-weight="bold" fill="#000">Control</text>
<line x1="161.4" y1="859.2" x2="176.4" y2="859.2" stroke="#EE2222" stroke-width="2"/>
<rect x="166.6" y="856.9" width="4.6" height="4.6" fill="#111"/>
<text x="184.7" y="863.2" font-size="10.3" text-anchor="start" font-weight="bold" fill="#000">Rap</text>
<line x1="220.6" y1="859.2" x2="235.6" y2="859.2" stroke="#1010E0" stroke-width="2"/>
<polygon points="228.1,856 231.3,859.2 228.1,862.4 224.9,859.2" fill="#1010E0" stroke="#000" stroke-width="1.3"/>
<text x="244.3" y="863.2" font-size="10.3" text-anchor="start" font-weight="bold" fill="#000">Low</text>
<line x1="278" y1="859.2" x2="293" y2="859.2" stroke="#F29A9A" stroke-width="2"/>
<circle cx="285.5" cy="859.2" r="2.7" fill="none" stroke="#C4C4C4" stroke-width="1.1"/>
<text x="301.4" y="863.2" font-size="10.3" text-anchor="start" font-weight="bold" fill="#000">Medium</text>
<line x1="350" y1="859.2" x2="365" y2="859.2" stroke="#A8A8A8" stroke-width="2"/>
<polygon points="357.5,856.2 360.5,861.5 354.5,861.5" fill="#000"/>
<text x="373.4" y="863.2" font-size="10.3" text-anchor="start" font-weight="bold" fill="#000">High</text>
<text x="31" y="879.5" font-size="10" text-anchor="start" font-weight="bold" fill="#000">Mean</text>
<text x="31" y="897" font-size="10" text-anchor="start" font-weight="bold" fill="#000">Max</text>
<text x="80.9" y="879.5" font-size="11.5" text-anchor="start" font-weight="bold" fill="#000" textLength="54.5" lengthAdjust="spacingAndGlyphs">11.28 ± 1.20</text>
<text x="80.9" y="897" font-size="11.5" text-anchor="start" font-weight="bold" fill="#000" textLength="54.5" lengthAdjust="spacingAndGlyphs">15.17 ± 1.07</text>
<text x="147.8" y="879.5" font-size="11.5" text-anchor="start" font-weight="bold" fill="#000" textLength="54.5" lengthAdjust="spacingAndGlyphs">12.67 ± 1.68</text>
<text x="147.8" y="897" font-size="11.5" text-anchor="start" font-weight="bold" fill="#000" textLength="54.5" lengthAdjust="spacingAndGlyphs">19.00 ± 2.00</text>
<text x="213" y="879.5" font-size="11.5" text-anchor="start" font-weight="bold" fill="#000" textLength="54.5" lengthAdjust="spacingAndGlyphs">11.89 ± 0.96</text>
<text x="213" y="897" font-size="11.5" text-anchor="start" font-weight="bold" fill="#000" textLength="54.5" lengthAdjust="spacingAndGlyphs">16.33 ± 0.94</text>
<text x="278" y="879.5" font-size="11.5" text-anchor="start" font-weight="bold" fill="#000" textLength="54.5" lengthAdjust="spacingAndGlyphs">11.94 ± 0.88</text>
<text x="278" y="897" font-size="11.5" text-anchor="start" font-weight="bold" fill="#000" textLength="54.5" lengthAdjust="spacingAndGlyphs">16.50 ± 1.26</text>
<text x="341" y="879.5" font-size="11.5" text-anchor="start" font-weight="bold" fill="#000" textLength="54.5" lengthAdjust="spacingAndGlyphs">12.19 ± 0.81</text>
<text x="341" y="897" font-size="11.5" text-anchor="start" font-weight="bold" fill="#000" textLength="54.5" lengthAdjust="spacingAndGlyphs">19.17 ± 1.57</text>
<text x="410.5" y="672.5" font-size="28" text-anchor="start" font-weight="bold" fill="#000">f</text>
<line x1="482.2" y1="673.5" x2="482.2" y2="820.7" stroke="#000" stroke-width="1.6"/>
<line x1="481.4" y1="819.9" x2="684" y2="819.9" stroke="#000" stroke-width="1.6"/>
<line x1="477.2" y1="819.9" x2="482.2" y2="819.9" stroke="#000" stroke-width="1.5"/>
<text x="475.7" y="823.9" font-size="11" text-anchor="end" font-weight="bold" fill="#000">0</text>
<line x1="477.2" y1="746.7" x2="482.2" y2="746.7" stroke="#000" stroke-width="1.5"/>
<text x="475.7" y="750.7" font-size="11" text-anchor="end" font-weight="bold" fill="#000">50</text>
<line x1="477.2" y1="673.5" x2="482.2" y2="673.5" stroke="#000" stroke-width="1.5"/>
<text x="475.7" y="677.5" font-size="11" text-anchor="end" font-weight="bold" fill="#000">100</text>
<line x1="482.2" y1="819.9" x2="482.2" y2="824.9" stroke="#000" stroke-width="1.5"/>
<text x="482.2" y="836.9" font-size="11" text-anchor="middle" font-weight="bold" fill="#000">0</text>
<line x1="520.9" y1="819.9" x2="520.9" y2="824.9" stroke="#000" stroke-width="1.5"/>
<text x="520.9" y="836.9" font-size="11" text-anchor="middle" font-weight="bold" fill="#000">5</text>
<line x1="559.5" y1="819.9" x2="559.5" y2="824.9" stroke="#000" stroke-width="1.5"/>
<text x="559.5" y="836.9" font-size="11" text-anchor="middle" font-weight="bold" fill="#000">10</text>
<line x1="598.1" y1="819.9" x2="598.1" y2="824.9" stroke="#000" stroke-width="1.5"/>
<text x="598.1" y="836.9" font-size="11" text-anchor="middle" font-weight="bold" fill="#000">15</text>
<line x1="636.8" y1="819.9" x2="636.8" y2="824.9" stroke="#000" stroke-width="1.5"/>
<text x="636.8" y="836.9" font-size="11" text-anchor="middle" font-weight="bold" fill="#000">20</text>
<line x1="675.5" y1="819.9" x2="675.5" y2="824.9" stroke="#000" stroke-width="1.5"/>
<text x="675.5" y="836.9" font-size="11" text-anchor="middle" font-weight="bold" fill="#000">25</text>
<line x1="501.5" y1="819.9" x2="501.5" y2="822.9" stroke="#000" stroke-width="1.3"/>
<line x1="540.2" y1="819.9" x2="540.2" y2="822.9" stroke="#000" stroke-width="1.3"/>
<line x1="578.8" y1="819.9" x2="578.8" y2="822.9" stroke="#000" stroke-width="1.3"/>
<line x1="617.5" y1="819.9" x2="617.5" y2="822.9" stroke="#000" stroke-width="1.3"/>
<line x1="656.1" y1="819.9" x2="656.1" y2="822.9" stroke="#000" stroke-width="1.3"/>
<text x="691" y="828" font-size="10" text-anchor="start" font-weight="bold" fill="#000">Hours</text>
<text x="451.5" y="746.7" font-size="13" text-anchor="middle" font-weight="bold" fill="#000" transform="rotate(-90 451.5 746.7)">Survival rate (%)</text>
<polyline points="482.2,673.5 536.3,677.9 544,677.9 551.8,688.1 559.5,698.4 567.2,707.2 575,721.8 582.7,736.5 590.4,751.1 598.1,765.7 621.3,776 636.8,786.2 652.3,795 667.7,805.3 683.2,819.9" fill="none" stroke="#A8A8A8" stroke-width="2.2" stroke-linejoin="round"/>
<polygon points="536.3,674.9 539.3,680.2 533.3,680.2" fill="#000"/>
<polygon points="544,674.9 547,680.2 541,680.2" fill="#000"/>
<polygon points="551.8,685.1 554.8,690.4 548.8,690.4" fill="#000"/>
<polygon points="559.5,695.4 562.5,700.7 556.5,700.7" fill="#000"/>
<polygon points="567.2,704.2 570.2,709.5 564.2,709.5" fill="#000"/>
<polygon points="575,718.8 578,724.1 572,724.1" fill="#000"/>
<polygon points="582.7,733.5 585.7,738.8 579.7,738.8" fill="#000"/>
<polygon points="590.4,748.1 593.4,753.4 587.4,753.4" fill="#000"/>
<polygon points="598.1,762.7 601.1,768 595.1,768" fill="#000"/>
<polygon points="621.3,773 624.3,778.3 618.3,778.3" fill="#000"/>
<polygon points="636.8,783.2 639.8,788.5 633.8,788.5" fill="#000"/>
<polygon points="652.3,792 655.3,797.3 649.3,797.3" fill="#000"/>
<polygon points="667.7,802.3 670.7,807.6 664.7,807.6" fill="#000"/>
<polygon points="683.2,816.9 686.2,822.2 680.2,822.2" fill="#000"/>
<polyline points="482.2,673.5 536.3,677.9 544,683.7 551.8,698.4 559.5,707.2 567.2,727.7 575,751.1 582.7,771.6 598.1,776 621.3,780.4 636.8,795 652.3,800.9 667.7,805.3 675.5,809.7 683.2,819.9" fill="none" stroke="#EE2222" stroke-width="2.2" stroke-linejoin="round"/>
<rect x="534" y="675.6" width="4.6" height="4.6" fill="#111"/>
<rect x="541.7" y="681.4" width="4.6" height="4.6" fill="#111"/>
<rect x="549.5" y="696.1" width="4.6" height="4.6" fill="#111"/>
<rect x="557.2" y="704.9" width="4.6" height="4.6" fill="#111"/>
<rect x="564.9" y="725.4" width="4.6" height="4.6" fill="#111"/>
<rect x="572.7" y="748.8" width="4.6" height="4.6" fill="#111"/>
<rect x="580.4" y="769.3" width="4.6" height="4.6" fill="#111"/>
<rect x="595.9" y="773.7" width="4.6" height="4.6" fill="#111"/>
<rect x="619" y="778.1" width="4.6" height="4.6" fill="#111"/>
<rect x="634.5" y="792.7" width="4.6" height="4.6" fill="#111"/>
<rect x="650" y="798.6" width="4.6" height="4.6" fill="#111"/>
<rect x="665.4" y="803" width="4.6" height="4.6" fill="#111"/>
<rect x="673.2" y="807.4" width="4.6" height="4.6" fill="#111"/>
<rect x="680.9" y="817.6" width="4.6" height="4.6" fill="#111"/>
<polyline points="482.2,673.5 536.3,688.1 544,713 551.8,732.1 559.5,751.1 567.2,765.7 575,780.4 582.7,786.2 590.4,790.6 598.1,795 613.6,800.9 629.1,805.3 644.5,809.7 660,815.5 675.5,819.9" fill="none" stroke="#000" stroke-width="2.2" stroke-linejoin="round"/>
<circle cx="536.3" cy="688.1" r="2.6" fill="#000"/>
<circle cx="544" cy="713" r="2.6" fill="#000"/>
<circle cx="551.8" cy="732.1" r="2.6" fill="#000"/>
<circle cx="559.5" cy="751.1" r="2.6" fill="#000"/>
<circle cx="567.2" cy="765.7" r="2.6" fill="#000"/>
<circle cx="575" cy="780.4" r="2.6" fill="#000"/>
<circle cx="582.7" cy="786.2" r="2.6" fill="#000"/>
<circle cx="590.4" cy="790.6" r="2.6" fill="#000"/>
<circle cx="598.1" cy="795" r="2.6" fill="#000"/>
<circle cx="613.6" cy="800.9" r="2.6" fill="#000"/>
<circle cx="629.1" cy="805.3" r="2.6" fill="#000"/>
<circle cx="644.5" cy="809.7" r="2.6" fill="#000"/>
<circle cx="660" cy="815.5" r="2.6" fill="#000"/>
<circle cx="675.5" cy="819.9" r="2.6" fill="#000"/>
<text x="589.8" y="681" font-size="11.5" text-anchor="start" font-weight="bold" fill="#000">Rap&#160; vs Con <tspan font-style="italic">P</tspan>=0.0297</text>
<text x="589.8" y="693.5" font-size="11.5" text-anchor="start" font-weight="bold" fill="#000">GAA vs Con <tspan font-style="italic">P</tspan>=0.0025</text>
<text x="458.5" y="858" font-size="10" text-anchor="start" font-weight="bold" fill="#000">Lifespan</text>
<line x1="510.4" y1="855.2" x2="525.4" y2="855.2" stroke="#000" stroke-width="2"/>
<circle cx="517.9" cy="855.2" r="2.6" fill="#000"/>
<text x="533.2" y="859.2" font-size="10.3" text-anchor="start" font-weight="bold" fill="#000">Control</text>
<line x1="583.9" y1="855.2" x2="598.9" y2="855.2" stroke="#EE2222" stroke-width="2"/>
<rect x="589.1" y="852.9" width="4.6" height="4.6" fill="#111"/>
<text x="606" y="859.2" font-size="10.3" text-anchor="start" font-weight="bold" fill="#000">Rap</text>
<line x1="640.7" y1="855.2" x2="655.7" y2="855.2" stroke="#A8A8A8" stroke-width="2"/>
<polygon points="648.2,852.2 651.2,857.5 645.2,857.5" fill="#000"/>
<text x="662.4" y="859.2" font-size="10.3" text-anchor="start" font-weight="bold" fill="#000">GAA</text>
<text x="458.5" y="876.5" font-size="10" text-anchor="start" font-weight="bold" fill="#000">Mean</text>
<text x="458.5" y="893.5" font-size="10" text-anchor="start" font-weight="bold" fill="#000">Max</text>
<text x="508.9" y="876.5" font-size="11.5" text-anchor="start" font-weight="bold" fill="#000" textLength="53" lengthAdjust="spacingAndGlyphs">11.77 ± 4.72</text>
<text x="508.9" y="893.5" font-size="11.5" text-anchor="start" font-weight="bold" fill="#000" textLength="53" lengthAdjust="spacingAndGlyphs">23.00 ± 1.63</text>
<text x="575.6" y="876.5" font-size="11.5" text-anchor="start" font-weight="bold" fill="#000" textLength="53" lengthAdjust="spacingAndGlyphs">14.47 ± 5.61</text>
<text x="575.6" y="893.5" font-size="11.5" text-anchor="start" font-weight="bold" fill="#000" textLength="53" lengthAdjust="spacingAndGlyphs">25.00 ± 0.82</text>
<text x="637.2" y="876.5" font-size="11.5" text-anchor="start" font-weight="bold" fill="#000" textLength="53" lengthAdjust="spacingAndGlyphs">15.87 ± 5.52</text>
<text x="637.2" y="893.5" font-size="11.5" text-anchor="start" font-weight="bold" fill="#000" textLength="53" lengthAdjust="spacingAndGlyphs">25.67 ± 0.47</text>
<text x="723" y="670" font-size="28" text-anchor="start" font-weight="bold" fill="#000">g</text>
<line x1="791.7" y1="670.7" x2="791.7" y2="814.1" stroke="#000" stroke-width="1.6"/>
<line x1="790.9" y1="813.3" x2="989.3" y2="813.3" stroke="#000" stroke-width="1.6"/>
<line x1="786.7" y1="813.3" x2="791.7" y2="813.3" stroke="#000" stroke-width="1.5"/>
<text x="785.2" y="817.3" font-size="11" text-anchor="end" font-weight="bold" fill="#000">0</text>
<line x1="786.7" y1="742" x2="791.7" y2="742" stroke="#000" stroke-width="1.5"/>
<text x="785.2" y="746" font-size="11" text-anchor="end" font-weight="bold" fill="#000">50</text>
<line x1="786.7" y1="670.7" x2="791.7" y2="670.7" stroke="#000" stroke-width="1.5"/>
<text x="785.2" y="674.7" font-size="11" text-anchor="end" font-weight="bold" fill="#000">100</text>
<line x1="791.7" y1="813.3" x2="791.7" y2="818.3" stroke="#000" stroke-width="1.5"/>
<text x="791.7" y="828.8" font-size="11" text-anchor="middle" font-weight="bold" fill="#000">0</text>
<line x1="955.7" y1="813.3" x2="955.7" y2="818.3" stroke="#000" stroke-width="1.5"/>
<text x="955.7" y="828.8" font-size="11" text-anchor="middle" font-weight="bold" fill="#000">5</text>
<line x1="873.7" y1="813.3" x2="873.7" y2="816.3" stroke="#000" stroke-width="1.3"/>
<text x="995" y="822" font-size="10" text-anchor="start" font-weight="bold" fill="#000">Hours</text>
<text x="764" y="740" font-size="12.5" text-anchor="middle" font-weight="bold" fill="#000" transform="rotate(-90 764 740)">Survival rate (%)</text>
<polyline points="791.7,670.7 857.3,680.7 890.1,694.9 922.9,752 955.7,803.3 988.5,813.3" fill="none" stroke="#A8A8A8" stroke-width="2.2" stroke-linejoin="round"/>
<polygon points="857.3,677.7 860.3,683 854.3,683" fill="#000"/>
<polygon points="890.1,691.9 893.1,697.2 887.1,697.2" fill="#000"/>
<polygon points="922.9,749 925.9,754.3 919.9,754.3" fill="#000"/>
<polygon points="955.7,800.3 958.7,805.6 952.7,805.6" fill="#000"/>
<polygon points="988.5,810.3 991.5,815.6 985.5,815.6" fill="#000"/>
<polyline points="791.7,670.7 857.3,680.7 890.1,689.2 922.9,737.7 955.7,789.1 988.5,813.3" fill="none" stroke="#EE2222" stroke-width="2.2" stroke-linejoin="round"/>
<rect x="855" y="678.4" width="4.6" height="4.6" fill="#111"/>
<rect x="887.8" y="686.9" width="4.6" height="4.6" fill="#111"/>
<rect x="920.6" y="735.4" width="4.6" height="4.6" fill="#111"/>
<rect x="953.4" y="786.8" width="4.6" height="4.6" fill="#111"/>
<rect x="986.2" y="811" width="4.6" height="4.6" fill="#111"/>
<polyline points="791.7,670.7 857.3,689.2 890.1,713.5 922.9,780.5 955.7,813.3" fill="none" stroke="#000" stroke-width="2.2" stroke-linejoin="round"/>
<circle cx="857.3" cy="689.2" r="2.6" fill="#000"/>
<circle cx="890.1" cy="713.5" r="2.6" fill="#000"/>
<circle cx="922.9" cy="780.5" r="2.6" fill="#000"/>
<circle cx="955.7" cy="813.3" r="2.6" fill="#000"/>
<text x="916" y="679.5" font-size="11" text-anchor="start" font-weight="bold" fill="#000">Rap&#160; vs Con <tspan font-style="italic">P</tspan>=0.0043</text>
<text x="916" y="692.5" font-size="11" text-anchor="start" font-weight="bold" fill="#000">GAA vs Con <tspan font-style="italic">P</tspan>=0.0492</text>
<text x="770" y="851" font-size="9.5" text-anchor="start" font-weight="bold" fill="#000">Lifespan</text>
<line x1="820" y1="848.2" x2="835" y2="848.2" stroke="#000" stroke-width="2"/>
<circle cx="827.5" cy="848.2" r="2.6" fill="#000"/>
<text x="842.7" y="852.2" font-size="9.5" text-anchor="start" font-weight="bold" fill="#000">Control</text>
<line x1="891.7" y1="848.2" x2="906.7" y2="848.2" stroke="#EE2222" stroke-width="2"/>
<rect x="896.9" y="845.9" width="4.6" height="4.6" fill="#111"/>
<text x="912.7" y="852.2" font-size="9.5" text-anchor="start" font-weight="bold" fill="#000">Rap</text>
<line x1="946.7" y1="848.2" x2="961.7" y2="848.2" stroke="#A8A8A8" stroke-width="2"/>
<polygon points="954.2,845.2 957.2,850.5 951.2,850.5" fill="#000"/>
<text x="968.3" y="852.2" font-size="9.5" text-anchor="start" font-weight="bold" fill="#000">GAA</text>
<text x="770" y="868.5" font-size="10" text-anchor="start" font-weight="bold" fill="#000">Mean</text>
<text x="770" y="883.5" font-size="10" text-anchor="start" font-weight="bold" fill="#000">Max</text>
<text x="820" y="868.5" font-size="11" text-anchor="start" font-weight="bold" fill="#000" textLength="46.7" lengthAdjust="spacingAndGlyphs">3.80 ± 0.95</text>
<text x="820" y="883.5" font-size="11" text-anchor="start" font-weight="bold" fill="#000" textLength="46.7" lengthAdjust="spacingAndGlyphs">4.33 ± 0.47</text>
<text x="883.3" y="868.5" font-size="11" text-anchor="start" font-weight="bold" fill="#000" textLength="46.7" lengthAdjust="spacingAndGlyphs">4.50 ± 1.06</text>
<text x="883.3" y="883.5" font-size="11" text-anchor="start" font-weight="bold" fill="#000" textLength="46.7" lengthAdjust="spacingAndGlyphs">5.67 ± 0.47</text>
<text x="942.7" y="868.5" font-size="11" text-anchor="start" font-weight="bold" fill="#000" textLength="46.7" lengthAdjust="spacingAndGlyphs">4.27 ± 0.96</text>
<text x="942.7" y="883.5" font-size="11" text-anchor="start" font-weight="bold" fill="#000" textLength="46.7" lengthAdjust="spacingAndGlyphs">5.00 ± 0.82</text>
<text x="3" y="946" font-size="28" text-anchor="start" font-weight="bold" fill="#000">h</text>
<rect x="38.9" y="956.5" width="166.8" height="23.5" fill="#fff" stroke="#444" stroke-width="1.2"/>
<text x="122.3" y="973.5" font-size="14.5" text-anchor="middle" font-weight="bold" fill="#000">Lipofuscin</text>
<rect x="208.1" y="956.5" width="166.8" height="23.5" fill="#fff" stroke="#444" stroke-width="1.2"/>
<text x="291.5" y="973.5" font-size="14.5" text-anchor="middle" font-weight="bold" fill="#000">ROS</text>
<rect x="378.3" y="956.5" width="166.8" height="23.5" fill="#fff" stroke="#444" stroke-width="1.2"/>
<text x="461.7" y="973.5" font-size="14.5" text-anchor="middle" font-weight="bold" fill="#000">Nile red</text>
<rect x="549.3" y="956.5" width="166.8" height="23.5" fill="#fff" stroke="#444" stroke-width="1.2"/>
<text x="632.7" y="973.5" font-size="14.5" text-anchor="middle" font-weight="bold" fill="#000">SA-β-Gal</text>
<rect x="37.8" y="984.5" width="168" height="65.5" fill="#000"/>
<rect x="37.8" y="1053.8" width="168" height="65.5" fill="#000"/>
<rect x="37.8" y="1122.7" width="168" height="64.8" fill="#000"/>
<rect x="208.1" y="984.5" width="168" height="65.5" fill="#000"/>
<rect x="208.1" y="1053.8" width="168" height="65.5" fill="#000"/>
<rect x="208.1" y="1122.7" width="168" height="64.8" fill="#000"/>
<rect x="378.3" y="984.5" width="168" height="65.5" fill="#000"/>
<rect x="378.3" y="1053.8" width="168" height="65.5" fill="#000"/>
<rect x="378.3" y="1122.7" width="168" height="64.8" fill="#000"/>
<rect x="549" y="984.5" width="167.5" height="65.5" fill="#000"/>
<rect x="549" y="1053.8" width="167.5" height="65.5" fill="#000"/>
<rect x="549" y="1122.7" width="167.5" height="64.8" fill="#000"/>
<rect x="549" y="984.5" width="167.5" height="65.5" fill="url(#sagrad)"/>
<rect x="549" y="1053.8" width="167.5" height="65.5" fill="#030903"/>
<rect x="549" y="1122.7" width="167.5" height="64.8" fill="#061206"/>
<rect x="12.4" y="984.5" width="23.4" height="63.5" fill="#fff" stroke="#444" stroke-width="1.2"/>
<text x="30.5" y="1016.2" font-size="16" text-anchor="middle" font-weight="bold" fill="#000" transform="rotate(-90 30.5 1016.2)">Con</text>
<rect x="12.4" y="1053.8" width="23.4" height="63.5" fill="#fff" stroke="#444" stroke-width="1.2"/>
<text x="30.5" y="1085.5" font-size="16" text-anchor="middle" font-weight="bold" fill="#000" transform="rotate(-90 30.5 1085.5)">Rap</text>
<rect x="12.4" y="1122.7" width="23.4" height="62.8" fill="#fff" stroke="#444" stroke-width="1.2"/>
<text x="30.5" y="1154.1" font-size="16" text-anchor="middle" font-weight="bold" fill="#000" transform="rotate(-90 30.5 1154.1)">GAA</text>
<g filter="url(#blur1)">
<polygon points="48,1015.5 49.9,1015.6 52.6,1015.7 55.8,1015.9 59.3,1016 62.7,1016.2 65.8,1016.5 68.9,1016.8 71.9,1017.1 74.9,1017.4 77.8,1017.8 80.6,1018.3 83.3,1018.9 85.8,1019.7 88.3,1020.7 90.9,1021.9 93.5,1023.1 96.1,1024.3 98.9,1025.3 101.6,1026.2 104.3,1027.1 107,1028 109.9,1028.8 112.8,1029.4 115.7,1029.7 118.6,1029.8 121.5,1029.7 124.3,1029.5 127.2,1029 130.1,1028.4 133.1,1027.6 136.2,1026.6 139.3,1025.3 142.4,1024 145.4,1022.6 148.5,1021.2 151.6,1019.9 155,1018.7 158.6,1017.5 162.3,1016.2 166,1015 169.8,1013.9 173.5,1012.8 177.5,1011.6 181.9,1010.5 186.3,1009.3 190.4,1008.3 193.9,1007.4 196.5,1006.8 193.5,996.2 191.1,997 187.6,998 183.5,999.2 179,1000.5 174.6,1001.9 170.5,1003.2 166.7,1004.6 162.9,1006.1 159.1,1007.6 155.4,1009.1 151.8,1010.6 148.4,1012.1 145,1013.6 141.8,1015.2 138.9,1016.8 136.1,1018.2 133.4,1019.4 130.9,1020.4 128.3,1021.1 125.8,1021.6 123.4,1022 121,1022.3 118.6,1022.3 116.3,1022.3 113.9,1022 111.5,1021.6 109,1021 106.4,1020.3 103.7,1019.5 101.1,1018.7 98.6,1017.9 96,1016.9 93.4,1015.9 90.6,1014.8 87.7,1013.9 84.7,1013.1 81.6,1012.5 78.5,1012.2 75.4,1011.9 72.3,1011.7 69.2,1011.6 66.2,1011.5 62.9,1011.4 59.4,1011.4 55.9,1011.4 52.7,1011.4 50,1011.5 48,1011.5" fill="#0A0A70" stroke="#0A0A70" stroke-width="1.5" opacity="0.6" stroke-linejoin="round"/>
<polygon points="48,1015.5 49.9,1015.6 52.6,1015.7 55.8,1015.9 59.3,1016 62.7,1016.2 65.8,1016.5 68.9,1016.8 71.9,1017.1 74.9,1017.4 77.8,1017.8 80.6,1018.3 83.3,1018.9 85.8,1019.7 88.3,1020.7 90.9,1021.9 93.5,1023.1 96.1,1024.3 98.9,1025.3 101.6,1026.2 104.3,1027.1 107,1028 109.9,1028.8 112.8,1029.4 115.7,1029.7 118.6,1029.8 121.5,1029.7 124.3,1029.5 127.2,1029 130.1,1028.4 133.1,1027.6 136.2,1026.6 139.3,1025.3 142.4,1024 145.4,1022.6 148.5,1021.2 151.6,1019.9 155,1018.7 158.6,1017.5 162.3,1016.2 166,1015 169.8,1013.9 173.5,1012.8 177.5,1011.6 181.9,1010.5 186.3,1009.3 190.4,1008.3 193.9,1007.4 196.5,1006.8 193.5,996.2 191.1,997 187.6,998 183.5,999.2 179,1000.5 174.6,1001.9 170.5,1003.2 166.7,1004.6 162.9,1006.1 159.1,1007.6 155.4,1009.1 151.8,1010.6 148.4,1012.1 145,1013.6 141.8,1015.2 138.9,1016.8 136.1,1018.2 133.4,1019.4 130.9,1020.4 128.3,1021.1 125.8,1021.6 123.4,1022 121,1022.3 118.6,1022.3 116.3,1022.3 113.9,1022 111.5,1021.6 109,1021 106.4,1020.3 103.7,1019.5 101.1,1018.7 98.6,1017.9 96,1016.9 93.4,1015.9 90.6,1014.8 87.7,1013.9 84.7,1013.1 81.6,1012.5 78.5,1012.2 75.4,1011.9 72.3,1011.7 69.2,1011.6 66.2,1011.5 62.9,1011.4 59.4,1011.4 55.9,1011.4 52.7,1011.4 50,1011.5 48,1011.5" fill="#2222FA" stroke="#2222FA" stroke-width="0.6" opacity="1" stroke-linejoin="round"/>
<clipPath id="w1"><polygon points="48,1015.5 49.9,1015.6 52.6,1015.7 55.8,1015.9 59.3,1016 62.7,1016.2 65.8,1016.5 68.9,1016.8 71.9,1017.1 74.9,1017.4 77.8,1017.8 80.6,1018.3 83.3,1018.9 85.8,1019.7 88.3,1020.7 90.9,1021.9 93.5,1023.1 96.1,1024.3 98.9,1025.3 101.6,1026.2 104.3,1027.1 107,1028 109.9,1028.8 112.8,1029.4 115.7,1029.7 118.6,1029.8 121.5,1029.7 124.3,1029.5 127.2,1029 130.1,1028.4 133.1,1027.6 136.2,1026.6 139.3,1025.3 142.4,1024 145.4,1022.6 148.5,1021.2 151.6,1019.9 155,1018.7 158.6,1017.5 162.3,1016.2 166,1015 169.8,1013.9 173.5,1012.8 177.5,1011.6 181.9,1010.5 186.3,1009.3 190.4,1008.3 193.9,1007.4 196.5,1006.8 193.5,996.2 191.1,997 187.6,998 183.5,999.2 179,1000.5 174.6,1001.9 170.5,1003.2 166.7,1004.6 162.9,1006.1 159.1,1007.6 155.4,1009.1 151.8,1010.6 148.4,1012.1 145,1013.6 141.8,1015.2 138.9,1016.8 136.1,1018.2 133.4,1019.4 130.9,1020.4 128.3,1021.1 125.8,1021.6 123.4,1022 121,1022.3 118.6,1022.3 116.3,1022.3 113.9,1022 111.5,1021.6 109,1021 106.4,1020.3 103.7,1019.5 101.1,1018.7 98.6,1017.9 96,1016.9 93.4,1015.9 90.6,1014.8 87.7,1013.9 84.7,1013.1 81.6,1012.5 78.5,1012.2 75.4,1011.9 72.3,1011.7 69.2,1011.6 66.2,1011.5 62.9,1011.4 59.4,1011.4 55.9,1011.4 52.7,1011.4 50,1011.5 48,1011.5"/></clipPath><g clip-path="url(#w1)">
<path d="M158.2 1009.8a1.8 1.8 0 1 0 3.5 0a1.8 1.8 0 1 0 -3.5 0M76.6 1012.8a1.8 1.8 0 1 0 3.7 0a1.8 1.8 0 1 0 -3.7 0M187.2 1000.2a1 1 0 1 0 2 0a1 1 0 1 0 -2 0M76.7 1017.1a1.2 1.2 0 1 0 2.4 0a1.2 1.2 0 1 0 -2.4 0M114.8 1024.5a1.3 1.3 0 1 0 2.6 0a1.3 1.3 0 1 0 -2.6 0M74.1 1013.4a1.2 1.2 0 1 0 2.3 0a1.2 1.2 0 1 0 -2.3 0M107.1 1021.5a1.8 1.8 0 1 0 3.6 0a1.8 1.8 0 1 0 -3.6 0M182 1001a2 2 0 1 0 3.9 0a2 2 0 1 0 -3.9 0M48.1 1015.4a1.8 1.8 0 1 0 3.6 0a1.8 1.8 0 1 0 -3.6 0M48.7 1013.7a1.2 1.2 0 1 0 2.5 0a1.2 1.2 0 1 0 -2.5 0M153.6 1017.4a0.9 0.9 0 1 0 1.7 0a0.9 0.9 0 1 0 -1.7 0M89.8 1021.4a1.2 1.2 0 1 0 2.4 0a1.2 1.2 0 1 0 -2.4 0M108.3 1028a1.7 1.7 0 1 0 3.5 0a1.7 1.7 0 1 0 -3.5 0M64.1 1014.4a1.8 1.8 0 1 0 3.7 0a1.8 1.8 0 1 0 -3.7 0M178.9 1005.9a1.6 1.6 0 1 0 3.2 0a1.6 1.6 0 1 0 -3.2 0M188.5 1005.1a1 1 0 1 0 2 0a1 1 0 1 0 -2 0M93.9 1019.7a1 1 0 1 0 1.9 0a1 1 0 1 0 -1.9 0M161.8 1006.4a1.2 1.2 0 1 0 2.4 0a1.2 1.2 0 1 0 -2.4 0M71.1 1015.1a0.9 0.9 0 1 0 1.9 0a0.9 0.9 0 1 0 -1.9 0M138.8 1020a1.6 1.6 0 1 0 3.3 0a1.6 1.6 0 1 0 -3.3 0M104 1023.6a1.4 1.4 0 1 0 2.7 0a1.4 1.4 0 1 0 -2.7 0M164.8 1014.5a1 1 0 1 0 2 0a1 1 0 1 0 -2 0M112.2 1022.5a1.6 1.6 0 1 0 3.3 0a1.6 1.6 0 1 0 -3.3 0M169.3 1003.6a1.2 1.2 0 1 0 2.5 0a1.2 1.2 0 1 0 -2.5 0M184.2 1006a1.1 1.1 0 1 0 2.2 0a1.1 1.1 0 1 0 -2.2 0M179.5 1007.6a1.6 1.6 0 1 0 3.2 0a1.6 1.6 0 1 0 -3.2 0M153.1 1017.5a1.5 1.5 0 1 0 2.9 0a1.5 1.5 0 1 0 -2.9 0M93.8 1018.9a1.4 1.4 0 1 0 2.7 0a1.4 1.4 0 1 0 -2.7 0M137 1022.8a1.2 1.2 0 1 0 2.4 0a1.2 1.2 0 1 0 -2.4 0M166.5 1007.8a1.2 1.2 0 1 0 2.4 0a1.2 1.2 0 1 0 -2.4 0M76.4 1013.3a1.9 1.9 0 1 0 3.8 0a1.9 1.9 0 1 0 -3.8 0M152.3 1014.8a1.2 1.2 0 1 0 2.3 0a1.2 1.2 0 1 0 -2.3 0M181.6 999.6a2 2 0 1 0 4 0a2 2 0 1 0 -4 0M46.2 1012.9a1.8 1.8 0 1 0 3.7 0a1.8 1.8 0 1 0 -3.7 0M51.7 1013.8a0.9 0.9 0 1 0 1.8 0a0.9 0.9 0 1 0 -1.8 0M108.9 1027.5a1.3 1.3 0 1 0 2.6 0a1.3 1.3 0 1 0 -2.6 0" fill="#3434FF" opacity="0.8"/>
<path d="M192.1 1003.8a0.8 0.8 0 1 0 1.7 0a0.8 0.8 0 1 0 -1.7 0M114.9 1026.3a1.1 1.1 0 1 0 2.2 0a1.1 1.1 0 1 0 -2.2 0M82.4 1016.2a1.6 1.6 0 1 0 3.1 0a1.6 1.6 0 1 0 -3.1 0M79.6 1018a1 1 0 1 0 2.1 0a1 1 0 1 0 -2.1 0M155.7 1014a1.6 1.6 0 1 0 3.2 0a1.6 1.6 0 1 0 -3.2 0M54.5 1011.7a1.4 1.4 0 1 0 2.9 0a1.4 1.4 0 1 0 -2.9 0M117.1 1022.6a1.5 1.5 0 1 0 3 0a1.5 1.5 0 1 0 -3 0M86 1014.6a1.5 1.5 0 1 0 3 0a1.5 1.5 0 1 0 -3 0M99 1019.6a1.8 1.8 0 1 0 3.6 0a1.8 1.8 0 1 0 -3.6 0M73.4 1012.5a2 2 0 1 0 3.9 0a2 2 0 1 0 -3.9 0M132.4 1021.4a1.8 1.8 0 1 0 3.7 0a1.8 1.8 0 1 0 -3.7 0M79.4 1017.5a1.3 1.3 0 1 0 2.7 0a1.3 1.3 0 1 0 -2.7 0M111.9 1029.1a1 1 0 1 0 1.9 0a1 1 0 1 0 -1.9 0M187 1002.3a1.7 1.7 0 1 0 3.5 0a1.7 1.7 0 1 0 -3.5 0M146.6 1019.5a1.1 1.1 0 1 0 2.2 0a1.1 1.1 0 1 0 -2.2 0M48.6 1012.3a1.3 1.3 0 1 0 2.7 0a1.3 1.3 0 1 0 -2.7 0M166.2 1006.3a1 1 0 1 0 2 0a1 1 0 1 0 -2 0M80.3 1015.3a0.8 0.8 0 1 0 1.7 0a0.8 0.8 0 1 0 -1.7 0M127.4 1023.7a1.5 1.5 0 1 0 3.1 0a1.5 1.5 0 1 0 -3.1 0M150.6 1012.2a1.9 1.9 0 1 0 3.8 0a1.9 1.9 0 1 0 -3.8 0M67.7 1015.2a1.2 1.2 0 1 0 2.5 0a1.2 1.2 0 1 0 -2.5 0M142.5 1019a1.2 1.2 0 1 0 2.3 0a1.2 1.2 0 1 0 -2.3 0" fill="#1818D0" opacity="0.8"/>
<path d="M128.1 1026.8a1.6 1.6 0 1 0 3.2 0a1.6 1.6 0 1 0 -3.2 0M115.2 1023.5a1 1 0 1 0 1.9 0a1 1 0 1 0 -1.9 0M159.7 1011.4a0.8 0.8 0 1 0 1.6 0a0.8 0.8 0 1 0 -1.6 0M46.1 1012.3a2 2 0 1 0 3.9 0a2 2 0 1 0 -3.9 0M131.1 1025.4a1.4 1.4 0 1 0 2.8 0a1.4 1.4 0 1 0 -2.8 0M80 1016.1a0.9 0.9 0 1 0 1.9 0a0.9 0.9 0 1 0 -1.9 0M51.6 1013.3a1.1 1.1 0 1 0 2.1 0a1.1 1.1 0 1 0 -2.1 0M136.9 1022.6a1.2 1.2 0 1 0 2.4 0a1.2 1.2 0 1 0 -2.4 0M101.8 1020.7a1.6 1.6 0 1 0 3.1 0a1.6 1.6 0 1 0 -3.1 0M121.9 1024.8a1.8 1.8 0 1 0 3.6 0a1.8 1.8 0 1 0 -3.6 0M129.9 1022.4a1.7 1.7 0 1 0 3.3 0a1.7 1.7 0 1 0 -3.3 0M77.5 1012.5a0.9 0.9 0 1 0 1.9 0a0.9 0.9 0 1 0 -1.9 0" fill="#1010B8" opacity="0.8"/>
</g>
</g>
<g filter="url(#blur1)">
<polygon points="46.3,1102.5 48.4,1102.2 51.3,1101.7 54.7,1101.2 58.4,1100.6 62.1,1100 65.5,1099.5 68.6,1098.9 71.7,1098.3 74.8,1097.8 77.9,1097.3 81.1,1096.8 84.6,1096.5 88.4,1096.1 92.4,1095.8 96.6,1095.5 101,1095.2 105.4,1095.1 110,1095 114.7,1095.1 119.9,1095.5 125.2,1096 130.6,1096.3 136,1096.4 141.1,1096 145.8,1095 150.1,1093.7 154.1,1092.1 158,1090.4 162,1088.5 166.3,1086.7 171.4,1084.7 177.3,1082.2 183.3,1079.7 189,1077.3 193.8,1075.3 197.2,1073.9 193.8,1066.1 190.4,1067.7 185.7,1070 180.1,1072.6 174.2,1075.4 168.5,1078 163.5,1080.3 159.1,1082.3 155.2,1084.3 151.5,1086.2 147.9,1087.8 144.2,1089.1 140.3,1090 135.8,1090.4 130.9,1090.4 125.7,1090 120.3,1089.5 115.1,1089.1 110,1089 105.3,1089.1 100.7,1089.2 96.3,1089.5 92,1089.8 87.9,1090.1 84,1090.5 80.3,1091.1 76.9,1091.7 73.7,1092.4 70.6,1093.1 67.6,1093.8 64.5,1094.5 61.1,1095.4 57.5,1096.3 53.9,1097.3 50.5,1098.2 47.7,1098.9 45.7,1099.5" fill="#0A0A50" stroke="#0A0A50" stroke-width="1.5" opacity="0.5" stroke-linejoin="round"/>
<polygon points="46.3,1102.5 48.4,1102.2 51.3,1101.7 54.7,1101.2 58.4,1100.6 62.1,1100 65.5,1099.5 68.6,1098.9 71.7,1098.3 74.8,1097.8 77.9,1097.3 81.1,1096.8 84.6,1096.5 88.4,1096.1 92.4,1095.8 96.6,1095.5 101,1095.2 105.4,1095.1 110,1095 114.7,1095.1 119.9,1095.5 125.2,1096 130.6,1096.3 136,1096.4 141.1,1096 145.8,1095 150.1,1093.7 154.1,1092.1 158,1090.4 162,1088.5 166.3,1086.7 171.4,1084.7 177.3,1082.2 183.3,1079.7 189,1077.3 193.8,1075.3 197.2,1073.9 193.8,1066.1 190.4,1067.7 185.7,1070 180.1,1072.6 174.2,1075.4 168.5,1078 163.5,1080.3 159.1,1082.3 155.2,1084.3 151.5,1086.2 147.9,1087.8 144.2,1089.1 140.3,1090 135.8,1090.4 130.9,1090.4 125.7,1090 120.3,1089.5 115.1,1089.1 110,1089 105.3,1089.1 100.7,1089.2 96.3,1089.5 92,1089.8 87.9,1090.1 84,1090.5 80.3,1091.1 76.9,1091.7 73.7,1092.4 70.6,1093.1 67.6,1093.8 64.5,1094.5 61.1,1095.4 57.5,1096.3 53.9,1097.3 50.5,1098.2 47.7,1098.9 45.7,1099.5" fill="#2424B8" stroke="#2424B8" stroke-width="0.6" opacity="1" stroke-linejoin="round"/>
<clipPath id="w2"><polygon points="46.3,1102.5 48.4,1102.2 51.3,1101.7 54.7,1101.2 58.4,1100.6 62.1,1100 65.5,1099.5 68.6,1098.9 71.7,1098.3 74.8,1097.8 77.9,1097.3 81.1,1096.8 84.6,1096.5 88.4,1096.1 92.4,1095.8 96.6,1095.5 101,1095.2 105.4,1095.1 110,1095 114.7,1095.1 119.9,1095.5 125.2,1096 130.6,1096.3 136,1096.4 141.1,1096 145.8,1095 150.1,1093.7 154.1,1092.1 158,1090.4 162,1088.5 166.3,1086.7 171.4,1084.7 177.3,1082.2 183.3,1079.7 189,1077.3 193.8,1075.3 197.2,1073.9 193.8,1066.1 190.4,1067.7 185.7,1070 180.1,1072.6 174.2,1075.4 168.5,1078 163.5,1080.3 159.1,1082.3 155.2,1084.3 151.5,1086.2 147.9,1087.8 144.2,1089.1 140.3,1090 135.8,1090.4 130.9,1090.4 125.7,1090 120.3,1089.5 115.1,1089.1 110,1089 105.3,1089.1 100.7,1089.2 96.3,1089.5 92,1089.8 87.9,1090.1 84,1090.5 80.3,1091.1 76.9,1091.7 73.7,1092.4 70.6,1093.1 67.6,1093.8 64.5,1094.5 61.1,1095.4 57.5,1096.3 53.9,1097.3 50.5,1098.2 47.7,1098.9 45.7,1099.5"/></clipPath><g clip-path="url(#w2)">
<path d="M194.6 1071.1a1.4 1.4 0 1 0 2.7 0a1.4 1.4 0 1 0 -2.7 0M44.4 1100.7a1.5 1.5 0 1 0 3 0a1.5 1.5 0 1 0 -3 0M193.1 1069a2 2 0 1 0 3.9 0a2 2 0 1 0 -3.9 0M75.8 1095a1.7 1.7 0 1 0 3.4 0a1.7 1.7 0 1 0 -3.4 0M114.1 1092.1a0.8 0.8 0 1 0 1.6 0a0.8 0.8 0 1 0 -1.6 0M113.9 1092.1a1 1 0 1 0 1.9 0a1 1 0 1 0 -1.9 0M73.3 1096.3a1.2 1.2 0 1 0 2.3 0a1.2 1.2 0 1 0 -2.3 0M179 1072.8a1.2 1.2 0 1 0 2.5 0a1.2 1.2 0 1 0 -2.5 0M69.2 1093.3a1.5 1.5 0 1 0 2.9 0a1.5 1.5 0 1 0 -2.9 0M152 1090.8a1.5 1.5 0 1 0 3 0a1.5 1.5 0 1 0 -3 0M164.5 1085.8a1.4 1.4 0 1 0 2.7 0a1.4 1.4 0 1 0 -2.7 0M82.8 1095.9a1.8 1.8 0 1 0 3.6 0a1.8 1.8 0 1 0 -3.6 0M113.4 1090a1.6 1.6 0 1 0 3.3 0a1.6 1.6 0 1 0 -3.3 0M46 1100a2 2 0 1 0 3.9 0a2 2 0 1 0 -3.9 0M53 1097.8a1 1 0 1 0 2 0a1 1 0 1 0 -2 0M134.9 1093.1a1 1 0 1 0 2 0a1 1 0 1 0 -2 0M158.4 1083.8a1.4 1.4 0 1 0 2.8 0a1.4 1.4 0 1 0 -2.8 0M108 1093.8a2 2 0 1 0 3.9 0a2 2 0 1 0 -3.9 0M87.4 1094.5a0.9 0.9 0 1 0 1.8 0a0.9 0.9 0 1 0 -1.8 0M169.5 1083.9a1.6 1.6 0 1 0 3.2 0a1.6 1.6 0 1 0 -3.2 0" fill="#3030D8" opacity="0.8"/>
<path d="M76.1 1095a1.4 1.4 0 1 0 2.7 0a1.4 1.4 0 1 0 -2.7 0M83.7 1096.3a0.9 0.9 0 1 0 1.8 0a0.9 0.9 0 1 0 -1.8 0M184.3 1071a1.9 1.9 0 1 0 3.7 0a1.9 1.9 0 1 0 -3.7 0M168.1 1079.9a1.3 1.3 0 1 0 2.5 0a1.3 1.3 0 1 0 -2.5 0M45.8 1099.3a2 2 0 1 0 3.9 0a2 2 0 1 0 -3.9 0M44.9 1100.9a1.1 1.1 0 1 0 2.3 0a1.1 1.1 0 1 0 -2.3 0M163.1 1083.6a1.9 1.9 0 1 0 3.7 0a1.9 1.9 0 1 0 -3.7 0M186.9 1075.2a1.2 1.2 0 1 0 2.3 0a1.2 1.2 0 1 0 -2.3 0M64.4 1098.9a1 1 0 1 0 2.1 0a1 1 0 1 0 -2.1 0M151.3 1089.6a1.7 1.7 0 1 0 3.5 0a1.7 1.7 0 1 0 -3.5 0M170.4 1084.5a1 1 0 1 0 2 0a1 1 0 1 0 -2 0M66 1094.9a1.8 1.8 0 1 0 3.6 0a1.8 1.8 0 1 0 -3.6 0M154.6 1085.2a1 1 0 1 0 2 0a1 1 0 1 0 -2 0M64.3 1097.8a0.9 0.9 0 1 0 1.8 0a0.9 0.9 0 1 0 -1.8 0M168.7 1081.3a1.2 1.2 0 1 0 2.5 0a1.2 1.2 0 1 0 -2.5 0M173.7 1077.4a1.5 1.5 0 1 0 2.9 0a1.5 1.5 0 1 0 -2.9 0M91 1091.3a1.1 1.1 0 1 0 2.2 0a1.1 1.1 0 1 0 -2.2 0M119.5 1090.2a0.8 0.8 0 1 0 1.7 0a0.8 0.8 0 1 0 -1.7 0M60.6 1099.8a1.4 1.4 0 1 0 2.8 0a1.4 1.4 0 1 0 -2.8 0M86.7 1091a1.3 1.3 0 1 0 2.5 0a1.3 1.3 0 1 0 -2.5 0M94.7 1091.2a1.6 1.6 0 1 0 3.3 0a1.6 1.6 0 1 0 -3.3 0M138.8 1092.3a1.8 1.8 0 1 0 3.6 0a1.8 1.8 0 1 0 -3.6 0M133.9 1093.5a2 2 0 1 0 4 0a2 2 0 1 0 -4 0" fill="#1C1CA0" opacity="0.8"/>
<path d="M94.6 1091.2a1.8 1.8 0 1 0 3.6 0a1.8 1.8 0 1 0 -3.6 0M164.3 1085.3a1.4 1.4 0 1 0 2.8 0a1.4 1.4 0 1 0 -2.8 0M66.5 1093.9a1.2 1.2 0 1 0 2.3 0a1.2 1.2 0 1 0 -2.3 0M56.1 1097.6a1.6 1.6 0 1 0 3.3 0a1.6 1.6 0 1 0 -3.3 0M186.7 1075.9a1.7 1.7 0 1 0 3.4 0a1.7 1.7 0 1 0 -3.4 0M103.8 1094a1.6 1.6 0 1 0 3.2 0a1.6 1.6 0 1 0 -3.2 0M144.4 1093.3a0.9 0.9 0 1 0 1.9 0a0.9 0.9 0 1 0 -1.9 0M66.4 1097.4a2 2 0 1 0 4 0a2 2 0 1 0 -4 0M76.1 1092.1a0.9 0.9 0 1 0 1.7 0a0.9 0.9 0 1 0 -1.7 0M52.7 1099.5a1.7 1.7 0 1 0 3.4 0a1.7 1.7 0 1 0 -3.4 0M69.5 1093.2a1.2 1.2 0 1 0 2.4 0a1.2 1.2 0 1 0 -2.4 0M108.2 1092.1a1.8 1.8 0 1 0 3.5 0a1.8 1.8 0 1 0 -3.5 0M46.7 1101.1a1.5 1.5 0 1 0 3 0a1.5 1.5 0 1 0 -3 0M49.2 1098.5a1.4 1.4 0 1 0 2.8 0a1.4 1.4 0 1 0 -2.8 0M138.4 1090.4a1.9 1.9 0 1 0 3.9 0a1.9 1.9 0 1 0 -3.9 0M151.6 1090.2a1.7 1.7 0 1 0 3.4 0a1.7 1.7 0 1 0 -3.4 0M49.5 1098.3a1 1 0 1 0 2.1 0a1 1 0 1 0 -2.1 0" fill="#14148A" opacity="0.8"/>
</g>
</g>
<g filter="url(#blur1)">
<polygon points="43.2,1162.5 47.8,1162.2 54.2,1161.9 61.7,1161.4 69.7,1160.9 77.5,1160.4 84.3,1160 90.4,1159.4 96.2,1158.9 101.8,1158.3 107.1,1157.8 112.1,1157.3 116.8,1157 121.1,1156.7 125,1156.6 128.7,1156.6 132.3,1156.6 136.1,1156.6 140,1156.5 144.1,1156.6 148.5,1156.7 152.9,1156.8 157.2,1156.8 161.5,1156.7 165.5,1156.5 169.4,1156.2 173.3,1155.7 176.9,1155 180.1,1154.4 182.7,1154 184.6,1153.8 181.4,1142.2 179.5,1143.1 177,1144.2 174.2,1145.4 171.1,1146.6 167.8,1147.7 164.5,1148.5 161,1148.9 157,1149.1 152.8,1149.3 148.5,1149.4 144.2,1149.4 140,1149.5 136.1,1149.4 132.5,1149.3 128.8,1149.1 125,1149 120.9,1148.9 116.4,1149 111.5,1149.3 106.3,1149.8 101,1150.3 95.4,1150.9 89.7,1151.5 83.7,1152 76.9,1152.6 69.2,1153.3 61.2,1153.9 53.7,1154.6 47.3,1155.1 42.8,1155.5" fill="#0A0A70" stroke="#0A0A70" stroke-width="1.5" opacity="0.5" stroke-linejoin="round"/>
<polygon points="43.2,1162.5 47.8,1162.2 54.2,1161.9 61.7,1161.4 69.7,1160.9 77.5,1160.4 84.3,1160 90.4,1159.4 96.2,1158.9 101.8,1158.3 107.1,1157.8 112.1,1157.3 116.8,1157 121.1,1156.7 125,1156.6 128.7,1156.6 132.3,1156.6 136.1,1156.6 140,1156.5 144.1,1156.6 148.5,1156.7 152.9,1156.8 157.2,1156.8 161.5,1156.7 165.5,1156.5 169.4,1156.2 173.3,1155.7 176.9,1155 180.1,1154.4 182.7,1154 184.6,1153.8 181.4,1142.2 179.5,1143.1 177,1144.2 174.2,1145.4 171.1,1146.6 167.8,1147.7 164.5,1148.5 161,1148.9 157,1149.1 152.8,1149.3 148.5,1149.4 144.2,1149.4 140,1149.5 136.1,1149.4 132.5,1149.3 128.8,1149.1 125,1149 120.9,1148.9 116.4,1149 111.5,1149.3 106.3,1149.8 101,1150.3 95.4,1150.9 89.7,1151.5 83.7,1152 76.9,1152.6 69.2,1153.3 61.2,1153.9 53.7,1154.6 47.3,1155.1 42.8,1155.5" fill="#2626EE" stroke="#2626EE" stroke-width="0.6" opacity="1" stroke-linejoin="round"/>
<clipPath id="w3"><polygon points="43.2,1162.5 47.8,1162.2 54.2,1161.9 61.7,1161.4 69.7,1160.9 77.5,1160.4 84.3,1160 90.4,1159.4 96.2,1158.9 101.8,1158.3 107.1,1157.8 112.1,1157.3 116.8,1157 121.1,1156.7 125,1156.6 128.7,1156.6 132.3,1156.6 136.1,1156.6 140,1156.5 144.1,1156.6 148.5,1156.7 152.9,1156.8 157.2,1156.8 161.5,1156.7 165.5,1156.5 169.4,1156.2 173.3,1155.7 176.9,1155 180.1,1154.4 182.7,1154 184.6,1153.8 181.4,1142.2 179.5,1143.1 177,1144.2 174.2,1145.4 171.1,1146.6 167.8,1147.7 164.5,1148.5 161,1148.9 157,1149.1 152.8,1149.3 148.5,1149.4 144.2,1149.4 140,1149.5 136.1,1149.4 132.5,1149.3 128.8,1149.1 125,1149 120.9,1148.9 116.4,1149 111.5,1149.3 106.3,1149.8 101,1150.3 95.4,1150.9 89.7,1151.5 83.7,1152 76.9,1152.6 69.2,1153.3 61.2,1153.9 53.7,1154.6 47.3,1155.1 42.8,1155.5"/></clipPath><g clip-path="url(#w3)">
<path d="M110.3 1149.3a1.2 1.2 0 1 0 2.3 0a1.2 1.2 0 1 0 -2.3 0M180.3 1149.8a1.2 1.2 0 1 0 2.4 0a1.2 1.2 0 1 0 -2.4 0M52 1157.3a1.8 1.8 0 1 0 3.7 0a1.8 1.8 0 1 0 -3.7 0M127.9 1150.2a0.9 0.9 0 1 0 1.9 0a0.9 0.9 0 1 0 -1.9 0M169.8 1148.1a1.6 1.6 0 1 0 3.2 0a1.6 1.6 0 1 0 -3.2 0M151.2 1151.7a1.6 1.6 0 1 0 3.2 0a1.6 1.6 0 1 0 -3.2 0M100 1151.8a1.1 1.1 0 1 0 2.3 0a1.1 1.1 0 1 0 -2.3 0M160.5 1156.7a1 1 0 1 0 2 0a1 1 0 1 0 -2 0M41.2 1158.7a1.7 1.7 0 1 0 3.5 0a1.7 1.7 0 1 0 -3.5 0M170.3 1151.3a1.9 1.9 0 1 0 3.9 0a1.9 1.9 0 1 0 -3.9 0M156.1 1149.7a0.9 0.9 0 1 0 1.8 0a0.9 0.9 0 1 0 -1.8 0M170.4 1150.3a1.6 1.6 0 1 0 3.1 0a1.6 1.6 0 1 0 -3.1 0M82.6 1157a1.4 1.4 0 1 0 2.9 0a1.4 1.4 0 1 0 -2.9 0M127.4 1152.3a1.4 1.4 0 1 0 2.9 0a1.4 1.4 0 1 0 -2.9 0M67.9 1158.8a1.6 1.6 0 1 0 3.3 0a1.6 1.6 0 1 0 -3.3 0M95.1 1157.4a1 1 0 1 0 1.9 0a1 1 0 1 0 -1.9 0M155.2 1150.7a1.9 1.9 0 1 0 3.7 0a1.9 1.9 0 1 0 -3.7 0M175.6 1145.2a1.7 1.7 0 1 0 3.4 0a1.7 1.7 0 1 0 -3.4 0M94 1151.8a1.5 1.5 0 1 0 2.9 0a1.5 1.5 0 1 0 -2.9 0M127.9 1154.2a0.8 0.8 0 1 0 1.7 0a0.8 0.8 0 1 0 -1.7 0M131.4 1152.4a1 1 0 1 0 2.1 0a1 1 0 1 0 -2.1 0M164.5 1156a0.9 0.9 0 1 0 1.9 0a0.9 0.9 0 1 0 -1.9 0M178.1 1144.8a2 2 0 1 0 3.9 0a2 2 0 1 0 -3.9 0M177.1 1147.8a1.1 1.1 0 1 0 2.1 0a1.1 1.1 0 1 0 -2.1 0M94.6 1157.4a1.5 1.5 0 1 0 2.9 0a1.5 1.5 0 1 0 -2.9 0M173.1 1146a1.3 1.3 0 1 0 2.6 0a1.3 1.3 0 1 0 -2.6 0M46.4 1155.8a0.9 0.9 0 1 0 1.8 0a0.9 0.9 0 1 0 -1.8 0" fill="#3A3AFF" opacity="0.8"/>
<path d="M123.4 1149.7a1.6 1.6 0 1 0 3.2 0a1.6 1.6 0 1 0 -3.2 0M46.3 1158.5a1.2 1.2 0 1 0 2.4 0a1.2 1.2 0 1 0 -2.4 0M163.2 1151.5a1.6 1.6 0 1 0 3.3 0a1.6 1.6 0 1 0 -3.3 0M151.9 1152.7a0.9 0.9 0 1 0 1.9 0a0.9 0.9 0 1 0 -1.9 0M160.4 1156.7a1 1 0 1 0 2.1 0a1 1 0 1 0 -2.1 0M87.9 1152.9a1.9 1.9 0 1 0 3.9 0a1.9 1.9 0 1 0 -3.9 0M119.5 1150.2a1.5 1.5 0 1 0 2.9 0a1.5 1.5 0 1 0 -2.9 0M127.3 1149.5a1.6 1.6 0 1 0 3.1 0a1.6 1.6 0 1 0 -3.1 0M127.9 1152.1a0.9 0.9 0 1 0 1.7 0a0.9 0.9 0 1 0 -1.7 0M176.1 1144.6a1 1 0 1 0 2 0a1 1 0 1 0 -2 0M131 1154a1.4 1.4 0 1 0 2.9 0a1.4 1.4 0 1 0 -2.9 0M53.3 1161.3a0.9 0.9 0 1 0 1.8 0a0.9 0.9 0 1 0 -1.8 0M178.2 1144.9a1.8 1.8 0 1 0 3.7 0a1.8 1.8 0 1 0 -3.7 0M178.1 1152.6a1.5 1.5 0 1 0 2.9 0a1.5 1.5 0 1 0 -2.9 0M67.6 1155.7a1.7 1.7 0 1 0 3.5 0a1.7 1.7 0 1 0 -3.5 0M134.5 1150a1.6 1.6 0 1 0 3.3 0a1.6 1.6 0 1 0 -3.3 0M100 1155.5a1.5 1.5 0 1 0 3 0a1.5 1.5 0 1 0 -3 0M179.8 1142.4a1.6 1.6 0 1 0 3.3 0a1.6 1.6 0 1 0 -3.3 0M105.4 1150.3a1 1 0 1 0 1.9 0a1 1 0 1 0 -1.9 0M59.4 1154.3a1.8 1.8 0 1 0 3.6 0a1.8 1.8 0 1 0 -3.6 0M76.2 1158.3a1.1 1.1 0 1 0 2.2 0a1.1 1.1 0 1 0 -2.2 0M105.3 1153.3a1.4 1.4 0 1 0 2.7 0a1.4 1.4 0 1 0 -2.7 0M119.2 1150.3a1.7 1.7 0 1 0 3.4 0a1.7 1.7 0 1 0 -3.4 0M142.4 1149.4a1.8 1.8 0 1 0 3.6 0a1.8 1.8 0 1 0 -3.6 0M119.1 1154.3a2 2 0 1 0 3.9 0a2 2 0 1 0 -3.9 0M46.4 1161.6a1.4 1.4 0 1 0 2.8 0a1.4 1.4 0 1 0 -2.8 0M110.7 1155.4a1.2 1.2 0 1 0 2.5 0a1.2 1.2 0 1 0 -2.5 0M67.8 1154.4a1.4 1.4 0 1 0 2.8 0a1.4 1.4 0 1 0 -2.8 0M155.3 1151.3a1.8 1.8 0 1 0 3.5 0a1.8 1.8 0 1 0 -3.5 0M134.9 1153.9a1.3 1.3 0 1 0 2.5 0a1.3 1.3 0 1 0 -2.5 0" fill="#1414A8" opacity="0.8"/>
<path d="M42.1 1159.5a0.9 0.9 0 1 0 1.8 0a0.9 0.9 0 1 0 -1.8 0M115.5 1156.3a1.2 1.2 0 1 0 2.5 0a1.2 1.2 0 1 0 -2.5 0M146.5 1153.8a2 2 0 1 0 3.9 0a2 2 0 1 0 -3.9 0M166.9 1151.3a1.6 1.6 0 1 0 3.2 0a1.6 1.6 0 1 0 -3.2 0M94.4 1151.4a1.1 1.1 0 1 0 2.2 0a1.1 1.1 0 1 0 -2.2 0M115.9 1155a0.8 0.8 0 1 0 1.6 0a0.8 0.8 0 1 0 -1.6 0M123.4 1150.1a1.6 1.6 0 1 0 3.2 0a1.6 1.6 0 1 0 -3.2 0M135.3 1154.9a0.8 0.8 0 1 0 1.7 0a0.8 0.8 0 1 0 -1.7 0M120.3 1155.6a0.8 0.8 0 1 0 1.6 0a0.8 0.8 0 1 0 -1.6 0M109.9 1149.4a1.5 1.5 0 1 0 3.1 0a1.5 1.5 0 1 0 -3.1 0M143.2 1150.6a1 1 0 1 0 1.9 0a1 1 0 1 0 -1.9 0M166.4 1149.8a1.8 1.8 0 1 0 3.6 0a1.8 1.8 0 1 0 -3.6 0M163.5 1151.1a1.4 1.4 0 1 0 2.7 0a1.4 1.4 0 1 0 -2.7 0" fill="#1C1CC8" opacity="0.8"/>
</g>
</g>
<g filter="url(#blur1)">
<polygon points="212.2,1026.7 213.6,1026.5 215.6,1026.2 217.9,1025.8 220.5,1025.3 223,1024.8 225.3,1024.5 227.6,1024.2 230.2,1023.8 232.7,1023.5 235,1023.3 237,1023.1 238.5,1023 237.5,1018 236.2,1018.5 234.2,1019 231.9,1019.6 229.5,1020.2 227,1020.9 224.7,1021.5 222.4,1022.2 219.9,1022.9 217.4,1023.6 215.1,1024.2 213.2,1024.8 211.8,1025.3" fill="#0E280A" stroke="#0E280A" stroke-width="2" opacity="0.6" stroke-linejoin="round"/>
<polygon points="212.2,1026.7 213.6,1026.5 215.6,1026.2 217.9,1025.8 220.5,1025.3 223,1024.8 225.3,1024.5 227.6,1024.2 230.2,1023.8 232.7,1023.5 235,1023.3 237,1023.1 238.5,1023 237.5,1018 236.2,1018.5 234.2,1019 231.9,1019.6 229.5,1020.2 227,1020.9 224.7,1021.5 222.4,1022.2 219.9,1022.9 217.4,1023.6 215.1,1024.2 213.2,1024.8 211.8,1025.3" fill="#1A4A14" stroke="#1A4A14" stroke-width="0.6" opacity="1" stroke-linejoin="round"/>
</g>
<g filter="url(#blur1)">
<polygon points="236.9,1024.4 238.8,1024.1 241.4,1023.6 244.4,1023.1 247.8,1022.5 251.3,1021.8 254.9,1021.3 258.6,1020.4 262.6,1019.4 266.6,1018.4 270.7,1017.6 274.8,1016.8 278.7,1016.3 282.5,1016.3 286.5,1016.5 290.7,1016.9 294.8,1017.3 298.9,1017.5 302.9,1017.4 306.5,1017 309.8,1016.3 312.8,1015.4 315.6,1014.5 318.2,1013.7 320.8,1012.9 323.4,1012.2 326,1011.6 328.6,1010.9 331.1,1010.3 333.5,1009.7 335.8,1009.1 338,1008.4 340.2,1007.7 342.2,1007 344.1,1006.4 345.6,1005.8 346.7,1005.4 345.3,1000.6 344.1,1000.9 342.5,1001.3 340.7,1001.7 338.6,1002.2 336.4,1002.8 334.2,1003.3 332,1003.9 329.6,1004.5 327.2,1005.1 324.6,1005.8 322,1006.4 319.2,1007.1 316.5,1007.8 313.7,1008.6 311.1,1009.4 308.3,1010.1 305.5,1010.7 302.5,1011 299.2,1010.9 295.5,1010.5 291.4,1009.9 287.2,1009.4 282.8,1008.9 278.3,1008.9 273.9,1009.1 269.5,1009.5 265.1,1010.1 260.8,1010.7 256.8,1011.4 253.1,1011.9 249.5,1012.8 245.9,1013.7 242.5,1014.5 239.5,1015.3 237,1016.1 235.1,1016.6" fill="#12380C" stroke="#12380C" stroke-width="2" opacity="0.6" stroke-linejoin="round"/>
<polygon points="236.9,1024.4 238.8,1024.1 241.4,1023.6 244.4,1023.1 247.8,1022.5 251.3,1021.8 254.9,1021.3 258.6,1020.4 262.6,1019.4 266.6,1018.4 270.7,1017.6 274.8,1016.8 278.7,1016.3 282.5,1016.3 286.5,1016.5 290.7,1016.9 294.8,1017.3 298.9,1017.5 302.9,1017.4 306.5,1017 309.8,1016.3 312.8,1015.4 315.6,1014.5 318.2,1013.7 320.8,1012.9 323.4,1012.2 326,1011.6 328.6,1010.9 331.1,1010.3 333.5,1009.7 335.8,1009.1 338,1008.4 340.2,1007.7 342.2,1007 344.1,1006.4 345.6,1005.8 346.7,1005.4 345.3,1000.6 344.1,1000.9 342.5,1001.3 340.7,1001.7 338.6,1002.2 336.4,1002.8 334.2,1003.3 332,1003.9 329.6,1004.5 327.2,1005.1 324.6,1005.8 322,1006.4 319.2,1007.1 316.5,1007.8 313.7,1008.6 311.1,1009.4 308.3,1010.1 305.5,1010.7 302.5,1011 299.2,1010.9 295.5,1010.5 291.4,1009.9 287.2,1009.4 282.8,1008.9 278.3,1008.9 273.9,1009.1 269.5,1009.5 265.1,1010.1 260.8,1010.7 256.8,1011.4 253.1,1011.9 249.5,1012.8 245.9,1013.7 242.5,1014.5 239.5,1015.3 237,1016.1 235.1,1016.6" fill="#28861F" stroke="#28861F" stroke-width="0.6" opacity="1" stroke-linejoin="round"/>
<clipPath id="w5"><polygon points="236.9,1024.4 238.8,1024.1 241.4,1023.6 244.4,1023.1 247.8,1022.5 251.3,1021.8 254.9,1021.3 258.6,1020.4 262.6,1019.4 266.6,1018.4 270.7,1017.6 274.8,1016.8 278.7,1016.3 282.5,1016.3 286.5,1016.5 290.7,1016.9 294.8,1017.3 298.9,1017.5 302.9,1017.4 306.5,1017 309.8,1016.3 312.8,1015.4 315.6,1014.5 318.2,1013.7 320.8,1012.9 323.4,1012.2 326,1011.6 328.6,1010.9 331.1,1010.3 333.5,1009.7 335.8,1009.1 338,1008.4 340.2,1007.7 342.2,1007 344.1,1006.4 345.6,1005.8 346.7,1005.4 345.3,1000.6 344.1,1000.9 342.5,1001.3 340.7,1001.7 338.6,1002.2 336.4,1002.8 334.2,1003.3 332,1003.9 329.6,1004.5 327.2,1005.1 324.6,1005.8 322,1006.4 319.2,1007.1 316.5,1007.8 313.7,1008.6 311.1,1009.4 308.3,1010.1 305.5,1010.7 302.5,1011 299.2,1010.9 295.5,1010.5 291.4,1009.9 287.2,1009.4 282.8,1008.9 278.3,1008.9 273.9,1009.1 269.5,1009.5 265.1,1010.1 260.8,1010.7 256.8,1011.4 253.1,1011.9 249.5,1012.8 245.9,1013.7 242.5,1014.5 239.5,1015.3 237,1016.1 235.1,1016.6"/></clipPath><g clip-path="url(#w5)">
<path d="M233.8 1017.4a1.5 1.5 0 1 0 3 0a1.5 1.5 0 1 0 -3 0M236.8 1021a1.3 1.3 0 1 0 2.5 0a1.3 1.3 0 1 0 -2.5 0M333.8 1006.5a1.3 1.3 0 1 0 2.6 0a1.3 1.3 0 1 0 -2.6 0M344.1 1004.2a1 1 0 1 0 2 0a1 1 0 1 0 -2 0M324.3 1007.9a0.8 0.8 0 1 0 1.6 0a0.8 0.8 0 1 0 -1.6 0M249.4 1019.8a1.5 1.5 0 1 0 3 0a1.5 1.5 0 1 0 -3 0M304.6 1016.3a1.8 1.8 0 1 0 3.5 0a1.8 1.8 0 1 0 -3.5 0M343.5 1001.9a0.9 0.9 0 1 0 1.8 0a0.9 0.9 0 1 0 -1.8 0M255.9 1013.5a1.3 1.3 0 1 0 2.6 0a1.3 1.3 0 1 0 -2.6 0M340.5 1006.5a1.5 1.5 0 1 0 3.1 0a1.5 1.5 0 1 0 -3.1 0M317.9 1009a1.9 1.9 0 1 0 3.7 0a1.9 1.9 0 1 0 -3.7 0M305.4 1015.7a0.9 0.9 0 1 0 1.8 0a0.9 0.9 0 1 0 -1.8 0M285.3 1014a1.5 1.5 0 1 0 3 0a1.5 1.5 0 1 0 -3 0M253.1 1018a1.2 1.2 0 1 0 2.4 0a1.2 1.2 0 1 0 -2.4 0M272.6 1014.6a1.9 1.9 0 1 0 3.9 0a1.9 1.9 0 1 0 -3.9 0M248.6 1015a1.4 1.4 0 1 0 2.7 0a1.4 1.4 0 1 0 -2.7 0M233.4 1017.5a2 2 0 1 0 3.9 0a2 2 0 1 0 -3.9 0M326.8 1010.9a1.8 1.8 0 1 0 3.6 0a1.8 1.8 0 1 0 -3.6 0M235.7 1016.2a1.3 1.3 0 1 0 2.7 0a1.3 1.3 0 1 0 -2.7 0M337.3 1004.6a1.9 1.9 0 1 0 3.9 0a1.9 1.9 0 1 0 -3.9 0M330.9 1004.3a1.3 1.3 0 1 0 2.5 0a1.3 1.3 0 1 0 -2.5 0M336.6 1008.2a1.3 1.3 0 1 0 2.7 0a1.3 1.3 0 1 0 -2.7 0M280.9 1010.1a1.9 1.9 0 1 0 3.8 0a1.9 1.9 0 1 0 -3.8 0" fill="#3CB834" opacity="0.8"/>
<path d="M273.4 1015.4a1.2 1.2 0 1 0 2.4 0a1.2 1.2 0 1 0 -2.4 0M323.9 1007.6a1.1 1.1 0 1 0 2.3 0a1.1 1.1 0 1 0 -2.3 0M289.8 1010.4a1.6 1.6 0 1 0 3.2 0a1.6 1.6 0 1 0 -3.2 0M315.8 1009.3a1.1 1.1 0 1 0 2.1 0a1.1 1.1 0 1 0 -2.1 0M333.9 1006.4a1.2 1.2 0 1 0 2.3 0a1.2 1.2 0 1 0 -2.3 0M344.4 1001.5a1.2 1.2 0 1 0 2.4 0a1.2 1.2 0 1 0 -2.4 0M331.1 1007.6a1.9 1.9 0 1 0 3.7 0a1.9 1.9 0 1 0 -3.7 0M334.5 1008.2a1 1 0 1 0 2.1 0a1 1 0 1 0 -2.1 0M252.7 1015.3a1 1 0 1 0 2.1 0a1 1 0 1 0 -2.1 0M311.3 1015.1a1.4 1.4 0 1 0 2.8 0a1.4 1.4 0 1 0 -2.8 0M335.9 1006.4a1.5 1.5 0 1 0 3 0a1.5 1.5 0 1 0 -3 0M301.2 1013.6a1.4 1.4 0 1 0 2.8 0a1.4 1.4 0 1 0 -2.8 0M241.8 1016.4a1.1 1.1 0 1 0 2.3 0a1.1 1.1 0 1 0 -2.3 0M244.7 1014.9a1.5 1.5 0 1 0 2.9 0a1.5 1.5 0 1 0 -2.9 0M248.3 1012.8a1.2 1.2 0 1 0 2.5 0a1.2 1.2 0 1 0 -2.5 0M319.7 1012.1a0.9 0.9 0 1 0 1.7 0a0.9 0.9 0 1 0 -1.7 0M334 1006.2a1 1 0 1 0 2 0a1 1 0 1 0 -2 0M317.4 1007.2a1.9 1.9 0 1 0 3.7 0a1.9 1.9 0 1 0 -3.7 0M264.3 1012.6a1.3 1.3 0 1 0 2.6 0a1.3 1.3 0 1 0 -2.6 0M246.5 1022.4a1.3 1.3 0 1 0 2.5 0a1.3 1.3 0 1 0 -2.5 0M234.6 1021.8a1.7 1.7 0 1 0 3.4 0a1.7 1.7 0 1 0 -3.4 0M324.3 1010.9a1.6 1.6 0 1 0 3.2 0a1.6 1.6 0 1 0 -3.2 0M343.3 1001.3a0.9 0.9 0 1 0 1.9 0a0.9 0.9 0 1 0 -1.9 0" fill="#34A82C" opacity="0.8"/>
<path d="M340.1 1002.8a0.9 0.9 0 1 0 1.8 0a0.9 0.9 0 1 0 -1.8 0M235.3 1021.8a1 1 0 1 0 2 0a1 1 0 1 0 -2 0M267.9 1010.1a1.7 1.7 0 1 0 3.4 0a1.7 1.7 0 1 0 -3.4 0M342.6 1005a1.1 1.1 0 1 0 2.2 0a1.1 1.1 0 1 0 -2.2 0M298.2 1011.4a1 1 0 1 0 2 0a1 1 0 1 0 -2 0M235.8 1017.3a1.5 1.5 0 1 0 3 0a1.5 1.5 0 1 0 -3 0M245.1 1014.2a1 1 0 1 0 1.9 0a1 1 0 1 0 -1.9 0M341.1 1006.8a1 1 0 1 0 2.1 0a1 1 0 1 0 -2.1 0M268.6 1010.4a1 1 0 1 0 2 0a1 1 0 1 0 -2 0M252.5 1017.3a1.7 1.7 0 1 0 3.4 0a1.7 1.7 0 1 0 -3.4 0M307 1012.4a1.9 1.9 0 1 0 3.7 0a1.9 1.9 0 1 0 -3.7 0M260.8 1016.7a1.3 1.3 0 1 0 2.5 0a1.3 1.3 0 1 0 -2.5 0M300.5 1011.1a2 2 0 1 0 4 0a2 2 0 1 0 -4 0M277.7 1015.7a1 1 0 1 0 1.9 0a1 1 0 1 0 -1.9 0M290.4 1010.6a1 1 0 1 0 1.9 0a1 1 0 1 0 -1.9 0M281.9 1010.4a0.8 0.8 0 1 0 1.6 0a0.8 0.8 0 1 0 -1.6 0M339.3 1002.2a1.5 1.5 0 1 0 3 0a1.5 1.5 0 1 0 -3 0M238.2 1017.1a1.7 1.7 0 1 0 3.4 0a1.7 1.7 0 1 0 -3.4 0M323.9 1010.5a1.9 1.9 0 1 0 3.8 0a1.9 1.9 0 1 0 -3.8 0M277.2 1010.9a1.2 1.2 0 1 0 2.5 0a1.2 1.2 0 1 0 -2.5 0M330.4 1005.3a1.9 1.9 0 1 0 3.9 0a1.9 1.9 0 1 0 -3.9 0M236.1 1016.2a0.9 0.9 0 1 0 1.8 0a0.9 0.9 0 1 0 -1.8 0M260.9 1017.3a1.2 1.2 0 1 0 2.4 0a1.2 1.2 0 1 0 -2.4 0M320.6 1008.6a1.9 1.9 0 1 0 3.8 0a1.9 1.9 0 1 0 -3.8 0" fill="#1C6A16" opacity="0.8"/>
</g>
</g>
<g filter="url(#blur1)">
<polygon points="210.1,1081 212.8,1081 216.2,1080.8 220.2,1080.5 225,1080.3 230.5,1080.4 236.8,1081 244.5,1081.8 253.7,1083.1 263.7,1084.7 273.9,1086.4 283.7,1088 292.5,1089.5 300.1,1090.5 307.1,1091.5 313.7,1092.4 320,1093.2 326.2,1094.1 332.6,1095 339.4,1095.6 346.6,1096.4 353.7,1097.1 360.3,1097.7 365.8,1098.2 369.9,1098.5 370.1,1096.5 366.2,1095.6 360.8,1094.4 354.3,1093.1 347.3,1091.8 340.2,1090.4 333.4,1089 327.2,1088 321,1087 314.7,1085.9 308.1,1084.9 301.1,1083.7 293.5,1082.5 284.8,1081.3 275,1079.8 264.7,1078.3 254.6,1076.9 245.2,1075.7 237.2,1075 230.5,1075.1 224.7,1075.7 219.8,1076.5 215.7,1077.5 212.4,1078.3 209.9,1079" fill="#0E300A" stroke="#0E300A" stroke-width="2" opacity="0.6" stroke-linejoin="round"/>
<polygon points="210.1,1081 212.8,1081 216.2,1080.8 220.2,1080.5 225,1080.3 230.5,1080.4 236.8,1081 244.5,1081.8 253.7,1083.1 263.7,1084.7 273.9,1086.4 283.7,1088 292.5,1089.5 300.1,1090.5 307.1,1091.5 313.7,1092.4 320,1093.2 326.2,1094.1 332.6,1095 339.4,1095.6 346.6,1096.4 353.7,1097.1 360.3,1097.7 365.8,1098.2 369.9,1098.5 370.1,1096.5 366.2,1095.6 360.8,1094.4 354.3,1093.1 347.3,1091.8 340.2,1090.4 333.4,1089 327.2,1088 321,1087 314.7,1085.9 308.1,1084.9 301.1,1083.7 293.5,1082.5 284.8,1081.3 275,1079.8 264.7,1078.3 254.6,1076.9 245.2,1075.7 237.2,1075 230.5,1075.1 224.7,1075.7 219.8,1076.5 215.7,1077.5 212.4,1078.3 209.9,1079" fill="#22701C" stroke="#22701C" stroke-width="0.6" opacity="1" stroke-linejoin="round"/>
<clipPath id="w6"><polygon points="210.1,1081 212.8,1081 216.2,1080.8 220.2,1080.5 225,1080.3 230.5,1080.4 236.8,1081 244.5,1081.8 253.7,1083.1 263.7,1084.7 273.9,1086.4 283.7,1088 292.5,1089.5 300.1,1090.5 307.1,1091.5 313.7,1092.4 320,1093.2 326.2,1094.1 332.6,1095 339.4,1095.6 346.6,1096.4 353.7,1097.1 360.3,1097.7 365.8,1098.2 369.9,1098.5 370.1,1096.5 366.2,1095.6 360.8,1094.4 354.3,1093.1 347.3,1091.8 340.2,1090.4 333.4,1089 327.2,1088 321,1087 314.7,1085.9 308.1,1084.9 301.1,1083.7 293.5,1082.5 284.8,1081.3 275,1079.8 264.7,1078.3 254.6,1076.9 245.2,1075.7 237.2,1075 230.5,1075.1 224.7,1075.7 219.8,1076.5 215.7,1077.5 212.4,1078.3 209.9,1079"/></clipPath><g clip-path="url(#w6)">
<path d="M324.7 1091.6a2 2 0 1 0 3.9 0a2 2 0 1 0 -3.9 0M211.1 1078.4a1.3 1.3 0 1 0 2.6 0a1.3 1.3 0 1 0 -2.6 0M318.5 1091.5a1.8 1.8 0 1 0 3.5 0a1.8 1.8 0 1 0 -3.5 0M211.9 1080.5a0.8 0.8 0 1 0 1.7 0a0.8 0.8 0 1 0 -1.7 0M291.1 1088.7a1.5 1.5 0 1 0 2.9 0a1.5 1.5 0 1 0 -2.9 0M306.6 1085.2a1.4 1.4 0 1 0 2.9 0a1.4 1.4 0 1 0 -2.9 0M283.2 1081.7a1.5 1.5 0 1 0 3 0a1.5 1.5 0 1 0 -3 0M236.1 1078.4a0.9 0.9 0 1 0 1.7 0a0.9 0.9 0 1 0 -1.7 0M214.5 1077.8a1.2 1.2 0 1 0 2.5 0a1.2 1.2 0 1 0 -2.5 0M305.7 1090.9a1.5 1.5 0 1 0 3 0a1.5 1.5 0 1 0 -3 0M218.1 1076.6a1.6 1.6 0 1 0 3.3 0a1.6 1.6 0 1 0 -3.3 0M359 1094.8a1.7 1.7 0 1 0 3.3 0a1.7 1.7 0 1 0 -3.3 0M331.7 1089.6a1.7 1.7 0 1 0 3.3 0a1.7 1.7 0 1 0 -3.3 0M312.6 1088.9a1.6 1.6 0 1 0 3.2 0a1.6 1.6 0 1 0 -3.2 0M214.2 1078a1.6 1.6 0 1 0 3.1 0a1.6 1.6 0 1 0 -3.1 0M319 1090.3a1.5 1.5 0 1 0 2.9 0a1.5 1.5 0 1 0 -2.9 0M273.6 1081.8a1 1 0 1 0 2.1 0a1 1 0 1 0 -2.1 0M344.8 1095a1.9 1.9 0 1 0 3.9 0a1.9 1.9 0 1 0 -3.9 0M218.9 1079.3a1.2 1.2 0 1 0 2.4 0a1.2 1.2 0 1 0 -2.4 0M262.7 1078.7a1.9 1.9 0 1 0 3.9 0a1.9 1.9 0 1 0 -3.9 0M306.4 1087.6a1.3 1.3 0 1 0 2.6 0a1.3 1.3 0 1 0 -2.6 0M306 1087.4a1.7 1.7 0 1 0 3.4 0a1.7 1.7 0 1 0 -3.4 0M219.2 1079a0.9 0.9 0 1 0 1.8 0a0.9 0.9 0 1 0 -1.8 0M318.8 1093.1a1.3 1.3 0 1 0 2.5 0a1.3 1.3 0 1 0 -2.5 0M346 1092.6a1.2 1.2 0 1 0 2.4 0a1.2 1.2 0 1 0 -2.4 0M359.3 1096.2a1.2 1.2 0 1 0 2.3 0a1.2 1.2 0 1 0 -2.3 0M369 1097.9a1 1 0 1 0 1.9 0a1 1 0 1 0 -1.9 0M306 1091.4a1.1 1.1 0 1 0 2.2 0a1.1 1.1 0 1 0 -2.2 0M305.5 1090.5a1.8 1.8 0 1 0 3.5 0a1.8 1.8 0 1 0 -3.5 0M345.6 1093.4a1.5 1.5 0 1 0 2.9 0a1.5 1.5 0 1 0 -2.9 0M325.8 1088.7a1.2 1.2 0 1 0 2.4 0a1.2 1.2 0 1 0 -2.4 0M211.3 1080.7a1.4 1.4 0 1 0 2.9 0a1.4 1.4 0 1 0 -2.9 0M263.1 1081a1.1 1.1 0 1 0 2.3 0a1.1 1.1 0 1 0 -2.3 0M211.1 1078.9a1.4 1.4 0 1 0 2.7 0a1.4 1.4 0 1 0 -2.7 0M218.1 1079.4a2 2 0 1 0 3.9 0a2 2 0 1 0 -3.9 0M291.5 1085.4a1.6 1.6 0 1 0 3.1 0a1.6 1.6 0 1 0 -3.1 0M208.4 1079.4a1.5 1.5 0 1 0 3 0a1.5 1.5 0 1 0 -3 0M263.2 1079.7a1.2 1.2 0 1 0 2.5 0a1.2 1.2 0 1 0 -2.5 0M208.6 1079.3a1.4 1.4 0 1 0 2.7 0a1.4 1.4 0 1 0 -2.7 0M235.9 1079.6a1 1 0 1 0 2 0a1 1 0 1 0 -2 0M215.1 1079.8a0.9 0.9 0 1 0 1.8 0a0.9 0.9 0 1 0 -1.8 0M282.8 1087.3a1.1 1.1 0 1 0 2.1 0a1.1 1.1 0 1 0 -2.1 0M208.7 1079.1a1.2 1.2 0 1 0 2.3 0a1.2 1.2 0 1 0 -2.3 0" fill="#3CB030" opacity="0.8"/>
<path d="M224 1076.9a0.8 0.8 0 1 0 1.6 0a0.8 0.8 0 1 0 -1.6 0M306.7 1087.8a0.9 0.9 0 1 0 1.9 0a0.9 0.9 0 1 0 -1.9 0M229.6 1078.3a0.9 0.9 0 1 0 1.8 0a0.9 0.9 0 1 0 -1.8 0M292.3 1083.2a1.2 1.2 0 1 0 2.3 0a1.2 1.2 0 1 0 -2.3 0M242.8 1080a1.9 1.9 0 1 0 3.7 0a1.9 1.9 0 1 0 -3.7 0M332.2 1089.3a1.2 1.2 0 1 0 2.5 0a1.2 1.2 0 1 0 -2.5 0M338.9 1093a0.8 0.8 0 1 0 1.7 0a0.8 0.8 0 1 0 -1.7 0M338.7 1092.7a1.1 1.1 0 1 0 2.1 0a1.1 1.1 0 1 0 -2.1 0M262.4 1082.5a1.7 1.7 0 1 0 3.3 0a1.7 1.7 0 1 0 -3.3 0M214.4 1080.6a1.8 1.8 0 1 0 3.6 0a1.8 1.8 0 1 0 -3.6 0M253.2 1078.8a1 1 0 1 0 2.1 0a1 1 0 1 0 -2.1 0M306.2 1089a1.3 1.3 0 1 0 2.5 0a1.3 1.3 0 1 0 -2.5 0M319.3 1089.8a1.2 1.2 0 1 0 2.4 0a1.2 1.2 0 1 0 -2.4 0M352.5 1093.8a1.7 1.7 0 1 0 3.5 0a1.7 1.7 0 1 0 -3.5 0M299.7 1086.2a1.1 1.1 0 1 0 2.2 0a1.1 1.1 0 1 0 -2.2 0M332 1090.1a1.3 1.3 0 1 0 2.5 0a1.3 1.3 0 1 0 -2.5 0M364.6 1098a1.3 1.3 0 1 0 2.6 0a1.3 1.3 0 1 0 -2.6 0M332 1092.2a0.9 0.9 0 1 0 1.9 0a0.9 0.9 0 1 0 -1.9 0M235.3 1077.7a1.7 1.7 0 1 0 3.4 0a1.7 1.7 0 1 0 -3.4 0M312.7 1086.6a1.9 1.9 0 1 0 3.7 0a1.9 1.9 0 1 0 -3.7 0M236.1 1079.5a0.8 0.8 0 1 0 1.7 0a0.8 0.8 0 1 0 -1.7 0M318.8 1090.1a1.6 1.6 0 1 0 3.3 0a1.6 1.6 0 1 0 -3.3 0M319.2 1087.4a1.7 1.7 0 1 0 3.4 0a1.7 1.7 0 1 0 -3.4 0M338.3 1092.8a1.5 1.5 0 1 0 3.1 0a1.5 1.5 0 1 0 -3.1 0M359.3 1097.4a1 1 0 1 0 2.1 0a1 1 0 1 0 -2.1 0M345.6 1095.8a1 1 0 1 0 2.1 0a1 1 0 1 0 -2.1 0M219.2 1080.1a1 1 0 1 0 2.1 0a1 1 0 1 0 -2.1 0M208.2 1079.6a1.7 1.7 0 1 0 3.4 0a1.7 1.7 0 1 0 -3.4 0M359.3 1096.7a1.1 1.1 0 1 0 2.2 0a1.1 1.1 0 1 0 -2.2 0" fill="#2E9024" opacity="0.8"/>
<path d="M291.8 1083.5a1.6 1.6 0 1 0 3.2 0a1.6 1.6 0 1 0 -3.2 0M282.5 1085.1a1.7 1.7 0 1 0 3.3 0a1.7 1.7 0 1 0 -3.3 0M338.3 1095.4a1.2 1.2 0 1 0 2.3 0a1.2 1.2 0 1 0 -2.3 0M325.8 1090.3a1 1 0 1 0 1.9 0a1 1 0 1 0 -1.9 0M273.3 1081.6a1.4 1.4 0 1 0 2.8 0a1.4 1.4 0 1 0 -2.8 0M223.8 1079.1a1.1 1.1 0 1 0 2.2 0a1.1 1.1 0 1 0 -2.2 0M209 1080.2a1 1 0 1 0 2 0a1 1 0 1 0 -2 0M331.4 1091.5a1.7 1.7 0 1 0 3.3 0a1.7 1.7 0 1 0 -3.3 0M218.8 1078.1a1.1 1.1 0 1 0 2.2 0a1.1 1.1 0 1 0 -2.2 0M263 1080.2a1.4 1.4 0 1 0 2.8 0a1.4 1.4 0 1 0 -2.8 0M236.1 1075.8a1 1 0 1 0 2 0a1 1 0 1 0 -2 0M208.4 1079.3a1.5 1.5 0 1 0 3 0a1.5 1.5 0 1 0 -3 0M218.4 1080a1.8 1.8 0 1 0 3.6 0a1.8 1.8 0 1 0 -3.6 0M346.1 1093.3a0.9 0.9 0 1 0 1.8 0a0.9 0.9 0 1 0 -1.8 0M273.2 1085.6a0.9 0.9 0 1 0 1.8 0a0.9 0.9 0 1 0 -1.8 0M359.7 1095.6a0.9 0.9 0 1 0 1.8 0a0.9 0.9 0 1 0 -1.8 0M318.7 1089a1.9 1.9 0 1 0 3.9 0a1.9 1.9 0 1 0 -3.9 0M353 1095.3a0.9 0.9 0 1 0 1.9 0a0.9 0.9 0 1 0 -1.9 0M263.3 1081.8a0.8 0.8 0 1 0 1.7 0a0.8 0.8 0 1 0 -1.7 0M345.5 1093.9a1.5 1.5 0 1 0 2.9 0a1.5 1.5 0 1 0 -2.9 0M331.7 1092.8a1.1 1.1 0 1 0 2.3 0a1.1 1.1 0 1 0 -2.3 0M364.6 1097.2a1.4 1.4 0 1 0 2.7 0a1.4 1.4 0 1 0 -2.7 0M346.1 1092.2a1.1 1.1 0 1 0 2.2 0a1.1 1.1 0 1 0 -2.2 0M331.2 1091.9a1.8 1.8 0 1 0 3.7 0a1.8 1.8 0 1 0 -3.7 0M318.6 1092.7a1.5 1.5 0 1 0 3.1 0a1.5 1.5 0 1 0 -3.1 0M311.8 1092a2 2 0 1 0 3.9 0a2 2 0 1 0 -3.9 0M298.7 1088.2a1.8 1.8 0 1 0 3.6 0a1.8 1.8 0 1 0 -3.6 0M330.9 1093a1.9 1.9 0 1 0 3.8 0a1.9 1.9 0 1 0 -3.8 0M208.3 1079.3a1.6 1.6 0 1 0 3.2 0a1.6 1.6 0 1 0 -3.2 0M324.6 1092.8a1.8 1.8 0 1 0 3.6 0a1.8 1.8 0 1 0 -3.6 0M319.1 1088.5a1.6 1.6 0 1 0 3.2 0a1.6 1.6 0 1 0 -3.2 0M364.5 1098a1.3 1.3 0 1 0 2.6 0a1.3 1.3 0 1 0 -2.6 0M338 1093.3a1.7 1.7 0 1 0 3.5 0a1.7 1.7 0 1 0 -3.5 0M364.7 1095.8a1.4 1.4 0 1 0 2.9 0a1.4 1.4 0 1 0 -2.9 0M305.9 1090.8a1.4 1.4 0 1 0 2.7 0a1.4 1.4 0 1 0 -2.7 0M364.9 1097.9a1 1 0 1 0 2 0a1 1 0 1 0 -2 0M223.8 1077.5a1 1 0 1 0 2 0a1 1 0 1 0 -2 0M214.4 1080.3a1.8 1.8 0 1 0 3.5 0a1.8 1.8 0 1 0 -3.5 0" fill="#14480E" opacity="0.8"/>
</g>
</g>
<g filter="url(#blur1)">
<polygon points="221.9,1149 226.9,1149.8 234,1150.8 242.3,1151.8 251,1153 259.3,1154.2 266.5,1155.5 272.4,1156.7 277.9,1158.4 283.2,1160.1 288.5,1161.7 294.1,1163 300.1,1163.5 306.3,1162.7 312.3,1161 318,1159 323.4,1157 328.5,1155.4 333.3,1154.5 338.2,1154.1 343.7,1154.2 349.2,1154.7 354.3,1155.3 358.6,1155.8 361.8,1156 362.2,1154 359.2,1153 355,1151.7 350,1150.3 344.4,1148.9 338.6,1147.9 332.7,1147.5 327,1148.2 321.2,1149.7 315.5,1151.4 310,1153 304.8,1154.1 299.9,1154.5 295.2,1154.4 290.4,1153.6 285.3,1152.4 279.9,1151 274,1149.6 267.5,1148.5 260,1148 251.5,1147.6 242.6,1147.3 234.2,1147.1 227.1,1147 222.1,1147" fill="#0E300A" stroke="#0E300A" stroke-width="2" opacity="0.6" stroke-linejoin="round"/>
<polygon points="221.9,1149 226.9,1149.8 234,1150.8 242.3,1151.8 251,1153 259.3,1154.2 266.5,1155.5 272.4,1156.7 277.9,1158.4 283.2,1160.1 288.5,1161.7 294.1,1163 300.1,1163.5 306.3,1162.7 312.3,1161 318,1159 323.4,1157 328.5,1155.4 333.3,1154.5 338.2,1154.1 343.7,1154.2 349.2,1154.7 354.3,1155.3 358.6,1155.8 361.8,1156 362.2,1154 359.2,1153 355,1151.7 350,1150.3 344.4,1148.9 338.6,1147.9 332.7,1147.5 327,1148.2 321.2,1149.7 315.5,1151.4 310,1153 304.8,1154.1 299.9,1154.5 295.2,1154.4 290.4,1153.6 285.3,1152.4 279.9,1151 274,1149.6 267.5,1148.5 260,1148 251.5,1147.6 242.6,1147.3 234.2,1147.1 227.1,1147 222.1,1147" fill="#1E681A" stroke="#1E681A" stroke-width="0.6" opacity="1" stroke-linejoin="round"/>
<clipPath id="w7"><polygon points="221.9,1149 226.9,1149.8 234,1150.8 242.3,1151.8 251,1153 259.3,1154.2 266.5,1155.5 272.4,1156.7 277.9,1158.4 283.2,1160.1 288.5,1161.7 294.1,1163 300.1,1163.5 306.3,1162.7 312.3,1161 318,1159 323.4,1157 328.5,1155.4 333.3,1154.5 338.2,1154.1 343.7,1154.2 349.2,1154.7 354.3,1155.3 358.6,1155.8 361.8,1156 362.2,1154 359.2,1153 355,1151.7 350,1150.3 344.4,1148.9 338.6,1147.9 332.7,1147.5 327,1148.2 321.2,1149.7 315.5,1151.4 310,1153 304.8,1154.1 299.9,1154.5 295.2,1154.4 290.4,1153.6 285.3,1152.4 279.9,1151 274,1149.6 267.5,1148.5 260,1148 251.5,1147.6 242.6,1147.3 234.2,1147.1 227.1,1147 222.1,1147"/></clipPath><g clip-path="url(#w7)">
<path d="M304.6 1161.2a1.5 1.5 0 1 0 2.9 0a1.5 1.5 0 1 0 -2.9 0M353.4 1154.4a1 1 0 1 0 2.1 0a1 1 0 1 0 -2.1 0M287.7 1158.3a1.6 1.6 0 1 0 3.2 0a1.6 1.6 0 1 0 -3.2 0M360.2 1154.1a2 2 0 1 0 3.9 0a2 2 0 1 0 -3.9 0M240.9 1150.7a1.5 1.5 0 1 0 2.9 0a1.5 1.5 0 1 0 -2.9 0M284.2 1153.2a0.9 0.9 0 1 0 1.8 0a0.9 0.9 0 1 0 -1.8 0M360.6 1154.1a1.6 1.6 0 1 0 3.2 0a1.6 1.6 0 1 0 -3.2 0M277.8 1155.5a0.9 0.9 0 1 0 1.8 0a0.9 0.9 0 1 0 -1.8 0M240.6 1148a1.9 1.9 0 1 0 3.9 0a1.9 1.9 0 1 0 -3.9 0M314.4 1153.9a2 2 0 1 0 3.9 0a2 2 0 1 0 -3.9 0M320.9 1153.5a1.4 1.4 0 1 0 2.8 0a1.4 1.4 0 1 0 -2.8 0M358.1 1153.9a0.9 0.9 0 1 0 1.9 0a0.9 0.9 0 1 0 -1.9 0M257.9 1152.3a1.6 1.6 0 1 0 3.3 0a1.6 1.6 0 1 0 -3.3 0M317.1 1159a0.9 0.9 0 1 0 1.8 0a0.9 0.9 0 1 0 -1.8 0M304.8 1161.9a1.3 1.3 0 1 0 2.7 0a1.3 1.3 0 1 0 -2.7 0M348.2 1152.1a1.4 1.4 0 1 0 2.8 0a1.4 1.4 0 1 0 -2.8 0M360.3 1156a1.5 1.5 0 1 0 3 0a1.5 1.5 0 1 0 -3 0M357.7 1155.1a1.1 1.1 0 1 0 2.1 0a1.1 1.1 0 1 0 -2.1 0M352.5 1154.4a1.9 1.9 0 1 0 3.9 0a1.9 1.9 0 1 0 -3.9 0M265.5 1154.5a1.2 1.2 0 1 0 2.3 0a1.2 1.2 0 1 0 -2.3 0M249.6 1151.3a1.5 1.5 0 1 0 3 0a1.5 1.5 0 1 0 -3 0M271.4 1156.1a1.2 1.2 0 1 0 2.3 0a1.2 1.2 0 1 0 -2.3 0M331.9 1149a1 1 0 1 0 1.9 0a1 1 0 1 0 -1.9 0M336.8 1152.3a1.5 1.5 0 1 0 3 0a1.5 1.5 0 1 0 -3 0M271.4 1155.8a1.2 1.2 0 1 0 2.3 0a1.2 1.2 0 1 0 -2.3 0M326.3 1152.9a1.7 1.7 0 1 0 3.4 0a1.7 1.7 0 1 0 -3.4 0M292.6 1159.2a2 2 0 1 0 4 0a2 2 0 1 0 -4 0M221 1147.6a1 1 0 1 0 2 0a1 1 0 1 0 -2 0M316.1 1157.9a1.6 1.6 0 1 0 3.1 0a1.6 1.6 0 1 0 -3.1 0M249.9 1148.7a1.5 1.5 0 1 0 2.9 0a1.5 1.5 0 1 0 -2.9 0M264.8 1153.7a1.9 1.9 0 1 0 3.8 0a1.9 1.9 0 1 0 -3.8 0M221.1 1147.4a1 1 0 1 0 2 0a1 1 0 1 0 -2 0M357.7 1155.8a0.9 0.9 0 1 0 1.7 0a0.9 0.9 0 1 0 -1.7 0M258 1150.3a1.8 1.8 0 1 0 3.5 0a1.8 1.8 0 1 0 -3.5 0M315.5 1154.8a1.1 1.1 0 1 0 2.2 0a1.1 1.1 0 1 0 -2.2 0M272.4 1151.9a1.1 1.1 0 1 0 2.1 0a1.1 1.1 0 1 0 -2.1 0" fill="#2E9024" opacity="0.8"/>
<path d="M258.1 1150.3a1.7 1.7 0 1 0 3.3 0a1.7 1.7 0 1 0 -3.3 0M303.8 1157.2a1.6 1.6 0 1 0 3.1 0a1.6 1.6 0 1 0 -3.1 0M258.4 1148.1a1.6 1.6 0 1 0 3.3 0a1.6 1.6 0 1 0 -3.3 0M287.6 1159.5a1.4 1.4 0 1 0 2.8 0a1.4 1.4 0 1 0 -2.8 0M293.5 1154.4a1.7 1.7 0 1 0 3.3 0a1.7 1.7 0 1 0 -3.3 0M311.2 1160.8a1.1 1.1 0 1 0 2.2 0a1.1 1.1 0 1 0 -2.2 0M326.1 1151.7a1.6 1.6 0 1 0 3.2 0a1.6 1.6 0 1 0 -3.2 0M336.8 1149.9a1.7 1.7 0 1 0 3.4 0a1.7 1.7 0 1 0 -3.4 0M240.6 1151.5a1.7 1.7 0 1 0 3.4 0a1.7 1.7 0 1 0 -3.4 0M348.1 1153.1a1.4 1.4 0 1 0 2.8 0a1.4 1.4 0 1 0 -2.8 0M232.7 1150.7a1.2 1.2 0 1 0 2.5 0a1.2 1.2 0 1 0 -2.5 0M240.7 1149.4a1.8 1.8 0 1 0 3.6 0a1.8 1.8 0 1 0 -3.6 0M352.8 1154.9a1.5 1.5 0 1 0 3 0a1.5 1.5 0 1 0 -3 0M331.5 1148.3a1.3 1.3 0 1 0 2.7 0a1.3 1.3 0 1 0 -2.7 0M361 1155.4a0.9 0.9 0 1 0 1.8 0a0.9 0.9 0 1 0 -1.8 0M337.4 1150.8a1 1 0 1 0 2 0a1 1 0 1 0 -2 0M287.3 1161.3a1.3 1.3 0 1 0 2.5 0a1.3 1.3 0 1 0 -2.5 0M311.3 1161a1 1 0 1 0 1.9 0a1 1 0 1 0 -1.9 0M257.4 1154.1a1.9 1.9 0 1 0 3.8 0a1.9 1.9 0 1 0 -3.8 0M298.4 1157.3a1.5 1.5 0 1 0 3.1 0a1.5 1.5 0 1 0 -3.1 0M282.7 1155.3a1.8 1.8 0 1 0 3.6 0a1.8 1.8 0 1 0 -3.6 0M331.2 1152.2a1.9 1.9 0 1 0 3.8 0a1.9 1.9 0 1 0 -3.8 0M360.8 1155.1a1.2 1.2 0 1 0 2.4 0a1.2 1.2 0 1 0 -2.4 0M337.6 1150.1a0.9 0.9 0 1 0 1.7 0a0.9 0.9 0 1 0 -1.7 0M272.6 1152.2a0.8 0.8 0 1 0 1.7 0a0.8 0.8 0 1 0 -1.7 0M240.4 1150.7a2 2 0 1 0 4 0a2 2 0 1 0 -4 0M283.5 1153.3a1.6 1.6 0 1 0 3.1 0a1.6 1.6 0 1 0 -3.1 0M360.8 1154.5a1.3 1.3 0 1 0 2.5 0a1.3 1.3 0 1 0 -2.5 0M360.2 1154.6a1.8 1.8 0 1 0 3.6 0a1.8 1.8 0 1 0 -3.6 0M357.9 1153.3a1.2 1.2 0 1 0 2.4 0a1.2 1.2 0 1 0 -2.4 0M360.3 1155.8a1.5 1.5 0 1 0 3.1 0a1.5 1.5 0 1 0 -3.1 0M278.2 1151.6a1.5 1.5 0 1 0 3 0a1.5 1.5 0 1 0 -3 0M220.8 1148.8a1.2 1.2 0 1 0 2.3 0a1.2 1.2 0 1 0 -2.3 0M293.3 1157a1.5 1.5 0 1 0 3.1 0a1.5 1.5 0 1 0 -3.1 0M298.7 1158.9a1.3 1.3 0 1 0 2.6 0a1.3 1.3 0 1 0 -2.6 0M299 1160a1 1 0 1 0 2.1 0a1 1 0 1 0 -2.1 0M352.9 1154.8a1.5 1.5 0 1 0 3 0a1.5 1.5 0 1 0 -3 0M326.1 1152.9a1.8 1.8 0 1 0 3.7 0a1.8 1.8 0 1 0 -3.7 0" fill="#3CB030" opacity="0.8"/>
<path d="M293.2 1160.9a1.1 1.1 0 1 0 2.2 0a1.1 1.1 0 1 0 -2.2 0M331.4 1150.7a1.5 1.5 0 1 0 3.1 0a1.5 1.5 0 1 0 -3.1 0M326.3 1151.2a1.3 1.3 0 1 0 2.6 0a1.3 1.3 0 1 0 -2.6 0M303.2 1155.6a1.8 1.8 0 1 0 3.7 0a1.8 1.8 0 1 0 -3.7 0M315.1 1153a1 1 0 1 0 2 0a1 1 0 1 0 -2 0M347.8 1152.6a1.8 1.8 0 1 0 3.6 0a1.8 1.8 0 1 0 -3.6 0M331.7 1149.6a1.2 1.2 0 1 0 2.3 0a1.2 1.2 0 1 0 -2.3 0M282.9 1154.8a1.8 1.8 0 1 0 3.6 0a1.8 1.8 0 1 0 -3.6 0M321.2 1153.8a1.3 1.3 0 1 0 2.6 0a1.3 1.3 0 1 0 -2.6 0M265 1152.8a1.9 1.9 0 1 0 3.8 0a1.9 1.9 0 1 0 -3.8 0M241.4 1147.9a1.2 1.2 0 1 0 2.4 0a1.2 1.2 0 1 0 -2.4 0M225.8 1147.9a1.3 1.3 0 1 0 2.6 0a1.3 1.3 0 1 0 -2.6 0M233 1148.2a1.1 1.1 0 1 0 2.3 0a1.1 1.1 0 1 0 -2.3 0M348.4 1151.3a1.3 1.3 0 1 0 2.7 0a1.3 1.3 0 1 0 -2.7 0M320.6 1153.8a1.8 1.8 0 1 0 3.6 0a1.8 1.8 0 1 0 -3.6 0M310.1 1160.1a1.9 1.9 0 1 0 3.8 0a1.9 1.9 0 1 0 -3.8 0M357.7 1154.5a1.1 1.1 0 1 0 2.3 0a1.1 1.1 0 1 0 -2.3 0M314.2 1151.6a1.4 1.4 0 1 0 2.9 0a1.4 1.4 0 1 0 -2.9 0M225.2 1149.6a1.7 1.7 0 1 0 3.5 0a1.7 1.7 0 1 0 -3.5 0M293 1161.1a1.3 1.3 0 1 0 2.6 0a1.3 1.3 0 1 0 -2.6 0M271 1154.7a1.8 1.8 0 1 0 3.6 0a1.8 1.8 0 1 0 -3.6 0M348.1 1152.8a1.4 1.4 0 1 0 2.8 0a1.4 1.4 0 1 0 -2.8 0M353.8 1152.7a1 1 0 1 0 2 0a1 1 0 1 0 -2 0M271.7 1156.4a0.8 0.8 0 1 0 1.6 0a0.8 0.8 0 1 0 -1.6 0M320.9 1152.5a1.1 1.1 0 1 0 2.2 0a1.1 1.1 0 1 0 -2.2 0M272 1151.3a1.6 1.6 0 1 0 3.2 0a1.6 1.6 0 1 0 -3.2 0M258.3 1152.1a1.3 1.3 0 1 0 2.5 0a1.3 1.3 0 1 0 -2.5 0M299.2 1161.9a0.9 0.9 0 1 0 1.8 0a0.9 0.9 0 1 0 -1.8 0M220.2 1148.2a1.8 1.8 0 1 0 3.5 0a1.8 1.8 0 1 0 -3.5 0M299.1 1158.5a0.9 0.9 0 1 0 1.8 0a0.9 0.9 0 1 0 -1.8 0M360.5 1155.3a1.4 1.4 0 1 0 2.8 0a1.4 1.4 0 1 0 -2.8 0M347.8 1153.3a1.6 1.6 0 1 0 3.3 0a1.6 1.6 0 1 0 -3.3 0M336.6 1152a1.7 1.7 0 1 0 3.4 0a1.7 1.7 0 1 0 -3.4 0M271.9 1152.6a1.4 1.4 0 1 0 2.9 0a1.4 1.4 0 1 0 -2.9 0M357.7 1153.5a1.4 1.4 0 1 0 2.8 0a1.4 1.4 0 1 0 -2.8 0M249.8 1148.1a1.6 1.6 0 1 0 3.2 0a1.6 1.6 0 1 0 -3.2 0" fill="#14480E" opacity="0.8"/>
</g>
</g>
<g filter="url(#blur1)">
<polygon points="381.2,1021.4 384,1022 387.7,1022.9 392.4,1024 397.9,1025 403.8,1025.7 410,1026 416.8,1025.8 424.1,1025.2 431.8,1024.3 439.5,1023.4 447,1022.4 453.9,1021.4 460.3,1020.3 466.3,1018.9 472,1017.6 477.4,1016.4 482.4,1015.5 487.2,1015 491.8,1014.8 496.3,1014.9 500.7,1015.3 505.1,1015.8 509.6,1016.6 514.2,1017.4 519.2,1018.2 524.6,1019.4 530.1,1020.8 535.2,1022.1 539.6,1023.1 542.8,1023.7 543.2,1022.3 540.3,1020.8 536.3,1018.9 531.4,1016.7 526.2,1014.5 520.8,1012.4 515.8,1010.6 511.2,1009.3 506.7,1008 502.1,1006.9 497.3,1005.9 492.2,1005.3 486.8,1005 481.2,1005.4 475.5,1006.2 469.8,1007.3 464.1,1008.5 458.3,1009.6 452.1,1010.6 445.4,1011.6 438,1012.8 430.5,1013.9 423,1014.9 416,1015.6 410,1016 404.5,1015.9 399.2,1015.4 394.2,1014.6 389.7,1013.8 385.8,1013 382.8,1012.6" fill="#600C06" stroke="#600C06" stroke-width="2" opacity="0.6" stroke-linejoin="round"/>
<polygon points="381.2,1021.4 384,1022 387.7,1022.9 392.4,1024 397.9,1025 403.8,1025.7 410,1026 416.8,1025.8 424.1,1025.2 431.8,1024.3 439.5,1023.4 447,1022.4 453.9,1021.4 460.3,1020.3 466.3,1018.9 472,1017.6 477.4,1016.4 482.4,1015.5 487.2,1015 491.8,1014.8 496.3,1014.9 500.7,1015.3 505.1,1015.8 509.6,1016.6 514.2,1017.4 519.2,1018.2 524.6,1019.4 530.1,1020.8 535.2,1022.1 539.6,1023.1 542.8,1023.7 543.2,1022.3 540.3,1020.8 536.3,1018.9 531.4,1016.7 526.2,1014.5 520.8,1012.4 515.8,1010.6 511.2,1009.3 506.7,1008 502.1,1006.9 497.3,1005.9 492.2,1005.3 486.8,1005 481.2,1005.4 475.5,1006.2 469.8,1007.3 464.1,1008.5 458.3,1009.6 452.1,1010.6 445.4,1011.6 438,1012.8 430.5,1013.9 423,1014.9 416,1015.6 410,1016 404.5,1015.9 399.2,1015.4 394.2,1014.6 389.7,1013.8 385.8,1013 382.8,1012.6" fill="#FF2A10" stroke="#FF2A10" stroke-width="0.6" opacity="1" stroke-linejoin="round"/>
<clipPath id="w8"><polygon points="381.2,1021.4 384,1022 387.7,1022.9 392.4,1024 397.9,1025 403.8,1025.7 410,1026 416.8,1025.8 424.1,1025.2 431.8,1024.3 439.5,1023.4 447,1022.4 453.9,1021.4 460.3,1020.3 466.3,1018.9 472,1017.6 477.4,1016.4 482.4,1015.5 487.2,1015 491.8,1014.8 496.3,1014.9 500.7,1015.3 505.1,1015.8 509.6,1016.6 514.2,1017.4 519.2,1018.2 524.6,1019.4 530.1,1020.8 535.2,1022.1 539.6,1023.1 542.8,1023.7 543.2,1022.3 540.3,1020.8 536.3,1018.9 531.4,1016.7 526.2,1014.5 520.8,1012.4 515.8,1010.6 511.2,1009.3 506.7,1008 502.1,1006.9 497.3,1005.9 492.2,1005.3 486.8,1005 481.2,1005.4 475.5,1006.2 469.8,1007.3 464.1,1008.5 458.3,1009.6 452.1,1010.6 445.4,1011.6 438,1012.8 430.5,1013.9 423,1014.9 416,1015.6 410,1016 404.5,1015.9 399.2,1015.4 394.2,1014.6 389.7,1013.8 385.8,1013 382.8,1012.6"/></clipPath><g clip-path="url(#w8)">
<path d="M397.2 1015.5a2 2 0 1 0 3.9 0a2 2 0 1 0 -3.9 0M518.9 1012.7a1.8 1.8 0 1 0 3.6 0a1.8 1.8 0 1 0 -3.6 0M464.4 1018a1.7 1.7 0 1 0 3.4 0a1.7 1.7 0 1 0 -3.4 0M533.9 1020.7a1.7 1.7 0 1 0 3.4 0a1.7 1.7 0 1 0 -3.4 0M429.4 1016.3a1.3 1.3 0 1 0 2.7 0a1.3 1.3 0 1 0 -2.7 0M437.1 1014.1a1.1 1.1 0 1 0 2.2 0a1.1 1.1 0 1 0 -2.2 0M500.1 1013.5a0.9 0.9 0 1 0 1.8 0a0.9 0.9 0 1 0 -1.8 0M430.3 1021.9a1.2 1.2 0 1 0 2.4 0a1.2 1.2 0 1 0 -2.4 0M457.9 1013.7a1.1 1.1 0 1 0 2.2 0a1.1 1.1 0 1 0 -2.2 0M475.1 1013.5a1.8 1.8 0 1 0 3.5 0a1.8 1.8 0 1 0 -3.5 0M508.5 1015.9a1.2 1.2 0 1 0 2.5 0a1.2 1.2 0 1 0 -2.5 0M457.8 1014.2a1.3 1.3 0 1 0 2.7 0a1.3 1.3 0 1 0 -2.7 0M475 1014.1a2 2 0 1 0 4 0a2 2 0 1 0 -4 0M392.4 1015.6a1.6 1.6 0 1 0 3.1 0a1.6 1.6 0 1 0 -3.1 0M475.1 1012.5a1.6 1.6 0 1 0 3.2 0a1.6 1.6 0 1 0 -3.2 0M505.1 1008.2a1.5 1.5 0 1 0 3.1 0a1.5 1.5 0 1 0 -3.1 0M500.5 1008.3a1.3 1.3 0 1 0 2.6 0a1.3 1.3 0 1 0 -2.6 0M523.7 1018.8a1.1 1.1 0 1 0 2.1 0a1.1 1.1 0 1 0 -2.1 0M529.4 1017.3a1.8 1.8 0 1 0 3.7 0a1.8 1.8 0 1 0 -3.7 0M538.7 1023.1a0.9 0.9 0 1 0 1.8 0a0.9 0.9 0 1 0 -1.8 0M519.3 1013.4a1.3 1.3 0 1 0 2.5 0a1.3 1.3 0 1 0 -2.5 0M523 1019.2a1.7 1.7 0 1 0 3.4 0a1.7 1.7 0 1 0 -3.4 0" fill="#E01A08" opacity="0.8"/>
<path d="M437.8 1021.1a1.4 1.4 0 1 0 2.9 0a1.4 1.4 0 1 0 -2.9 0M499.7 1011.2a1.7 1.7 0 1 0 3.3 0a1.7 1.7 0 1 0 -3.3 0M402.3 1020.7a1.8 1.8 0 1 0 3.6 0a1.8 1.8 0 1 0 -3.6 0M484.9 1008.2a2 2 0 1 0 4 0a2 2 0 1 0 -4 0M408.8 1017.9a1.1 1.1 0 1 0 2.3 0a1.1 1.1 0 1 0 -2.3 0M387.5 1019a1.1 1.1 0 1 0 2.2 0a1.1 1.1 0 1 0 -2.2 0M457.5 1012.4a1.3 1.3 0 1 0 2.6 0a1.3 1.3 0 1 0 -2.6 0M429.8 1021.9a1.7 1.7 0 1 0 3.4 0a1.7 1.7 0 1 0 -3.4 0M429.5 1015a1.1 1.1 0 1 0 2.2 0a1.1 1.1 0 1 0 -2.2 0M481 1010.7a0.9 0.9 0 1 0 1.7 0a0.9 0.9 0 1 0 -1.7 0M541.3 1022.6a1.9 1.9 0 1 0 3.7 0a1.9 1.9 0 1 0 -3.7 0M381.3 1015.4a1 1 0 1 0 1.9 0a1 1 0 1 0 -1.9 0M541.8 1023.1a1.1 1.1 0 1 0 2.3 0a1.1 1.1 0 1 0 -2.3 0M430.5 1021.6a0.9 0.9 0 1 0 1.8 0a0.9 0.9 0 1 0 -1.8 0M500.4 1010.8a1 1 0 1 0 2.1 0a1 1 0 1 0 -2.1 0M457.1 1009.7a1.2 1.2 0 1 0 2.4 0a1.2 1.2 0 1 0 -2.4 0M415.6 1024.7a1.1 1.1 0 1 0 2.2 0a1.1 1.1 0 1 0 -2.2 0M415.6 1024.3a1.1 1.1 0 1 0 2.2 0a1.1 1.1 0 1 0 -2.2 0M421.1 1015.8a2 2 0 1 0 4 0a2 2 0 1 0 -4 0M456.4 1010.1a1.9 1.9 0 1 0 3.8 0a1.9 1.9 0 1 0 -3.8 0M415.5 1022.6a1 1 0 1 0 2 0a1 1 0 1 0 -2 0M464.7 1018.3a1.5 1.5 0 1 0 3 0a1.5 1.5 0 1 0 -3 0M468.9 1008.5a1.2 1.2 0 1 0 2.3 0a1.2 1.2 0 1 0 -2.3 0M463 1011.9a1.8 1.8 0 1 0 3.6 0a1.8 1.8 0 1 0 -3.6 0M421.8 1021.7a1.9 1.9 0 1 0 3.8 0a1.9 1.9 0 1 0 -3.8 0M500.1 1011.2a1.2 1.2 0 1 0 2.5 0a1.2 1.2 0 1 0 -2.5 0M457.7 1013.6a1.3 1.3 0 1 0 2.6 0a1.3 1.3 0 1 0 -2.6 0M537.8 1022.9a1.9 1.9 0 1 0 3.7 0a1.9 1.9 0 1 0 -3.7 0" fill="#FF3A20" opacity="0.8"/>
</g>
</g>
<g filter="url(#blur1)">
<polygon points="385.2,1083.6 387.3,1084.8 390.2,1086.6 393.8,1088.7 398.2,1091 403.2,1093.1 408.8,1094.9 415,1096.2 421.8,1097.5 429.3,1098.7 437.2,1099.6 445.2,1100.1 453.2,1100 461.2,1099.2 469.5,1097.9 477.8,1096.3 486,1094.2 494,1091.7 501.6,1088.7 508.9,1084.5 516.1,1079.3 522.9,1073.9 529,1068.6 534,1064.1 537.6,1060.8 536.4,1059.2 532.2,1061.7 526.6,1065.5 520,1069.9 512.8,1074.4 505.5,1078.4 498.4,1081.3 491.4,1083.8 483.8,1085.8 476,1087.5 468,1088.7 460.2,1089.6 452.8,1090 445.5,1090.1 438.1,1089.6 430.7,1088.8 423.6,1087.7 417,1086.4 411.2,1085.1 406.3,1083.9 401.8,1082.4 397.8,1080.7 394.3,1079 391.2,1077.5 388.8,1076.4" fill="#500806" stroke="#500806" stroke-width="2" opacity="0.6" stroke-linejoin="round"/>
<polygon points="385.2,1083.6 387.3,1084.8 390.2,1086.6 393.8,1088.7 398.2,1091 403.2,1093.1 408.8,1094.9 415,1096.2 421.8,1097.5 429.3,1098.7 437.2,1099.6 445.2,1100.1 453.2,1100 461.2,1099.2 469.5,1097.9 477.8,1096.3 486,1094.2 494,1091.7 501.6,1088.7 508.9,1084.5 516.1,1079.3 522.9,1073.9 529,1068.6 534,1064.1 537.6,1060.8 536.4,1059.2 532.2,1061.7 526.6,1065.5 520,1069.9 512.8,1074.4 505.5,1078.4 498.4,1081.3 491.4,1083.8 483.8,1085.8 476,1087.5 468,1088.7 460.2,1089.6 452.8,1090 445.5,1090.1 438.1,1089.6 430.7,1088.8 423.6,1087.7 417,1086.4 411.2,1085.1 406.3,1083.9 401.8,1082.4 397.8,1080.7 394.3,1079 391.2,1077.5 388.8,1076.4" fill="#EE2010" stroke="#EE2010" stroke-width="0.6" opacity="1" stroke-linejoin="round"/>
<clipPath id="w9"><polygon points="385.2,1083.6 387.3,1084.8 390.2,1086.6 393.8,1088.7 398.2,1091 403.2,1093.1 408.8,1094.9 415,1096.2 421.8,1097.5 429.3,1098.7 437.2,1099.6 445.2,1100.1 453.2,1100 461.2,1099.2 469.5,1097.9 477.8,1096.3 486,1094.2 494,1091.7 501.6,1088.7 508.9,1084.5 516.1,1079.3 522.9,1073.9 529,1068.6 534,1064.1 537.6,1060.8 536.4,1059.2 532.2,1061.7 526.6,1065.5 520,1069.9 512.8,1074.4 505.5,1078.4 498.4,1081.3 491.4,1083.8 483.8,1085.8 476,1087.5 468,1088.7 460.2,1089.6 452.8,1090 445.5,1090.1 438.1,1089.6 430.7,1088.8 423.6,1087.7 417,1086.4 411.2,1085.1 406.3,1083.9 401.8,1082.4 397.8,1080.7 394.3,1079 391.2,1077.5 388.8,1076.4"/></clipPath><g clip-path="url(#w9)">
<path d="M393 1086.9a1.7 1.7 0 1 0 3.4 0a1.7 1.7 0 1 0 -3.4 0M409.4 1088.7a0.9 0.9 0 1 0 1.9 0a0.9 0.9 0 1 0 -1.9 0M387.8 1080.2a1.9 1.9 0 1 0 3.9 0a1.9 1.9 0 1 0 -3.9 0M444.3 1091.7a1.1 1.1 0 1 0 2.3 0a1.1 1.1 0 1 0 -2.3 0M387.2 1083a1.1 1.1 0 1 0 2.1 0a1.1 1.1 0 1 0 -2.1 0M513.5 1076.8a0.9 0.9 0 1 0 1.8 0a0.9 0.9 0 1 0 -1.8 0M397.9 1087.6a1.7 1.7 0 1 0 3.4 0a1.7 1.7 0 1 0 -3.4 0M403.5 1088.3a1.3 1.3 0 1 0 2.7 0a1.3 1.3 0 1 0 -2.7 0M403.1 1088.6a1.6 1.6 0 1 0 3.3 0a1.6 1.6 0 1 0 -3.3 0M490.7 1086.6a1.6 1.6 0 1 0 3.2 0a1.6 1.6 0 1 0 -3.2 0M535.5 1059.5a1.1 1.1 0 1 0 2.3 0a1.1 1.1 0 1 0 -2.3 0M474.8 1090a1.7 1.7 0 1 0 3.4 0a1.7 1.7 0 1 0 -3.4 0M436.2 1096.8a1.2 1.2 0 1 0 2.4 0a1.2 1.2 0 1 0 -2.4 0M428.3 1095.3a1.5 1.5 0 1 0 3.1 0a1.5 1.5 0 1 0 -3.1 0M535.4 1060.3a1.7 1.7 0 1 0 3.5 0a1.7 1.7 0 1 0 -3.5 0M512.9 1077.5a2 2 0 1 0 4 0a2 2 0 1 0 -4 0M444.5 1093.3a0.9 0.9 0 1 0 1.9 0a0.9 0.9 0 1 0 -1.9 0M499.7 1086.5a1 1 0 1 0 1.9 0a1 1 0 1 0 -1.9 0M531.3 1061.9a1 1 0 1 0 1.9 0a1 1 0 1 0 -1.9 0M519.2 1070.8a1.4 1.4 0 1 0 2.8 0a1.4 1.4 0 1 0 -2.8 0M476.2 1092.8a0.8 0.8 0 1 0 1.6 0a0.8 0.8 0 1 0 -1.6 0M398 1087.8a1.6 1.6 0 1 0 3.1 0a1.6 1.6 0 1 0 -3.1 0M397.6 1088.2a1.7 1.7 0 1 0 3.4 0a1.7 1.7 0 1 0 -3.4 0M458.9 1091.2a1.5 1.5 0 1 0 3 0a1.5 1.5 0 1 0 -3 0M467.7 1094.8a1.3 1.3 0 1 0 2.6 0a1.3 1.3 0 1 0 -2.6 0M414.9 1089.6a1.4 1.4 0 1 0 2.7 0a1.4 1.4 0 1 0 -2.7 0M520.6 1073.5a2 2 0 1 0 4 0a2 2 0 1 0 -4 0M475.5 1091.3a1.3 1.3 0 1 0 2.5 0a1.3 1.3 0 1 0 -2.5 0M521.5 1073.4a1.1 1.1 0 1 0 2.2 0a1.1 1.1 0 1 0 -2.2 0" fill="#FF3018" opacity="0.8"/>
<path d="M507.2 1083.8a1.3 1.3 0 1 0 2.6 0a1.3 1.3 0 1 0 -2.6 0M428.9 1093.7a1.1 1.1 0 1 0 2.2 0a1.1 1.1 0 1 0 -2.2 0M420.2 1096.8a1.7 1.7 0 1 0 3.5 0a1.7 1.7 0 1 0 -3.5 0M526.7 1067.3a1.3 1.3 0 1 0 2.6 0a1.3 1.3 0 1 0 -2.6 0M534.6 1059.2a1.8 1.8 0 1 0 3.7 0a1.8 1.8 0 1 0 -3.7 0M393.4 1086.3a1.6 1.6 0 1 0 3.2 0a1.6 1.6 0 1 0 -3.2 0M408.8 1091.1a1 1 0 1 0 1.9 0a1 1 0 1 0 -1.9 0M396 1081.3a1.5 1.5 0 1 0 3 0a1.5 1.5 0 1 0 -3 0M476.2 1095.2a1.4 1.4 0 1 0 2.7 0a1.4 1.4 0 1 0 -2.7 0M484.1 1092.4a1.5 1.5 0 1 0 3 0a1.5 1.5 0 1 0 -3 0M506.8 1082.9a1.3 1.3 0 1 0 2.5 0a1.3 1.3 0 1 0 -2.5 0M399.1 1086.2a1.1 1.1 0 1 0 2.1 0a1.1 1.1 0 1 0 -2.1 0M520.1 1071.6a1.1 1.1 0 1 0 2.3 0a1.1 1.1 0 1 0 -2.3 0M386.9 1077.1a1.5 1.5 0 1 0 3 0a1.5 1.5 0 1 0 -3 0M475.5 1090.1a1 1 0 1 0 1.9 0a1 1 0 1 0 -1.9 0M520.9 1073.7a1.9 1.9 0 1 0 3.7 0a1.9 1.9 0 1 0 -3.7 0M384.4 1083.2a1 1 0 1 0 2.1 0a1 1 0 1 0 -2.1 0M532 1063a1.2 1.2 0 1 0 2.4 0a1.2 1.2 0 1 0 -2.4 0M436.9 1092.4a0.9 0.9 0 1 0 1.9 0a0.9 0.9 0 1 0 -1.9 0M519.3 1070.2a0.9 0.9 0 1 0 1.8 0a0.9 0.9 0 1 0 -1.8 0M505.8 1080.6a0.9 0.9 0 1 0 1.8 0a0.9 0.9 0 1 0 -1.8 0" fill="#B81408" opacity="0.8"/>
</g>
</g>
<g filter="url(#blur1)">
<polygon points="386.7,1144.5 390.1,1145.4 394.6,1146.5 399.9,1147.8 405.9,1149.4 412.4,1151.2 418.9,1153.3 426.2,1156 434.6,1159.5 443.5,1163.3 452.5,1167 461.3,1170 469.4,1172 476.8,1172.5 483.6,1172.2 490,1171.2 495.9,1169.7 501.4,1167.8 506.7,1165.6 511.8,1162.4 516.5,1158.5 520.7,1154.3 524.4,1150.3 527.3,1146.9 529.4,1144.5 526.6,1141.5 524,1143.6 520.6,1146.5 516.6,1149.9 512.3,1153.3 507.8,1156.3 503.3,1158.4 498.6,1160.3 493.6,1162 488.4,1163.4 482.8,1164.3 476.9,1164.5 470.6,1164 463.4,1162.5 455.1,1159.8 446.3,1156.3 437.4,1152.7 428.8,1149.3 421.1,1146.7 413.9,1145 407.1,1143.8 400.8,1142.9 395.3,1142.3 390.7,1141.8 387.3,1141.5" fill="#400606" stroke="#400606" stroke-width="2" opacity="0.6" stroke-linejoin="round"/>
<polygon points="386.7,1144.5 390.1,1145.4 394.6,1146.5 399.9,1147.8 405.9,1149.4 412.4,1151.2 418.9,1153.3 426.2,1156 434.6,1159.5 443.5,1163.3 452.5,1167 461.3,1170 469.4,1172 476.8,1172.5 483.6,1172.2 490,1171.2 495.9,1169.7 501.4,1167.8 506.7,1165.6 511.8,1162.4 516.5,1158.5 520.7,1154.3 524.4,1150.3 527.3,1146.9 529.4,1144.5 526.6,1141.5 524,1143.6 520.6,1146.5 516.6,1149.9 512.3,1153.3 507.8,1156.3 503.3,1158.4 498.6,1160.3 493.6,1162 488.4,1163.4 482.8,1164.3 476.9,1164.5 470.6,1164 463.4,1162.5 455.1,1159.8 446.3,1156.3 437.4,1152.7 428.8,1149.3 421.1,1146.7 413.9,1145 407.1,1143.8 400.8,1142.9 395.3,1142.3 390.7,1141.8 387.3,1141.5" fill="#B81616" stroke="#B81616" stroke-width="0.6" opacity="1" stroke-linejoin="round"/>
<clipPath id="w10"><polygon points="386.7,1144.5 390.1,1145.4 394.6,1146.5 399.9,1147.8 405.9,1149.4 412.4,1151.2 418.9,1153.3 426.2,1156 434.6,1159.5 443.5,1163.3 452.5,1167 461.3,1170 469.4,1172 476.8,1172.5 483.6,1172.2 490,1171.2 495.9,1169.7 501.4,1167.8 506.7,1165.6 511.8,1162.4 516.5,1158.5 520.7,1154.3 524.4,1150.3 527.3,1146.9 529.4,1144.5 526.6,1141.5 524,1143.6 520.6,1146.5 516.6,1149.9 512.3,1153.3 507.8,1156.3 503.3,1158.4 498.6,1160.3 493.6,1162 488.4,1163.4 482.8,1164.3 476.9,1164.5 470.6,1164 463.4,1162.5 455.1,1159.8 446.3,1156.3 437.4,1152.7 428.8,1149.3 421.1,1146.7 413.9,1145 407.1,1143.8 400.8,1142.9 395.3,1142.3 390.7,1141.8 387.3,1141.5"/></clipPath><g clip-path="url(#w10)">
<path d="M524.3 1144.9a1.1 1.1 0 1 0 2.1 0a1.1 1.1 0 1 0 -2.1 0M405.5 1143.9a1.6 1.6 0 1 0 3.1 0a1.6 1.6 0 1 0 -3.1 0M388.4 1144.9a1.7 1.7 0 1 0 3.5 0a1.7 1.7 0 1 0 -3.5 0M393.8 1145.2a1 1 0 1 0 2 0a1 1 0 1 0 -2 0M520.2 1147.3a1.1 1.1 0 1 0 2.2 0a1.1 1.1 0 1 0 -2.2 0M459.8 1169.8a1.5 1.5 0 1 0 3 0a1.5 1.5 0 1 0 -3 0M398.6 1146.5a1.6 1.6 0 1 0 3.1 0a1.6 1.6 0 1 0 -3.1 0M385 1143.5a1.9 1.9 0 1 0 3.8 0a1.9 1.9 0 1 0 -3.8 0M433 1159.3a1.6 1.6 0 1 0 3.2 0a1.6 1.6 0 1 0 -3.2 0M500.4 1167.6a1 1 0 1 0 2 0a1 1 0 1 0 -2 0M475.7 1170.3a1.1 1.1 0 1 0 2.2 0a1.1 1.1 0 1 0 -2.2 0M453 1160.2a2 2 0 1 0 4 0a2 2 0 1 0 -4 0M404 1149.2a2 2 0 1 0 3.9 0a2 2 0 1 0 -3.9 0M398.7 1145.5a1.7 1.7 0 1 0 3.4 0a1.7 1.7 0 1 0 -3.4 0M460.9 1164.5a1.9 1.9 0 1 0 3.9 0a1.9 1.9 0 1 0 -3.9 0M425.4 1153.7a1.7 1.7 0 1 0 3.5 0a1.7 1.7 0 1 0 -3.5 0M385.3 1143.6a1.6 1.6 0 1 0 3.3 0a1.6 1.6 0 1 0 -3.3 0M481.5 1169.9a1.9 1.9 0 1 0 3.9 0a1.9 1.9 0 1 0 -3.9 0M497 1160.9a1.8 1.8 0 1 0 3.6 0a1.8 1.8 0 1 0 -3.6 0M461.2 1165.1a1.5 1.5 0 1 0 2.9 0a1.5 1.5 0 1 0 -2.9 0M435.1 1154a1.7 1.7 0 1 0 3.5 0a1.7 1.7 0 1 0 -3.5 0M498.8 1165.2a1.7 1.7 0 1 0 3.3 0a1.7 1.7 0 1 0 -3.3 0M525.8 1146.3a0.9 0.9 0 1 0 1.9 0a0.9 0.9 0 1 0 -1.9 0M443.9 1159.1a1.3 1.3 0 1 0 2.6 0a1.3 1.3 0 1 0 -2.6 0M435.1 1155.2a1.2 1.2 0 1 0 2.4 0a1.2 1.2 0 1 0 -2.4 0M468.2 1168.9a1.6 1.6 0 1 0 3.3 0a1.6 1.6 0 1 0 -3.3 0M393.9 1145.2a0.9 0.9 0 1 0 1.9 0a0.9 0.9 0 1 0 -1.9 0" fill="#D82020" opacity="0.8"/>
<path d="M507.6 1158.3a1.5 1.5 0 1 0 3 0a1.5 1.5 0 1 0 -3 0M487.8 1167.3a1.3 1.3 0 1 0 2.7 0a1.3 1.3 0 1 0 -2.7 0M492.2 1162.3a1.6 1.6 0 1 0 3.1 0a1.6 1.6 0 1 0 -3.1 0M502.6 1160.7a1.8 1.8 0 1 0 3.6 0a1.8 1.8 0 1 0 -3.6 0M488.3 1170.2a1.4 1.4 0 1 0 2.9 0a1.4 1.4 0 1 0 -2.9 0M425.6 1153.4a1.6 1.6 0 1 0 3.3 0a1.6 1.6 0 1 0 -3.3 0M468.5 1166.8a1.7 1.7 0 1 0 3.4 0a1.7 1.7 0 1 0 -3.4 0M424.4 1155.9a1.9 1.9 0 1 0 3.7 0a1.9 1.9 0 1 0 -3.7 0M487.9 1165a0.8 0.8 0 1 0 1.6 0a0.8 0.8 0 1 0 -1.6 0M524.4 1145a1 1 0 1 0 1.9 0a1 1 0 1 0 -1.9 0M435.2 1153.9a1.6 1.6 0 1 0 3.3 0a1.6 1.6 0 1 0 -3.3 0M426.5 1152.4a1.1 1.1 0 1 0 2.2 0a1.1 1.1 0 1 0 -2.2 0M526.8 1143.5a1.6 1.6 0 1 0 3.3 0a1.6 1.6 0 1 0 -3.3 0M475.6 1172.1a1.1 1.1 0 1 0 2.2 0a1.1 1.1 0 1 0 -2.2 0M475.4 1166.4a1.5 1.5 0 1 0 3 0a1.5 1.5 0 1 0 -3 0M518.2 1153.7a2 2 0 1 0 4 0a2 2 0 1 0 -4 0M503 1161.9a2 2 0 1 0 4 0a2 2 0 1 0 -4 0M432.8 1159.1a1.9 1.9 0 1 0 3.8 0a1.9 1.9 0 1 0 -3.8 0M435.9 1153.7a1 1 0 1 0 2.1 0a1 1 0 1 0 -2.1 0M412.4 1147.3a1 1 0 1 0 1.9 0a1 1 0 1 0 -1.9 0M515.1 1158.1a1.1 1.1 0 1 0 2.1 0a1.1 1.1 0 1 0 -2.1 0M503.1 1161a1.4 1.4 0 1 0 2.8 0a1.4 1.4 0 1 0 -2.8 0M393.3 1144.4a1.6 1.6 0 1 0 3.2 0a1.6 1.6 0 1 0 -3.2 0" fill="#801010" opacity="0.8"/>
</g>
</g>
<g filter="url(#blur1)">
<polygon points="561.9,1011 564.6,1010.6 568.2,1009.9 572.4,1009.1 576.9,1008.3 581.4,1007.5 585.5,1007 589.2,1006.5 592.8,1006 596.4,1005.6 599.9,1005.4 603.4,1005.2 606.8,1005.2 610.3,1005.2 613.7,1005.3 617.2,1005.6 620.7,1005.9 624.1,1006.3 627.5,1006.7 631,1007.2 634.4,1007.7 637.8,1008.3 641.1,1008.9 644.3,1009.6 647.4,1010.3 650.3,1011 653.1,1011.8 655.8,1012.5 658.4,1013.4 661,1014.3 663.7,1015.2 666.2,1016.2 668.5,1017.3 670.9,1018.4 673.6,1019.7 676.8,1021.2 680.5,1022.8 685.5,1024.4 691.4,1026.5 697.8,1028.6 704,1030.6 709.2,1032.3 712.9,1033.4 713.7,1031.6 710.2,1029.8 705.2,1027.5 699.3,1024.9 693.2,1022.1 687.5,1019.5 682.9,1017.2 679.4,1015.6 676.4,1014.1 673.9,1012.7 671.5,1011.3 669,1010 666.3,1008.8 663.5,1007.6 660.7,1006.6 658,1005.6 655.2,1004.7 652.2,1003.9 649.2,1003.1 646,1002.3 642.6,1001.6 639.1,1000.9 635.6,1000.3 632,999.7 628.5,999.3 624.9,998.9 621.3,998.6 617.7,998.3 614,998.2 610.3,998.1 606.6,998.2 602.9,998.6 599.2,999.1 595.6,999.7 591.9,1000.4 588.3,1001.2 584.5,1002 580.5,1003.1 576,1004.4 571.6,1005.7 567.4,1007 564,1008.2 561.5,1009" fill="#1E6A16" stroke="#1E6A16" stroke-width="4" opacity="0.5" stroke-linejoin="round"/>
<polygon points="561.9,1011 564.6,1010.6 568.2,1009.9 572.4,1009.1 576.9,1008.3 581.4,1007.5 585.5,1007 589.2,1006.5 592.8,1006 596.4,1005.6 599.9,1005.4 603.4,1005.2 606.8,1005.2 610.3,1005.2 613.7,1005.3 617.2,1005.6 620.7,1005.9 624.1,1006.3 627.5,1006.7 631,1007.2 634.4,1007.7 637.8,1008.3 641.1,1008.9 644.3,1009.6 647.4,1010.3 650.3,1011 653.1,1011.8 655.8,1012.5 658.4,1013.4 661,1014.3 663.7,1015.2 666.2,1016.2 668.5,1017.3 670.9,1018.4 673.6,1019.7 676.8,1021.2 680.5,1022.8 685.5,1024.4 691.4,1026.5 697.8,1028.6 704,1030.6 709.2,1032.3 712.9,1033.4 713.7,1031.6 710.2,1029.8 705.2,1027.5 699.3,1024.9 693.2,1022.1 687.5,1019.5 682.9,1017.2 679.4,1015.6 676.4,1014.1 673.9,1012.7 671.5,1011.3 669,1010 666.3,1008.8 663.5,1007.6 660.7,1006.6 658,1005.6 655.2,1004.7 652.2,1003.9 649.2,1003.1 646,1002.3 642.6,1001.6 639.1,1000.9 635.6,1000.3 632,999.7 628.5,999.3 624.9,998.9 621.3,998.6 617.7,998.3 614,998.2 610.3,998.1 606.6,998.2 602.9,998.6 599.2,999.1 595.6,999.7 591.9,1000.4 588.3,1001.2 584.5,1002 580.5,1003.1 576,1004.4 571.6,1005.7 567.4,1007 564,1008.2 561.5,1009" fill="#46E636" stroke="#46E636" stroke-width="0.6" opacity="1" stroke-linejoin="round"/>
<clipPath id="w11"><polygon points="561.9,1011 564.6,1010.6 568.2,1009.9 572.4,1009.1 576.9,1008.3 581.4,1007.5 585.5,1007 589.2,1006.5 592.8,1006 596.4,1005.6 599.9,1005.4 603.4,1005.2 606.8,1005.2 610.3,1005.2 613.7,1005.3 617.2,1005.6 620.7,1005.9 624.1,1006.3 627.5,1006.7 631,1007.2 634.4,1007.7 637.8,1008.3 641.1,1008.9 644.3,1009.6 647.4,1010.3 650.3,1011 653.1,1011.8 655.8,1012.5 658.4,1013.4 661,1014.3 663.7,1015.2 666.2,1016.2 668.5,1017.3 670.9,1018.4 673.6,1019.7 676.8,1021.2 680.5,1022.8 685.5,1024.4 691.4,1026.5 697.8,1028.6 704,1030.6 709.2,1032.3 712.9,1033.4 713.7,1031.6 710.2,1029.8 705.2,1027.5 699.3,1024.9 693.2,1022.1 687.5,1019.5 682.9,1017.2 679.4,1015.6 676.4,1014.1 673.9,1012.7 671.5,1011.3 669,1010 666.3,1008.8 663.5,1007.6 660.7,1006.6 658,1005.6 655.2,1004.7 652.2,1003.9 649.2,1003.1 646,1002.3 642.6,1001.6 639.1,1000.9 635.6,1000.3 632,999.7 628.5,999.3 624.9,998.9 621.3,998.6 617.7,998.3 614,998.2 610.3,998.1 606.6,998.2 602.9,998.6 599.2,999.1 595.6,999.7 591.9,1000.4 588.3,1001.2 584.5,1002 580.5,1003.1 576,1004.4 571.6,1005.7 567.4,1007 564,1008.2 561.5,1009"/></clipPath><g clip-path="url(#w11)">
<path d="M677.1 1017.2a1.4 1.4 0 1 0 2.9 0a1.4 1.4 0 1 0 -2.9 0M666.3 1013.2a1.3 1.3 0 1 0 2.7 0a1.3 1.3 0 1 0 -2.7 0M703.5 1028.9a1.2 1.2 0 1 0 2.3 0a1.2 1.2 0 1 0 -2.3 0M643 1008.8a1.5 1.5 0 1 0 2.9 0a1.5 1.5 0 1 0 -2.9 0M712.5 1032.1a1 1 0 1 0 2 0a1 1 0 1 0 -2 0M595 1003.9a1.1 1.1 0 1 0 2.2 0a1.1 1.1 0 1 0 -2.2 0M665.2 1014a2 2 0 1 0 4 0a2 2 0 1 0 -4 0M651.4 1011.5a1.8 1.8 0 1 0 3.7 0a1.8 1.8 0 1 0 -3.7 0M560 1010.5a1.8 1.8 0 1 0 3.6 0a1.8 1.8 0 1 0 -3.6 0M650.1 1008.3a1 1 0 1 0 1.9 0a1 1 0 1 0 -1.9 0M658.3 1008.3a1.9 1.9 0 1 0 3.8 0a1.9 1.9 0 1 0 -3.8 0M660.3 1013.8a0.9 0.9 0 1 0 1.8 0a0.9 0.9 0 1 0 -1.8 0M640.3 1005.3a1.5 1.5 0 1 0 3 0a1.5 1.5 0 1 0 -3 0M623.4 1004.1a0.9 0.9 0 1 0 1.8 0a0.9 0.9 0 1 0 -1.8 0M616.6 1001.7a0.8 0.8 0 1 0 1.7 0a0.8 0.8 0 1 0 -1.7 0M623.3 1001.5a1.3 1.3 0 1 0 2.7 0a1.3 1.3 0 1 0 -2.7 0M655.9 1008.3a1.2 1.2 0 1 0 2.4 0a1.2 1.2 0 1 0 -2.4 0M633 1004.6a1.9 1.9 0 1 0 3.8 0a1.9 1.9 0 1 0 -3.8 0M604.7 1001.6a2 2 0 1 0 4 0a2 2 0 1 0 -4 0M629.9 1006.3a1.2 1.2 0 1 0 2.4 0a1.2 1.2 0 1 0 -2.4 0M711.8 1033.4a1.1 1.1 0 1 0 2.3 0a1.1 1.1 0 1 0 -2.3 0" fill="#58F048" opacity="0.8"/>
<path d="M575.6 1006.9a1 1 0 1 0 2 0a1 1 0 1 0 -2 0M664.2 1009.4a1.9 1.9 0 1 0 3.7 0a1.9 1.9 0 1 0 -3.7 0M601.7 1003.5a1.5 1.5 0 1 0 3 0a1.5 1.5 0 1 0 -3 0M609.2 1003.7a1 1 0 1 0 2.1 0a1 1 0 1 0 -2.1 0M579.3 1006.1a1.8 1.8 0 1 0 3.7 0a1.8 1.8 0 1 0 -3.7 0M612.6 999.8a1.3 1.3 0 1 0 2.6 0a1.3 1.3 0 1 0 -2.6 0M667.7 1010.4a1.2 1.2 0 1 0 2.3 0a1.2 1.2 0 1 0 -2.3 0M677.5 1017.7a0.9 0.9 0 1 0 1.8 0a0.9 0.9 0 1 0 -1.8 0M676 1020.4a1.1 1.1 0 1 0 2.2 0a1.1 1.1 0 1 0 -2.2 0M633.3 1005a1.5 1.5 0 1 0 2.9 0a1.5 1.5 0 1 0 -2.9 0M626.4 1000.3a2 2 0 1 0 3.9 0a2 2 0 1 0 -3.9 0M641.2 1003.5a1 1 0 1 0 2.1 0a1 1 0 1 0 -2.1 0M570.4 1007a1.5 1.5 0 1 0 3 0a1.5 1.5 0 1 0 -3 0M590.7 1001.2a1.3 1.3 0 1 0 2.6 0a1.3 1.3 0 1 0 -2.6 0M615.7 1000.8a1.8 1.8 0 1 0 3.6 0a1.8 1.8 0 1 0 -3.6 0M615.4 1002.4a2 2 0 1 0 4 0a2 2 0 1 0 -4 0M671.7 1013.9a1.6 1.6 0 1 0 3.2 0a1.6 1.6 0 1 0 -3.2 0M594.8 1003.9a1.3 1.3 0 1 0 2.6 0a1.3 1.3 0 1 0 -2.6 0M685.7 1021.2a1.1 1.1 0 1 0 2.1 0a1.1 1.1 0 1 0 -2.1 0" fill="#3CD030" opacity="0.8"/>
</g>
</g>
<g filter="url(#blur1)">
<polygon points="555.4,1114.2 557.9,1113.5 561.5,1112.4 565.7,1111 570.1,1109.6 574.6,1108.1 578.8,1106.9 582.8,1105.6 586.9,1104.4 591.1,1103.3 595.1,1102.1 599.1,1101 602.8,1100 606.1,1099 609.2,1098.2 612.2,1097.3 615.1,1096.5 618.1,1095.7 621.2,1094.8 624.2,1093.9 627.3,1093.1 630.4,1092.2 633.7,1091.2 637.3,1090.1 641.3,1088.8 645.7,1087.1 650.6,1085.2 655.7,1083.1 660.9,1081 666.1,1078.9 671.1,1076.8 676.1,1074.5 681.5,1071.9 686.8,1069.4 691.7,1067 695.7,1065 698.7,1063.4 697.9,1061.6 694.7,1062.5 690.4,1064 685.3,1065.7 679.7,1067.6 674.2,1069.5 668.9,1071.2 663.9,1073 658.6,1074.8 653.3,1076.6 648.1,1078.3 643.2,1079.8 638.7,1081.2 634.9,1082.5 631.4,1083.5 628.2,1084.5 625.1,1085.4 622,1086.2 618.8,1087.2 615.8,1088.2 612.8,1089.2 610,1090.2 607,1091.2 604,1092.2 600.6,1093.4 597,1094.7 593.2,1096.1 589.2,1097.6 585.2,1099.1 581.1,1100.6 577.2,1102.1 573.1,1103.9 568.7,1105.8 564.4,1107.8 560.4,1109.6 557,1111.2 554.6,1112.4" fill="#144A10" stroke="#144A10" stroke-width="2" opacity="0.6" stroke-linejoin="round"/>
<polygon points="555.4,1114.2 557.9,1113.5 561.5,1112.4 565.7,1111 570.1,1109.6 574.6,1108.1 578.8,1106.9 582.8,1105.6 586.9,1104.4 591.1,1103.3 595.1,1102.1 599.1,1101 602.8,1100 606.1,1099 609.2,1098.2 612.2,1097.3 615.1,1096.5 618.1,1095.7 621.2,1094.8 624.2,1093.9 627.3,1093.1 630.4,1092.2 633.7,1091.2 637.3,1090.1 641.3,1088.8 645.7,1087.1 650.6,1085.2 655.7,1083.1 660.9,1081 666.1,1078.9 671.1,1076.8 676.1,1074.5 681.5,1071.9 686.8,1069.4 691.7,1067 695.7,1065 698.7,1063.4 697.9,1061.6 694.7,1062.5 690.4,1064 685.3,1065.7 679.7,1067.6 674.2,1069.5 668.9,1071.2 663.9,1073 658.6,1074.8 653.3,1076.6 648.1,1078.3 643.2,1079.8 638.7,1081.2 634.9,1082.5 631.4,1083.5 628.2,1084.5 625.1,1085.4 622,1086.2 618.8,1087.2 615.8,1088.2 612.8,1089.2 610,1090.2 607,1091.2 604,1092.2 600.6,1093.4 597,1094.7 593.2,1096.1 589.2,1097.6 585.2,1099.1 581.1,1100.6 577.2,1102.1 573.1,1103.9 568.7,1105.8 564.4,1107.8 560.4,1109.6 557,1111.2 554.6,1112.4" fill="#36A82A" stroke="#36A82A" stroke-width="0.6" opacity="1" stroke-linejoin="round"/>
<clipPath id="w12"><polygon points="555.4,1114.2 557.9,1113.5 561.5,1112.4 565.7,1111 570.1,1109.6 574.6,1108.1 578.8,1106.9 582.8,1105.6 586.9,1104.4 591.1,1103.3 595.1,1102.1 599.1,1101 602.8,1100 606.1,1099 609.2,1098.2 612.2,1097.3 615.1,1096.5 618.1,1095.7 621.2,1094.8 624.2,1093.9 627.3,1093.1 630.4,1092.2 633.7,1091.2 637.3,1090.1 641.3,1088.8 645.7,1087.1 650.6,1085.2 655.7,1083.1 660.9,1081 666.1,1078.9 671.1,1076.8 676.1,1074.5 681.5,1071.9 686.8,1069.4 691.7,1067 695.7,1065 698.7,1063.4 697.9,1061.6 694.7,1062.5 690.4,1064 685.3,1065.7 679.7,1067.6 674.2,1069.5 668.9,1071.2 663.9,1073 658.6,1074.8 653.3,1076.6 648.1,1078.3 643.2,1079.8 638.7,1081.2 634.9,1082.5 631.4,1083.5 628.2,1084.5 625.1,1085.4 622,1086.2 618.8,1087.2 615.8,1088.2 612.8,1089.2 610,1090.2 607,1091.2 604,1092.2 600.6,1093.4 597,1094.7 593.2,1096.1 589.2,1097.6 585.2,1099.1 581.1,1100.6 577.2,1102.1 573.1,1103.9 568.7,1105.8 564.4,1107.8 560.4,1109.6 557,1111.2 554.6,1112.4"/></clipPath><g clip-path="url(#w12)">
<path d="M555.9 1112.8a1.8 1.8 0 1 0 3.6 0a1.8 1.8 0 1 0 -3.6 0M628.1 1089.1a1.3 1.3 0 1 0 2.7 0a1.3 1.3 0 1 0 -2.7 0M615.7 1092a1.3 1.3 0 1 0 2.6 0a1.3 1.3 0 1 0 -2.6 0M559.6 1111.8a1.7 1.7 0 1 0 3.4 0a1.7 1.7 0 1 0 -3.4 0M575.7 1102.9a1.7 1.7 0 1 0 3.5 0a1.7 1.7 0 1 0 -3.5 0M640.2 1088.3a0.9 0.9 0 1 0 1.7 0a0.9 0.9 0 1 0 -1.7 0M696.9 1062.5a1.4 1.4 0 1 0 2.8 0a1.4 1.4 0 1 0 -2.8 0M662.5 1073.3a1.5 1.5 0 1 0 3.1 0a1.5 1.5 0 1 0 -3.1 0M599.8 1096.6a1.8 1.8 0 1 0 3.7 0a1.8 1.8 0 1 0 -3.7 0M628.6 1090.9a1.4 1.4 0 1 0 2.7 0a1.4 1.4 0 1 0 -2.7 0M632 1088.9a1 1 0 1 0 2 0a1 1 0 1 0 -2 0M651.8 1077.9a2 2 0 1 0 3.9 0a2 2 0 1 0 -3.9 0M662.6 1073.9a1.6 1.6 0 1 0 3.1 0a1.6 1.6 0 1 0 -3.1 0M627.1 1084.6a1.1 1.1 0 1 0 2.3 0a1.1 1.1 0 1 0 -2.3 0M689.7 1066.9a1.9 1.9 0 1 0 3.8 0a1.9 1.9 0 1 0 -3.8 0M603.1 1092.7a1 1 0 1 0 2.1 0a1 1 0 1 0 -2.1 0M678.3 1068.4a1.7 1.7 0 1 0 3.4 0a1.7 1.7 0 1 0 -3.4 0M553 1112.4a1.7 1.7 0 1 0 3.3 0a1.7 1.7 0 1 0 -3.3 0M597 1100.5a1.9 1.9 0 1 0 3.9 0a1.9 1.9 0 1 0 -3.9 0M629.8 1084.7a1.9 1.9 0 1 0 3.9 0a1.9 1.9 0 1 0 -3.9 0M600.5 1096.8a1.2 1.2 0 1 0 2.4 0a1.2 1.2 0 1 0 -2.4 0M668.3 1074.7a2 2 0 1 0 3.9 0a2 2 0 1 0 -3.9 0M612.6 1092.9a1.4 1.4 0 1 0 2.8 0a1.4 1.4 0 1 0 -2.8 0M600.3 1098.5a1.9 1.9 0 1 0 3.9 0a1.9 1.9 0 1 0 -3.9 0M689.8 1066.1a1.5 1.5 0 1 0 2.9 0a1.5 1.5 0 1 0 -2.9 0M674.6 1072.8a0.8 0.8 0 1 0 1.6 0a0.8 0.8 0 1 0 -1.6 0M643.5 1086.1a1.8 1.8 0 1 0 3.6 0a1.8 1.8 0 1 0 -3.6 0M634.7 1087.8a1.8 1.8 0 1 0 3.6 0a1.8 1.8 0 1 0 -3.6 0" fill="#2A8420" opacity="0.8"/>
<path d="M684.8 1067.1a1 1 0 1 0 2 0a1 1 0 1 0 -2 0M622.1 1093a1.8 1.8 0 1 0 3.7 0a1.8 1.8 0 1 0 -3.7 0M597.4 1098.4a0.8 0.8 0 1 0 1.6 0a0.8 0.8 0 1 0 -1.6 0M678.6 1069.1a1.7 1.7 0 1 0 3.4 0a1.7 1.7 0 1 0 -3.4 0M589.2 1100.8a1 1 0 1 0 2.1 0a1 1 0 1 0 -2.1 0M595.4 1095.5a1.9 1.9 0 1 0 3.7 0a1.9 1.9 0 1 0 -3.7 0M630.3 1085.4a1.7 1.7 0 1 0 3.3 0a1.7 1.7 0 1 0 -3.3 0M621.3 1090.3a1.9 1.9 0 1 0 3.8 0a1.9 1.9 0 1 0 -3.8 0M594 1101.8a1 1 0 1 0 2.1 0a1 1 0 1 0 -2.1 0M553.7 1113.2a1.3 1.3 0 1 0 2.6 0a1.3 1.3 0 1 0 -2.6 0M567.9 1108.7a1.9 1.9 0 1 0 3.9 0a1.9 1.9 0 1 0 -3.9 0M693.4 1063a1.6 1.6 0 1 0 3.1 0a1.6 1.6 0 1 0 -3.1 0M618.7 1089.7a0.9 0.9 0 1 0 1.9 0a0.9 0.9 0 1 0 -1.9 0M613 1092.3a0.8 0.8 0 1 0 1.6 0a0.8 0.8 0 1 0 -1.6 0M599.6 1094.1a1.3 1.3 0 1 0 2.6 0a1.3 1.3 0 1 0 -2.6 0M642.5 1081.4a1.2 1.2 0 1 0 2.5 0a1.2 1.2 0 1 0 -2.5 0M559.6 1111.1a1.4 1.4 0 1 0 2.9 0a1.4 1.4 0 1 0 -2.9 0M697.2 1062.4a1 1 0 1 0 2.1 0a1 1 0 1 0 -2.1 0M668.5 1074.8a1.8 1.8 0 1 0 3.6 0a1.8 1.8 0 1 0 -3.6 0M609.9 1092.7a0.8 0.8 0 1 0 1.7 0a0.8 0.8 0 1 0 -1.7 0M559.3 1110a1.3 1.3 0 1 0 2.6 0a1.3 1.3 0 1 0 -2.6 0M580.1 1102.3a1.6 1.6 0 1 0 3.2 0a1.6 1.6 0 1 0 -3.2 0M600.8 1097.2a1 1 0 1 0 2.1 0a1 1 0 1 0 -2.1 0" fill="#5ADC44" opacity="0.8"/>
<path d="M585.4 1103.2a1.2 1.2 0 1 0 2.3 0a1.2 1.2 0 1 0 -2.3 0M592.2 1097.6a1.5 1.5 0 1 0 3 0a1.5 1.5 0 1 0 -3 0M583.8 1100.2a1.8 1.8 0 1 0 3.5 0a1.8 1.8 0 1 0 -3.5 0M589.3 1103.2a1.8 1.8 0 1 0 3.6 0a1.8 1.8 0 1 0 -3.6 0M690.5 1066.8a1 1 0 1 0 2 0a1 1 0 1 0 -2 0M597.9 1101a1.2 1.2 0 1 0 2.3 0a1.2 1.2 0 1 0 -2.3 0M672.9 1071a1.9 1.9 0 1 0 3.7 0a1.9 1.9 0 1 0 -3.7 0M554.1 1113.7a1.1 1.1 0 1 0 2.2 0a1.1 1.1 0 1 0 -2.2 0M630.8 1084.9a1 1 0 1 0 2 0a1 1 0 1 0 -2 0M610.3 1095.8a1.4 1.4 0 1 0 2.9 0a1.4 1.4 0 1 0 -2.9 0M622.3 1090.5a0.9 0.9 0 1 0 1.8 0a0.9 0.9 0 1 0 -1.8 0M689.8 1066.7a1.7 1.7 0 1 0 3.4 0a1.7 1.7 0 1 0 -3.4 0M556.2 1111.2a0.9 0.9 0 1 0 1.7 0a0.9 0.9 0 1 0 -1.7 0M678.9 1069.1a1.5 1.5 0 1 0 2.9 0a1.5 1.5 0 1 0 -2.9 0M624.8 1088.1a1.1 1.1 0 1 0 2.2 0a1.1 1.1 0 1 0 -2.2 0M638.4 1082.7a0.8 0.8 0 1 0 1.7 0a0.8 0.8 0 1 0 -1.7 0M635.6 1089.4a1.4 1.4 0 1 0 2.8 0a1.4 1.4 0 1 0 -2.8 0M634.8 1087.3a1.6 1.6 0 1 0 3.3 0a1.6 1.6 0 1 0 -3.3 0M679.8 1071.8a1.6 1.6 0 1 0 3.3 0a1.6 1.6 0 1 0 -3.3 0M617.8 1089.8a1.8 1.8 0 1 0 3.6 0a1.8 1.8 0 1 0 -3.6 0M583.9 1100.6a1.7 1.7 0 1 0 3.4 0a1.7 1.7 0 1 0 -3.4 0M643.4 1085.9a2 2 0 1 0 3.9 0a2 2 0 1 0 -3.9 0M600.4 1095.5a1 1 0 1 0 1.9 0a1 1 0 1 0 -1.9 0M693.5 1063.8a1.8 1.8 0 1 0 3.5 0a1.8 1.8 0 1 0 -3.5 0M667.3 1071.6a1.8 1.8 0 1 0 3.6 0a1.8 1.8 0 1 0 -3.6 0M605.9 1091.8a1.4 1.4 0 1 0 2.7 0a1.4 1.4 0 1 0 -2.7 0M684.9 1069.1a1.8 1.8 0 1 0 3.6 0a1.8 1.8 0 1 0 -3.6 0M685.1 1068.6a1.4 1.4 0 1 0 2.7 0a1.4 1.4 0 1 0 -2.7 0M639.5 1088.8a1.7 1.7 0 1 0 3.5 0a1.7 1.7 0 1 0 -3.5 0" fill="#46C434" opacity="0.8"/>
</g>
</g>
<g filter="url(#blur1)">
<polygon points="555,1141.8 557.8,1142.1 561.6,1142.4 566.1,1142.7 570.9,1143 575.7,1143.2 580.1,1143.5 584.1,1143.4 587.9,1143.2 591.6,1143.1 595.3,1143 599,1143.1 602.9,1143.5 607.1,1144.1 611.5,1144.9 616.1,1145.9 620.8,1147.1 625.6,1148.5 630.6,1150 635.7,1151.7 641,1153.7 646.5,1155.8 652.1,1158.1 657.9,1160.5 663.9,1162.8 670.6,1165.1 678,1167.6 685.5,1170.2 692.6,1172.6 698.6,1174.6 702.9,1175.9 703.7,1174.1 699.6,1172.1 693.8,1169.5 687,1166.5 679.7,1163.3 672.5,1160.1 666.1,1157.2 660.3,1154.8 654.6,1152.3 649,1149.8 643.5,1147.5 638.1,1145.3 632.8,1143.4 627.6,1141.8 622.6,1140.3 617.7,1139.1 612.9,1138 608.2,1137.2 603.7,1136.5 599.3,1136.3 595.2,1136.3 591.2,1136.6 587.5,1136.9 583.8,1137.3 579.9,1137.5 575.6,1137.9 570.8,1138.3 566,1138.7 561.5,1139.1 557.7,1139.4 555,1139.8" fill="#165A10" stroke="#165A10" stroke-width="2.5" opacity="0.6" stroke-linejoin="round"/>
<polygon points="555,1141.8 557.8,1142.1 561.6,1142.4 566.1,1142.7 570.9,1143 575.7,1143.2 580.1,1143.5 584.1,1143.4 587.9,1143.2 591.6,1143.1 595.3,1143 599,1143.1 602.9,1143.5 607.1,1144.1 611.5,1144.9 616.1,1145.9 620.8,1147.1 625.6,1148.5 630.6,1150 635.7,1151.7 641,1153.7 646.5,1155.8 652.1,1158.1 657.9,1160.5 663.9,1162.8 670.6,1165.1 678,1167.6 685.5,1170.2 692.6,1172.6 698.6,1174.6 702.9,1175.9 703.7,1174.1 699.6,1172.1 693.8,1169.5 687,1166.5 679.7,1163.3 672.5,1160.1 666.1,1157.2 660.3,1154.8 654.6,1152.3 649,1149.8 643.5,1147.5 638.1,1145.3 632.8,1143.4 627.6,1141.8 622.6,1140.3 617.7,1139.1 612.9,1138 608.2,1137.2 603.7,1136.5 599.3,1136.3 595.2,1136.3 591.2,1136.6 587.5,1136.9 583.8,1137.3 579.9,1137.5 575.6,1137.9 570.8,1138.3 566,1138.7 561.5,1139.1 557.7,1139.4 555,1139.8" fill="#38B02C" stroke="#38B02C" stroke-width="0.6" opacity="1" stroke-linejoin="round"/>
<clipPath id="w13"><polygon points="555,1141.8 557.8,1142.1 561.6,1142.4 566.1,1142.7 570.9,1143 575.7,1143.2 580.1,1143.5 584.1,1143.4 587.9,1143.2 591.6,1143.1 595.3,1143 599,1143.1 602.9,1143.5 607.1,1144.1 611.5,1144.9 616.1,1145.9 620.8,1147.1 625.6,1148.5 630.6,1150 635.7,1151.7 641,1153.7 646.5,1155.8 652.1,1158.1 657.9,1160.5 663.9,1162.8 670.6,1165.1 678,1167.6 685.5,1170.2 692.6,1172.6 698.6,1174.6 702.9,1175.9 703.7,1174.1 699.6,1172.1 693.8,1169.5 687,1166.5 679.7,1163.3 672.5,1160.1 666.1,1157.2 660.3,1154.8 654.6,1152.3 649,1149.8 643.5,1147.5 638.1,1145.3 632.8,1143.4 627.6,1141.8 622.6,1140.3 617.7,1139.1 612.9,1138 608.2,1137.2 603.7,1136.5 599.3,1136.3 595.2,1136.3 591.2,1136.6 587.5,1136.9 583.8,1137.3 579.9,1137.5 575.6,1137.9 570.8,1138.3 566,1138.7 561.5,1139.1 557.7,1139.4 555,1139.8"/></clipPath><g clip-path="url(#w13)">
<path d="M605.9 1143.9a1.3 1.3 0 1 0 2.5 0a1.3 1.3 0 1 0 -2.5 0M559.9 1141.8a1.6 1.6 0 1 0 3.2 0a1.6 1.6 0 1 0 -3.2 0M606.8 1139a1.2 1.2 0 1 0 2.4 0a1.2 1.2 0 1 0 -2.4 0M564 1139.7a2 2 0 1 0 4 0a2 2 0 1 0 -4 0M684.9 1167.4a1.7 1.7 0 1 0 3.3 0a1.7 1.7 0 1 0 -3.3 0M586.8 1140.3a0.9 0.9 0 1 0 1.9 0a0.9 0.9 0 1 0 -1.9 0M569.7 1140.9a1.1 1.1 0 1 0 2.3 0a1.1 1.1 0 1 0 -2.3 0M698.5 1172.4a0.9 0.9 0 1 0 1.8 0a0.9 0.9 0 1 0 -1.8 0M597.8 1137.5a1.5 1.5 0 1 0 3 0a1.5 1.5 0 1 0 -3 0M691.9 1172.1a0.9 0.9 0 1 0 1.8 0a0.9 0.9 0 1 0 -1.8 0M555.9 1140.4a1.9 1.9 0 1 0 3.7 0a1.9 1.9 0 1 0 -3.7 0M646.5 1153.3a1 1 0 1 0 2 0a1 1 0 1 0 -2 0M664.5 1159.1a0.8 0.8 0 1 0 1.7 0a0.8 0.8 0 1 0 -1.7 0M574.6 1141.8a1.1 1.1 0 1 0 2.1 0a1.1 1.1 0 1 0 -2.1 0M578.8 1137.8a1.1 1.1 0 1 0 2.2 0a1.1 1.1 0 1 0 -2.2 0M692.2 1169.7a1.5 1.5 0 1 0 2.9 0a1.5 1.5 0 1 0 -2.9 0M573.8 1139.5a1.9 1.9 0 1 0 3.7 0a1.9 1.9 0 1 0 -3.7 0M606.2 1140.9a1.5 1.5 0 1 0 2.9 0a1.5 1.5 0 1 0 -2.9 0M615.2 1141.2a2 2 0 1 0 4 0a2 2 0 1 0 -4 0M684.2 1169a1.8 1.8 0 1 0 3.5 0a1.8 1.8 0 1 0 -3.5 0" fill="#2E9424" opacity="0.8"/>
<path d="M630.7 1144.8a1.7 1.7 0 1 0 3.3 0a1.7 1.7 0 1 0 -3.3 0M634.9 1150.7a1.3 1.3 0 1 0 2.5 0a1.3 1.3 0 1 0 -2.5 0M560 1139.7a1.5 1.5 0 1 0 3.1 0a1.5 1.5 0 1 0 -3.1 0M657.3 1158.4a1.5 1.5 0 1 0 3 0a1.5 1.5 0 1 0 -3 0M630.4 1147a1.2 1.2 0 1 0 2.4 0a1.2 1.2 0 1 0 -2.4 0M570 1141a0.8 0.8 0 1 0 1.7 0a0.8 0.8 0 1 0 -1.7 0M624.8 1144.9a1.9 1.9 0 1 0 3.7 0a1.9 1.9 0 1 0 -3.7 0M653.3 1153.3a0.8 0.8 0 1 0 1.7 0a0.8 0.8 0 1 0 -1.7 0M601.8 1140.2a1.4 1.4 0 1 0 2.9 0a1.4 1.4 0 1 0 -2.9 0M556.7 1140.1a1 1 0 1 0 2.1 0a1 1 0 1 0 -2.1 0M625.5 1145.8a0.9 0.9 0 1 0 1.9 0a0.9 0.9 0 1 0 -1.9 0M602.1 1143.2a0.9 0.9 0 1 0 1.8 0a0.9 0.9 0 1 0 -1.8 0M564.7 1138.9a1.3 1.3 0 1 0 2.6 0a1.3 1.3 0 1 0 -2.6 0M684 1169.9a1.6 1.6 0 1 0 3.2 0a1.6 1.6 0 1 0 -3.2 0M670 1162.7a1.5 1.5 0 1 0 2.9 0a1.5 1.5 0 1 0 -2.9 0M574.2 1141.5a1.4 1.4 0 1 0 2.8 0a1.4 1.4 0 1 0 -2.8 0M574.5 1139.1a1.1 1.1 0 1 0 2.3 0a1.1 1.1 0 1 0 -2.3 0M685.1 1168.2a1.2 1.2 0 1 0 2.5 0a1.2 1.2 0 1 0 -2.5 0M626.1 1143.1a1.1 1.1 0 1 0 2.2 0a1.1 1.1 0 1 0 -2.2 0" fill="#46C034" opacity="0.8"/>
<path d="M615.5 1144.3a1 1 0 1 0 1.9 0a1 1 0 1 0 -1.9 0M658.4 1155.2a1.7 1.7 0 1 0 3.4 0a1.7 1.7 0 1 0 -3.4 0M586.4 1141.9a1.5 1.5 0 1 0 2.9 0a1.5 1.5 0 1 0 -2.9 0M685.2 1167.9a1.2 1.2 0 1 0 2.3 0a1.2 1.2 0 1 0 -2.3 0M559.9 1141.9a1.7 1.7 0 1 0 3.4 0a1.7 1.7 0 1 0 -3.4 0M620.7 1143.9a1 1 0 1 0 1.9 0a1 1 0 1 0 -1.9 0M589.5 1138.9a1.9 1.9 0 1 0 3.8 0a1.9 1.9 0 1 0 -3.8 0M597.4 1136.8a1.9 1.9 0 1 0 3.7 0a1.9 1.9 0 1 0 -3.7 0M568.9 1142.8a2 2 0 1 0 4 0a2 2 0 1 0 -4 0M629.6 1148.6a1.4 1.4 0 1 0 2.9 0a1.4 1.4 0 1 0 -2.9 0M569.3 1142.8a1.6 1.6 0 1 0 3.1 0a1.6 1.6 0 1 0 -3.1 0M579 1140.5a1 1 0 1 0 2 0a1 1 0 1 0 -2 0M701.6 1174.9a1.8 1.8 0 1 0 3.5 0a1.8 1.8 0 1 0 -3.5 0M685.1 1168.8a1 1 0 1 0 2 0a1 1 0 1 0 -2 0M590.3 1140a1.2 1.2 0 1 0 2.3 0a1.2 1.2 0 1 0 -2.3 0M692.7 1169.6a1.1 1.1 0 1 0 2.1 0a1.1 1.1 0 1 0 -2.1 0M582 1138.5a1.8 1.8 0 1 0 3.6 0a1.8 1.8 0 1 0 -3.6 0M669.6 1163a1.8 1.8 0 1 0 3.5 0a1.8 1.8 0 1 0 -3.5 0M593.3 1137.3a1.9 1.9 0 1 0 3.8 0a1.9 1.9 0 1 0 -3.8 0M586.1 1139a1.5 1.5 0 1 0 3 0a1.5 1.5 0 1 0 -3 0M556.4 1140.2a1.3 1.3 0 1 0 2.6 0a1.3 1.3 0 1 0 -2.6 0" fill="#52D040" opacity="0.8"/>
</g>
</g>
<text x="188" y="1040" font-size="7.5" text-anchor="middle" font-weight="bold" fill="#fff">100μm</text>
<line x1="179.5" y1="1044.3" x2="196.3" y2="1044.3" stroke="#fff" stroke-width="1.3"/>
<text x="842" y="956" font-size="28" text-anchor="start" font-weight="bold" fill="#000">i</text>
<rect x="904.5" y="946.3" width="16" height="7.3" fill="#F07880" stroke="#222" stroke-width="1.1"/>
<text x="931.5" y="954.5" font-size="13" text-anchor="start" font-weight="bold" fill="#000">Normal</text>
<rect x="904.5" y="961.9" width="16" height="7.3" fill="#D3D3D3" stroke="#222" stroke-width="1.1"/>
<text x="931.5" y="970" font-size="13" text-anchor="start" font-weight="bold" fill="#000">Sluggish</text>
<rect x="990.6" y="961.9" width="16" height="7.3" fill="#4B35F5" stroke="#222" stroke-width="1.1"/>
<text x="1017" y="970" font-size="13" text-anchor="start" font-weight="bold" fill="#000">Immobile</text>
<rect x="907.1" y="1114" width="28.8" height="44.4" fill="#F07880" stroke="#222" stroke-width="1.2"/>
<rect x="907.1" y="1045.8" width="28.8" height="68.2" fill="#D3D3D3" stroke="#222" stroke-width="1.2"/>
<rect x="907.1" y="987.8" width="28.8" height="58" fill="#4B35F5" stroke="#222" stroke-width="1.2"/>
<line x1="921.5" y1="1158.4" x2="921.5" y2="1164.4" stroke="#000" stroke-width="1.4"/>
<text x="925.5" y="1173.9" font-size="12" text-anchor="end" font-weight="bold" fill="#000" transform="rotate(-45 925.5 1173.9)">Con</text>
<rect x="952.4" y="1062.9" width="28.8" height="95.5" fill="#F07880" stroke="#222" stroke-width="1.2"/>
<rect x="952.4" y="1023.6" width="28.8" height="39.2" fill="#D3D3D3" stroke="#222" stroke-width="1.2"/>
<rect x="952.4" y="987.8" width="28.8" height="35.8" fill="#4B35F5" stroke="#222" stroke-width="1.2"/>
<line x1="966.8" y1="1158.4" x2="966.8" y2="1164.4" stroke="#000" stroke-width="1.4"/>
<text x="970.8" y="1173.9" font-size="12" text-anchor="end" font-weight="bold" fill="#000" transform="rotate(-45 970.8 1173.9)">Rap</text>
<rect x="998.3" y="1085" width="28.8" height="73.4" fill="#F07880" stroke="#222" stroke-width="1.2"/>
<rect x="998.3" y="1028.7" width="28.8" height="56.3" fill="#D3D3D3" stroke="#222" stroke-width="1.2"/>
<rect x="998.3" y="987.8" width="28.8" height="40.9" fill="#4B35F5" stroke="#222" stroke-width="1.2"/>
<line x1="1012.7" y1="1158.4" x2="1012.7" y2="1164.4" stroke="#000" stroke-width="1.4"/>
<text x="1016.7" y="1173.9" font-size="12" text-anchor="end" font-weight="bold" fill="#000" transform="rotate(-45 1016.7 1173.9)">GAA</text>
<line x1="891.3" y1="987.8" x2="891.3" y2="1159.1" stroke="#000" stroke-width="1.5"/>
<line x1="890.6" y1="1158.4" x2="1043.7" y2="1158.4" stroke="#000" stroke-width="1.5"/>
<line x1="886.8" y1="1158.4" x2="891.3" y2="1158.4" stroke="#000" stroke-width="1.3"/>
<text x="884.8" y="1162.9" font-size="12" text-anchor="end" font-weight="bold" fill="#000">0</text>
<line x1="886.8" y1="1124.3" x2="891.3" y2="1124.3" stroke="#000" stroke-width="1.3"/>
<text x="884.8" y="1128.8" font-size="12" text-anchor="end" font-weight="bold" fill="#000">20</text>
<line x1="886.8" y1="1090.2" x2="891.3" y2="1090.2" stroke="#000" stroke-width="1.3"/>
<text x="884.8" y="1094.7" font-size="12" text-anchor="end" font-weight="bold" fill="#000">40</text>
<line x1="886.8" y1="1056" x2="891.3" y2="1056" stroke="#000" stroke-width="1.3"/>
<text x="884.8" y="1060.5" font-size="12" text-anchor="end" font-weight="bold" fill="#000">60</text>
<line x1="886.8" y1="1021.9" x2="891.3" y2="1021.9" stroke="#000" stroke-width="1.3"/>
<text x="884.8" y="1026.4" font-size="12" text-anchor="end" font-weight="bold" fill="#000">80</text>
<line x1="886.8" y1="987.8" x2="891.3" y2="987.8" stroke="#000" stroke-width="1.3"/>
<text x="884.8" y="992.3" font-size="12" text-anchor="end" font-weight="bold" fill="#000">100</text>
<text x="852" y="1073.3" font-size="13.5" text-anchor="middle" font-weight="bold" fill="#000" transform="rotate(-90 852 1073.3)">Type of movement (%)</text>
<rect x="60.6" y="1308.8" width="22.3" height="97.5" fill="#fff" stroke="#000" stroke-width="1.5"/>
<rect x="90.8" y="1323.4" width="22.3" height="82.9" fill="#fff" stroke="#FF1A1A" stroke-width="1.5"/>
<rect x="121.6" y="1319" width="22.3" height="87.3" fill="#fff" stroke="#888" stroke-width="1.5"/>
<path d="M74.4 1330.2a2.6 2.6 0 1 0 5.2 0a2.6 2.6 0 1 0 -5.2 0M74.9 1285.4a2.6 2.6 0 1 0 5.2 0a2.6 2.6 0 1 0 -5.2 0M64.9 1309.6a2.6 2.6 0 1 0 5.2 0a2.6 2.6 0 1 0 -5.2 0M72.1 1329.6a2.6 2.6 0 1 0 5.2 0a2.6 2.6 0 1 0 -5.2 0M73.8 1309.9a2.6 2.6 0 1 0 5.2 0a2.6 2.6 0 1 0 -5.2 0M74 1312.2a2.6 2.6 0 1 0 5.2 0a2.6 2.6 0 1 0 -5.2 0M74.6 1314.8a2.6 2.6 0 1 0 5.2 0a2.6 2.6 0 1 0 -5.2 0M67.6 1302.9a2.6 2.6 0 1 0 5.2 0a2.6 2.6 0 1 0 -5.2 0M72.4 1308.3a2.6 2.6 0 1 0 5.2 0a2.6 2.6 0 1 0 -5.2 0M70.1 1317.2a2.6 2.6 0 1 0 5.2 0a2.6 2.6 0 1 0 -5.2 0M64.9 1300.2a2.6 2.6 0 1 0 5.2 0a2.6 2.6 0 1 0 -5.2 0M72.5 1300.3a2.6 2.6 0 1 0 5.2 0a2.6 2.6 0 1 0 -5.2 0M66.2 1298.7a2.6 2.6 0 1 0 5.2 0a2.6 2.6 0 1 0 -5.2 0M74.6 1321.2a2.6 2.6 0 1 0 5.2 0a2.6 2.6 0 1 0 -5.2 0M68.2 1300.3a2.6 2.6 0 1 0 5.2 0a2.6 2.6 0 1 0 -5.2 0M63.7 1321.2a2.6 2.6 0 1 0 5.2 0a2.6 2.6 0 1 0 -5.2 0M65.4 1305.7a2.6 2.6 0 1 0 5.2 0a2.6 2.6 0 1 0 -5.2 0M70.7 1292.8a2.6 2.6 0 1 0 5.2 0a2.6 2.6 0 1 0 -5.2 0M71.9 1317a2.6 2.6 0 1 0 5.2 0a2.6 2.6 0 1 0 -5.2 0M76.9 1312.5a2.6 2.6 0 1 0 5.2 0a2.6 2.6 0 1 0 -5.2 0M69.4 1295.5a2.6 2.6 0 1 0 5.2 0a2.6 2.6 0 1 0 -5.2 0M72.7 1305.5a2.6 2.6 0 1 0 5.2 0a2.6 2.6 0 1 0 -5.2 0M77.7 1300.2a2.6 2.6 0 1 0 5.2 0a2.6 2.6 0 1 0 -5.2 0M66.7 1325.2a2.6 2.6 0 1 0 5.2 0a2.6 2.6 0 1 0 -5.2 0M65.6 1306.6a2.6 2.6 0 1 0 5.2 0a2.6 2.6 0 1 0 -5.2 0M61.8 1307a2.6 2.6 0 1 0 5.2 0a2.6 2.6 0 1 0 -5.2 0M69.6 1297a2.6 2.6 0 1 0 5.2 0a2.6 2.6 0 1 0 -5.2 0M72.1 1320.1a2.6 2.6 0 1 0 5.2 0a2.6 2.6 0 1 0 -5.2 0M63.7 1313.7a2.6 2.6 0 1 0 5.2 0a2.6 2.6 0 1 0 -5.2 0M62.6 1309.6a2.6 2.6 0 1 0 5.2 0a2.6 2.6 0 1 0 -5.2 0M75.7 1316.7a2.6 2.6 0 1 0 5.2 0a2.6 2.6 0 1 0 -5.2 0M60.4 1303.9a2.6 2.6 0 1 0 5.2 0a2.6 2.6 0 1 0 -5.2 0M60.5 1301.2a2.6 2.6 0 1 0 5.2 0a2.6 2.6 0 1 0 -5.2 0M76.4 1313.2a2.6 2.6 0 1 0 5.2 0a2.6 2.6 0 1 0 -5.2 0M65.7 1306.1a2.6 2.6 0 1 0 5.2 0a2.6 2.6 0 1 0 -5.2 0M67.2 1312a2.6 2.6 0 1 0 5.2 0a2.6 2.6 0 1 0 -5.2 0M78.1 1319.7a2.6 2.6 0 1 0 5.2 0a2.6 2.6 0 1 0 -5.2 0M67.8 1323.4a2.6 2.6 0 1 0 5.2 0a2.6 2.6 0 1 0 -5.2 0M67.3 1302.3a2.6 2.6 0 1 0 5.2 0a2.6 2.6 0 1 0 -5.2 0M64.6 1290a2.6 2.6 0 1 0 5.2 0a2.6 2.6 0 1 0 -5.2 0M76.2 1290.2a2.6 2.6 0 1 0 5.2 0a2.6 2.6 0 1 0 -5.2 0M76.2 1304.7a2.6 2.6 0 1 0 5.2 0a2.6 2.6 0 1 0 -5.2 0M75.1 1310.4a2.6 2.6 0 1 0 5.2 0a2.6 2.6 0 1 0 -5.2 0M69.5 1300.6a2.6 2.6 0 1 0 5.2 0a2.6 2.6 0 1 0 -5.2 0" fill="#000"/>
<line x1="65.8" y1="1306.8" x2="77.8" y2="1306.8" stroke="#000" stroke-width="1.2"/>
<line x1="71.8" y1="1306.8" x2="71.8" y2="1308.8" stroke="#000" stroke-width="1.2"/>
<line x1="71.8" y1="1406.3" x2="71.8" y2="1410.3" stroke="#000" stroke-width="1.3"/>
<text x="75.2" y="1418.3" font-size="10" text-anchor="end" font-weight="bold" fill="#000" transform="rotate(-45 75.2 1418.3)">Con</text>
<path d="M98.8 1336.1a2.6 2.6 0 1 0 5.2 0a2.6 2.6 0 1 0 -5.2 0M103.1 1297.1a2.6 2.6 0 1 0 5.2 0a2.6 2.6 0 1 0 -5.2 0M91.9 1323.9a2.6 2.6 0 1 0 5.2 0a2.6 2.6 0 1 0 -5.2 0M95.1 1314.6a2.6 2.6 0 1 0 5.2 0a2.6 2.6 0 1 0 -5.2 0M104.5 1322a2.6 2.6 0 1 0 5.2 0a2.6 2.6 0 1 0 -5.2 0M90.7 1328.8a2.6 2.6 0 1 0 5.2 0a2.6 2.6 0 1 0 -5.2 0M101 1329.9a2.6 2.6 0 1 0 5.2 0a2.6 2.6 0 1 0 -5.2 0M95 1325a2.6 2.6 0 1 0 5.2 0a2.6 2.6 0 1 0 -5.2 0M107 1322.9a2.6 2.6 0 1 0 5.2 0a2.6 2.6 0 1 0 -5.2 0M97.7 1327.2a2.6 2.6 0 1 0 5.2 0a2.6 2.6 0 1 0 -5.2 0M101.4 1309.2a2.6 2.6 0 1 0 5.2 0a2.6 2.6 0 1 0 -5.2 0M98.9 1326.9a2.6 2.6 0 1 0 5.2 0a2.6 2.6 0 1 0 -5.2 0M92.9 1322.3a2.6 2.6 0 1 0 5.2 0a2.6 2.6 0 1 0 -5.2 0M95.9 1324.6a2.6 2.6 0 1 0 5.2 0a2.6 2.6 0 1 0 -5.2 0M96.2 1312.5a2.6 2.6 0 1 0 5.2 0a2.6 2.6 0 1 0 -5.2 0M107.8 1317.4a2.6 2.6 0 1 0 5.2 0a2.6 2.6 0 1 0 -5.2 0M97.1 1306.7a2.6 2.6 0 1 0 5.2 0a2.6 2.6 0 1 0 -5.2 0M96.1 1319a2.6 2.6 0 1 0 5.2 0a2.6 2.6 0 1 0 -5.2 0M99.1 1324.1a2.6 2.6 0 1 0 5.2 0a2.6 2.6 0 1 0 -5.2 0M107.2 1312.9a2.6 2.6 0 1 0 5.2 0a2.6 2.6 0 1 0 -5.2 0M90.5 1326.4a2.6 2.6 0 1 0 5.2 0a2.6 2.6 0 1 0 -5.2 0M91.4 1323a2.6 2.6 0 1 0 5.2 0a2.6 2.6 0 1 0 -5.2 0M104.3 1333a2.6 2.6 0 1 0 5.2 0a2.6 2.6 0 1 0 -5.2 0M103.3 1330.2a2.6 2.6 0 1 0 5.2 0a2.6 2.6 0 1 0 -5.2 0M107.2 1324.9a2.6 2.6 0 1 0 5.2 0a2.6 2.6 0 1 0 -5.2 0M91.5 1310.4a2.6 2.6 0 1 0 5.2 0a2.6 2.6 0 1 0 -5.2 0M107.4 1328.4a2.6 2.6 0 1 0 5.2 0a2.6 2.6 0 1 0 -5.2 0M97.9 1318.8a2.6 2.6 0 1 0 5.2 0a2.6 2.6 0 1 0 -5.2 0M105 1313.3a2.6 2.6 0 1 0 5.2 0a2.6 2.6 0 1 0 -5.2 0M98.8 1321.9a2.6 2.6 0 1 0 5.2 0a2.6 2.6 0 1 0 -5.2 0M96.9 1330.6a2.6 2.6 0 1 0 5.2 0a2.6 2.6 0 1 0 -5.2 0M101.6 1329.4a2.6 2.6 0 1 0 5.2 0a2.6 2.6 0 1 0 -5.2 0M92.9 1318.9a2.6 2.6 0 1 0 5.2 0a2.6 2.6 0 1 0 -5.2 0M92.1 1318.3a2.6 2.6 0 1 0 5.2 0a2.6 2.6 0 1 0 -5.2 0M102 1330.4a2.6 2.6 0 1 0 5.2 0a2.6 2.6 0 1 0 -5.2 0M106.5 1322.6a2.6 2.6 0 1 0 5.2 0a2.6 2.6 0 1 0 -5.2 0M103 1318.3a2.6 2.6 0 1 0 5.2 0a2.6 2.6 0 1 0 -5.2 0M105.3 1329.9a2.6 2.6 0 1 0 5.2 0a2.6 2.6 0 1 0 -5.2 0M101.5 1331a2.6 2.6 0 1 0 5.2 0a2.6 2.6 0 1 0 -5.2 0M106.7 1307.4a2.6 2.6 0 1 0 5.2 0a2.6 2.6 0 1 0 -5.2 0M98.5 1308.5a2.6 2.6 0 1 0 5.2 0a2.6 2.6 0 1 0 -5.2 0M104.6 1316.4a2.6 2.6 0 1 0 5.2 0a2.6 2.6 0 1 0 -5.2 0M107.3 1329.6a2.6 2.6 0 1 0 5.2 0a2.6 2.6 0 1 0 -5.2 0M98.3 1307.6a2.6 2.6 0 1 0 5.2 0a2.6 2.6 0 1 0 -5.2 0" fill="#FF1A1A"/>
<line x1="96" y1="1321.4" x2="108" y2="1321.4" stroke="#FF1A1A" stroke-width="1.2"/>
<line x1="102" y1="1321.4" x2="102" y2="1323.4" stroke="#FF1A1A" stroke-width="1.2"/>
<line x1="102" y1="1406.3" x2="102" y2="1410.3" stroke="#000" stroke-width="1.3"/>
<text x="105.5" y="1418.3" font-size="10" text-anchor="end" font-weight="bold" fill="#000" transform="rotate(-45 105.5 1418.3)">Rap</text>
<path d="M135.2 1347.8a2.6 2.6 0 1 0 5.2 0a2.6 2.6 0 1 0 -5.2 0M129.2 1287.3a2.6 2.6 0 1 0 5.2 0a2.6 2.6 0 1 0 -5.2 0M134 1327.6a2.6 2.6 0 1 0 5.2 0a2.6 2.6 0 1 0 -5.2 0M135.6 1338.1a2.6 2.6 0 1 0 5.2 0a2.6 2.6 0 1 0 -5.2 0M126.3 1294.2a2.6 2.6 0 1 0 5.2 0a2.6 2.6 0 1 0 -5.2 0M122.7 1298.8a2.6 2.6 0 1 0 5.2 0a2.6 2.6 0 1 0 -5.2 0M126.2 1304.9a2.6 2.6 0 1 0 5.2 0a2.6 2.6 0 1 0 -5.2 0M128.9 1295.9a2.6 2.6 0 1 0 5.2 0a2.6 2.6 0 1 0 -5.2 0M121.7 1300.3a2.6 2.6 0 1 0 5.2 0a2.6 2.6 0 1 0 -5.2 0M135.8 1336.5a2.6 2.6 0 1 0 5.2 0a2.6 2.6 0 1 0 -5.2 0M130.8 1315.4a2.6 2.6 0 1 0 5.2 0a2.6 2.6 0 1 0 -5.2 0M124.3 1340.8a2.6 2.6 0 1 0 5.2 0a2.6 2.6 0 1 0 -5.2 0M122.1 1324.4a2.6 2.6 0 1 0 5.2 0a2.6 2.6 0 1 0 -5.2 0M134.9 1291.2a2.6 2.6 0 1 0 5.2 0a2.6 2.6 0 1 0 -5.2 0M133.8 1297.8a2.6 2.6 0 1 0 5.2 0a2.6 2.6 0 1 0 -5.2 0M122.5 1325.3a2.6 2.6 0 1 0 5.2 0a2.6 2.6 0 1 0 -5.2 0M123.2 1311.5a2.6 2.6 0 1 0 5.2 0a2.6 2.6 0 1 0 -5.2 0M129.5 1318.7a2.6 2.6 0 1 0 5.2 0a2.6 2.6 0 1 0 -5.2 0M122.5 1320.5a2.6 2.6 0 1 0 5.2 0a2.6 2.6 0 1 0 -5.2 0M130.5 1337.3a2.6 2.6 0 1 0 5.2 0a2.6 2.6 0 1 0 -5.2 0M130.6 1341.1a2.6 2.6 0 1 0 5.2 0a2.6 2.6 0 1 0 -5.2 0M126.2 1332.9a2.6 2.6 0 1 0 5.2 0a2.6 2.6 0 1 0 -5.2 0M131.4 1332.9a2.6 2.6 0 1 0 5.2 0a2.6 2.6 0 1 0 -5.2 0M125.2 1323.9a2.6 2.6 0 1 0 5.2 0a2.6 2.6 0 1 0 -5.2 0M131.3 1329.7a2.6 2.6 0 1 0 5.2 0a2.6 2.6 0 1 0 -5.2 0M128.7 1301.3a2.6 2.6 0 1 0 5.2 0a2.6 2.6 0 1 0 -5.2 0M126.8 1332.3a2.6 2.6 0 1 0 5.2 0a2.6 2.6 0 1 0 -5.2 0M131.5 1329a2.6 2.6 0 1 0 5.2 0a2.6 2.6 0 1 0 -5.2 0M131.4 1308.9a2.6 2.6 0 1 0 5.2 0a2.6 2.6 0 1 0 -5.2 0M127 1331.1a2.6 2.6 0 1 0 5.2 0a2.6 2.6 0 1 0 -5.2 0M129.1 1324.1a2.6 2.6 0 1 0 5.2 0a2.6 2.6 0 1 0 -5.2 0M139.1 1323.6a2.6 2.6 0 1 0 5.2 0a2.6 2.6 0 1 0 -5.2 0M133.1 1318.6a2.6 2.6 0 1 0 5.2 0a2.6 2.6 0 1 0 -5.2 0M132.8 1312.2a2.6 2.6 0 1 0 5.2 0a2.6 2.6 0 1 0 -5.2 0M127.9 1307.9a2.6 2.6 0 1 0 5.2 0a2.6 2.6 0 1 0 -5.2 0M138.7 1314.3a2.6 2.6 0 1 0 5.2 0a2.6 2.6 0 1 0 -5.2 0M132.4 1332.2a2.6 2.6 0 1 0 5.2 0a2.6 2.6 0 1 0 -5.2 0M122.2 1324a2.6 2.6 0 1 0 5.2 0a2.6 2.6 0 1 0 -5.2 0M134.8 1340.1a2.6 2.6 0 1 0 5.2 0a2.6 2.6 0 1 0 -5.2 0M133.9 1334.8a2.6 2.6 0 1 0 5.2 0a2.6 2.6 0 1 0 -5.2 0M127.8 1335.6a2.6 2.6 0 1 0 5.2 0a2.6 2.6 0 1 0 -5.2 0M130.9 1340.9a2.6 2.6 0 1 0 5.2 0a2.6 2.6 0 1 0 -5.2 0M125.2 1308.9a2.6 2.6 0 1 0 5.2 0a2.6 2.6 0 1 0 -5.2 0M137.8 1318.1a2.6 2.6 0 1 0 5.2 0a2.6 2.6 0 1 0 -5.2 0" fill="#000"/>
<line x1="126.8" y1="1317.1" x2="138.8" y2="1317.1" stroke="#555" stroke-width="1.2"/>
<line x1="132.8" y1="1317.1" x2="132.8" y2="1319" stroke="#555" stroke-width="1.2"/>
<line x1="132.8" y1="1406.3" x2="132.8" y2="1410.3" stroke="#000" stroke-width="1.3"/>
<text x="136.2" y="1418.3" font-size="10" text-anchor="end" font-weight="bold" fill="#000" transform="rotate(-45 136.2 1418.3)">GAA</text>
<line x1="48.3" y1="1260" x2="48.3" y2="1407" stroke="#000" stroke-width="1.4"/>
<line x1="47.6" y1="1406.3" x2="156.5" y2="1406.3" stroke="#000" stroke-width="1.4"/>
<line x1="44.3" y1="1406.3" x2="48.3" y2="1406.3" stroke="#000" stroke-width="1.2"/>
<text x="43.8" y="1410.1" font-size="10" text-anchor="end" font-weight="bold" fill="#000">0.0</text>
<line x1="44.3" y1="1357.5" x2="48.3" y2="1357.5" stroke="#000" stroke-width="1.2"/>
<text x="43.8" y="1361.3" font-size="10" text-anchor="end" font-weight="bold" fill="#000">0.5</text>
<line x1="44.3" y1="1308.8" x2="48.3" y2="1308.8" stroke="#000" stroke-width="1.2"/>
<text x="43.8" y="1312.6" font-size="10" text-anchor="end" font-weight="bold" fill="#000">1.0</text>
<line x1="44.3" y1="1260" x2="48.3" y2="1260" stroke="#000" stroke-width="1.2"/>
<text x="43.8" y="1263.8" font-size="10" text-anchor="end" font-weight="bold" fill="#000">1.5</text>
<text x="23" y="1333" font-size="9.5" text-anchor="middle" font-weight="bold" fill="#000" transform="rotate(-90 23 1333)">Lipofuscin (fold change)</text>
<line x1="71.7" y1="1263.7" x2="100" y2="1263.7" stroke="#000" stroke-width="1.5"/>
<text x="85.8" y="1265.5" font-size="12" text-anchor="middle" font-weight="normal" fill="#000">***</text>
<line x1="73.3" y1="1275.3" x2="135" y2="1275.3" stroke="#000" stroke-width="1.5"/>
<text x="104.2" y="1277.5" font-size="12" text-anchor="middle" font-weight="normal" fill="#000">***</text>
<rect x="236" y="1333.2" width="22.3" height="73.1" fill="#fff" stroke="#000" stroke-width="1.5"/>
<rect x="266.7" y="1343.4" width="22.3" height="62.9" fill="#fff" stroke="#FF1A1A" stroke-width="1.5"/>
<rect x="297.3" y="1343.4" width="22.3" height="62.9" fill="#fff" stroke="#888" stroke-width="1.5"/>
<path d="M240.8 1366.1a2.6 2.6 0 1 0 5.2 0a2.6 2.6 0 1 0 -5.2 0M244 1285.6a2.6 2.6 0 1 0 5.2 0a2.6 2.6 0 1 0 -5.2 0M251.1 1321.6a2.6 2.6 0 1 0 5.2 0a2.6 2.6 0 1 0 -5.2 0M247.5 1348.8a2.6 2.6 0 1 0 5.2 0a2.6 2.6 0 1 0 -5.2 0M237.6 1351.5a2.6 2.6 0 1 0 5.2 0a2.6 2.6 0 1 0 -5.2 0M236.5 1294.5a2.6 2.6 0 1 0 5.2 0a2.6 2.6 0 1 0 -5.2 0M249.1 1305a2.6 2.6 0 1 0 5.2 0a2.6 2.6 0 1 0 -5.2 0M248.7 1324.7a2.6 2.6 0 1 0 5.2 0a2.6 2.6 0 1 0 -5.2 0M240.7 1326.1a2.6 2.6 0 1 0 5.2 0a2.6 2.6 0 1 0 -5.2 0M239.2 1336.8a2.6 2.6 0 1 0 5.2 0a2.6 2.6 0 1 0 -5.2 0M249.6 1311.3a2.6 2.6 0 1 0 5.2 0a2.6 2.6 0 1 0 -5.2 0M239.4 1317.2a2.6 2.6 0 1 0 5.2 0a2.6 2.6 0 1 0 -5.2 0M240.1 1329.4a2.6 2.6 0 1 0 5.2 0a2.6 2.6 0 1 0 -5.2 0M249 1317a2.6 2.6 0 1 0 5.2 0a2.6 2.6 0 1 0 -5.2 0M248.3 1290.4a2.6 2.6 0 1 0 5.2 0a2.6 2.6 0 1 0 -5.2 0M249.5 1324.2a2.6 2.6 0 1 0 5.2 0a2.6 2.6 0 1 0 -5.2 0M246.3 1353.2a2.6 2.6 0 1 0 5.2 0a2.6 2.6 0 1 0 -5.2 0M242.2 1358.5a2.6 2.6 0 1 0 5.2 0a2.6 2.6 0 1 0 -5.2 0M252.6 1351.7a2.6 2.6 0 1 0 5.2 0a2.6 2.6 0 1 0 -5.2 0M252.1 1359a2.6 2.6 0 1 0 5.2 0a2.6 2.6 0 1 0 -5.2 0M243.4 1301.3a2.6 2.6 0 1 0 5.2 0a2.6 2.6 0 1 0 -5.2 0M236.5 1313.7a2.6 2.6 0 1 0 5.2 0a2.6 2.6 0 1 0 -5.2 0M235.7 1350.4a2.6 2.6 0 1 0 5.2 0a2.6 2.6 0 1 0 -5.2 0M235.6 1355.1a2.6 2.6 0 1 0 5.2 0a2.6 2.6 0 1 0 -5.2 0M237.1 1314a2.6 2.6 0 1 0 5.2 0a2.6 2.6 0 1 0 -5.2 0M240.5 1329.5a2.6 2.6 0 1 0 5.2 0a2.6 2.6 0 1 0 -5.2 0M243.1 1350.8a2.6 2.6 0 1 0 5.2 0a2.6 2.6 0 1 0 -5.2 0M253.1 1348.1a2.6 2.6 0 1 0 5.2 0a2.6 2.6 0 1 0 -5.2 0M246.2 1339.5a2.6 2.6 0 1 0 5.2 0a2.6 2.6 0 1 0 -5.2 0M246.8 1330.9a2.6 2.6 0 1 0 5.2 0a2.6 2.6 0 1 0 -5.2 0M240.4 1335.1a2.6 2.6 0 1 0 5.2 0a2.6 2.6 0 1 0 -5.2 0M251.5 1350.5a2.6 2.6 0 1 0 5.2 0a2.6 2.6 0 1 0 -5.2 0M243.6 1347.6a2.6 2.6 0 1 0 5.2 0a2.6 2.6 0 1 0 -5.2 0M245.9 1315.6a2.6 2.6 0 1 0 5.2 0a2.6 2.6 0 1 0 -5.2 0M250.1 1301.2a2.6 2.6 0 1 0 5.2 0a2.6 2.6 0 1 0 -5.2 0M237.7 1333.5a2.6 2.6 0 1 0 5.2 0a2.6 2.6 0 1 0 -5.2 0M244.1 1329.4a2.6 2.6 0 1 0 5.2 0a2.6 2.6 0 1 0 -5.2 0M245.1 1311.1a2.6 2.6 0 1 0 5.2 0a2.6 2.6 0 1 0 -5.2 0M250.2 1323.5a2.6 2.6 0 1 0 5.2 0a2.6 2.6 0 1 0 -5.2 0M250.7 1335.5a2.6 2.6 0 1 0 5.2 0a2.6 2.6 0 1 0 -5.2 0M238.3 1307.4a2.6 2.6 0 1 0 5.2 0a2.6 2.6 0 1 0 -5.2 0M251.2 1305.1a2.6 2.6 0 1 0 5.2 0a2.6 2.6 0 1 0 -5.2 0M241.6 1311.7a2.6 2.6 0 1 0 5.2 0a2.6 2.6 0 1 0 -5.2 0M237.9 1345a2.6 2.6 0 1 0 5.2 0a2.6 2.6 0 1 0 -5.2 0" fill="#000"/>
<line x1="241.2" y1="1331" x2="253.2" y2="1331" stroke="#000" stroke-width="1.2"/>
<line x1="247.2" y1="1331" x2="247.2" y2="1333.2" stroke="#000" stroke-width="1.2"/>
<line x1="247.2" y1="1406.3" x2="247.2" y2="1410.3" stroke="#000" stroke-width="1.3"/>
<text x="250.7" y="1418.3" font-size="10" text-anchor="end" font-weight="bold" fill="#000" transform="rotate(-45 250.7 1418.3)">Con</text>
<path d="M272.9 1363.9a2.6 2.6 0 1 0 5.2 0a2.6 2.6 0 1 0 -5.2 0M281.6 1303.9a2.6 2.6 0 1 0 5.2 0a2.6 2.6 0 1 0 -5.2 0M266.3 1345.5a2.6 2.6 0 1 0 5.2 0a2.6 2.6 0 1 0 -5.2 0M267.7 1347.4a2.6 2.6 0 1 0 5.2 0a2.6 2.6 0 1 0 -5.2 0M280.1 1335.9a2.6 2.6 0 1 0 5.2 0a2.6 2.6 0 1 0 -5.2 0M267.9 1318a2.6 2.6 0 1 0 5.2 0a2.6 2.6 0 1 0 -5.2 0M268.5 1344.9a2.6 2.6 0 1 0 5.2 0a2.6 2.6 0 1 0 -5.2 0M281.3 1319.5a2.6 2.6 0 1 0 5.2 0a2.6 2.6 0 1 0 -5.2 0M283.4 1340a2.6 2.6 0 1 0 5.2 0a2.6 2.6 0 1 0 -5.2 0M280.2 1340a2.6 2.6 0 1 0 5.2 0a2.6 2.6 0 1 0 -5.2 0M272.8 1341.2a2.6 2.6 0 1 0 5.2 0a2.6 2.6 0 1 0 -5.2 0M281.4 1307.8a2.6 2.6 0 1 0 5.2 0a2.6 2.6 0 1 0 -5.2 0M281.9 1337.2a2.6 2.6 0 1 0 5.2 0a2.6 2.6 0 1 0 -5.2 0M280.6 1334.8a2.6 2.6 0 1 0 5.2 0a2.6 2.6 0 1 0 -5.2 0M268.6 1356.2a2.6 2.6 0 1 0 5.2 0a2.6 2.6 0 1 0 -5.2 0M277.1 1354.1a2.6 2.6 0 1 0 5.2 0a2.6 2.6 0 1 0 -5.2 0M269 1331.5a2.6 2.6 0 1 0 5.2 0a2.6 2.6 0 1 0 -5.2 0M268.3 1340.6a2.6 2.6 0 1 0 5.2 0a2.6 2.6 0 1 0 -5.2 0M280.3 1333a2.6 2.6 0 1 0 5.2 0a2.6 2.6 0 1 0 -5.2 0M283.9 1355.2a2.6 2.6 0 1 0 5.2 0a2.6 2.6 0 1 0 -5.2 0M268.5 1334.1a2.6 2.6 0 1 0 5.2 0a2.6 2.6 0 1 0 -5.2 0M269.1 1345.9a2.6 2.6 0 1 0 5.2 0a2.6 2.6 0 1 0 -5.2 0M282.8 1331.1a2.6 2.6 0 1 0 5.2 0a2.6 2.6 0 1 0 -5.2 0M269.6 1351.5a2.6 2.6 0 1 0 5.2 0a2.6 2.6 0 1 0 -5.2 0M281.7 1335.7a2.6 2.6 0 1 0 5.2 0a2.6 2.6 0 1 0 -5.2 0M274.5 1330.5a2.6 2.6 0 1 0 5.2 0a2.6 2.6 0 1 0 -5.2 0M277.3 1354a2.6 2.6 0 1 0 5.2 0a2.6 2.6 0 1 0 -5.2 0M280.7 1342.4a2.6 2.6 0 1 0 5.2 0a2.6 2.6 0 1 0 -5.2 0M279.5 1338a2.6 2.6 0 1 0 5.2 0a2.6 2.6 0 1 0 -5.2 0M277.5 1312.8a2.6 2.6 0 1 0 5.2 0a2.6 2.6 0 1 0 -5.2 0M271.2 1319.4a2.6 2.6 0 1 0 5.2 0a2.6 2.6 0 1 0 -5.2 0M282.1 1362.7a2.6 2.6 0 1 0 5.2 0a2.6 2.6 0 1 0 -5.2 0M284.1 1358.8a2.6 2.6 0 1 0 5.2 0a2.6 2.6 0 1 0 -5.2 0M267.4 1342.4a2.6 2.6 0 1 0 5.2 0a2.6 2.6 0 1 0 -5.2 0M279.2 1348.3a2.6 2.6 0 1 0 5.2 0a2.6 2.6 0 1 0 -5.2 0M277.5 1344.8a2.6 2.6 0 1 0 5.2 0a2.6 2.6 0 1 0 -5.2 0M281.3 1354.4a2.6 2.6 0 1 0 5.2 0a2.6 2.6 0 1 0 -5.2 0M281.2 1345.2a2.6 2.6 0 1 0 5.2 0a2.6 2.6 0 1 0 -5.2 0M278.3 1352.5a2.6 2.6 0 1 0 5.2 0a2.6 2.6 0 1 0 -5.2 0M273.5 1341.9a2.6 2.6 0 1 0 5.2 0a2.6 2.6 0 1 0 -5.2 0M275.8 1359.8a2.6 2.6 0 1 0 5.2 0a2.6 2.6 0 1 0 -5.2 0M268.1 1324.9a2.6 2.6 0 1 0 5.2 0a2.6 2.6 0 1 0 -5.2 0M266.5 1342.7a2.6 2.6 0 1 0 5.2 0a2.6 2.6 0 1 0 -5.2 0M283.7 1307.9a2.6 2.6 0 1 0 5.2 0a2.6 2.6 0 1 0 -5.2 0" fill="#FF1A1A"/>
<line x1="271.8" y1="1341.2" x2="283.8" y2="1341.2" stroke="#FF1A1A" stroke-width="1.2"/>
<line x1="277.8" y1="1341.2" x2="277.8" y2="1343.4" stroke="#FF1A1A" stroke-width="1.2"/>
<line x1="277.8" y1="1406.3" x2="277.8" y2="1410.3" stroke="#000" stroke-width="1.3"/>
<text x="281.3" y="1418.3" font-size="10" text-anchor="end" font-weight="bold" fill="#000" transform="rotate(-45 281.3 1418.3)">Rap</text>
<path d="M309.1 1360.2a2.6 2.6 0 1 0 5.2 0a2.6 2.6 0 1 0 -5.2 0M305.5 1311.9a2.6 2.6 0 1 0 5.2 0a2.6 2.6 0 1 0 -5.2 0M299 1354.1a2.6 2.6 0 1 0 5.2 0a2.6 2.6 0 1 0 -5.2 0M311.2 1335a2.6 2.6 0 1 0 5.2 0a2.6 2.6 0 1 0 -5.2 0M312.4 1316.4a2.6 2.6 0 1 0 5.2 0a2.6 2.6 0 1 0 -5.2 0M301.4 1343.8a2.6 2.6 0 1 0 5.2 0a2.6 2.6 0 1 0 -5.2 0M303.1 1340.7a2.6 2.6 0 1 0 5.2 0a2.6 2.6 0 1 0 -5.2 0M312.8 1340.6a2.6 2.6 0 1 0 5.2 0a2.6 2.6 0 1 0 -5.2 0M314.5 1343.3a2.6 2.6 0 1 0 5.2 0a2.6 2.6 0 1 0 -5.2 0M297.7 1334.5a2.6 2.6 0 1 0 5.2 0a2.6 2.6 0 1 0 -5.2 0M308.8 1333.3a2.6 2.6 0 1 0 5.2 0a2.6 2.6 0 1 0 -5.2 0M296.9 1338a2.6 2.6 0 1 0 5.2 0a2.6 2.6 0 1 0 -5.2 0M305.8 1326.7a2.6 2.6 0 1 0 5.2 0a2.6 2.6 0 1 0 -5.2 0M299.9 1340.8a2.6 2.6 0 1 0 5.2 0a2.6 2.6 0 1 0 -5.2 0M297.1 1355.9a2.6 2.6 0 1 0 5.2 0a2.6 2.6 0 1 0 -5.2 0M302.3 1349.7a2.6 2.6 0 1 0 5.2 0a2.6 2.6 0 1 0 -5.2 0M297.9 1351.2a2.6 2.6 0 1 0 5.2 0a2.6 2.6 0 1 0 -5.2 0M309.5 1334.1a2.6 2.6 0 1 0 5.2 0a2.6 2.6 0 1 0 -5.2 0M300.8 1326.5a2.6 2.6 0 1 0 5.2 0a2.6 2.6 0 1 0 -5.2 0M307.6 1334.1a2.6 2.6 0 1 0 5.2 0a2.6 2.6 0 1 0 -5.2 0M312.6 1353.3a2.6 2.6 0 1 0 5.2 0a2.6 2.6 0 1 0 -5.2 0M300.2 1346a2.6 2.6 0 1 0 5.2 0a2.6 2.6 0 1 0 -5.2 0M313.5 1350.4a2.6 2.6 0 1 0 5.2 0a2.6 2.6 0 1 0 -5.2 0M303.8 1349.4a2.6 2.6 0 1 0 5.2 0a2.6 2.6 0 1 0 -5.2 0M303.3 1340.5a2.6 2.6 0 1 0 5.2 0a2.6 2.6 0 1 0 -5.2 0M298.4 1336.8a2.6 2.6 0 1 0 5.2 0a2.6 2.6 0 1 0 -5.2 0M307.4 1344a2.6 2.6 0 1 0 5.2 0a2.6 2.6 0 1 0 -5.2 0M307.8 1338.1a2.6 2.6 0 1 0 5.2 0a2.6 2.6 0 1 0 -5.2 0M308.3 1348.2a2.6 2.6 0 1 0 5.2 0a2.6 2.6 0 1 0 -5.2 0M305.5 1319a2.6 2.6 0 1 0 5.2 0a2.6 2.6 0 1 0 -5.2 0M311.9 1337.3a2.6 2.6 0 1 0 5.2 0a2.6 2.6 0 1 0 -5.2 0M301.6 1348.6a2.6 2.6 0 1 0 5.2 0a2.6 2.6 0 1 0 -5.2 0M302.3 1319.3a2.6 2.6 0 1 0 5.2 0a2.6 2.6 0 1 0 -5.2 0M303.5 1344.1a2.6 2.6 0 1 0 5.2 0a2.6 2.6 0 1 0 -5.2 0M306.7 1315.4a2.6 2.6 0 1 0 5.2 0a2.6 2.6 0 1 0 -5.2 0M299.8 1325.6a2.6 2.6 0 1 0 5.2 0a2.6 2.6 0 1 0 -5.2 0M308.5 1348a2.6 2.6 0 1 0 5.2 0a2.6 2.6 0 1 0 -5.2 0M308.8 1347a2.6 2.6 0 1 0 5.2 0a2.6 2.6 0 1 0 -5.2 0M298.3 1341.7a2.6 2.6 0 1 0 5.2 0a2.6 2.6 0 1 0 -5.2 0M304.7 1352.5a2.6 2.6 0 1 0 5.2 0a2.6 2.6 0 1 0 -5.2 0M300 1340.9a2.6 2.6 0 1 0 5.2 0a2.6 2.6 0 1 0 -5.2 0M296.9 1348.4a2.6 2.6 0 1 0 5.2 0a2.6 2.6 0 1 0 -5.2 0M302.4 1348.3a2.6 2.6 0 1 0 5.2 0a2.6 2.6 0 1 0 -5.2 0M307.5 1345.1a2.6 2.6 0 1 0 5.2 0a2.6 2.6 0 1 0 -5.2 0" fill="#000"/>
<line x1="302.4" y1="1341.2" x2="314.4" y2="1341.2" stroke="#555" stroke-width="1.2"/>
<line x1="308.4" y1="1341.2" x2="308.4" y2="1343.4" stroke="#555" stroke-width="1.2"/>
<line x1="308.4" y1="1406.3" x2="308.4" y2="1410.3" stroke="#000" stroke-width="1.3"/>
<text x="311.9" y="1418.3" font-size="10" text-anchor="end" font-weight="bold" fill="#000" transform="rotate(-45 311.9 1418.3)">GAA</text>
<line x1="224" y1="1260" x2="224" y2="1407" stroke="#000" stroke-width="1.4"/>
<line x1="223.3" y1="1406.3" x2="331.7" y2="1406.3" stroke="#000" stroke-width="1.4"/>
<line x1="220" y1="1406.3" x2="224" y2="1406.3" stroke="#000" stroke-width="1.2"/>
<text x="219.5" y="1410.1" font-size="10" text-anchor="end" font-weight="bold" fill="#000">0.0</text>
<line x1="220" y1="1369.7" x2="224" y2="1369.7" stroke="#000" stroke-width="1.2"/>
<text x="219.5" y="1373.5" font-size="10" text-anchor="end" font-weight="bold" fill="#000">0.5</text>
<line x1="220" y1="1333.2" x2="224" y2="1333.2" stroke="#000" stroke-width="1.2"/>
<text x="219.5" y="1337" font-size="10" text-anchor="end" font-weight="bold" fill="#000">1.0</text>
<line x1="220" y1="1296.6" x2="224" y2="1296.6" stroke="#000" stroke-width="1.2"/>
<text x="219.5" y="1300.4" font-size="10" text-anchor="end" font-weight="bold" fill="#000">1.5</text>
<line x1="220" y1="1260" x2="224" y2="1260" stroke="#000" stroke-width="1.2"/>
<text x="219.5" y="1263.8" font-size="10" text-anchor="end" font-weight="bold" fill="#000">2.0</text>
<text x="198.5" y="1333" font-size="9.5" text-anchor="middle" font-weight="bold" fill="#000" transform="rotate(-90 198.5 1333)">ROS (fold change)</text>
<line x1="247.3" y1="1263.7" x2="275" y2="1263.7" stroke="#000" stroke-width="1.5"/>
<text x="261.1" y="1265.5" font-size="12" text-anchor="middle" font-weight="normal" fill="#000">*</text>
<line x1="248.3" y1="1275.3" x2="311.7" y2="1275.3" stroke="#000" stroke-width="1.5"/>
<text x="280" y="1277.5" font-size="12" text-anchor="middle" font-weight="normal" fill="#000">*</text>
<rect x="421.7" y="1333.2" width="22.3" height="73.1" fill="#fff" stroke="#000" stroke-width="1.5"/>
<rect x="452.3" y="1341.9" width="22.3" height="64.4" fill="#fff" stroke="#FF1A1A" stroke-width="1.5"/>
<rect x="483.3" y="1350.7" width="22.3" height="55.6" fill="#fff" stroke="#888" stroke-width="1.5"/>
<path d="M436.6 1360.9a2.6 2.6 0 1 0 5.2 0a2.6 2.6 0 1 0 -5.2 0M434.2 1295.1a2.6 2.6 0 1 0 5.2 0a2.6 2.6 0 1 0 -5.2 0M426.3 1321.8a2.6 2.6 0 1 0 5.2 0a2.6 2.6 0 1 0 -5.2 0M434.3 1332.3a2.6 2.6 0 1 0 5.2 0a2.6 2.6 0 1 0 -5.2 0M425.6 1312.2a2.6 2.6 0 1 0 5.2 0a2.6 2.6 0 1 0 -5.2 0M422.2 1356.1a2.6 2.6 0 1 0 5.2 0a2.6 2.6 0 1 0 -5.2 0M437 1331.6a2.6 2.6 0 1 0 5.2 0a2.6 2.6 0 1 0 -5.2 0M435.4 1345.3a2.6 2.6 0 1 0 5.2 0a2.6 2.6 0 1 0 -5.2 0M436.8 1326.5a2.6 2.6 0 1 0 5.2 0a2.6 2.6 0 1 0 -5.2 0M423.2 1311.6a2.6 2.6 0 1 0 5.2 0a2.6 2.6 0 1 0 -5.2 0M423.7 1318.9a2.6 2.6 0 1 0 5.2 0a2.6 2.6 0 1 0 -5.2 0M428.4 1347.2a2.6 2.6 0 1 0 5.2 0a2.6 2.6 0 1 0 -5.2 0M422.5 1332.6a2.6 2.6 0 1 0 5.2 0a2.6 2.6 0 1 0 -5.2 0M424.4 1340a2.6 2.6 0 1 0 5.2 0a2.6 2.6 0 1 0 -5.2 0M423 1346.3a2.6 2.6 0 1 0 5.2 0a2.6 2.6 0 1 0 -5.2 0M425.2 1354.8a2.6 2.6 0 1 0 5.2 0a2.6 2.6 0 1 0 -5.2 0M428.8 1338.1a2.6 2.6 0 1 0 5.2 0a2.6 2.6 0 1 0 -5.2 0M432.3 1324.1a2.6 2.6 0 1 0 5.2 0a2.6 2.6 0 1 0 -5.2 0M427.1 1332.6a2.6 2.6 0 1 0 5.2 0a2.6 2.6 0 1 0 -5.2 0M424.7 1327.6a2.6 2.6 0 1 0 5.2 0a2.6 2.6 0 1 0 -5.2 0M423.3 1344.2a2.6 2.6 0 1 0 5.2 0a2.6 2.6 0 1 0 -5.2 0M423.8 1325.2a2.6 2.6 0 1 0 5.2 0a2.6 2.6 0 1 0 -5.2 0M427.6 1342.1a2.6 2.6 0 1 0 5.2 0a2.6 2.6 0 1 0 -5.2 0M432.9 1329.7a2.6 2.6 0 1 0 5.2 0a2.6 2.6 0 1 0 -5.2 0M432 1328.6a2.6 2.6 0 1 0 5.2 0a2.6 2.6 0 1 0 -5.2 0M437.7 1343.5a2.6 2.6 0 1 0 5.2 0a2.6 2.6 0 1 0 -5.2 0M428.6 1322a2.6 2.6 0 1 0 5.2 0a2.6 2.6 0 1 0 -5.2 0M431.6 1335.8a2.6 2.6 0 1 0 5.2 0a2.6 2.6 0 1 0 -5.2 0M432.8 1347.2a2.6 2.6 0 1 0 5.2 0a2.6 2.6 0 1 0 -5.2 0M427.8 1311.4a2.6 2.6 0 1 0 5.2 0a2.6 2.6 0 1 0 -5.2 0M425.8 1332.2a2.6 2.6 0 1 0 5.2 0a2.6 2.6 0 1 0 -5.2 0M428 1310.9a2.6 2.6 0 1 0 5.2 0a2.6 2.6 0 1 0 -5.2 0M434.1 1337a2.6 2.6 0 1 0 5.2 0a2.6 2.6 0 1 0 -5.2 0M437.5 1336.6a2.6 2.6 0 1 0 5.2 0a2.6 2.6 0 1 0 -5.2 0M431.9 1335.3a2.6 2.6 0 1 0 5.2 0a2.6 2.6 0 1 0 -5.2 0M431.9 1338.9a2.6 2.6 0 1 0 5.2 0a2.6 2.6 0 1 0 -5.2 0M423.1 1333.2a2.6 2.6 0 1 0 5.2 0a2.6 2.6 0 1 0 -5.2 0M424.1 1312.6a2.6 2.6 0 1 0 5.2 0a2.6 2.6 0 1 0 -5.2 0M433.4 1329.2a2.6 2.6 0 1 0 5.2 0a2.6 2.6 0 1 0 -5.2 0M427.1 1333.3a2.6 2.6 0 1 0 5.2 0a2.6 2.6 0 1 0 -5.2 0M439.2 1333.8a2.6 2.6 0 1 0 5.2 0a2.6 2.6 0 1 0 -5.2 0M437.2 1356.6a2.6 2.6 0 1 0 5.2 0a2.6 2.6 0 1 0 -5.2 0M429.9 1327.9a2.6 2.6 0 1 0 5.2 0a2.6 2.6 0 1 0 -5.2 0M432.8 1326.6a2.6 2.6 0 1 0 5.2 0a2.6 2.6 0 1 0 -5.2 0" fill="#000"/>
<line x1="426.8" y1="1331" x2="438.8" y2="1331" stroke="#000" stroke-width="1.2"/>
<line x1="432.8" y1="1331" x2="432.8" y2="1333.2" stroke="#000" stroke-width="1.2"/>
<line x1="432.8" y1="1406.3" x2="432.8" y2="1410.3" stroke="#000" stroke-width="1.3"/>
<text x="436.3" y="1418.3" font-size="10" text-anchor="end" font-weight="bold" fill="#000" transform="rotate(-45 436.3 1418.3)">Con</text>
<path d="M466.8 1366.1a2.6 2.6 0 1 0 5.2 0a2.6 2.6 0 1 0 -5.2 0M469.4 1322.2a2.6 2.6 0 1 0 5.2 0a2.6 2.6 0 1 0 -5.2 0M458.2 1342a2.6 2.6 0 1 0 5.2 0a2.6 2.6 0 1 0 -5.2 0M468.2 1345.9a2.6 2.6 0 1 0 5.2 0a2.6 2.6 0 1 0 -5.2 0M453.1 1342.8a2.6 2.6 0 1 0 5.2 0a2.6 2.6 0 1 0 -5.2 0M453.9 1340.4a2.6 2.6 0 1 0 5.2 0a2.6 2.6 0 1 0 -5.2 0M463.6 1346.3a2.6 2.6 0 1 0 5.2 0a2.6 2.6 0 1 0 -5.2 0M461.5 1339.8a2.6 2.6 0 1 0 5.2 0a2.6 2.6 0 1 0 -5.2 0M462.8 1333.9a2.6 2.6 0 1 0 5.2 0a2.6 2.6 0 1 0 -5.2 0M466.5 1327.1a2.6 2.6 0 1 0 5.2 0a2.6 2.6 0 1 0 -5.2 0M465.9 1348.8a2.6 2.6 0 1 0 5.2 0a2.6 2.6 0 1 0 -5.2 0M468.9 1345.9a2.6 2.6 0 1 0 5.2 0a2.6 2.6 0 1 0 -5.2 0M459.4 1339.7a2.6 2.6 0 1 0 5.2 0a2.6 2.6 0 1 0 -5.2 0M467.1 1352a2.6 2.6 0 1 0 5.2 0a2.6 2.6 0 1 0 -5.2 0M452.1 1346.2a2.6 2.6 0 1 0 5.2 0a2.6 2.6 0 1 0 -5.2 0M452 1334.7a2.6 2.6 0 1 0 5.2 0a2.6 2.6 0 1 0 -5.2 0M452.4 1359a2.6 2.6 0 1 0 5.2 0a2.6 2.6 0 1 0 -5.2 0M462 1339.1a2.6 2.6 0 1 0 5.2 0a2.6 2.6 0 1 0 -5.2 0M468.7 1342.8a2.6 2.6 0 1 0 5.2 0a2.6 2.6 0 1 0 -5.2 0M455.6 1343.1a2.6 2.6 0 1 0 5.2 0a2.6 2.6 0 1 0 -5.2 0M453.8 1323.9a2.6 2.6 0 1 0 5.2 0a2.6 2.6 0 1 0 -5.2 0M455.9 1358.6a2.6 2.6 0 1 0 5.2 0a2.6 2.6 0 1 0 -5.2 0M459.4 1326.5a2.6 2.6 0 1 0 5.2 0a2.6 2.6 0 1 0 -5.2 0M458.5 1346a2.6 2.6 0 1 0 5.2 0a2.6 2.6 0 1 0 -5.2 0M465.5 1345.7a2.6 2.6 0 1 0 5.2 0a2.6 2.6 0 1 0 -5.2 0M456.9 1339.2a2.6 2.6 0 1 0 5.2 0a2.6 2.6 0 1 0 -5.2 0M466.5 1351.4a2.6 2.6 0 1 0 5.2 0a2.6 2.6 0 1 0 -5.2 0M460.9 1340.9a2.6 2.6 0 1 0 5.2 0a2.6 2.6 0 1 0 -5.2 0M469.4 1351a2.6 2.6 0 1 0 5.2 0a2.6 2.6 0 1 0 -5.2 0M468.4 1341.7a2.6 2.6 0 1 0 5.2 0a2.6 2.6 0 1 0 -5.2 0M463.3 1338.4a2.6 2.6 0 1 0 5.2 0a2.6 2.6 0 1 0 -5.2 0M468.3 1360.8a2.6 2.6 0 1 0 5.2 0a2.6 2.6 0 1 0 -5.2 0M453.2 1333a2.6 2.6 0 1 0 5.2 0a2.6 2.6 0 1 0 -5.2 0M464 1356.5a2.6 2.6 0 1 0 5.2 0a2.6 2.6 0 1 0 -5.2 0M455.3 1338.5a2.6 2.6 0 1 0 5.2 0a2.6 2.6 0 1 0 -5.2 0M453.6 1324.9a2.6 2.6 0 1 0 5.2 0a2.6 2.6 0 1 0 -5.2 0M460.5 1340.8a2.6 2.6 0 1 0 5.2 0a2.6 2.6 0 1 0 -5.2 0M463.9 1346.8a2.6 2.6 0 1 0 5.2 0a2.6 2.6 0 1 0 -5.2 0M465.7 1343.8a2.6 2.6 0 1 0 5.2 0a2.6 2.6 0 1 0 -5.2 0M452 1335.7a2.6 2.6 0 1 0 5.2 0a2.6 2.6 0 1 0 -5.2 0M461.6 1346.9a2.6 2.6 0 1 0 5.2 0a2.6 2.6 0 1 0 -5.2 0M462.7 1347.8a2.6 2.6 0 1 0 5.2 0a2.6 2.6 0 1 0 -5.2 0M453.7 1360.3a2.6 2.6 0 1 0 5.2 0a2.6 2.6 0 1 0 -5.2 0M455.7 1342.1a2.6 2.6 0 1 0 5.2 0a2.6 2.6 0 1 0 -5.2 0" fill="#FF1A1A"/>
<line x1="457.4" y1="1339.7" x2="469.4" y2="1339.7" stroke="#FF1A1A" stroke-width="1.2"/>
<line x1="463.4" y1="1339.7" x2="463.4" y2="1341.9" stroke="#FF1A1A" stroke-width="1.2"/>
<line x1="463.4" y1="1406.3" x2="463.4" y2="1410.3" stroke="#000" stroke-width="1.3"/>
<text x="466.9" y="1418.3" font-size="10" text-anchor="end" font-weight="bold" fill="#000" transform="rotate(-45 466.9 1418.3)">Rap</text>
<path d="M486.6 1368.3a2.6 2.6 0 1 0 5.2 0a2.6 2.6 0 1 0 -5.2 0M490.3 1316.3a2.6 2.6 0 1 0 5.2 0a2.6 2.6 0 1 0 -5.2 0M494.6 1343.5a2.6 2.6 0 1 0 5.2 0a2.6 2.6 0 1 0 -5.2 0M491.8 1343.4a2.6 2.6 0 1 0 5.2 0a2.6 2.6 0 1 0 -5.2 0M498.5 1348.5a2.6 2.6 0 1 0 5.2 0a2.6 2.6 0 1 0 -5.2 0M499 1332.1a2.6 2.6 0 1 0 5.2 0a2.6 2.6 0 1 0 -5.2 0M494.9 1326.5a2.6 2.6 0 1 0 5.2 0a2.6 2.6 0 1 0 -5.2 0M495.5 1355.1a2.6 2.6 0 1 0 5.2 0a2.6 2.6 0 1 0 -5.2 0M488.3 1352.5a2.6 2.6 0 1 0 5.2 0a2.6 2.6 0 1 0 -5.2 0M483.4 1349.4a2.6 2.6 0 1 0 5.2 0a2.6 2.6 0 1 0 -5.2 0M486.4 1348.3a2.6 2.6 0 1 0 5.2 0a2.6 2.6 0 1 0 -5.2 0M490.6 1354a2.6 2.6 0 1 0 5.2 0a2.6 2.6 0 1 0 -5.2 0M494.6 1337.4a2.6 2.6 0 1 0 5.2 0a2.6 2.6 0 1 0 -5.2 0M495.9 1351.7a2.6 2.6 0 1 0 5.2 0a2.6 2.6 0 1 0 -5.2 0M489.3 1349.2a2.6 2.6 0 1 0 5.2 0a2.6 2.6 0 1 0 -5.2 0M488 1349.2a2.6 2.6 0 1 0 5.2 0a2.6 2.6 0 1 0 -5.2 0M500.3 1356.7a2.6 2.6 0 1 0 5.2 0a2.6 2.6 0 1 0 -5.2 0M494.7 1343.5a2.6 2.6 0 1 0 5.2 0a2.6 2.6 0 1 0 -5.2 0M491.9 1343a2.6 2.6 0 1 0 5.2 0a2.6 2.6 0 1 0 -5.2 0M483 1342.3a2.6 2.6 0 1 0 5.2 0a2.6 2.6 0 1 0 -5.2 0M492.5 1360.7a2.6 2.6 0 1 0 5.2 0a2.6 2.6 0 1 0 -5.2 0M483.1 1347.6a2.6 2.6 0 1 0 5.2 0a2.6 2.6 0 1 0 -5.2 0M488.3 1354.7a2.6 2.6 0 1 0 5.2 0a2.6 2.6 0 1 0 -5.2 0M497.9 1324a2.6 2.6 0 1 0 5.2 0a2.6 2.6 0 1 0 -5.2 0M489.8 1362.3a2.6 2.6 0 1 0 5.2 0a2.6 2.6 0 1 0 -5.2 0M485.3 1350.8a2.6 2.6 0 1 0 5.2 0a2.6 2.6 0 1 0 -5.2 0M500.7 1352.3a2.6 2.6 0 1 0 5.2 0a2.6 2.6 0 1 0 -5.2 0M487.7 1328.6a2.6 2.6 0 1 0 5.2 0a2.6 2.6 0 1 0 -5.2 0M485.2 1336.3a2.6 2.6 0 1 0 5.2 0a2.6 2.6 0 1 0 -5.2 0M484.4 1342.2a2.6 2.6 0 1 0 5.2 0a2.6 2.6 0 1 0 -5.2 0M493.6 1341.9a2.6 2.6 0 1 0 5.2 0a2.6 2.6 0 1 0 -5.2 0M493.3 1319.7a2.6 2.6 0 1 0 5.2 0a2.6 2.6 0 1 0 -5.2 0M487.2 1329a2.6 2.6 0 1 0 5.2 0a2.6 2.6 0 1 0 -5.2 0M486.6 1342.5a2.6 2.6 0 1 0 5.2 0a2.6 2.6 0 1 0 -5.2 0M500.5 1360.5a2.6 2.6 0 1 0 5.2 0a2.6 2.6 0 1 0 -5.2 0M489.2 1363.4a2.6 2.6 0 1 0 5.2 0a2.6 2.6 0 1 0 -5.2 0M486.5 1351.6a2.6 2.6 0 1 0 5.2 0a2.6 2.6 0 1 0 -5.2 0M496.4 1332.5a2.6 2.6 0 1 0 5.2 0a2.6 2.6 0 1 0 -5.2 0M493 1349.9a2.6 2.6 0 1 0 5.2 0a2.6 2.6 0 1 0 -5.2 0M483.9 1333.9a2.6 2.6 0 1 0 5.2 0a2.6 2.6 0 1 0 -5.2 0M498.2 1341.4a2.6 2.6 0 1 0 5.2 0a2.6 2.6 0 1 0 -5.2 0M492.3 1343.1a2.6 2.6 0 1 0 5.2 0a2.6 2.6 0 1 0 -5.2 0M485.9 1353.5a2.6 2.6 0 1 0 5.2 0a2.6 2.6 0 1 0 -5.2 0M489.3 1355.8a2.6 2.6 0 1 0 5.2 0a2.6 2.6 0 1 0 -5.2 0" fill="#000"/>
<line x1="488.4" y1="1349.2" x2="500.4" y2="1349.2" stroke="#555" stroke-width="1.2"/>
<line x1="494.4" y1="1349.2" x2="494.4" y2="1350.7" stroke="#555" stroke-width="1.2"/>
<line x1="494.4" y1="1406.3" x2="494.4" y2="1410.3" stroke="#000" stroke-width="1.3"/>
<text x="497.9" y="1418.3" font-size="10" text-anchor="end" font-weight="bold" fill="#000" transform="rotate(-45 497.9 1418.3)">GAA</text>
<line x1="410" y1="1260" x2="410" y2="1407" stroke="#000" stroke-width="1.4"/>
<line x1="409.3" y1="1406.3" x2="518.5" y2="1406.3" stroke="#000" stroke-width="1.4"/>
<line x1="406" y1="1406.3" x2="410" y2="1406.3" stroke="#000" stroke-width="1.2"/>
<text x="405.5" y="1410.1" font-size="10" text-anchor="end" font-weight="bold" fill="#000">0.0</text>
<line x1="406" y1="1369.7" x2="410" y2="1369.7" stroke="#000" stroke-width="1.2"/>
<text x="405.5" y="1373.5" font-size="10" text-anchor="end" font-weight="bold" fill="#000">0.5</text>
<line x1="406" y1="1333.2" x2="410" y2="1333.2" stroke="#000" stroke-width="1.2"/>
<text x="405.5" y="1337" font-size="10" text-anchor="end" font-weight="bold" fill="#000">1.0</text>
<line x1="406" y1="1296.6" x2="410" y2="1296.6" stroke="#000" stroke-width="1.2"/>
<text x="405.5" y="1300.4" font-size="10" text-anchor="end" font-weight="bold" fill="#000">1.5</text>
<line x1="406" y1="1260" x2="410" y2="1260" stroke="#000" stroke-width="1.2"/>
<text x="405.5" y="1263.8" font-size="10" text-anchor="end" font-weight="bold" fill="#000">2.0</text>
<text x="384" y="1333" font-size="9.5" text-anchor="middle" font-weight="bold" fill="#000" transform="rotate(-90 384 1333)">Nile red (fold change)</text>
<line x1="434" y1="1263.7" x2="461" y2="1263.7" stroke="#000" stroke-width="1.5"/>
<text x="447.5" y="1265.5" font-size="12" text-anchor="middle" font-weight="normal" fill="#000">*</text>
<line x1="435" y1="1275.3" x2="496.7" y2="1275.3" stroke="#000" stroke-width="1.5"/>
<text x="465.9" y="1277.5" font-size="12" text-anchor="middle" font-weight="normal" fill="#000">***</text>
<rect x="601.7" y="1333.2" width="22.3" height="73.1" fill="#fff" stroke="#000" stroke-width="1.5"/>
<rect x="632.3" y="1340.5" width="22.3" height="65.8" fill="#fff" stroke="#FF1A1A" stroke-width="1.5"/>
<rect x="663.3" y="1342.7" width="22.3" height="63.6" fill="#fff" stroke="#888" stroke-width="1.5"/>
<path d="M606.4 1358.8a2.6 2.6 0 1 0 5.2 0a2.6 2.6 0 1 0 -5.2 0M615.3 1298a2.6 2.6 0 1 0 5.2 0a2.6 2.6 0 1 0 -5.2 0M603.5 1344.1a2.6 2.6 0 1 0 5.2 0a2.6 2.6 0 1 0 -5.2 0M609.4 1319.8a2.6 2.6 0 1 0 5.2 0a2.6 2.6 0 1 0 -5.2 0M615.9 1346.4a2.6 2.6 0 1 0 5.2 0a2.6 2.6 0 1 0 -5.2 0M608 1351.5a2.6 2.6 0 1 0 5.2 0a2.6 2.6 0 1 0 -5.2 0M610.6 1335.4a2.6 2.6 0 1 0 5.2 0a2.6 2.6 0 1 0 -5.2 0M617.9 1340.9a2.6 2.6 0 1 0 5.2 0a2.6 2.6 0 1 0 -5.2 0M607.1 1329.4a2.6 2.6 0 1 0 5.2 0a2.6 2.6 0 1 0 -5.2 0M608.1 1327.2a2.6 2.6 0 1 0 5.2 0a2.6 2.6 0 1 0 -5.2 0M612 1330.2a2.6 2.6 0 1 0 5.2 0a2.6 2.6 0 1 0 -5.2 0M616.9 1340.6a2.6 2.6 0 1 0 5.2 0a2.6 2.6 0 1 0 -5.2 0M618.1 1347.6a2.6 2.6 0 1 0 5.2 0a2.6 2.6 0 1 0 -5.2 0M610.4 1334.9a2.6 2.6 0 1 0 5.2 0a2.6 2.6 0 1 0 -5.2 0M610.5 1346.8a2.6 2.6 0 1 0 5.2 0a2.6 2.6 0 1 0 -5.2 0M612.3 1337.7a2.6 2.6 0 1 0 5.2 0a2.6 2.6 0 1 0 -5.2 0M603.1 1325.2a2.6 2.6 0 1 0 5.2 0a2.6 2.6 0 1 0 -5.2 0M617.4 1348.9a2.6 2.6 0 1 0 5.2 0a2.6 2.6 0 1 0 -5.2 0M613.5 1342.2a2.6 2.6 0 1 0 5.2 0a2.6 2.6 0 1 0 -5.2 0M615.3 1323.2a2.6 2.6 0 1 0 5.2 0a2.6 2.6 0 1 0 -5.2 0M612.7 1356a2.6 2.6 0 1 0 5.2 0a2.6 2.6 0 1 0 -5.2 0M601.9 1317.3a2.6 2.6 0 1 0 5.2 0a2.6 2.6 0 1 0 -5.2 0M617.2 1355.7a2.6 2.6 0 1 0 5.2 0a2.6 2.6 0 1 0 -5.2 0M614 1324.9a2.6 2.6 0 1 0 5.2 0a2.6 2.6 0 1 0 -5.2 0M612.2 1321.4a2.6 2.6 0 1 0 5.2 0a2.6 2.6 0 1 0 -5.2 0M604.1 1342.4a2.6 2.6 0 1 0 5.2 0a2.6 2.6 0 1 0 -5.2 0M613.1 1354.3a2.6 2.6 0 1 0 5.2 0a2.6 2.6 0 1 0 -5.2 0M619.1 1326.2a2.6 2.6 0 1 0 5.2 0a2.6 2.6 0 1 0 -5.2 0M603.9 1340.7a2.6 2.6 0 1 0 5.2 0a2.6 2.6 0 1 0 -5.2 0M618.2 1336.3a2.6 2.6 0 1 0 5.2 0a2.6 2.6 0 1 0 -5.2 0M617.1 1341a2.6 2.6 0 1 0 5.2 0a2.6 2.6 0 1 0 -5.2 0M615.1 1327.3a2.6 2.6 0 1 0 5.2 0a2.6 2.6 0 1 0 -5.2 0M615.7 1346.4a2.6 2.6 0 1 0 5.2 0a2.6 2.6 0 1 0 -5.2 0M614.6 1335.6a2.6 2.6 0 1 0 5.2 0a2.6 2.6 0 1 0 -5.2 0M606.6 1350.7a2.6 2.6 0 1 0 5.2 0a2.6 2.6 0 1 0 -5.2 0M606.2 1330a2.6 2.6 0 1 0 5.2 0a2.6 2.6 0 1 0 -5.2 0M603.2 1331a2.6 2.6 0 1 0 5.2 0a2.6 2.6 0 1 0 -5.2 0M612.7 1340.3a2.6 2.6 0 1 0 5.2 0a2.6 2.6 0 1 0 -5.2 0M618.8 1337.8a2.6 2.6 0 1 0 5.2 0a2.6 2.6 0 1 0 -5.2 0M606.7 1336.7a2.6 2.6 0 1 0 5.2 0a2.6 2.6 0 1 0 -5.2 0M612.7 1335.6a2.6 2.6 0 1 0 5.2 0a2.6 2.6 0 1 0 -5.2 0M618.9 1338.3a2.6 2.6 0 1 0 5.2 0a2.6 2.6 0 1 0 -5.2 0M611.8 1342.4a2.6 2.6 0 1 0 5.2 0a2.6 2.6 0 1 0 -5.2 0M606.1 1315.4a2.6 2.6 0 1 0 5.2 0a2.6 2.6 0 1 0 -5.2 0" fill="#000"/>
<line x1="606.9" y1="1331" x2="618.9" y2="1331" stroke="#000" stroke-width="1.2"/>
<line x1="612.9" y1="1331" x2="612.9" y2="1333.2" stroke="#000" stroke-width="1.2"/>
<line x1="612.9" y1="1406.3" x2="612.9" y2="1410.3" stroke="#000" stroke-width="1.3"/>
<text x="616.4" y="1418.3" font-size="10" text-anchor="end" font-weight="bold" fill="#000" transform="rotate(-45 616.4 1418.3)">Con</text>
<path d="M636 1358.8a2.6 2.6 0 1 0 5.2 0a2.6 2.6 0 1 0 -5.2 0M641.1 1311.2a2.6 2.6 0 1 0 5.2 0a2.6 2.6 0 1 0 -5.2 0M647.1 1325.7a2.6 2.6 0 1 0 5.2 0a2.6 2.6 0 1 0 -5.2 0M644.7 1325.3a2.6 2.6 0 1 0 5.2 0a2.6 2.6 0 1 0 -5.2 0M648.4 1350.5a2.6 2.6 0 1 0 5.2 0a2.6 2.6 0 1 0 -5.2 0M632.1 1347.1a2.6 2.6 0 1 0 5.2 0a2.6 2.6 0 1 0 -5.2 0M632.2 1337.4a2.6 2.6 0 1 0 5.2 0a2.6 2.6 0 1 0 -5.2 0M635.3 1352.6a2.6 2.6 0 1 0 5.2 0a2.6 2.6 0 1 0 -5.2 0M636.8 1316.1a2.6 2.6 0 1 0 5.2 0a2.6 2.6 0 1 0 -5.2 0M648.8 1325.6a2.6 2.6 0 1 0 5.2 0a2.6 2.6 0 1 0 -5.2 0M633.7 1344.8a2.6 2.6 0 1 0 5.2 0a2.6 2.6 0 1 0 -5.2 0M643.4 1345a2.6 2.6 0 1 0 5.2 0a2.6 2.6 0 1 0 -5.2 0M637.7 1332a2.6 2.6 0 1 0 5.2 0a2.6 2.6 0 1 0 -5.2 0M633.1 1328.7a2.6 2.6 0 1 0 5.2 0a2.6 2.6 0 1 0 -5.2 0M638.4 1354.2a2.6 2.6 0 1 0 5.2 0a2.6 2.6 0 1 0 -5.2 0M647.1 1333a2.6 2.6 0 1 0 5.2 0a2.6 2.6 0 1 0 -5.2 0M648.2 1319.8a2.6 2.6 0 1 0 5.2 0a2.6 2.6 0 1 0 -5.2 0M642.9 1317.7a2.6 2.6 0 1 0 5.2 0a2.6 2.6 0 1 0 -5.2 0M632.8 1339.3a2.6 2.6 0 1 0 5.2 0a2.6 2.6 0 1 0 -5.2 0M648.3 1335.7a2.6 2.6 0 1 0 5.2 0a2.6 2.6 0 1 0 -5.2 0M640.3 1328.4a2.6 2.6 0 1 0 5.2 0a2.6 2.6 0 1 0 -5.2 0M645.7 1333.5a2.6 2.6 0 1 0 5.2 0a2.6 2.6 0 1 0 -5.2 0M644.8 1314a2.6 2.6 0 1 0 5.2 0a2.6 2.6 0 1 0 -5.2 0M649.1 1335.1a2.6 2.6 0 1 0 5.2 0a2.6 2.6 0 1 0 -5.2 0M631.9 1317.8a2.6 2.6 0 1 0 5.2 0a2.6 2.6 0 1 0 -5.2 0M637.1 1318.3a2.6 2.6 0 1 0 5.2 0a2.6 2.6 0 1 0 -5.2 0M637.2 1357.7a2.6 2.6 0 1 0 5.2 0a2.6 2.6 0 1 0 -5.2 0M631.9 1348.2a2.6 2.6 0 1 0 5.2 0a2.6 2.6 0 1 0 -5.2 0M638.6 1327.7a2.6 2.6 0 1 0 5.2 0a2.6 2.6 0 1 0 -5.2 0M644.9 1348.8a2.6 2.6 0 1 0 5.2 0a2.6 2.6 0 1 0 -5.2 0M638.1 1345.5a2.6 2.6 0 1 0 5.2 0a2.6 2.6 0 1 0 -5.2 0M637.7 1339.9a2.6 2.6 0 1 0 5.2 0a2.6 2.6 0 1 0 -5.2 0M635.3 1330.4a2.6 2.6 0 1 0 5.2 0a2.6 2.6 0 1 0 -5.2 0M640.1 1327.4a2.6 2.6 0 1 0 5.2 0a2.6 2.6 0 1 0 -5.2 0M637.8 1339.4a2.6 2.6 0 1 0 5.2 0a2.6 2.6 0 1 0 -5.2 0M636.2 1321.9a2.6 2.6 0 1 0 5.2 0a2.6 2.6 0 1 0 -5.2 0M636.6 1339.7a2.6 2.6 0 1 0 5.2 0a2.6 2.6 0 1 0 -5.2 0M632.2 1348.4a2.6 2.6 0 1 0 5.2 0a2.6 2.6 0 1 0 -5.2 0M646.5 1332.3a2.6 2.6 0 1 0 5.2 0a2.6 2.6 0 1 0 -5.2 0M639.8 1342.1a2.6 2.6 0 1 0 5.2 0a2.6 2.6 0 1 0 -5.2 0M632.8 1327.2a2.6 2.6 0 1 0 5.2 0a2.6 2.6 0 1 0 -5.2 0M645.1 1343.3a2.6 2.6 0 1 0 5.2 0a2.6 2.6 0 1 0 -5.2 0M636.3 1344.1a2.6 2.6 0 1 0 5.2 0a2.6 2.6 0 1 0 -5.2 0M636.8 1336.8a2.6 2.6 0 1 0 5.2 0a2.6 2.6 0 1 0 -5.2 0" fill="#FF1A1A"/>
<line x1="637.4" y1="1339" x2="649.4" y2="1339" stroke="#FF1A1A" stroke-width="1.2"/>
<line x1="643.4" y1="1339" x2="643.4" y2="1340.5" stroke="#FF1A1A" stroke-width="1.2"/>
<line x1="643.4" y1="1406.3" x2="643.4" y2="1410.3" stroke="#000" stroke-width="1.3"/>
<text x="646.9" y="1418.3" font-size="10" text-anchor="end" font-weight="bold" fill="#000" transform="rotate(-45 646.9 1418.3)">Rap</text>
<path d="M665.7 1355.1a2.6 2.6 0 1 0 5.2 0a2.6 2.6 0 1 0 -5.2 0M663.8 1317.1a2.6 2.6 0 1 0 5.2 0a2.6 2.6 0 1 0 -5.2 0M677.4 1321.4a2.6 2.6 0 1 0 5.2 0a2.6 2.6 0 1 0 -5.2 0M664.9 1346.8a2.6 2.6 0 1 0 5.2 0a2.6 2.6 0 1 0 -5.2 0M672.5 1340.7a2.6 2.6 0 1 0 5.2 0a2.6 2.6 0 1 0 -5.2 0M669.8 1325.7a2.6 2.6 0 1 0 5.2 0a2.6 2.6 0 1 0 -5.2 0M678.1 1349.1a2.6 2.6 0 1 0 5.2 0a2.6 2.6 0 1 0 -5.2 0M667.3 1348.7a2.6 2.6 0 1 0 5.2 0a2.6 2.6 0 1 0 -5.2 0M678.5 1347.3a2.6 2.6 0 1 0 5.2 0a2.6 2.6 0 1 0 -5.2 0M669.7 1323.5a2.6 2.6 0 1 0 5.2 0a2.6 2.6 0 1 0 -5.2 0M675.5 1337.8a2.6 2.6 0 1 0 5.2 0a2.6 2.6 0 1 0 -5.2 0M677.4 1342.3a2.6 2.6 0 1 0 5.2 0a2.6 2.6 0 1 0 -5.2 0M676.1 1345.3a2.6 2.6 0 1 0 5.2 0a2.6 2.6 0 1 0 -5.2 0M665.4 1348.3a2.6 2.6 0 1 0 5.2 0a2.6 2.6 0 1 0 -5.2 0M666.1 1348.5a2.6 2.6 0 1 0 5.2 0a2.6 2.6 0 1 0 -5.2 0M667.3 1323.6a2.6 2.6 0 1 0 5.2 0a2.6 2.6 0 1 0 -5.2 0M663.1 1337.2a2.6 2.6 0 1 0 5.2 0a2.6 2.6 0 1 0 -5.2 0M676.3 1329.4a2.6 2.6 0 1 0 5.2 0a2.6 2.6 0 1 0 -5.2 0M680.6 1336.8a2.6 2.6 0 1 0 5.2 0a2.6 2.6 0 1 0 -5.2 0M676.6 1352.1a2.6 2.6 0 1 0 5.2 0a2.6 2.6 0 1 0 -5.2 0M679.8 1349.3a2.6 2.6 0 1 0 5.2 0a2.6 2.6 0 1 0 -5.2 0M668.5 1353.5a2.6 2.6 0 1 0 5.2 0a2.6 2.6 0 1 0 -5.2 0M671.3 1340a2.6 2.6 0 1 0 5.2 0a2.6 2.6 0 1 0 -5.2 0M664.1 1332.4a2.6 2.6 0 1 0 5.2 0a2.6 2.6 0 1 0 -5.2 0M663.2 1328.5a2.6 2.6 0 1 0 5.2 0a2.6 2.6 0 1 0 -5.2 0M677 1324.4a2.6 2.6 0 1 0 5.2 0a2.6 2.6 0 1 0 -5.2 0M663.8 1352.9a2.6 2.6 0 1 0 5.2 0a2.6 2.6 0 1 0 -5.2 0M664.5 1349.4a2.6 2.6 0 1 0 5.2 0a2.6 2.6 0 1 0 -5.2 0M666.7 1348.3a2.6 2.6 0 1 0 5.2 0a2.6 2.6 0 1 0 -5.2 0M671.7 1340.7a2.6 2.6 0 1 0 5.2 0a2.6 2.6 0 1 0 -5.2 0M680.6 1346.7a2.6 2.6 0 1 0 5.2 0a2.6 2.6 0 1 0 -5.2 0M672.1 1338.8a2.6 2.6 0 1 0 5.2 0a2.6 2.6 0 1 0 -5.2 0M674 1331.1a2.6 2.6 0 1 0 5.2 0a2.6 2.6 0 1 0 -5.2 0M677.8 1329.2a2.6 2.6 0 1 0 5.2 0a2.6 2.6 0 1 0 -5.2 0M678.6 1344.4a2.6 2.6 0 1 0 5.2 0a2.6 2.6 0 1 0 -5.2 0M663.2 1338.1a2.6 2.6 0 1 0 5.2 0a2.6 2.6 0 1 0 -5.2 0M675.2 1345a2.6 2.6 0 1 0 5.2 0a2.6 2.6 0 1 0 -5.2 0M675.5 1335.8a2.6 2.6 0 1 0 5.2 0a2.6 2.6 0 1 0 -5.2 0M675.9 1333.4a2.6 2.6 0 1 0 5.2 0a2.6 2.6 0 1 0 -5.2 0M667.5 1327.5a2.6 2.6 0 1 0 5.2 0a2.6 2.6 0 1 0 -5.2 0M678.9 1327.5a2.6 2.6 0 1 0 5.2 0a2.6 2.6 0 1 0 -5.2 0M667 1331.9a2.6 2.6 0 1 0 5.2 0a2.6 2.6 0 1 0 -5.2 0M678.3 1338.6a2.6 2.6 0 1 0 5.2 0a2.6 2.6 0 1 0 -5.2 0M666.7 1330.4a2.6 2.6 0 1 0 5.2 0a2.6 2.6 0 1 0 -5.2 0" fill="#000"/>
<line x1="668.4" y1="1341.2" x2="680.4" y2="1341.2" stroke="#555" stroke-width="1.2"/>
<line x1="674.4" y1="1341.2" x2="674.4" y2="1342.7" stroke="#555" stroke-width="1.2"/>
<line x1="674.4" y1="1406.3" x2="674.4" y2="1410.3" stroke="#000" stroke-width="1.3"/>
<text x="677.9" y="1418.3" font-size="10" text-anchor="end" font-weight="bold" fill="#000" transform="rotate(-45 677.9 1418.3)">GAA</text>
<line x1="590" y1="1260" x2="590" y2="1407" stroke="#000" stroke-width="1.4"/>
<line x1="589.3" y1="1406.3" x2="698.3" y2="1406.3" stroke="#000" stroke-width="1.4"/>
<line x1="586" y1="1406.3" x2="590" y2="1406.3" stroke="#000" stroke-width="1.2"/>
<text x="585.5" y="1410.1" font-size="10" text-anchor="end" font-weight="bold" fill="#000">0.0</text>
<line x1="586" y1="1369.7" x2="590" y2="1369.7" stroke="#000" stroke-width="1.2"/>
<text x="585.5" y="1373.5" font-size="10" text-anchor="end" font-weight="bold" fill="#000">0.5</text>
<line x1="586" y1="1333.2" x2="590" y2="1333.2" stroke="#000" stroke-width="1.2"/>
<text x="585.5" y="1337" font-size="10" text-anchor="end" font-weight="bold" fill="#000">1.0</text>
<line x1="586" y1="1296.6" x2="590" y2="1296.6" stroke="#000" stroke-width="1.2"/>
<text x="585.5" y="1300.4" font-size="10" text-anchor="end" font-weight="bold" fill="#000">1.5</text>
<line x1="586" y1="1260" x2="590" y2="1260" stroke="#000" stroke-width="1.2"/>
<text x="585.5" y="1263.8" font-size="10" text-anchor="end" font-weight="bold" fill="#000">2.0</text>
<text x="564" y="1333" font-size="9.5" text-anchor="middle" font-weight="bold" fill="#000" transform="rotate(-90 564 1333)">SA-β-Gal (fold change)</text>
<line x1="614" y1="1263.7" x2="640.7" y2="1263.7" stroke="#000" stroke-width="1.5"/>
<text x="627.4" y="1265.5" font-size="12" text-anchor="middle" font-weight="normal" fill="#000">*</text>
<line x1="615" y1="1275.3" x2="676.7" y2="1275.3" stroke="#000" stroke-width="1.5"/>
<text x="645.9" y="1277.5" font-size="12" text-anchor="middle" font-weight="normal" fill="#000">**</text>
<text x="724" y="1229" font-size="28" text-anchor="start" font-weight="bold" fill="#000">j</text>
<rect x="775.5" y="1346" width="22.3" height="60.3" fill="#fff" stroke="#000" stroke-width="1.5"/>
<rect x="806.5" y="1321.3" width="22.3" height="85" fill="#fff" stroke="#FF1A1A" stroke-width="1.5"/>
<rect x="837.5" y="1326.7" width="22.3" height="79.6" fill="#fff" stroke="#888" stroke-width="1.5"/>
<path d="M775.8 1367.9a2.6 2.6 0 1 0 5.2 0a2.6 2.6 0 1 0 -5.2 0M784.9 1314.9a2.6 2.6 0 1 0 5.2 0a2.6 2.6 0 1 0 -5.2 0M784.5 1359.5a2.6 2.6 0 1 0 5.2 0a2.6 2.6 0 1 0 -5.2 0M777.3 1357.7a2.6 2.6 0 1 0 5.2 0a2.6 2.6 0 1 0 -5.2 0M786.2 1330.3a2.6 2.6 0 1 0 5.2 0a2.6 2.6 0 1 0 -5.2 0M784.7 1360.5a2.6 2.6 0 1 0 5.2 0a2.6 2.6 0 1 0 -5.2 0M783.2 1351.9a2.6 2.6 0 1 0 5.2 0a2.6 2.6 0 1 0 -5.2 0M791.2 1336.7a2.6 2.6 0 1 0 5.2 0a2.6 2.6 0 1 0 -5.2 0M775.2 1363.1a2.6 2.6 0 1 0 5.2 0a2.6 2.6 0 1 0 -5.2 0M777.5 1327.5a2.6 2.6 0 1 0 5.2 0a2.6 2.6 0 1 0 -5.2 0M786.5 1333a2.6 2.6 0 1 0 5.2 0a2.6 2.6 0 1 0 -5.2 0M786.5 1343.3a2.6 2.6 0 1 0 5.2 0a2.6 2.6 0 1 0 -5.2 0M790.2 1348.8a2.6 2.6 0 1 0 5.2 0a2.6 2.6 0 1 0 -5.2 0M780.1 1323.8a2.6 2.6 0 1 0 5.2 0a2.6 2.6 0 1 0 -5.2 0M782.7 1353.4a2.6 2.6 0 1 0 5.2 0a2.6 2.6 0 1 0 -5.2 0M785 1349.8a2.6 2.6 0 1 0 5.2 0a2.6 2.6 0 1 0 -5.2 0M780.9 1325.7a2.6 2.6 0 1 0 5.2 0a2.6 2.6 0 1 0 -5.2 0M780 1326.4a2.6 2.6 0 1 0 5.2 0a2.6 2.6 0 1 0 -5.2 0M788.5 1349.8a2.6 2.6 0 1 0 5.2 0a2.6 2.6 0 1 0 -5.2 0M791.3 1339.8a2.6 2.6 0 1 0 5.2 0a2.6 2.6 0 1 0 -5.2 0M780.4 1342.2a2.6 2.6 0 1 0 5.2 0a2.6 2.6 0 1 0 -5.2 0M779.6 1334.2a2.6 2.6 0 1 0 5.2 0a2.6 2.6 0 1 0 -5.2 0M781 1363.6a2.6 2.6 0 1 0 5.2 0a2.6 2.6 0 1 0 -5.2 0M775.3 1322.8a2.6 2.6 0 1 0 5.2 0a2.6 2.6 0 1 0 -5.2 0M787.6 1331.4a2.6 2.6 0 1 0 5.2 0a2.6 2.6 0 1 0 -5.2 0M786.1 1340.4a2.6 2.6 0 1 0 5.2 0a2.6 2.6 0 1 0 -5.2 0M783.7 1354.7a2.6 2.6 0 1 0 5.2 0a2.6 2.6 0 1 0 -5.2 0M790.1 1316.9a2.6 2.6 0 1 0 5.2 0a2.6 2.6 0 1 0 -5.2 0M783.1 1348.3a2.6 2.6 0 1 0 5.2 0a2.6 2.6 0 1 0 -5.2 0M781.6 1348.3a2.6 2.6 0 1 0 5.2 0a2.6 2.6 0 1 0 -5.2 0M778.8 1349.8a2.6 2.6 0 1 0 5.2 0a2.6 2.6 0 1 0 -5.2 0M775.5 1327.2a2.6 2.6 0 1 0 5.2 0a2.6 2.6 0 1 0 -5.2 0M786 1356.5a2.6 2.6 0 1 0 5.2 0a2.6 2.6 0 1 0 -5.2 0M787.4 1332a2.6 2.6 0 1 0 5.2 0a2.6 2.6 0 1 0 -5.2 0M783.9 1356.8a2.6 2.6 0 1 0 5.2 0a2.6 2.6 0 1 0 -5.2 0M790.7 1320.3a2.6 2.6 0 1 0 5.2 0a2.6 2.6 0 1 0 -5.2 0M792.7 1353.7a2.6 2.6 0 1 0 5.2 0a2.6 2.6 0 1 0 -5.2 0M777.8 1317.5a2.6 2.6 0 1 0 5.2 0a2.6 2.6 0 1 0 -5.2 0M778.6 1331.7a2.6 2.6 0 1 0 5.2 0a2.6 2.6 0 1 0 -5.2 0M782.4 1361.7a2.6 2.6 0 1 0 5.2 0a2.6 2.6 0 1 0 -5.2 0M788.1 1321.4a2.6 2.6 0 1 0 5.2 0a2.6 2.6 0 1 0 -5.2 0M790.3 1355.3a2.6 2.6 0 1 0 5.2 0a2.6 2.6 0 1 0 -5.2 0M789.2 1351.6a2.6 2.6 0 1 0 5.2 0a2.6 2.6 0 1 0 -5.2 0M786.9 1344.6a2.6 2.6 0 1 0 5.2 0a2.6 2.6 0 1 0 -5.2 0" fill="#000"/>
<line x1="780.6" y1="1343.2" x2="792.6" y2="1343.2" stroke="#000" stroke-width="1.2"/>
<line x1="786.6" y1="1343.2" x2="786.6" y2="1346" stroke="#000" stroke-width="1.2"/>
<line x1="786.6" y1="1406.3" x2="786.6" y2="1410.3" stroke="#000" stroke-width="1.3"/>
<text x="790.1" y="1418.3" font-size="10" text-anchor="end" font-weight="bold" fill="#000" transform="rotate(-45 790.1 1418.3)">Con</text>
<path d="M815 1349.6a2.6 2.6 0 1 0 5.2 0a2.6 2.6 0 1 0 -5.2 0M817.6 1291.1a2.6 2.6 0 1 0 5.2 0a2.6 2.6 0 1 0 -5.2 0M822.7 1318.8a2.6 2.6 0 1 0 5.2 0a2.6 2.6 0 1 0 -5.2 0M821.3 1322.3a2.6 2.6 0 1 0 5.2 0a2.6 2.6 0 1 0 -5.2 0M807.7 1321.7a2.6 2.6 0 1 0 5.2 0a2.6 2.6 0 1 0 -5.2 0M821.8 1318.4a2.6 2.6 0 1 0 5.2 0a2.6 2.6 0 1 0 -5.2 0M813.7 1324.3a2.6 2.6 0 1 0 5.2 0a2.6 2.6 0 1 0 -5.2 0M810.7 1317.9a2.6 2.6 0 1 0 5.2 0a2.6 2.6 0 1 0 -5.2 0M815.1 1331.3a2.6 2.6 0 1 0 5.2 0a2.6 2.6 0 1 0 -5.2 0M814.4 1337a2.6 2.6 0 1 0 5.2 0a2.6 2.6 0 1 0 -5.2 0M814.5 1323.8a2.6 2.6 0 1 0 5.2 0a2.6 2.6 0 1 0 -5.2 0M816.1 1323.6a2.6 2.6 0 1 0 5.2 0a2.6 2.6 0 1 0 -5.2 0M821.9 1311.8a2.6 2.6 0 1 0 5.2 0a2.6 2.6 0 1 0 -5.2 0M818.2 1324.2a2.6 2.6 0 1 0 5.2 0a2.6 2.6 0 1 0 -5.2 0M809.7 1329a2.6 2.6 0 1 0 5.2 0a2.6 2.6 0 1 0 -5.2 0M811.2 1322.7a2.6 2.6 0 1 0 5.2 0a2.6 2.6 0 1 0 -5.2 0M817.9 1328.1a2.6 2.6 0 1 0 5.2 0a2.6 2.6 0 1 0 -5.2 0M809.1 1320.5a2.6 2.6 0 1 0 5.2 0a2.6 2.6 0 1 0 -5.2 0M823.9 1319.3a2.6 2.6 0 1 0 5.2 0a2.6 2.6 0 1 0 -5.2 0M819 1330.3a2.6 2.6 0 1 0 5.2 0a2.6 2.6 0 1 0 -5.2 0M818.9 1327.2a2.6 2.6 0 1 0 5.2 0a2.6 2.6 0 1 0 -5.2 0M823.7 1303.3a2.6 2.6 0 1 0 5.2 0a2.6 2.6 0 1 0 -5.2 0M811.1 1308.2a2.6 2.6 0 1 0 5.2 0a2.6 2.6 0 1 0 -5.2 0M808.2 1308.2a2.6 2.6 0 1 0 5.2 0a2.6 2.6 0 1 0 -5.2 0M818.1 1310a2.6 2.6 0 1 0 5.2 0a2.6 2.6 0 1 0 -5.2 0M813 1298.2a2.6 2.6 0 1 0 5.2 0a2.6 2.6 0 1 0 -5.2 0M814.7 1305.5a2.6 2.6 0 1 0 5.2 0a2.6 2.6 0 1 0 -5.2 0M822.7 1338.3a2.6 2.6 0 1 0 5.2 0a2.6 2.6 0 1 0 -5.2 0M817.6 1334.2a2.6 2.6 0 1 0 5.2 0a2.6 2.6 0 1 0 -5.2 0M818.1 1315.7a2.6 2.6 0 1 0 5.2 0a2.6 2.6 0 1 0 -5.2 0M823.1 1316.9a2.6 2.6 0 1 0 5.2 0a2.6 2.6 0 1 0 -5.2 0M807 1315.8a2.6 2.6 0 1 0 5.2 0a2.6 2.6 0 1 0 -5.2 0M823.1 1320a2.6 2.6 0 1 0 5.2 0a2.6 2.6 0 1 0 -5.2 0M814 1310.5a2.6 2.6 0 1 0 5.2 0a2.6 2.6 0 1 0 -5.2 0M819.6 1320.9a2.6 2.6 0 1 0 5.2 0a2.6 2.6 0 1 0 -5.2 0M806.9 1311.3a2.6 2.6 0 1 0 5.2 0a2.6 2.6 0 1 0 -5.2 0M813.1 1329.1a2.6 2.6 0 1 0 5.2 0a2.6 2.6 0 1 0 -5.2 0M817.7 1345a2.6 2.6 0 1 0 5.2 0a2.6 2.6 0 1 0 -5.2 0M811 1318.4a2.6 2.6 0 1 0 5.2 0a2.6 2.6 0 1 0 -5.2 0M823.6 1319.1a2.6 2.6 0 1 0 5.2 0a2.6 2.6 0 1 0 -5.2 0M809.5 1323.2a2.6 2.6 0 1 0 5.2 0a2.6 2.6 0 1 0 -5.2 0M818.2 1323.5a2.6 2.6 0 1 0 5.2 0a2.6 2.6 0 1 0 -5.2 0M817.8 1333.6a2.6 2.6 0 1 0 5.2 0a2.6 2.6 0 1 0 -5.2 0M806.2 1318.1a2.6 2.6 0 1 0 5.2 0a2.6 2.6 0 1 0 -5.2 0" fill="#FF1A1A"/>
<line x1="811.6" y1="1319.1" x2="823.6" y2="1319.1" stroke="#FF1A1A" stroke-width="1.2"/>
<line x1="817.6" y1="1319.1" x2="817.6" y2="1321.3" stroke="#FF1A1A" stroke-width="1.2"/>
<line x1="817.6" y1="1406.3" x2="817.6" y2="1410.3" stroke="#000" stroke-width="1.3"/>
<text x="821.1" y="1418.3" font-size="10" text-anchor="end" font-weight="bold" fill="#000" transform="rotate(-45 821.1 1418.3)">Rap</text>
<path d="M846 1356.9a2.6 2.6 0 1 0 5.2 0a2.6 2.6 0 1 0 -5.2 0M837.5 1300.2a2.6 2.6 0 1 0 5.2 0a2.6 2.6 0 1 0 -5.2 0M841.2 1327.1a2.6 2.6 0 1 0 5.2 0a2.6 2.6 0 1 0 -5.2 0M844.6 1343.4a2.6 2.6 0 1 0 5.2 0a2.6 2.6 0 1 0 -5.2 0M837.8 1324.4a2.6 2.6 0 1 0 5.2 0a2.6 2.6 0 1 0 -5.2 0M844.1 1319.2a2.6 2.6 0 1 0 5.2 0a2.6 2.6 0 1 0 -5.2 0M847 1327.2a2.6 2.6 0 1 0 5.2 0a2.6 2.6 0 1 0 -5.2 0M838.9 1329.3a2.6 2.6 0 1 0 5.2 0a2.6 2.6 0 1 0 -5.2 0M842.1 1347.4a2.6 2.6 0 1 0 5.2 0a2.6 2.6 0 1 0 -5.2 0M848.2 1302.9a2.6 2.6 0 1 0 5.2 0a2.6 2.6 0 1 0 -5.2 0M847.8 1345.3a2.6 2.6 0 1 0 5.2 0a2.6 2.6 0 1 0 -5.2 0M841.2 1328.6a2.6 2.6 0 1 0 5.2 0a2.6 2.6 0 1 0 -5.2 0M853.6 1323a2.6 2.6 0 1 0 5.2 0a2.6 2.6 0 1 0 -5.2 0M846.7 1306.4a2.6 2.6 0 1 0 5.2 0a2.6 2.6 0 1 0 -5.2 0M853.4 1314.4a2.6 2.6 0 1 0 5.2 0a2.6 2.6 0 1 0 -5.2 0M846 1335.3a2.6 2.6 0 1 0 5.2 0a2.6 2.6 0 1 0 -5.2 0M851 1339.6a2.6 2.6 0 1 0 5.2 0a2.6 2.6 0 1 0 -5.2 0M849.9 1312.5a2.6 2.6 0 1 0 5.2 0a2.6 2.6 0 1 0 -5.2 0M851 1333.8a2.6 2.6 0 1 0 5.2 0a2.6 2.6 0 1 0 -5.2 0M840.3 1332.2a2.6 2.6 0 1 0 5.2 0a2.6 2.6 0 1 0 -5.2 0M841.5 1331a2.6 2.6 0 1 0 5.2 0a2.6 2.6 0 1 0 -5.2 0M837.4 1309.3a2.6 2.6 0 1 0 5.2 0a2.6 2.6 0 1 0 -5.2 0M844.7 1316.8a2.6 2.6 0 1 0 5.2 0a2.6 2.6 0 1 0 -5.2 0M852.2 1351.3a2.6 2.6 0 1 0 5.2 0a2.6 2.6 0 1 0 -5.2 0M839.4 1333a2.6 2.6 0 1 0 5.2 0a2.6 2.6 0 1 0 -5.2 0M845.6 1324a2.6 2.6 0 1 0 5.2 0a2.6 2.6 0 1 0 -5.2 0M843.1 1330.5a2.6 2.6 0 1 0 5.2 0a2.6 2.6 0 1 0 -5.2 0M853 1340.7a2.6 2.6 0 1 0 5.2 0a2.6 2.6 0 1 0 -5.2 0M838.4 1344.1a2.6 2.6 0 1 0 5.2 0a2.6 2.6 0 1 0 -5.2 0M849.5 1329.9a2.6 2.6 0 1 0 5.2 0a2.6 2.6 0 1 0 -5.2 0M854 1333.4a2.6 2.6 0 1 0 5.2 0a2.6 2.6 0 1 0 -5.2 0M847.2 1315.3a2.6 2.6 0 1 0 5.2 0a2.6 2.6 0 1 0 -5.2 0M854 1314.3a2.6 2.6 0 1 0 5.2 0a2.6 2.6 0 1 0 -5.2 0M841.6 1339.7a2.6 2.6 0 1 0 5.2 0a2.6 2.6 0 1 0 -5.2 0M843.1 1310a2.6 2.6 0 1 0 5.2 0a2.6 2.6 0 1 0 -5.2 0M850.7 1309.7a2.6 2.6 0 1 0 5.2 0a2.6 2.6 0 1 0 -5.2 0M849 1324.2a2.6 2.6 0 1 0 5.2 0a2.6 2.6 0 1 0 -5.2 0M852.2 1322.4a2.6 2.6 0 1 0 5.2 0a2.6 2.6 0 1 0 -5.2 0M839.1 1325.2a2.6 2.6 0 1 0 5.2 0a2.6 2.6 0 1 0 -5.2 0M839.5 1347.2a2.6 2.6 0 1 0 5.2 0a2.6 2.6 0 1 0 -5.2 0M839.8 1320.2a2.6 2.6 0 1 0 5.2 0a2.6 2.6 0 1 0 -5.2 0M842.5 1352.7a2.6 2.6 0 1 0 5.2 0a2.6 2.6 0 1 0 -5.2 0M851.8 1336.6a2.6 2.6 0 1 0 5.2 0a2.6 2.6 0 1 0 -5.2 0M837.1 1319.7a2.6 2.6 0 1 0 5.2 0a2.6 2.6 0 1 0 -5.2 0" fill="#000"/>
<line x1="842.6" y1="1324.6" x2="854.6" y2="1324.6" stroke="#555" stroke-width="1.2"/>
<line x1="848.6" y1="1324.6" x2="848.6" y2="1326.7" stroke="#555" stroke-width="1.2"/>
<line x1="848.6" y1="1406.3" x2="848.6" y2="1410.3" stroke="#000" stroke-width="1.3"/>
<text x="852.1" y="1418.3" font-size="10" text-anchor="end" font-weight="bold" fill="#000" transform="rotate(-45 852.1 1418.3)">GAA</text>
<line x1="763.3" y1="1260" x2="763.3" y2="1407" stroke="#000" stroke-width="1.4"/>
<line x1="762.6" y1="1406.3" x2="873.3" y2="1406.3" stroke="#000" stroke-width="1.4"/>
<line x1="759.3" y1="1406.3" x2="763.3" y2="1406.3" stroke="#000" stroke-width="1.2"/>
<text x="758.8" y="1410.1" font-size="10" text-anchor="end" font-weight="bold" fill="#000">0</text>
<line x1="759.3" y1="1369.7" x2="763.3" y2="1369.7" stroke="#000" stroke-width="1.2"/>
<text x="758.8" y="1373.5" font-size="10" text-anchor="end" font-weight="bold" fill="#000">20</text>
<line x1="759.3" y1="1333.2" x2="763.3" y2="1333.2" stroke="#000" stroke-width="1.2"/>
<text x="758.8" y="1337" font-size="10" text-anchor="end" font-weight="bold" fill="#000">40</text>
<line x1="759.3" y1="1296.6" x2="763.3" y2="1296.6" stroke="#000" stroke-width="1.2"/>
<text x="758.8" y="1300.4" font-size="10" text-anchor="end" font-weight="bold" fill="#000">60</text>
<line x1="759.3" y1="1260" x2="763.3" y2="1260" stroke="#000" stroke-width="1.2"/>
<text x="758.8" y="1263.8" font-size="10" text-anchor="end" font-weight="bold" fill="#000">80</text>
<text x="739.2" y="1333" font-size="9.5" text-anchor="middle" font-weight="bold" fill="#000" transform="rotate(-90 739.2 1333)">Body bends (times/min)</text>
<line x1="788.3" y1="1263.7" x2="816.7" y2="1263.7" stroke="#000" stroke-width="1.5"/>
<text x="802.5" y="1265.5" font-size="12" text-anchor="middle" font-weight="normal" fill="#000">***</text>
<line x1="788.3" y1="1275.3" x2="851.7" y2="1275.3" stroke="#000" stroke-width="1.5"/>
<text x="820" y="1277.5" font-size="12" text-anchor="middle" font-weight="normal" fill="#000">***</text>
<text x="898" y="1229" font-size="28" text-anchor="start" font-weight="bold" fill="#000">k</text>
<rect x="953.5" y="1338" width="22.3" height="68.3" fill="#fff" stroke="#000" stroke-width="1.5"/>
<rect x="983.8" y="1321" width="22.3" height="85.3" fill="#fff" stroke="#FF1A1A" stroke-width="1.5"/>
<rect x="1013.8" y="1323.9" width="22.3" height="82.4" fill="#fff" stroke="#888" stroke-width="1.5"/>
<path d="M959.9 1358.5a2.6 2.6 0 1 0 5.2 0a2.6 2.6 0 1 0 -5.2 0M964.1 1309.7a2.6 2.6 0 1 0 5.2 0a2.6 2.6 0 1 0 -5.2 0M970.3 1343.3a2.6 2.6 0 1 0 5.2 0a2.6 2.6 0 1 0 -5.2 0M954.3 1326.4a2.6 2.6 0 1 0 5.2 0a2.6 2.6 0 1 0 -5.2 0M969.8 1343.4a2.6 2.6 0 1 0 5.2 0a2.6 2.6 0 1 0 -5.2 0M955.6 1315.2a2.6 2.6 0 1 0 5.2 0a2.6 2.6 0 1 0 -5.2 0M966.2 1345.7a2.6 2.6 0 1 0 5.2 0a2.6 2.6 0 1 0 -5.2 0M956.8 1340.6a2.6 2.6 0 1 0 5.2 0a2.6 2.6 0 1 0 -5.2 0M965.2 1332.6a2.6 2.6 0 1 0 5.2 0a2.6 2.6 0 1 0 -5.2 0M961.2 1354.2a2.6 2.6 0 1 0 5.2 0a2.6 2.6 0 1 0 -5.2 0M958.6 1336.8a2.6 2.6 0 1 0 5.2 0a2.6 2.6 0 1 0 -5.2 0M969.2 1344.5a2.6 2.6 0 1 0 5.2 0a2.6 2.6 0 1 0 -5.2 0M954.2 1351.3a2.6 2.6 0 1 0 5.2 0a2.6 2.6 0 1 0 -5.2 0M954.1 1339.6a2.6 2.6 0 1 0 5.2 0a2.6 2.6 0 1 0 -5.2 0M960 1347.6a2.6 2.6 0 1 0 5.2 0a2.6 2.6 0 1 0 -5.2 0M969.1 1337.8a2.6 2.6 0 1 0 5.2 0a2.6 2.6 0 1 0 -5.2 0M956.8 1345.4a2.6 2.6 0 1 0 5.2 0a2.6 2.6 0 1 0 -5.2 0M960.8 1336.3a2.6 2.6 0 1 0 5.2 0a2.6 2.6 0 1 0 -5.2 0M954.6 1349.8a2.6 2.6 0 1 0 5.2 0a2.6 2.6 0 1 0 -5.2 0M965.3 1332.7a2.6 2.6 0 1 0 5.2 0a2.6 2.6 0 1 0 -5.2 0M956.3 1345.9a2.6 2.6 0 1 0 5.2 0a2.6 2.6 0 1 0 -5.2 0M959.9 1349.3a2.6 2.6 0 1 0 5.2 0a2.6 2.6 0 1 0 -5.2 0M966.1 1323.4a2.6 2.6 0 1 0 5.2 0a2.6 2.6 0 1 0 -5.2 0M966.6 1326.5a2.6 2.6 0 1 0 5.2 0a2.6 2.6 0 1 0 -5.2 0M953.3 1339.6a2.6 2.6 0 1 0 5.2 0a2.6 2.6 0 1 0 -5.2 0M953.9 1349.2a2.6 2.6 0 1 0 5.2 0a2.6 2.6 0 1 0 -5.2 0M960.5 1320a2.6 2.6 0 1 0 5.2 0a2.6 2.6 0 1 0 -5.2 0M958.7 1327.1a2.6 2.6 0 1 0 5.2 0a2.6 2.6 0 1 0 -5.2 0M964.2 1348a2.6 2.6 0 1 0 5.2 0a2.6 2.6 0 1 0 -5.2 0M968.7 1347.2a2.6 2.6 0 1 0 5.2 0a2.6 2.6 0 1 0 -5.2 0M959.8 1337.9a2.6 2.6 0 1 0 5.2 0a2.6 2.6 0 1 0 -5.2 0M965.3 1342.4a2.6 2.6 0 1 0 5.2 0a2.6 2.6 0 1 0 -5.2 0M958.4 1342.9a2.6 2.6 0 1 0 5.2 0a2.6 2.6 0 1 0 -5.2 0M963.9 1325.1a2.6 2.6 0 1 0 5.2 0a2.6 2.6 0 1 0 -5.2 0M967.2 1349.9a2.6 2.6 0 1 0 5.2 0a2.6 2.6 0 1 0 -5.2 0M957.2 1339.9a2.6 2.6 0 1 0 5.2 0a2.6 2.6 0 1 0 -5.2 0M967.1 1345a2.6 2.6 0 1 0 5.2 0a2.6 2.6 0 1 0 -5.2 0M964.6 1346.1a2.6 2.6 0 1 0 5.2 0a2.6 2.6 0 1 0 -5.2 0M960.1 1347.1a2.6 2.6 0 1 0 5.2 0a2.6 2.6 0 1 0 -5.2 0M956.9 1335.6a2.6 2.6 0 1 0 5.2 0a2.6 2.6 0 1 0 -5.2 0M960.7 1353.8a2.6 2.6 0 1 0 5.2 0a2.6 2.6 0 1 0 -5.2 0M954.1 1334.2a2.6 2.6 0 1 0 5.2 0a2.6 2.6 0 1 0 -5.2 0M958.8 1339.7a2.6 2.6 0 1 0 5.2 0a2.6 2.6 0 1 0 -5.2 0M954.3 1331.7a2.6 2.6 0 1 0 5.2 0a2.6 2.6 0 1 0 -5.2 0" fill="#000"/>
<line x1="958.6" y1="1336.1" x2="970.6" y2="1336.1" stroke="#000" stroke-width="1.2"/>
<line x1="964.6" y1="1336.1" x2="964.6" y2="1338" stroke="#000" stroke-width="1.2"/>
<line x1="964.6" y1="1406.3" x2="964.6" y2="1410.3" stroke="#000" stroke-width="1.3"/>
<text x="968.1" y="1418.3" font-size="10" text-anchor="end" font-weight="bold" fill="#000" transform="rotate(-45 968.1 1418.3)">Con</text>
<path d="M985.3 1346.8a2.6 2.6 0 1 0 5.2 0a2.6 2.6 0 1 0 -5.2 0M984.1 1295.1a2.6 2.6 0 1 0 5.2 0a2.6 2.6 0 1 0 -5.2 0M995 1311.2a2.6 2.6 0 1 0 5.2 0a2.6 2.6 0 1 0 -5.2 0M995 1312.5a2.6 2.6 0 1 0 5.2 0a2.6 2.6 0 1 0 -5.2 0M988.7 1301.6a2.6 2.6 0 1 0 5.2 0a2.6 2.6 0 1 0 -5.2 0M995.1 1344.8a2.6 2.6 0 1 0 5.2 0a2.6 2.6 0 1 0 -5.2 0M986.4 1330.6a2.6 2.6 0 1 0 5.2 0a2.6 2.6 0 1 0 -5.2 0M995.5 1335.7a2.6 2.6 0 1 0 5.2 0a2.6 2.6 0 1 0 -5.2 0M986.3 1309.2a2.6 2.6 0 1 0 5.2 0a2.6 2.6 0 1 0 -5.2 0M1000 1325.4a2.6 2.6 0 1 0 5.2 0a2.6 2.6 0 1 0 -5.2 0M1001.3 1313.5a2.6 2.6 0 1 0 5.2 0a2.6 2.6 0 1 0 -5.2 0M995 1328.5a2.6 2.6 0 1 0 5.2 0a2.6 2.6 0 1 0 -5.2 0M990.6 1344.6a2.6 2.6 0 1 0 5.2 0a2.6 2.6 0 1 0 -5.2 0M987.6 1321.9a2.6 2.6 0 1 0 5.2 0a2.6 2.6 0 1 0 -5.2 0M983.9 1325.1a2.6 2.6 0 1 0 5.2 0a2.6 2.6 0 1 0 -5.2 0M985.5 1308.5a2.6 2.6 0 1 0 5.2 0a2.6 2.6 0 1 0 -5.2 0M987 1322.4a2.6 2.6 0 1 0 5.2 0a2.6 2.6 0 1 0 -5.2 0M989.8 1320.6a2.6 2.6 0 1 0 5.2 0a2.6 2.6 0 1 0 -5.2 0M995.7 1309.7a2.6 2.6 0 1 0 5.2 0a2.6 2.6 0 1 0 -5.2 0M993.6 1306.9a2.6 2.6 0 1 0 5.2 0a2.6 2.6 0 1 0 -5.2 0M997.9 1340.7a2.6 2.6 0 1 0 5.2 0a2.6 2.6 0 1 0 -5.2 0M997.9 1328.6a2.6 2.6 0 1 0 5.2 0a2.6 2.6 0 1 0 -5.2 0M987.6 1315.6a2.6 2.6 0 1 0 5.2 0a2.6 2.6 0 1 0 -5.2 0M995.9 1302.6a2.6 2.6 0 1 0 5.2 0a2.6 2.6 0 1 0 -5.2 0M988.1 1321a2.6 2.6 0 1 0 5.2 0a2.6 2.6 0 1 0 -5.2 0M984.6 1330.5a2.6 2.6 0 1 0 5.2 0a2.6 2.6 0 1 0 -5.2 0M988 1340.9a2.6 2.6 0 1 0 5.2 0a2.6 2.6 0 1 0 -5.2 0M999.5 1329.3a2.6 2.6 0 1 0 5.2 0a2.6 2.6 0 1 0 -5.2 0M1000.9 1326.2a2.6 2.6 0 1 0 5.2 0a2.6 2.6 0 1 0 -5.2 0M986.2 1320.9a2.6 2.6 0 1 0 5.2 0a2.6 2.6 0 1 0 -5.2 0M1001.3 1337.5a2.6 2.6 0 1 0 5.2 0a2.6 2.6 0 1 0 -5.2 0M993.6 1333.1a2.6 2.6 0 1 0 5.2 0a2.6 2.6 0 1 0 -5.2 0M989.4 1316.3a2.6 2.6 0 1 0 5.2 0a2.6 2.6 0 1 0 -5.2 0M993.1 1332.1a2.6 2.6 0 1 0 5.2 0a2.6 2.6 0 1 0 -5.2 0M991.6 1321.3a2.6 2.6 0 1 0 5.2 0a2.6 2.6 0 1 0 -5.2 0M986 1332a2.6 2.6 0 1 0 5.2 0a2.6 2.6 0 1 0 -5.2 0M987.7 1323a2.6 2.6 0 1 0 5.2 0a2.6 2.6 0 1 0 -5.2 0M993.4 1314.6a2.6 2.6 0 1 0 5.2 0a2.6 2.6 0 1 0 -5.2 0M992.5 1323.5a2.6 2.6 0 1 0 5.2 0a2.6 2.6 0 1 0 -5.2 0M998.3 1314.8a2.6 2.6 0 1 0 5.2 0a2.6 2.6 0 1 0 -5.2 0M992.5 1303.6a2.6 2.6 0 1 0 5.2 0a2.6 2.6 0 1 0 -5.2 0M989.2 1322.2a2.6 2.6 0 1 0 5.2 0a2.6 2.6 0 1 0 -5.2 0M988.7 1320.4a2.6 2.6 0 1 0 5.2 0a2.6 2.6 0 1 0 -5.2 0M994.7 1298.9a2.6 2.6 0 1 0 5.2 0a2.6 2.6 0 1 0 -5.2 0" fill="#FF1A1A"/>
<line x1="988.9" y1="1319" x2="1000.9" y2="1319" stroke="#FF1A1A" stroke-width="1.2"/>
<line x1="994.9" y1="1319" x2="994.9" y2="1321" stroke="#FF1A1A" stroke-width="1.2"/>
<line x1="994.9" y1="1406.3" x2="994.9" y2="1410.3" stroke="#000" stroke-width="1.3"/>
<text x="998.4" y="1418.3" font-size="10" text-anchor="end" font-weight="bold" fill="#000" transform="rotate(-45 998.4 1418.3)">Rap</text>
<path d="M1022.2 1348.8a2.6 2.6 0 1 0 5.2 0a2.6 2.6 0 1 0 -5.2 0M1026.3 1301.9a2.6 2.6 0 1 0 5.2 0a2.6 2.6 0 1 0 -5.2 0M1018.6 1317.5a2.6 2.6 0 1 0 5.2 0a2.6 2.6 0 1 0 -5.2 0M1027 1319.3a2.6 2.6 0 1 0 5.2 0a2.6 2.6 0 1 0 -5.2 0M1023.5 1328.7a2.6 2.6 0 1 0 5.2 0a2.6 2.6 0 1 0 -5.2 0M1014.2 1319.9a2.6 2.6 0 1 0 5.2 0a2.6 2.6 0 1 0 -5.2 0M1020 1318.4a2.6 2.6 0 1 0 5.2 0a2.6 2.6 0 1 0 -5.2 0M1027.4 1328.2a2.6 2.6 0 1 0 5.2 0a2.6 2.6 0 1 0 -5.2 0M1013.4 1333.1a2.6 2.6 0 1 0 5.2 0a2.6 2.6 0 1 0 -5.2 0M1017.8 1323.7a2.6 2.6 0 1 0 5.2 0a2.6 2.6 0 1 0 -5.2 0M1018.2 1310.6a2.6 2.6 0 1 0 5.2 0a2.6 2.6 0 1 0 -5.2 0M1020.3 1315.1a2.6 2.6 0 1 0 5.2 0a2.6 2.6 0 1 0 -5.2 0M1027.5 1315.3a2.6 2.6 0 1 0 5.2 0a2.6 2.6 0 1 0 -5.2 0M1026.5 1316.3a2.6 2.6 0 1 0 5.2 0a2.6 2.6 0 1 0 -5.2 0M1029.8 1311a2.6 2.6 0 1 0 5.2 0a2.6 2.6 0 1 0 -5.2 0M1029.6 1321.1a2.6 2.6 0 1 0 5.2 0a2.6 2.6 0 1 0 -5.2 0M1015 1332.3a2.6 2.6 0 1 0 5.2 0a2.6 2.6 0 1 0 -5.2 0M1023.1 1315.4a2.6 2.6 0 1 0 5.2 0a2.6 2.6 0 1 0 -5.2 0M1013.6 1321.1a2.6 2.6 0 1 0 5.2 0a2.6 2.6 0 1 0 -5.2 0M1027.3 1333.7a2.6 2.6 0 1 0 5.2 0a2.6 2.6 0 1 0 -5.2 0M1028.7 1334.9a2.6 2.6 0 1 0 5.2 0a2.6 2.6 0 1 0 -5.2 0M1026.9 1310.2a2.6 2.6 0 1 0 5.2 0a2.6 2.6 0 1 0 -5.2 0M1025.6 1336.8a2.6 2.6 0 1 0 5.2 0a2.6 2.6 0 1 0 -5.2 0M1014.1 1311.1a2.6 2.6 0 1 0 5.2 0a2.6 2.6 0 1 0 -5.2 0M1014.8 1326.7a2.6 2.6 0 1 0 5.2 0a2.6 2.6 0 1 0 -5.2 0M1016.2 1311.4a2.6 2.6 0 1 0 5.2 0a2.6 2.6 0 1 0 -5.2 0M1027.4 1314.4a2.6 2.6 0 1 0 5.2 0a2.6 2.6 0 1 0 -5.2 0M1030.6 1316.3a2.6 2.6 0 1 0 5.2 0a2.6 2.6 0 1 0 -5.2 0M1015 1314.7a2.6 2.6 0 1 0 5.2 0a2.6 2.6 0 1 0 -5.2 0M1019.4 1316.8a2.6 2.6 0 1 0 5.2 0a2.6 2.6 0 1 0 -5.2 0M1019.4 1307.5a2.6 2.6 0 1 0 5.2 0a2.6 2.6 0 1 0 -5.2 0M1022.6 1330.8a2.6 2.6 0 1 0 5.2 0a2.6 2.6 0 1 0 -5.2 0M1024.8 1326.7a2.6 2.6 0 1 0 5.2 0a2.6 2.6 0 1 0 -5.2 0M1021 1325.8a2.6 2.6 0 1 0 5.2 0a2.6 2.6 0 1 0 -5.2 0M1031.1 1322.8a2.6 2.6 0 1 0 5.2 0a2.6 2.6 0 1 0 -5.2 0M1027.8 1325.8a2.6 2.6 0 1 0 5.2 0a2.6 2.6 0 1 0 -5.2 0M1019.3 1319.1a2.6 2.6 0 1 0 5.2 0a2.6 2.6 0 1 0 -5.2 0M1023.3 1334.5a2.6 2.6 0 1 0 5.2 0a2.6 2.6 0 1 0 -5.2 0M1018.9 1325.1a2.6 2.6 0 1 0 5.2 0a2.6 2.6 0 1 0 -5.2 0M1020.7 1324.4a2.6 2.6 0 1 0 5.2 0a2.6 2.6 0 1 0 -5.2 0M1022.3 1326a2.6 2.6 0 1 0 5.2 0a2.6 2.6 0 1 0 -5.2 0M1025.4 1311.1a2.6 2.6 0 1 0 5.2 0a2.6 2.6 0 1 0 -5.2 0M1026.6 1312.1a2.6 2.6 0 1 0 5.2 0a2.6 2.6 0 1 0 -5.2 0M1017.9 1325.1a2.6 2.6 0 1 0 5.2 0a2.6 2.6 0 1 0 -5.2 0" fill="#000"/>
<line x1="1019" y1="1321.9" x2="1031" y2="1321.9" stroke="#555" stroke-width="1.2"/>
<line x1="1025" y1="1321.9" x2="1025" y2="1323.9" stroke="#555" stroke-width="1.2"/>
<line x1="1025" y1="1406.3" x2="1025" y2="1410.3" stroke="#000" stroke-width="1.3"/>
<text x="1028.5" y="1418.3" font-size="10" text-anchor="end" font-weight="bold" fill="#000" transform="rotate(-45 1028.5 1418.3)">GAA</text>
<line x1="938.3" y1="1260" x2="938.3" y2="1407" stroke="#000" stroke-width="1.4"/>
<line x1="937.6" y1="1406.3" x2="1048.3" y2="1406.3" stroke="#000" stroke-width="1.4"/>
<line x1="934.3" y1="1406.3" x2="938.3" y2="1406.3" stroke="#000" stroke-width="1.2"/>
<text x="933.8" y="1410.1" font-size="10" text-anchor="end" font-weight="bold" fill="#000">0</text>
<line x1="934.3" y1="1357.5" x2="938.3" y2="1357.5" stroke="#000" stroke-width="1.2"/>
<text x="933.8" y="1361.3" font-size="10" text-anchor="end" font-weight="bold" fill="#000">50</text>
<line x1="934.3" y1="1308.8" x2="938.3" y2="1308.8" stroke="#000" stroke-width="1.2"/>
<text x="933.8" y="1312.6" font-size="10" text-anchor="end" font-weight="bold" fill="#000">100</text>
<line x1="934.3" y1="1260" x2="938.3" y2="1260" stroke="#000" stroke-width="1.2"/>
<text x="933.8" y="1263.8" font-size="10" text-anchor="end" font-weight="bold" fill="#000">150</text>
<text x="914.5" y="1333" font-size="9.5" text-anchor="middle" font-weight="bold" fill="#000" transform="rotate(-90 914.5 1333)">Pumping rate (times/min)</text>
<line x1="965" y1="1263.7" x2="991.7" y2="1263.7" stroke="#000" stroke-width="1.5"/>
<text x="978.4" y="1265.5" font-size="12" text-anchor="middle" font-weight="normal" fill="#000">***</text>
<line x1="966.7" y1="1275.3" x2="1026.7" y2="1275.3" stroke="#000" stroke-width="1.5"/>
<text x="996.7" y="1277.5" font-size="12" text-anchor="middle" font-weight="normal" fill="#000">***</text>
<text x="10.4" y="1421.5" font-size="16" text-anchor="start" font-weight="normal" fill="#9B1FE8">ylzx.net</text>
</svg></body></html>
